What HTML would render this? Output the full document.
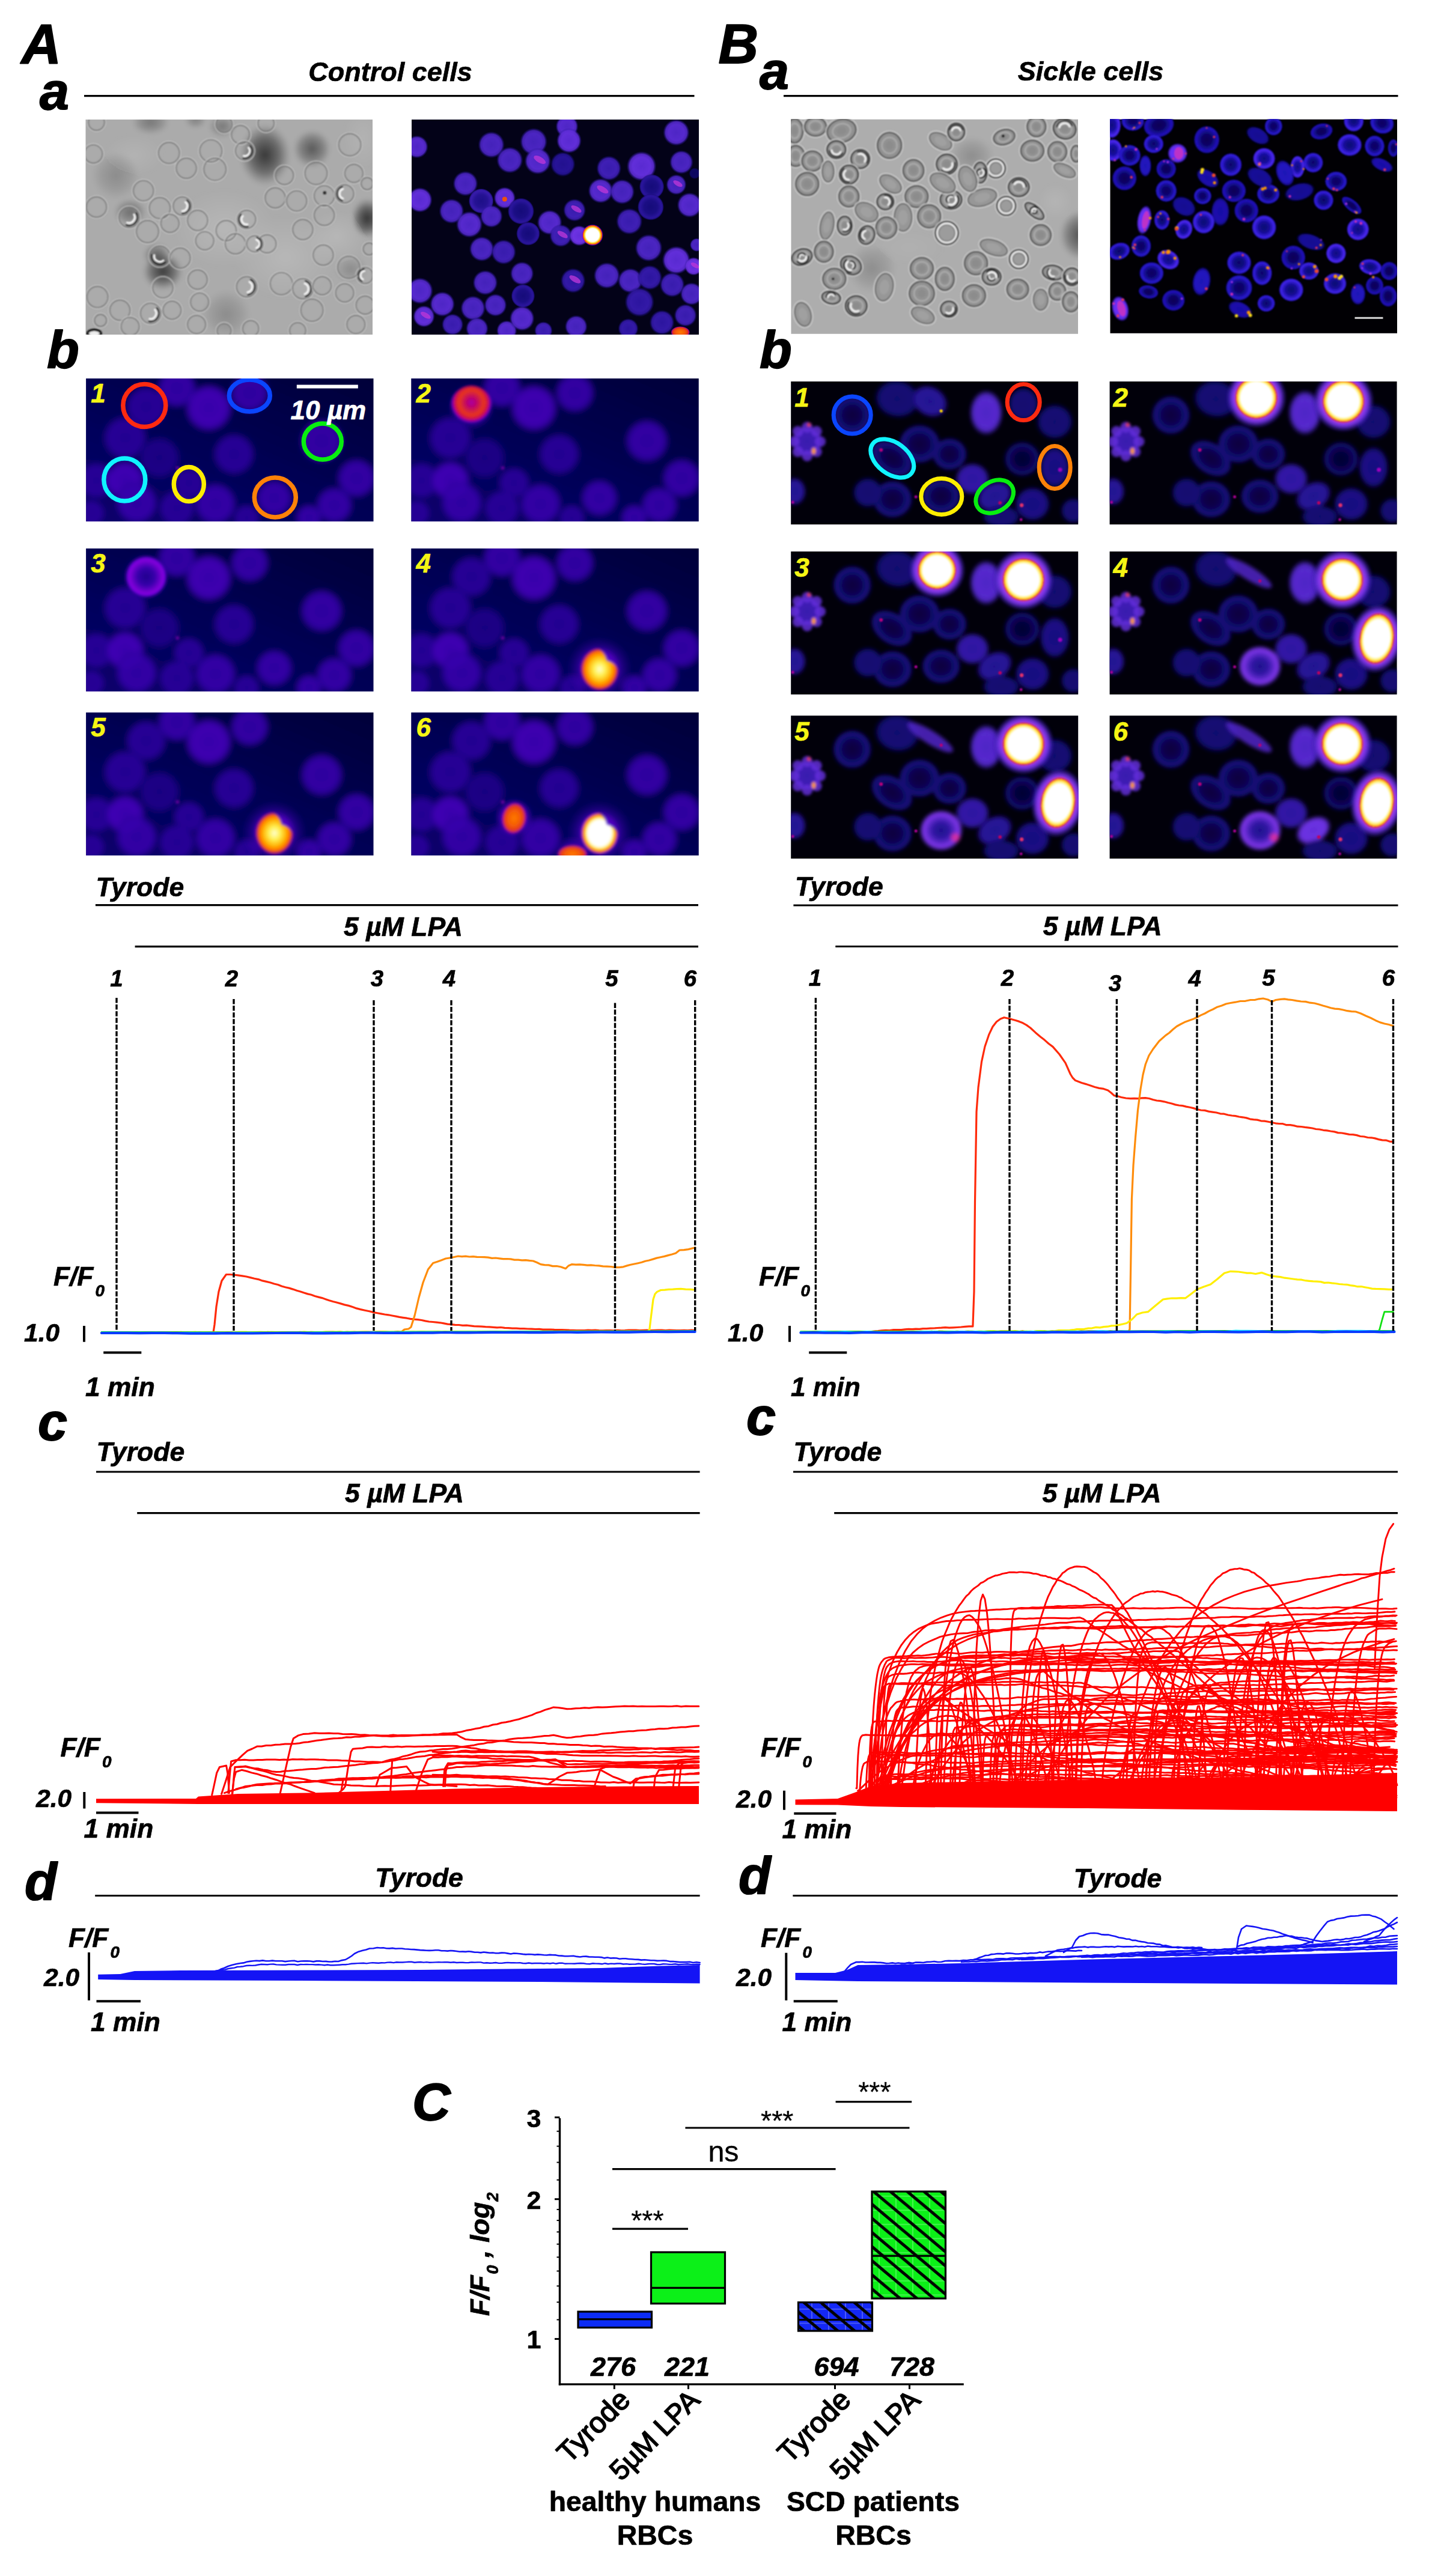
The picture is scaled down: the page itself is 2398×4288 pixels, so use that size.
<!DOCTYPE html>
<html lang="en"><head><meta charset="utf-8"><title>Figure: LPA-induced calcium signals in control and sickle red blood cells</title>
<style>
html,body{margin:0;padding:0;background:#fff;}
body{width:2398px;height:4288px;overflow:hidden;}
svg#fig{display:block;position:absolute;left:0;top:0;}
svg text{font-family:"Liberation Sans",sans-serif;}
</style></head><body>
<svg id="fig" width="2398" height="4288" viewBox="0 0 2398 4288">
<rect width="2398" height="4288" fill="#fff"/>
<defs>
<filter id="bl0_8" x="-20%" y="-20%" width="140%" height="140%"><feGaussianBlur stdDeviation="0.8"/></filter>
<filter id="bl1_2" x="-20%" y="-20%" width="140%" height="140%"><feGaussianBlur stdDeviation="1.2"/></filter>
<filter id="bl2" x="-20%" y="-20%" width="140%" height="140%"><feGaussianBlur stdDeviation="2"/></filter>
<filter id="bl3" x="-20%" y="-20%" width="140%" height="140%"><feGaussianBlur stdDeviation="3"/></filter>
<filter id="bl5" x="-20%" y="-20%" width="140%" height="140%"><feGaussianBlur stdDeviation="5"/></filter>
<filter id="bl8" x="-20%" y="-20%" width="140%" height="140%"><feGaussianBlur stdDeviation="8"/></filter>
<filter id="bl14" x="-20%" y="-20%" width="140%" height="140%"><feGaussianBlur stdDeviation="14"/></filter>
<radialGradient id="fcF14"><stop offset="0" stop-color="#000053" stop-opacity="1"/><stop offset="0.6" stop-color="#000057" stop-opacity="1"/><stop offset="0.8" stop-color="#000055" stop-opacity="0.9"/><stop offset="1" stop-color="#00003e" stop-opacity="0"/></radialGradient>
<radialGradient id="fsF14"><stop offset="0" stop-color="#000049" stop-opacity="1"/><stop offset="0.5" stop-color="#00004e" stop-opacity="1"/><stop offset="0.8" stop-color="#000059" stop-opacity="1"/><stop offset="0.9" stop-color="#000057" stop-opacity="0.9"/><stop offset="1" stop-color="#000035" stop-opacity="0"/></radialGradient>
<radialGradient id="frF14"><stop offset="0" stop-color="#000035" stop-opacity="1"/><stop offset="0.4" stop-color="#00003f" stop-opacity="1"/><stop offset="0.8" stop-color="#00005d" stop-opacity="1"/><stop offset="0.9" stop-color="#000057" stop-opacity="0.9"/><stop offset="1" stop-color="#000035" stop-opacity="0"/></radialGradient>
<radialGradient id="fcF18"><stop offset="0" stop-color="#030063" stop-opacity="1"/><stop offset="0.6" stop-color="#070068" stop-opacity="1"/><stop offset="0.8" stop-color="#050066" stop-opacity="0.9"/><stop offset="1" stop-color="#000049" stop-opacity="0"/></radialGradient>
<radialGradient id="fsF18"><stop offset="0" stop-color="#000057" stop-opacity="1"/><stop offset="0.5" stop-color="#00005d" stop-opacity="1"/><stop offset="0.8" stop-color="#09006b" stop-opacity="1"/><stop offset="0.9" stop-color="#070068" stop-opacity="0.9"/><stop offset="1" stop-color="#000041" stop-opacity="0"/></radialGradient>
<radialGradient id="frF18"><stop offset="0" stop-color="#000041" stop-opacity="1"/><stop offset="0.4" stop-color="#00004a" stop-opacity="1"/><stop offset="0.8" stop-color="#0c0070" stop-opacity="1"/><stop offset="0.9" stop-color="#070068" stop-opacity="0.9"/><stop offset="1" stop-color="#000041" stop-opacity="0"/></radialGradient>
<radialGradient id="fcF22"><stop offset="0" stop-color="#0f0073" stop-opacity="1"/><stop offset="0.6" stop-color="#130079" stop-opacity="1"/><stop offset="0.8" stop-color="#110076" stop-opacity="0.9"/><stop offset="1" stop-color="#000053" stop-opacity="0"/></radialGradient>
<radialGradient id="fsF22"><stop offset="0" stop-color="#040064" stop-opacity="1"/><stop offset="0.5" stop-color="#09006c" stop-opacity="1"/><stop offset="0.8" stop-color="#15007d" stop-opacity="1"/><stop offset="0.9" stop-color="#130079" stop-opacity="0.9"/><stop offset="1" stop-color="#00004a" stop-opacity="0"/></radialGradient>
<radialGradient id="frF22"><stop offset="0" stop-color="#00004a" stop-opacity="1"/><stop offset="0.4" stop-color="#000055" stop-opacity="1"/><stop offset="0.8" stop-color="#190082" stop-opacity="1"/><stop offset="0.9" stop-color="#130079" stop-opacity="0.9"/><stop offset="1" stop-color="#00004a" stop-opacity="0"/></radialGradient>
<radialGradient id="fcF26"><stop offset="0" stop-color="#1a0083" stop-opacity="1"/><stop offset="0.6" stop-color="#1f008a" stop-opacity="1"/><stop offset="0.8" stop-color="#1c0087" stop-opacity="0.9"/><stop offset="1" stop-color="#00005e" stop-opacity="0"/></radialGradient>
<radialGradient id="fsF26"><stop offset="0" stop-color="#0d0072" stop-opacity="1"/><stop offset="0.5" stop-color="#14007b" stop-opacity="1"/><stop offset="0.8" stop-color="#22008f" stop-opacity="1"/><stop offset="0.9" stop-color="#1f008a" stop-opacity="0.9"/><stop offset="1" stop-color="#000052" stop-opacity="0"/></radialGradient>
<radialGradient id="frF26"><stop offset="0" stop-color="#000052" stop-opacity="1"/><stop offset="0.4" stop-color="#010060" stop-opacity="1"/><stop offset="0.8" stop-color="#260096" stop-opacity="1"/><stop offset="0.9" stop-color="#1f008a" stop-opacity="0.9"/><stop offset="1" stop-color="#000052" stop-opacity="0"/></radialGradient>
<radialGradient id="fcF30"><stop offset="0" stop-color="#250094" stop-opacity="1"/><stop offset="0.6" stop-color="#2b009c" stop-opacity="1"/><stop offset="0.8" stop-color="#280098" stop-opacity="0.9"/><stop offset="1" stop-color="#070068" stop-opacity="0"/></radialGradient>
<radialGradient id="fsF30"><stop offset="0" stop-color="#17007f" stop-opacity="1"/><stop offset="0.5" stop-color="#1e0089" stop-opacity="1"/><stop offset="0.8" stop-color="#2e00a1" stop-opacity="1"/><stop offset="0.9" stop-color="#2b009c" stop-opacity="0.9"/><stop offset="1" stop-color="#00005b" stop-opacity="0"/></radialGradient>
<radialGradient id="frF30"><stop offset="0" stop-color="#00005b" stop-opacity="1"/><stop offset="0.4" stop-color="#08006b" stop-opacity="1"/><stop offset="0.8" stop-color="#3400a8" stop-opacity="1"/><stop offset="0.9" stop-color="#2b009c" stop-opacity="0.9"/><stop offset="1" stop-color="#00005b" stop-opacity="0"/></radialGradient>
<radialGradient id="fcF34"><stop offset="0" stop-color="#3000a4" stop-opacity="1"/><stop offset="0.6" stop-color="#3700ab" stop-opacity="1"/><stop offset="0.8" stop-color="#3300a8" stop-opacity="0.9"/><stop offset="1" stop-color="#0e0072" stop-opacity="0"/></radialGradient>
<radialGradient id="fsF34"><stop offset="0" stop-color="#20008d" stop-opacity="1"/><stop offset="0.5" stop-color="#280098" stop-opacity="1"/><stop offset="0.8" stop-color="#3b00b0" stop-opacity="1"/><stop offset="0.9" stop-color="#3700ab" stop-opacity="0.9"/><stop offset="1" stop-color="#040064" stop-opacity="0"/></radialGradient>
<radialGradient id="frF34"><stop offset="0" stop-color="#040064" stop-opacity="1"/><stop offset="0.4" stop-color="#100075" stop-opacity="1"/><stop offset="0.8" stop-color="#4100b7" stop-opacity="1"/><stop offset="0.9" stop-color="#3700ab" stop-opacity="0.9"/><stop offset="1" stop-color="#040064" stop-opacity="0"/></radialGradient>
<radialGradient id="fcF38"><stop offset="0" stop-color="#3c00b1" stop-opacity="1"/><stop offset="0.6" stop-color="#4300b9" stop-opacity="1"/><stop offset="0.8" stop-color="#3f00b5" stop-opacity="0.9"/><stop offset="1" stop-color="#15007c" stop-opacity="0"/></radialGradient>
<radialGradient id="fsF38"><stop offset="0" stop-color="#29009a" stop-opacity="1"/><stop offset="0.5" stop-color="#3300a7" stop-opacity="1"/><stop offset="0.8" stop-color="#4700be" stop-opacity="1"/><stop offset="0.9" stop-color="#4300b9" stop-opacity="0.9"/><stop offset="1" stop-color="#0a006c" stop-opacity="0"/></radialGradient>
<radialGradient id="frF38"><stop offset="0" stop-color="#0a006c" stop-opacity="1"/><stop offset="0.4" stop-color="#170080" stop-opacity="1"/><stop offset="0.8" stop-color="#4e00c6" stop-opacity="1"/><stop offset="0.9" stop-color="#4300b9" stop-opacity="0.9"/><stop offset="1" stop-color="#0a006c" stop-opacity="0"/></radialGradient>
<radialGradient id="fcF42"><stop offset="0" stop-color="#4700be" stop-opacity="1"/><stop offset="0.6" stop-color="#4f00c7" stop-opacity="1"/><stop offset="0.8" stop-color="#4b00c2" stop-opacity="0.9"/><stop offset="1" stop-color="#1c0087" stop-opacity="0"/></radialGradient>
<radialGradient id="fsF42"><stop offset="0" stop-color="#3300a7" stop-opacity="1"/><stop offset="0.5" stop-color="#3d00b2" stop-opacity="1"/><stop offset="0.8" stop-color="#5400cc" stop-opacity="1"/><stop offset="0.9" stop-color="#4f00c7" stop-opacity="0.9"/><stop offset="1" stop-color="#100075" stop-opacity="0"/></radialGradient>
<radialGradient id="frF42"><stop offset="0" stop-color="#100075" stop-opacity="1"/><stop offset="0.4" stop-color="#1f008a" stop-opacity="1"/><stop offset="0.8" stop-color="#5c00d5" stop-opacity="1"/><stop offset="0.9" stop-color="#4f00c7" stop-opacity="0.9"/><stop offset="1" stop-color="#100075" stop-opacity="0"/></radialGradient>
<radialGradient id="fcF46"><stop offset="0" stop-color="#5300cb" stop-opacity="1"/><stop offset="0.6" stop-color="#5b00d5" stop-opacity="1"/><stop offset="0.8" stop-color="#5700d0" stop-opacity="0.9"/><stop offset="1" stop-color="#230091" stop-opacity="0"/></radialGradient>
<radialGradient id="fsF46"><stop offset="0" stop-color="#3c00b2" stop-opacity="1"/><stop offset="0.5" stop-color="#4700be" stop-opacity="1"/><stop offset="0.8" stop-color="#6100db" stop-opacity="1"/><stop offset="0.9" stop-color="#5b00d5" stop-opacity="0.9"/><stop offset="1" stop-color="#16007d" stop-opacity="0"/></radialGradient>
<radialGradient id="frF46"><stop offset="0" stop-color="#16007d" stop-opacity="1"/><stop offset="0.4" stop-color="#260095" stop-opacity="1"/><stop offset="0.8" stop-color="#6900de" stop-opacity="1"/><stop offset="0.9" stop-color="#5b00d5" stop-opacity="0.9"/><stop offset="1" stop-color="#16007d" stop-opacity="0"/></radialGradient>
<radialGradient id="fcF50"><stop offset="0" stop-color="#5e00d8" stop-opacity="1"/><stop offset="0.6" stop-color="#6800dd" stop-opacity="1"/><stop offset="0.8" stop-color="#6300dc" stop-opacity="0.9"/><stop offset="1" stop-color="#2b009c" stop-opacity="0"/></radialGradient>
<radialGradient id="fsF50"><stop offset="0" stop-color="#4600bc" stop-opacity="1"/><stop offset="0.5" stop-color="#5200ca" stop-opacity="1"/><stop offset="0.8" stop-color="#6e00df" stop-opacity="1"/><stop offset="0.9" stop-color="#6800dd" stop-opacity="0.9"/><stop offset="1" stop-color="#1c0086" stop-opacity="0"/></radialGradient>
<radialGradient id="frF50"><stop offset="0" stop-color="#1c0086" stop-opacity="1"/><stop offset="0.4" stop-color="#2e00a0" stop-opacity="1"/><stop offset="0.8" stop-color="#7700e2" stop-opacity="1"/><stop offset="0.9" stop-color="#6800dd" stop-opacity="0.9"/><stop offset="1" stop-color="#1c0086" stop-opacity="0"/></radialGradient>
<radialGradient id="fcF54"><stop offset="0" stop-color="#6a00de" stop-opacity="1"/><stop offset="0.6" stop-color="#7400e1" stop-opacity="1"/><stop offset="0.8" stop-color="#6f00df" stop-opacity="0.9"/><stop offset="1" stop-color="#3200a6" stop-opacity="0"/></radialGradient>
<radialGradient id="fsF54"><stop offset="0" stop-color="#4f00c7" stop-opacity="1"/><stop offset="0.5" stop-color="#5d00d6" stop-opacity="1"/><stop offset="0.8" stop-color="#7a00e2" stop-opacity="1"/><stop offset="0.9" stop-color="#7400e1" stop-opacity="0.9"/><stop offset="1" stop-color="#22008f" stop-opacity="0"/></radialGradient>
<radialGradient id="frF54"><stop offset="0" stop-color="#22008f" stop-opacity="1"/><stop offset="0.4" stop-color="#3500a9" stop-opacity="1"/><stop offset="0.8" stop-color="#8400db" stop-opacity="1"/><stop offset="0.9" stop-color="#7400e1" stop-opacity="0.9"/><stop offset="1" stop-color="#22008f" stop-opacity="0"/></radialGradient>
<radialGradient id="fcF58"><stop offset="0" stop-color="#7500e1" stop-opacity="1"/><stop offset="0.6" stop-color="#8000de" stop-opacity="1"/><stop offset="0.8" stop-color="#7a00e2" stop-opacity="0.9"/><stop offset="1" stop-color="#3900ae" stop-opacity="0"/></radialGradient>
<radialGradient id="fsF58"><stop offset="0" stop-color="#5900d2" stop-opacity="1"/><stop offset="0.5" stop-color="#6700dd" stop-opacity="1"/><stop offset="0.8" stop-color="#8600d9" stop-opacity="1"/><stop offset="0.9" stop-color="#8000de" stop-opacity="0.9"/><stop offset="1" stop-color="#280097" stop-opacity="0"/></radialGradient>
<radialGradient id="frF58"><stop offset="0" stop-color="#280097" stop-opacity="1"/><stop offset="0.4" stop-color="#3c00b2" stop-opacity="1"/><stop offset="0.8" stop-color="#9100d2" stop-opacity="1"/><stop offset="0.9" stop-color="#8000de" stop-opacity="0.9"/><stop offset="1" stop-color="#280097" stop-opacity="0"/></radialGradient>
<radialGradient id="fcF62"><stop offset="0" stop-color="#8000de" stop-opacity="1"/><stop offset="0.6" stop-color="#8c00d6" stop-opacity="1"/><stop offset="0.8" stop-color="#8600da" stop-opacity="0.9"/><stop offset="1" stop-color="#4000b6" stop-opacity="0"/></radialGradient>
<radialGradient id="fsF62"><stop offset="0" stop-color="#6300dc" stop-opacity="1"/><stop offset="0.5" stop-color="#7100e0" stop-opacity="1"/><stop offset="0.8" stop-color="#9200d0" stop-opacity="1"/><stop offset="0.9" stop-color="#8c00d6" stop-opacity="0.9"/><stop offset="1" stop-color="#2e00a0" stop-opacity="0"/></radialGradient>
<radialGradient id="frF62"><stop offset="0" stop-color="#2e00a0" stop-opacity="1"/><stop offset="0.4" stop-color="#4400ba" stop-opacity="1"/><stop offset="0.8" stop-color="#9a00c2" stop-opacity="1"/><stop offset="0.9" stop-color="#8c00d6" stop-opacity="0.9"/><stop offset="1" stop-color="#2e00a0" stop-opacity="0"/></radialGradient>
<radialGradient id="fcF70"><stop offset="0" stop-color="#9500cb" stop-opacity="1"/><stop offset="0.6" stop-color="#9e00bc" stop-opacity="1"/><stop offset="0.8" stop-color="#9900c3" stop-opacity="0.9"/><stop offset="1" stop-color="#4f00c7" stop-opacity="0"/></radialGradient>
<radialGradient id="fsF70"><stop offset="0" stop-color="#7500e1" stop-opacity="1"/><stop offset="0.5" stop-color="#8600da" stop-opacity="1"/><stop offset="0.8" stop-color="#a300b2" stop-opacity="1"/><stop offset="0.9" stop-color="#9e00bc" stop-opacity="0.9"/><stop offset="1" stop-color="#3a00af" stop-opacity="0"/></radialGradient>
<radialGradient id="frF70"><stop offset="0" stop-color="#3a00af" stop-opacity="1"/><stop offset="0.4" stop-color="#5300cb" stop-opacity="1"/><stop offset="0.8" stop-color="#a800a2" stop-opacity="1"/><stop offset="0.9" stop-color="#9e00bc" stop-opacity="0.9"/><stop offset="1" stop-color="#3a00af" stop-opacity="0"/></radialGradient>
<radialGradient id="fcP14"><stop offset="0" stop-color="#07044a" stop-opacity="1"/><stop offset="0.6" stop-color="#08054e" stop-opacity="1"/><stop offset="0.8" stop-color="#08044c" stop-opacity="0.9"/><stop offset="1" stop-color="#04022f" stop-opacity="0"/></radialGradient>
<radialGradient id="fsP14"><stop offset="0" stop-color="#06033d" stop-opacity="1"/><stop offset="0.5" stop-color="#070443" stop-opacity="1"/><stop offset="0.8" stop-color="#080551" stop-opacity="1"/><stop offset="0.9" stop-color="#08054e" stop-opacity="0.9"/><stop offset="1" stop-color="#030128" stop-opacity="0"/></radialGradient>
<radialGradient id="frP14"><stop offset="0" stop-color="#030128" stop-opacity="1"/><stop offset="0.4" stop-color="#040230" stop-opacity="1"/><stop offset="0.8" stop-color="#090556" stop-opacity="1"/><stop offset="0.9" stop-color="#08054e" stop-opacity="0.9"/><stop offset="1" stop-color="#030128" stop-opacity="0"/></radialGradient>
<radialGradient id="fcP18"><stop offset="0" stop-color="#0b065e" stop-opacity="1"/><stop offset="0.6" stop-color="#0d0762" stop-opacity="1"/><stop offset="0.8" stop-color="#0c0760" stop-opacity="0.9"/><stop offset="1" stop-color="#06033c" stop-opacity="0"/></radialGradient>
<radialGradient id="fsP18"><stop offset="0" stop-color="#08054e" stop-opacity="1"/><stop offset="0.5" stop-color="#090557" stop-opacity="1"/><stop offset="0.8" stop-color="#0e0865" stop-opacity="1"/><stop offset="0.9" stop-color="#0d0762" stop-opacity="0.9"/><stop offset="1" stop-color="#040232" stop-opacity="0"/></radialGradient>
<radialGradient id="frP18"><stop offset="0" stop-color="#040232" stop-opacity="1"/><stop offset="0.4" stop-color="#06033e" stop-opacity="1"/><stop offset="0.8" stop-color="#0f086a" stop-opacity="1"/><stop offset="0.9" stop-color="#0d0762" stop-opacity="0.9"/><stop offset="1" stop-color="#040232" stop-opacity="0"/></radialGradient>
<radialGradient id="fcP22"><stop offset="0" stop-color="#11096e" stop-opacity="1"/><stop offset="0.6" stop-color="#130a74" stop-opacity="1"/><stop offset="0.8" stop-color="#120a71" stop-opacity="0.9"/><stop offset="1" stop-color="#07044a" stop-opacity="0"/></radialGradient>
<radialGradient id="fsP22"><stop offset="0" stop-color="#0b065f" stop-opacity="1"/><stop offset="0.5" stop-color="#0e0866" stop-opacity="1"/><stop offset="0.8" stop-color="#140b78" stop-opacity="1"/><stop offset="0.9" stop-color="#130a74" stop-opacity="0.9"/><stop offset="1" stop-color="#06033d" stop-opacity="0"/></radialGradient>
<radialGradient id="frP22"><stop offset="0" stop-color="#06033d" stop-opacity="1"/><stop offset="0.4" stop-color="#08044c" stop-opacity="1"/><stop offset="0.8" stop-color="#160c7d" stop-opacity="1"/><stop offset="0.9" stop-color="#130a74" stop-opacity="0.9"/><stop offset="1" stop-color="#06033d" stop-opacity="0"/></radialGradient>
<radialGradient id="fcP26"><stop offset="0" stop-color="#170c7e" stop-opacity="1"/><stop offset="0.6" stop-color="#1b0e85" stop-opacity="1"/><stop offset="0.8" stop-color="#190d82" stop-opacity="0.9"/><stop offset="1" stop-color="#090557" stop-opacity="0"/></radialGradient>
<radialGradient id="fsP26"><stop offset="0" stop-color="#10096c" stop-opacity="1"/><stop offset="0.5" stop-color="#130a75" stop-opacity="1"/><stop offset="0.8" stop-color="#1e0f8a" stop-opacity="1"/><stop offset="0.9" stop-color="#1b0e85" stop-opacity="0.9"/><stop offset="1" stop-color="#070449" stop-opacity="0"/></radialGradient>
<radialGradient id="frP26"><stop offset="0" stop-color="#070449" stop-opacity="1"/><stop offset="0.4" stop-color="#0a065a" stop-opacity="1"/><stop offset="0.8" stop-color="#231191" stop-opacity="1"/><stop offset="0.9" stop-color="#1b0e85" stop-opacity="0.9"/><stop offset="1" stop-color="#070449" stop-opacity="0"/></radialGradient>
<radialGradient id="fcP30"><stop offset="0" stop-color="#22118f" stop-opacity="1"/><stop offset="0.6" stop-color="#271397" stop-opacity="1"/><stop offset="0.8" stop-color="#241293" stop-opacity="0.9"/><stop offset="1" stop-color="#0d0762" stop-opacity="0"/></radialGradient>
<radialGradient id="fsP30"><stop offset="0" stop-color="#150b7a" stop-opacity="1"/><stop offset="0.5" stop-color="#1b0e84" stop-opacity="1"/><stop offset="0.8" stop-color="#2a159c" stop-opacity="1"/><stop offset="0.9" stop-color="#271397" stop-opacity="0.9"/><stop offset="1" stop-color="#090554" stop-opacity="0"/></radialGradient>
<radialGradient id="frP30"><stop offset="0" stop-color="#090554" stop-opacity="1"/><stop offset="0.4" stop-color="#0d0765" stop-opacity="1"/><stop offset="0.8" stop-color="#3017a3" stop-opacity="1"/><stop offset="0.9" stop-color="#271397" stop-opacity="0.9"/><stop offset="1" stop-color="#090554" stop-opacity="0"/></radialGradient>
<radialGradient id="fcP34"><stop offset="0" stop-color="#2c159f" stop-opacity="1"/><stop offset="0.6" stop-color="#3319a7" stop-opacity="1"/><stop offset="0.8" stop-color="#3017a3" stop-opacity="0.9"/><stop offset="1" stop-color="#10096d" stop-opacity="0"/></radialGradient>
<radialGradient id="fsP34"><stop offset="0" stop-color="#1d0f88" stop-opacity="1"/><stop offset="0.5" stop-color="#251293" stop-opacity="1"/><stop offset="0.8" stop-color="#371bab" stop-opacity="1"/><stop offset="0.9" stop-color="#3319a7" stop-opacity="0.9"/><stop offset="1" stop-color="#0b065e" stop-opacity="0"/></radialGradient>
<radialGradient id="frP34"><stop offset="0" stop-color="#0b065e" stop-opacity="1"/><stop offset="0.4" stop-color="#110970" stop-opacity="1"/><stop offset="0.8" stop-color="#3d1eb2" stop-opacity="1"/><stop offset="0.9" stop-color="#3319a7" stop-opacity="0.9"/><stop offset="1" stop-color="#0b065e" stop-opacity="0"/></radialGradient>
<radialGradient id="fcP38"><stop offset="0" stop-color="#381cad" stop-opacity="1"/><stop offset="0.6" stop-color="#3f1fb5" stop-opacity="1"/><stop offset="0.8" stop-color="#3c1db1" stop-opacity="0.9"/><stop offset="1" stop-color="#140b77" stop-opacity="0"/></radialGradient>
<radialGradient id="fsP38"><stop offset="0" stop-color="#261395" stop-opacity="1"/><stop offset="0.5" stop-color="#2f17a2" stop-opacity="1"/><stop offset="0.8" stop-color="#4422ba" stop-opacity="1"/><stop offset="0.9" stop-color="#3f1fb5" stop-opacity="0.9"/><stop offset="1" stop-color="#0e0867" stop-opacity="0"/></radialGradient>
<radialGradient id="frP38"><stop offset="0" stop-color="#0e0867" stop-opacity="1"/><stop offset="0.4" stop-color="#150b7b" stop-opacity="1"/><stop offset="0.8" stop-color="#4a25c1" stop-opacity="1"/><stop offset="0.9" stop-color="#3f1fb5" stop-opacity="0.9"/><stop offset="1" stop-color="#0e0867" stop-opacity="0"/></radialGradient>
<radialGradient id="fcP42"><stop offset="0" stop-color="#4422ba" stop-opacity="1"/><stop offset="0.6" stop-color="#4b25c2" stop-opacity="1"/><stop offset="0.8" stop-color="#4823be" stop-opacity="0.9"/><stop offset="1" stop-color="#190d82" stop-opacity="0"/></radialGradient>
<radialGradient id="fsP42"><stop offset="0" stop-color="#2f17a2" stop-opacity="1"/><stop offset="0.5" stop-color="#391cae" stop-opacity="1"/><stop offset="0.8" stop-color="#5027c7" stop-opacity="1"/><stop offset="0.9" stop-color="#4b25c2" stop-opacity="0.9"/><stop offset="1" stop-color="#11096f" stop-opacity="0"/></radialGradient>
<radialGradient id="frP42"><stop offset="0" stop-color="#11096f" stop-opacity="1"/><stop offset="0.4" stop-color="#1b0e85" stop-opacity="1"/><stop offset="0.8" stop-color="#5729ce" stop-opacity="1"/><stop offset="0.9" stop-color="#4b25c2" stop-opacity="0.9"/><stop offset="1" stop-color="#11096f" stop-opacity="0"/></radialGradient>
<radialGradient id="fcP46"><stop offset="0" stop-color="#4e26c5" stop-opacity="1"/><stop offset="0.6" stop-color="#5629ce" stop-opacity="1"/><stop offset="0.8" stop-color="#5228c9" stop-opacity="0.9"/><stop offset="1" stop-color="#20108c" stop-opacity="0"/></radialGradient>
<radialGradient id="fsP46"><stop offset="0" stop-color="#391cad" stop-opacity="1"/><stop offset="0.5" stop-color="#4422ba" stop-opacity="1"/><stop offset="0.8" stop-color="#5b2bd3" stop-opacity="1"/><stop offset="0.9" stop-color="#5629ce" stop-opacity="0.9"/><stop offset="1" stop-color="#140b78" stop-opacity="0"/></radialGradient>
<radialGradient id="frP46"><stop offset="0" stop-color="#140b78" stop-opacity="1"/><stop offset="0.4" stop-color="#221190" stop-opacity="1"/><stop offset="0.8" stop-color="#632eda" stop-opacity="1"/><stop offset="0.9" stop-color="#5629ce" stop-opacity="0.9"/><stop offset="1" stop-color="#140b78" stop-opacity="0"/></radialGradient>
<radialGradient id="fcP50"><stop offset="0" stop-color="#592ad1" stop-opacity="1"/><stop offset="0.6" stop-color="#612ed9" stop-opacity="1"/><stop offset="0.8" stop-color="#5d2cd5" stop-opacity="0.9"/><stop offset="1" stop-color="#271397" stop-opacity="0"/></radialGradient>
<radialGradient id="fsP50"><stop offset="0" stop-color="#4221b8" stop-opacity="1"/><stop offset="0.5" stop-color="#4e26c5" stop-opacity="1"/><stop offset="0.8" stop-color="#6730de" stop-opacity="1"/><stop offset="0.9" stop-color="#612ed9" stop-opacity="0.9"/><stop offset="1" stop-color="#180d81" stop-opacity="0"/></radialGradient>
<radialGradient id="frP50"><stop offset="0" stop-color="#180d81" stop-opacity="1"/><stop offset="0.4" stop-color="#2a149b" stop-opacity="1"/><stop offset="0.8" stop-color="#7033e5" stop-opacity="1"/><stop offset="0.9" stop-color="#612ed9" stop-opacity="0.9"/><stop offset="1" stop-color="#180d81" stop-opacity="0"/></radialGradient>
<radialGradient id="fcP54"><stop offset="0" stop-color="#632eda" stop-opacity="1"/><stop offset="0.6" stop-color="#6d32e3" stop-opacity="1"/><stop offset="0.8" stop-color="#6830de" stop-opacity="0.9"/><stop offset="1" stop-color="#2e16a1" stop-opacity="0"/></radialGradient>
<radialGradient id="fsP54"><stop offset="0" stop-color="#4b25c2" stop-opacity="1"/><stop offset="0.5" stop-color="#572acf" stop-opacity="1"/><stop offset="0.8" stop-color="#7334e8" stop-opacity="1"/><stop offset="0.9" stop-color="#6d32e3" stop-opacity="0.9"/><stop offset="1" stop-color="#1e0f8a" stop-opacity="0"/></radialGradient>
<radialGradient id="frP54"><stop offset="0" stop-color="#1e0f8a" stop-opacity="1"/><stop offset="0.4" stop-color="#3118a5" stop-opacity="1"/><stop offset="0.8" stop-color="#8136e9" stop-opacity="1"/><stop offset="0.9" stop-color="#6d32e3" stop-opacity="0.9"/><stop offset="1" stop-color="#1e0f8a" stop-opacity="0"/></radialGradient>
<radialGradient id="fcP58"><stop offset="0" stop-color="#6e32e4" stop-opacity="1"/><stop offset="0.6" stop-color="#7b35e8" stop-opacity="1"/><stop offset="0.8" stop-color="#7434e8" stop-opacity="0.9"/><stop offset="1" stop-color="#351aa9" stop-opacity="0"/></radialGradient>
<radialGradient id="fsP58"><stop offset="0" stop-color="#5428cb" stop-opacity="1"/><stop offset="0.5" stop-color="#612dd8" stop-opacity="1"/><stop offset="0.8" stop-color="#8537e9" stop-opacity="1"/><stop offset="0.9" stop-color="#7b35e8" stop-opacity="0.9"/><stop offset="1" stop-color="#241292" stop-opacity="0"/></radialGradient>
<radialGradient id="frP58"><stop offset="0" stop-color="#241292" stop-opacity="1"/><stop offset="0.4" stop-color="#391cad" stop-opacity="1"/><stop offset="0.8" stop-color="#9539ea" stop-opacity="1"/><stop offset="0.9" stop-color="#7b35e8" stop-opacity="0.9"/><stop offset="1" stop-color="#241292" stop-opacity="0"/></radialGradient>
<radialGradient id="fcP62"><stop offset="0" stop-color="#7c35e8" stop-opacity="1"/><stop offset="0.6" stop-color="#8d38ea" stop-opacity="1"/><stop offset="0.8" stop-color="#8537e9" stop-opacity="0.9"/><stop offset="1" stop-color="#3d1eb2" stop-opacity="0"/></radialGradient>
<radialGradient id="fsP62"><stop offset="0" stop-color="#5d2cd4" stop-opacity="1"/><stop offset="0.5" stop-color="#6b31e1" stop-opacity="1"/><stop offset="0.8" stop-color="#9839e9" stop-opacity="1"/><stop offset="0.9" stop-color="#8d38ea" stop-opacity="0.9"/><stop offset="1" stop-color="#2a149b" stop-opacity="0"/></radialGradient>
<radialGradient id="frP62"><stop offset="0" stop-color="#2a149b" stop-opacity="1"/><stop offset="0.4" stop-color="#4120b6" stop-opacity="1"/><stop offset="0.8" stop-color="#a838e0" stop-opacity="1"/><stop offset="0.9" stop-color="#8d38ea" stop-opacity="0.9"/><stop offset="1" stop-color="#2a149b" stop-opacity="0"/></radialGradient>
<radialGradient id="fcP70"><stop offset="0" stop-color="#9d39e6" stop-opacity="1"/><stop offset="0.6" stop-color="#b037dc" stop-opacity="1"/><stop offset="0.8" stop-color="#a738e1" stop-opacity="0.9"/><stop offset="1" stop-color="#4b25c2" stop-opacity="0"/></radialGradient>
<radialGradient id="fsP70"><stop offset="0" stop-color="#6e32e4" stop-opacity="1"/><stop offset="0.5" stop-color="#8537e9" stop-opacity="1"/><stop offset="0.8" stop-color="#bb36d3" stop-opacity="1"/><stop offset="0.9" stop-color="#b037dc" stop-opacity="0.9"/><stop offset="1" stop-color="#361aaa" stop-opacity="0"/></radialGradient>
<radialGradient id="frP70"><stop offset="0" stop-color="#361aaa" stop-opacity="1"/><stop offset="0.4" stop-color="#4f26c6" stop-opacity="1"/><stop offset="0.8" stop-color="#c833c1" stop-opacity="1"/><stop offset="0.9" stop-color="#b037dc" stop-opacity="0.9"/><stop offset="1" stop-color="#361aaa" stop-opacity="0"/></radialGradient>
<radialGradient id="fcB14"><stop offset="0" stop-color="#060241" stop-opacity="1"/><stop offset="0.6" stop-color="#060346" stop-opacity="1"/><stop offset="0.8" stop-color="#060343" stop-opacity="0.9"/><stop offset="1" stop-color="#03012a" stop-opacity="0"/></radialGradient>
<radialGradient id="fsB14"><stop offset="0" stop-color="#040236" stop-opacity="1"/><stop offset="0.5" stop-color="#05023c" stop-opacity="1"/><stop offset="0.8" stop-color="#070348" stop-opacity="1"/><stop offset="0.9" stop-color="#060346" stop-opacity="0.9"/><stop offset="1" stop-color="#020023" stop-opacity="0"/></radialGradient>
<radialGradient id="frB14"><stop offset="0" stop-color="#020023" stop-opacity="1"/><stop offset="0.4" stop-color="#03012b" stop-opacity="1"/><stop offset="0.8" stop-color="#07034d" stop-opacity="1"/><stop offset="0.9" stop-color="#060346" stop-opacity="0.9"/><stop offset="1" stop-color="#020023" stop-opacity="0"/></radialGradient>
<radialGradient id="fcB18"><stop offset="0" stop-color="#080454" stop-opacity="1"/><stop offset="0.6" stop-color="#09055a" stop-opacity="1"/><stop offset="0.8" stop-color="#090457" stop-opacity="0.9"/><stop offset="1" stop-color="#040235" stop-opacity="0"/></radialGradient>
<radialGradient id="fsB18"><stop offset="0" stop-color="#060346" stop-opacity="1"/><stop offset="0.5" stop-color="#07034d" stop-opacity="1"/><stop offset="0.8" stop-color="#0a055d" stop-opacity="1"/><stop offset="0.9" stop-color="#09055a" stop-opacity="0.9"/><stop offset="1" stop-color="#03012d" stop-opacity="0"/></radialGradient>
<radialGradient id="frB18"><stop offset="0" stop-color="#03012d" stop-opacity="1"/><stop offset="0.4" stop-color="#040237" stop-opacity="1"/><stop offset="0.8" stop-color="#0b0563" stop-opacity="1"/><stop offset="0.9" stop-color="#09055a" stop-opacity="0.9"/><stop offset="1" stop-color="#03012d" stop-opacity="0"/></radialGradient>
<radialGradient id="fcB22"><stop offset="0" stop-color="#0c0667" stop-opacity="1"/><stop offset="0.6" stop-color="#0d076e" stop-opacity="1"/><stop offset="0.8" stop-color="#0c066a" stop-opacity="0.9"/><stop offset="1" stop-color="#060242" stop-opacity="0"/></radialGradient>
<radialGradient id="fsB22"><stop offset="0" stop-color="#090455" stop-opacity="1"/><stop offset="0.5" stop-color="#0a055e" stop-opacity="1"/><stop offset="0.8" stop-color="#0e0772" stop-opacity="1"/><stop offset="0.9" stop-color="#0d076e" stop-opacity="0.9"/><stop offset="1" stop-color="#040237" stop-opacity="0"/></radialGradient>
<radialGradient id="frB22"><stop offset="0" stop-color="#040237" stop-opacity="1"/><stop offset="0.4" stop-color="#060344" stop-opacity="1"/><stop offset="0.8" stop-color="#0f0879" stop-opacity="1"/><stop offset="0.9" stop-color="#0d076e" stop-opacity="0.9"/><stop offset="1" stop-color="#040237" stop-opacity="0"/></radialGradient>
<radialGradient id="fcB26"><stop offset="0" stop-color="#0f087a" stop-opacity="1"/><stop offset="0.6" stop-color="#110983" stop-opacity="1"/><stop offset="0.8" stop-color="#10097e" stop-opacity="0.9"/><stop offset="1" stop-color="#07034e" stop-opacity="0"/></radialGradient>
<radialGradient id="fsB26"><stop offset="0" stop-color="#0b0665" stop-opacity="1"/><stop offset="0.5" stop-color="#0d076f" stop-opacity="1"/><stop offset="0.8" stop-color="#120a89" stop-opacity="1"/><stop offset="0.9" stop-color="#110983" stop-opacity="0.9"/><stop offset="1" stop-color="#060241" stop-opacity="0"/></radialGradient>
<radialGradient id="frB26"><stop offset="0" stop-color="#060241" stop-opacity="1"/><stop offset="0.4" stop-color="#080450" stop-opacity="1"/><stop offset="0.8" stop-color="#140c91" stop-opacity="1"/><stop offset="0.9" stop-color="#110983" stop-opacity="0.9"/><stop offset="1" stop-color="#060241" stop-opacity="0"/></radialGradient>
<radialGradient id="fcB30"><stop offset="0" stop-color="#140b8f" stop-opacity="1"/><stop offset="0.6" stop-color="#160d99" stop-opacity="1"/><stop offset="0.8" stop-color="#150c94" stop-opacity="0.9"/><stop offset="1" stop-color="#09055a" stop-opacity="0"/></radialGradient>
<radialGradient id="fsB30"><stop offset="0" stop-color="#0e0775" stop-opacity="1"/><stop offset="0.5" stop-color="#110982" stop-opacity="1"/><stop offset="0.8" stop-color="#180ea0" stop-opacity="1"/><stop offset="0.9" stop-color="#160d99" stop-opacity="0.9"/><stop offset="1" stop-color="#07034b" stop-opacity="0"/></radialGradient>
<radialGradient id="frB30"><stop offset="0" stop-color="#07034b" stop-opacity="1"/><stop offset="0.4" stop-color="#0a055d" stop-opacity="1"/><stop offset="0.8" stop-color="#1a0fa9" stop-opacity="1"/><stop offset="0.9" stop-color="#160d99" stop-opacity="0.9"/><stop offset="1" stop-color="#07034b" stop-opacity="0"/></radialGradient>
<radialGradient id="fcB34"><stop offset="0" stop-color="#180ea4" stop-opacity="1"/><stop offset="0.6" stop-color="#1c10ad" stop-opacity="1"/><stop offset="0.8" stop-color="#1a0fa9" stop-opacity="0.9"/><stop offset="1" stop-color="#0b0666" stop-opacity="0"/></radialGradient>
<radialGradient id="fsB34"><stop offset="0" stop-color="#120a86" stop-opacity="1"/><stop offset="0.5" stop-color="#150c95" stop-opacity="1"/><stop offset="0.8" stop-color="#1e11b3" stop-opacity="1"/><stop offset="0.9" stop-color="#1c10ad" stop-opacity="0.9"/><stop offset="1" stop-color="#080455" stop-opacity="0"/></radialGradient>
<radialGradient id="frB34"><stop offset="0" stop-color="#080455" stop-opacity="1"/><stop offset="0.4" stop-color="#0c0669" stop-opacity="1"/><stop offset="0.8" stop-color="#2113bc" stop-opacity="1"/><stop offset="0.9" stop-color="#1c10ad" stop-opacity="0.9"/><stop offset="1" stop-color="#080455" stop-opacity="0"/></radialGradient>
<radialGradient id="fcB38"><stop offset="0" stop-color="#1f12b5" stop-opacity="1"/><stop offset="0.6" stop-color="#2214bf" stop-opacity="1"/><stop offset="0.8" stop-color="#2013ba" stop-opacity="0.9"/><stop offset="1" stop-color="#0d0772" stop-opacity="0"/></radialGradient>
<radialGradient id="fsB38"><stop offset="0" stop-color="#160c97" stop-opacity="1"/><stop offset="0.5" stop-color="#1a0fa7" stop-opacity="1"/><stop offset="0.8" stop-color="#2515c5" stop-opacity="1"/><stop offset="0.9" stop-color="#2214bf" stop-opacity="0.9"/><stop offset="1" stop-color="#0a055f" stop-opacity="0"/></radialGradient>
<radialGradient id="frB38"><stop offset="0" stop-color="#0a055f" stop-opacity="1"/><stop offset="0.4" stop-color="#0e0775" stop-opacity="1"/><stop offset="0.8" stop-color="#2918ce" stop-opacity="1"/><stop offset="0.9" stop-color="#2214bf" stop-opacity="0.9"/><stop offset="1" stop-color="#0a055f" stop-opacity="0"/></radialGradient>
<radialGradient id="fcB42"><stop offset="0" stop-color="#2515c5" stop-opacity="1"/><stop offset="0.6" stop-color="#2a18cf" stop-opacity="1"/><stop offset="0.8" stop-color="#2716ca" stop-opacity="0.9"/><stop offset="1" stop-color="#10097e" stop-opacity="0"/></radialGradient>
<radialGradient id="fsB42"><stop offset="0" stop-color="#1a0fa8" stop-opacity="1"/><stop offset="0.5" stop-color="#1f12b7" stop-opacity="1"/><stop offset="0.8" stop-color="#2d1ad4" stop-opacity="1"/><stop offset="0.9" stop-color="#2a18cf" stop-opacity="0.9"/><stop offset="1" stop-color="#0c0669" stop-opacity="0"/></radialGradient>
<radialGradient id="frB42"><stop offset="0" stop-color="#0c0669" stop-opacity="1"/><stop offset="0.4" stop-color="#110983" stop-opacity="1"/><stop offset="0.8" stop-color="#331ddd" stop-opacity="1"/><stop offset="0.9" stop-color="#2a18cf" stop-opacity="0.9"/><stop offset="1" stop-color="#0c0669" stop-opacity="0"/></radialGradient>
<radialGradient id="fcB46"><stop offset="0" stop-color="#2c1ad3" stop-opacity="1"/><stop offset="0.6" stop-color="#321ddd" stop-opacity="1"/><stop offset="0.8" stop-color="#2f1bd8" stop-opacity="0.9"/><stop offset="1" stop-color="#130b8c" stop-opacity="0"/></radialGradient>
<radialGradient id="fsB46"><stop offset="0" stop-color="#1f12b5" stop-opacity="1"/><stop offset="0.5" stop-color="#2515c6" stop-opacity="1"/><stop offset="0.8" stop-color="#361fe3" stop-opacity="1"/><stop offset="0.9" stop-color="#321ddd" stop-opacity="0.9"/><stop offset="1" stop-color="#0e0773" stop-opacity="0"/></radialGradient>
<radialGradient id="frB46"><stop offset="0" stop-color="#0e0773" stop-opacity="1"/><stop offset="0.4" stop-color="#140b91" stop-opacity="1"/><stop offset="0.8" stop-color="#3f23e9" stop-opacity="1"/><stop offset="0.9" stop-color="#321ddd" stop-opacity="0.9"/><stop offset="1" stop-color="#0e0773" stop-opacity="0"/></radialGradient>
<radialGradient id="fcB50"><stop offset="0" stop-color="#341ee0" stop-opacity="1"/><stop offset="0.6" stop-color="#3d22e8" stop-opacity="1"/><stop offset="0.8" stop-color="#3820e5" stop-opacity="0.9"/><stop offset="1" stop-color="#160d99" stop-opacity="0"/></radialGradient>
<radialGradient id="fsB50"><stop offset="0" stop-color="#2415c3" stop-opacity="1"/><stop offset="0.5" stop-color="#2c19d2" stop-opacity="1"/><stop offset="0.8" stop-color="#4325ec" stop-opacity="1"/><stop offset="0.9" stop-color="#3d22e8" stop-opacity="0.9"/><stop offset="1" stop-color="#10087d" stop-opacity="0"/></radialGradient>
<radialGradient id="frB50"><stop offset="0" stop-color="#10087d" stop-opacity="1"/><stop offset="0.4" stop-color="#170e9f" stop-opacity="1"/><stop offset="0.8" stop-color="#4c28f2" stop-opacity="1"/><stop offset="0.9" stop-color="#3d22e8" stop-opacity="0.9"/><stop offset="1" stop-color="#10087d" stop-opacity="0"/></radialGradient>
<radialGradient id="fcB54"><stop offset="0" stop-color="#3f23e9" stop-opacity="1"/><stop offset="0.6" stop-color="#4927f0" stop-opacity="1"/><stop offset="0.8" stop-color="#4425ed" stop-opacity="0.9"/><stop offset="1" stop-color="#190fa6" stop-opacity="0"/></radialGradient>
<radialGradient id="fsB54"><stop offset="0" stop-color="#2a18cf" stop-opacity="1"/><stop offset="0.5" stop-color="#331ede" stop-opacity="1"/><stop offset="0.8" stop-color="#502af5" stop-opacity="1"/><stop offset="0.9" stop-color="#4927f0" stop-opacity="0.9"/><stop offset="1" stop-color="#120a88" stop-opacity="0"/></radialGradient>
<radialGradient id="frB54"><stop offset="0" stop-color="#120a88" stop-opacity="1"/><stop offset="0.4" stop-color="#1b10ab" stop-opacity="1"/><stop offset="0.8" stop-color="#5e2df7" stop-opacity="1"/><stop offset="0.9" stop-color="#4927f0" stop-opacity="0.9"/><stop offset="1" stop-color="#120a88" stop-opacity="0"/></radialGradient>
<radialGradient id="fcB58"><stop offset="0" stop-color="#4b28f1" stop-opacity="1"/><stop offset="0.6" stop-color="#582cf6" stop-opacity="1"/><stop offset="0.8" stop-color="#512af5" stop-opacity="0.9"/><stop offset="1" stop-color="#1d11b1" stop-opacity="0"/></radialGradient>
<radialGradient id="fsB58"><stop offset="0" stop-color="#311cda" stop-opacity="1"/><stop offset="0.5" stop-color="#3c22e7" stop-opacity="1"/><stop offset="0.8" stop-color="#622ef7" stop-opacity="1"/><stop offset="0.9" stop-color="#582cf6" stop-opacity="0.9"/><stop offset="1" stop-color="#150c94" stop-opacity="0"/></radialGradient>
<radialGradient id="frB58"><stop offset="0" stop-color="#150c94" stop-opacity="1"/><stop offset="0.4" stop-color="#1f12b6" stop-opacity="1"/><stop offset="0.8" stop-color="#7231f9" stop-opacity="1"/><stop offset="0.9" stop-color="#582cf6" stop-opacity="0.9"/><stop offset="1" stop-color="#150c94" stop-opacity="0"/></radialGradient>
<radialGradient id="fcB62"><stop offset="0" stop-color="#592cf6" stop-opacity="1"/><stop offset="0.6" stop-color="#6a30f8" stop-opacity="1"/><stop offset="0.8" stop-color="#622ef7" stop-opacity="0.9"/><stop offset="1" stop-color="#2113bb" stop-opacity="0"/></radialGradient>
<radialGradient id="fsB62"><stop offset="0" stop-color="#3820e4" stop-opacity="1"/><stop offset="0.5" stop-color="#4726ef" stop-opacity="1"/><stop offset="0.8" stop-color="#7532f9" stop-opacity="1"/><stop offset="0.9" stop-color="#6a30f8" stop-opacity="0.9"/><stop offset="1" stop-color="#170e9f" stop-opacity="0"/></radialGradient>
<radialGradient id="frB62"><stop offset="0" stop-color="#170e9f" stop-opacity="1"/><stop offset="0.4" stop-color="#2314c1" stop-opacity="1"/><stop offset="0.8" stop-color="#8a34f4" stop-opacity="1"/><stop offset="0.9" stop-color="#6a30f8" stop-opacity="0.9"/><stop offset="1" stop-color="#170e9f" stop-opacity="0"/></radialGradient>
<radialGradient id="fcB70"><stop offset="0" stop-color="#7d33f7" stop-opacity="1"/><stop offset="0.6" stop-color="#9435f2" stop-opacity="1"/><stop offset="0.8" stop-color="#8834f5" stop-opacity="0.9"/><stop offset="1" stop-color="#2a18cf" stop-opacity="0"/></radialGradient>
<radialGradient id="fsB70"><stop offset="0" stop-color="#4b28f2" stop-opacity="1"/><stop offset="0.5" stop-color="#622ef7" stop-opacity="1"/><stop offset="0.8" stop-color="#a437ed" stop-opacity="1"/><stop offset="0.9" stop-color="#9435f2" stop-opacity="0.9"/><stop offset="1" stop-color="#1d11b2" stop-opacity="0"/></radialGradient>
<radialGradient id="frB70"><stop offset="0" stop-color="#1d11b2" stop-opacity="1"/><stop offset="0.4" stop-color="#2d1ad3" stop-opacity="1"/><stop offset="0.8" stop-color="#b937e0" stop-opacity="1"/><stop offset="0.9" stop-color="#9435f2" stop-opacity="0.9"/><stop offset="1" stop-color="#1d11b2" stop-opacity="0"/></radialGradient>
<radialGradient id="hotW"><stop offset="0" stop-color="#ffffff" stop-opacity="1"/><stop offset="0.6" stop-color="#ffffff" stop-opacity="1"/><stop offset="0.7" stop-color="#fff060" stop-opacity="1"/><stop offset="0.8" stop-color="#ff9a00" stop-opacity="1"/><stop offset="0.9" stop-color="#e8301e" stop-opacity="1"/><stop offset="0.9" stop-color="#8c00d6" stop-opacity="0.9"/><stop offset="1" stop-color="#4900c0" stop-opacity="0"/></radialGradient>
<radialGradient id="hotH"><stop offset="0" stop-color="#ffffff" stop-opacity="1"/><stop offset="0.7" stop-color="#ffffff" stop-opacity="1"/><stop offset="0.8" stop-color="#fff27a" stop-opacity="1"/><stop offset="0.9" stop-color="#ffa000" stop-opacity="1"/><stop offset="0.9" stop-color="#e8301e" stop-opacity="1"/><stop offset="1" stop-color="#9e39e6" stop-opacity="0.9"/><stop offset="1" stop-color="#612ed9" stop-opacity="0"/></radialGradient>
<radialGradient id="glowP"><stop offset="0" stop-color="#9e39e6" stop-opacity="1"/><stop offset="0.7" stop-color="#963aeb" stop-opacity="1"/><stop offset="0.8" stop-color="#7334e8" stop-opacity="0.9"/><stop offset="0.9" stop-color="#4623bc" stop-opacity="0.5"/><stop offset="1" stop-color="#160c7d" stop-opacity="0"/></radialGradient>
<radialGradient id="hotY"><stop offset="0" stop-color="#ffffd0" stop-opacity="1"/><stop offset="0.3" stop-color="#fff050" stop-opacity="1"/><stop offset="0.6" stop-color="#ffb000" stop-opacity="1"/><stop offset="0.8" stop-color="#ff6a00" stop-opacity="1"/><stop offset="0.9" stop-color="#d8202c" stop-opacity="0.9"/><stop offset="1" stop-color="#6800dd" stop-opacity="0"/></radialGradient>
<radialGradient id="hotO"><stop offset="0" stop-color="#ff7a00" stop-opacity="1"/><stop offset="0.5" stop-color="#f45a08" stop-opacity="1"/><stop offset="0.8" stop-color="#e0301e" stop-opacity="1"/><stop offset="0.9" stop-color="#ad0097" stop-opacity="0.9"/><stop offset="1" stop-color="#6800dd" stop-opacity="0"/></radialGradient>
<radialGradient id="hotR" cx="0.5" cy="0.4"><stop offset="0" stop-color="#a700a6" stop-opacity="1"/><stop offset="0.2" stop-color="#ba0072" stop-opacity="1"/><stop offset="0.6" stop-color="#e8381a" stop-opacity="1"/><stop offset="0.8" stop-color="#c9074e" stop-opacity="1"/><stop offset="0.9" stop-color="#9e00bc" stop-opacity="0.9"/><stop offset="1" stop-color="#6800dd" stop-opacity="0"/></radialGradient>
<linearGradient id="abg" x1="1" y1="0" x2="0.2" y2="1"><stop offset="0" stop-color="#000035"/><stop offset="0.45" stop-color="#00004e"/><stop offset="1" stop-color="#0a006c"/></linearGradient>
<radialGradient id="glow"><stop offset="0" stop-color="#8600da" stop-opacity="0.9"/><stop offset="0.5" stop-color="#6800dd" stop-opacity="0.6"/><stop offset="1" stop-color="#2b009c" stop-opacity="0"/></radialGradient>
<radialGradient id="gdark"><stop offset="0" stop-color="#000" stop-opacity="0.6"/><stop offset="0.6" stop-color="#000" stop-opacity="0.3"/><stop offset="1" stop-color="#000" stop-opacity="0"/></radialGradient>
<radialGradient id="glight"><stop offset="0" stop-color="#fff" stop-opacity="0.5"/><stop offset="0.6" stop-color="#fff" stop-opacity="0.2"/><stop offset="1" stop-color="#fff" stop-opacity="0"/></radialGradient>
</defs>
<svg x="142.5" y="199" width="477.5" height="358" viewBox="0 0 477.5 358"><rect x="-20" y="-20" width="517.5" height="398" fill="#ababab"/><g filter="url(#bl3)"><ellipse cx="298.5" cy="59" rx="42" ry="50.8" fill="url(#gdark)" opacity="1"/><ellipse cx="298.5" cy="59" rx="32.3" ry="39.1" fill="url(#gdark)" opacity="0.3"/><ellipse cx="376.7" cy="48.8" rx="30.9" ry="30.9" fill="url(#gdark)" opacity="0.8"/><ellipse cx="468.5" cy="164.4" rx="26.5" ry="33.2" fill="url(#gdark)" opacity="1"/><ellipse cx="468.5" cy="164.4" rx="20.4" ry="25.5" fill="url(#gdark)" opacity="0.4"/><ellipse cx="128.5" cy="252.8" rx="33.2" ry="30.9" fill="url(#gdark)" opacity="1"/><ellipse cx="128.5" cy="252.8" rx="25.5" ry="23.8" fill="url(#gdark)" opacity="0.2"/><ellipse cx="118.3" cy="225.6" rx="22.1" ry="19.9" fill="url(#gdark)" opacity="0.7"/><ellipse cx="50.3" cy="93" rx="39.8" ry="39.8" fill="url(#gdark)" opacity="0.3"/><ellipse cx="233.9" cy="324.2" rx="39.8" ry="39.8" fill="url(#gdark)" opacity="0.3"/><ellipse cx="108.1" cy="4.6" rx="30.9" ry="19.9" fill="url(#gdark)" opacity="0.5"/><ellipse cx="227.1" cy="11.4" rx="22.1" ry="17.7" fill="url(#gdark)" opacity="0.5"/><ellipse cx="182.9" cy="1.2" rx="17.7" ry="13.3" fill="url(#gdark)" opacity="0.4"/><ellipse cx="230.5" cy="181.4" rx="88.4" ry="66.3" fill="url(#glight)" opacity="0.3"/><ellipse cx="332.5" cy="229" rx="88.4" ry="70.7" fill="url(#glight)" opacity="0.3"/><ellipse cx="417.5" cy="195" rx="53" ry="44.2" fill="url(#glight)" opacity="0.3"/><ellipse cx="80.9" cy="59" rx="53" ry="35.4" fill="url(#glight)" opacity="0.2"/><ellipse cx="461.7" cy="31.8" rx="35.4" ry="53" fill="url(#glight)" opacity="0.2"/><ellipse cx="74.1" cy="154.2" rx="26.5" ry="22.1" fill="url(#gdark)" opacity="0.6"/><ellipse cx="441.3" cy="249.4" rx="26.5" ry="22.1" fill="url(#gdark)" opacity="0.3"/></g><g filter="url(#bl0_8)"><ellipse cx="138.7" cy="55.6" rx="19.6" ry="19.6" fill="none" stroke="#c4c4c4" stroke-width="1.5"/><ellipse cx="138.7" cy="55.6" rx="17.7" ry="17.7" fill="#000" fill-opacity="0" stroke="#727272" stroke-width="1.7"/><ellipse cx="167.6" cy="81.1" rx="18.9" ry="18.9" fill="none" stroke="#c4c4c4" stroke-width="1.5"/><ellipse cx="167.6" cy="81.1" rx="17" ry="17" fill="#000" fill-opacity="0" stroke="#727272" stroke-width="1.7"/><ellipse cx="208.4" cy="52.2" rx="20.6" ry="20.6" fill="none" stroke="#c4c4c4" stroke-width="1.5"/><ellipse cx="208.4" cy="52.2" rx="18.7" ry="18.7" fill="#000" fill-opacity="0" stroke="#727272" stroke-width="1.7"/><ellipse cx="215.2" cy="82.8" rx="20.6" ry="20.6" fill="none" stroke="#c4c4c4" stroke-width="1.5"/><ellipse cx="215.2" cy="82.8" rx="18.7" ry="18.7" fill="#000" fill-opacity="0" stroke="#727272" stroke-width="1.7"/><ellipse cx="96.2" cy="118.5" rx="18.9" ry="18.9" fill="none" stroke="#c4c4c4" stroke-width="1.5"/><ellipse cx="96.2" cy="118.5" rx="17" ry="17" fill="#000" fill-opacity="0" stroke="#727272" stroke-width="1.7"/><ellipse cx="18" cy="145.7" rx="18.9" ry="18.9" fill="none" stroke="#c4c4c4" stroke-width="1.5"/><ellipse cx="18" cy="145.7" rx="17" ry="17" fill="#000" fill-opacity="0" stroke="#727272" stroke-width="1.7"/><ellipse cx="123.4" cy="147.4" rx="19.6" ry="19.6" fill="none" stroke="#c4c4c4" stroke-width="1.5"/><ellipse cx="123.4" cy="147.4" rx="17.7" ry="17.7" fill="#000" fill-opacity="0" stroke="#727272" stroke-width="1.7"/><ellipse cx="72.4" cy="162.7" rx="18.9" ry="18.9" fill="none" stroke="#c4c4c4" stroke-width="1.5"/><ellipse cx="72.4" cy="162.7" rx="17" ry="17" fill="#000" fill-opacity="0" stroke="#727272" stroke-width="1.7"/><ellipse cx="103" cy="186.5" rx="20.6" ry="20.6" fill="none" stroke="#c4c4c4" stroke-width="1.5"/><ellipse cx="103" cy="186.5" rx="18.7" ry="18.7" fill="#000" fill-opacity="0" stroke="#727272" stroke-width="1.7"/><ellipse cx="140.4" cy="172.9" rx="17.2" ry="17.2" fill="none" stroke="#c4c4c4" stroke-width="1.5"/><ellipse cx="140.4" cy="172.9" rx="15.3" ry="15.3" fill="#000" fill-opacity="0" stroke="#727272" stroke-width="1.7"/><ellipse cx="160.8" cy="144" rx="17.2" ry="17.2" fill="none" stroke="#c4c4c4" stroke-width="1.5"/><ellipse cx="160.8" cy="144" rx="15.3" ry="15.3" fill="#000" fill-opacity="0" stroke="#727272" stroke-width="1.7"/><ellipse cx="186.3" cy="167.8" rx="18.9" ry="18.9" fill="none" stroke="#c4c4c4" stroke-width="1.5"/><ellipse cx="186.3" cy="167.8" rx="17" ry="17" fill="#000" fill-opacity="0" stroke="#727272" stroke-width="1.7"/><ellipse cx="198.2" cy="201.8" rx="17.2" ry="17.2" fill="none" stroke="#c4c4c4" stroke-width="1.5"/><ellipse cx="198.2" cy="201.8" rx="15.3" ry="15.3" fill="#000" fill-opacity="0" stroke="#727272" stroke-width="1.7"/><ellipse cx="233.9" cy="184.8" rx="18.9" ry="18.9" fill="none" stroke="#c4c4c4" stroke-width="1.5"/><ellipse cx="233.9" cy="184.8" rx="17" ry="17" fill="#000" fill-opacity="0" stroke="#727272" stroke-width="1.7"/><ellipse cx="249.2" cy="206.9" rx="18.9" ry="18.9" fill="none" stroke="#c4c4c4" stroke-width="1.5"/><ellipse cx="249.2" cy="206.9" rx="17" ry="17" fill="#000" fill-opacity="0" stroke="#727272" stroke-width="1.7"/><ellipse cx="267.9" cy="166.1" rx="17.2" ry="17.2" fill="none" stroke="#c4c4c4" stroke-width="1.5"/><ellipse cx="267.9" cy="166.1" rx="15.3" ry="15.3" fill="#000" fill-opacity="0" stroke="#727272" stroke-width="1.7"/><ellipse cx="281.5" cy="206.9" rx="15.5" ry="15.5" fill="none" stroke="#c4c4c4" stroke-width="1.5"/><ellipse cx="281.5" cy="206.9" rx="13.6" ry="13.6" fill="#000" fill-opacity="0" stroke="#727272" stroke-width="1.7"/><ellipse cx="301.9" cy="206.9" rx="17.2" ry="17.2" fill="none" stroke="#c4c4c4" stroke-width="1.5"/><ellipse cx="301.9" cy="206.9" rx="15.3" ry="15.3" fill="#000" fill-opacity="0" stroke="#727272" stroke-width="1.7"/><ellipse cx="315.5" cy="130.4" rx="18.9" ry="18.9" fill="none" stroke="#c4c4c4" stroke-width="1.5"/><ellipse cx="315.5" cy="130.4" rx="17" ry="17" fill="#000" fill-opacity="0" stroke="#727272" stroke-width="1.7"/><ellipse cx="351.2" cy="135.5" rx="18.9" ry="18.9" fill="none" stroke="#c4c4c4" stroke-width="1.5"/><ellipse cx="351.2" cy="135.5" rx="17" ry="17" fill="#000" fill-opacity="0" stroke="#727272" stroke-width="1.7"/><ellipse cx="397.1" cy="127" rx="18.9" ry="18.9" fill="none" stroke="#c4c4c4" stroke-width="1.5"/><ellipse cx="397.1" cy="127" rx="17" ry="17" fill="#000" fill-opacity="0" stroke="#727272" stroke-width="1.7"/><ellipse cx="431.1" cy="123.6" rx="17.2" ry="17.2" fill="none" stroke="#c4c4c4" stroke-width="1.5"/><ellipse cx="431.1" cy="123.6" rx="15.3" ry="15.3" fill="#000" fill-opacity="0" stroke="#727272" stroke-width="1.7"/><ellipse cx="397.1" cy="159.3" rx="18.9" ry="18.9" fill="none" stroke="#c4c4c4" stroke-width="1.5"/><ellipse cx="397.1" cy="159.3" rx="17" ry="17" fill="#000" fill-opacity="0" stroke="#727272" stroke-width="1.7"/><ellipse cx="361.4" cy="183.1" rx="18.9" ry="18.9" fill="none" stroke="#c4c4c4" stroke-width="1.5"/><ellipse cx="361.4" cy="183.1" rx="17" ry="17" fill="#000" fill-opacity="0" stroke="#727272" stroke-width="1.7"/><ellipse cx="330.8" cy="93" rx="17.2" ry="17.2" fill="none" stroke="#c4c4c4" stroke-width="1.5"/><ellipse cx="330.8" cy="93" rx="15.3" ry="15.3" fill="#000" fill-opacity="0" stroke="#727272" stroke-width="1.7"/><ellipse cx="383.5" cy="89.6" rx="20.6" ry="20.6" fill="none" stroke="#c4c4c4" stroke-width="1.5"/><ellipse cx="383.5" cy="89.6" rx="18.7" ry="18.7" fill="#000" fill-opacity="0" stroke="#727272" stroke-width="1.7"/><ellipse cx="446.4" cy="89.6" rx="17.2" ry="17.2" fill="none" stroke="#c4c4c4" stroke-width="1.5"/><ellipse cx="446.4" cy="89.6" rx="15.3" ry="15.3" fill="#000" fill-opacity="0" stroke="#727272" stroke-width="1.7"/><ellipse cx="439.6" cy="42" rx="20.6" ry="20.6" fill="none" stroke="#c4c4c4" stroke-width="1.5"/><ellipse cx="439.6" cy="42" rx="18.7" ry="18.7" fill="#000" fill-opacity="0" stroke="#727272" stroke-width="1.7"/><ellipse cx="468.5" cy="106.6" rx="12.1" ry="12.1" fill="none" stroke="#c4c4c4" stroke-width="1.5"/><ellipse cx="468.5" cy="106.6" rx="10.2" ry="10.2" fill="#000" fill-opacity="0" stroke="#727272" stroke-width="1.7"/><ellipse cx="123.4" cy="227.3" rx="18.9" ry="18.9" fill="none" stroke="#c4c4c4" stroke-width="1.5"/><ellipse cx="123.4" cy="227.3" rx="17" ry="17" fill="#000" fill-opacity="0" stroke="#727272" stroke-width="1.7"/><ellipse cx="157.4" cy="230.7" rx="18.9" ry="18.9" fill="none" stroke="#c4c4c4" stroke-width="1.5"/><ellipse cx="157.4" cy="230.7" rx="17" ry="17" fill="#000" fill-opacity="0" stroke="#727272" stroke-width="1.7"/><ellipse cx="128.5" cy="280" rx="18.9" ry="18.9" fill="none" stroke="#c4c4c4" stroke-width="1.5"/><ellipse cx="128.5" cy="280" rx="17" ry="17" fill="#000" fill-opacity="0" stroke="#727272" stroke-width="1.7"/><ellipse cx="186.3" cy="266.4" rx="18.2" ry="18.2" fill="none" stroke="#c4c4c4" stroke-width="1.5"/><ellipse cx="186.3" cy="266.4" rx="16.3" ry="16.3" fill="#000" fill-opacity="0" stroke="#727272" stroke-width="1.7"/><ellipse cx="19.7" cy="295.3" rx="19.6" ry="19.6" fill="none" stroke="#c4c4c4" stroke-width="1.5"/><ellipse cx="19.7" cy="295.3" rx="17.7" ry="17.7" fill="#000" fill-opacity="0" stroke="#727272" stroke-width="1.7"/><ellipse cx="57.1" cy="317.4" rx="18.9" ry="18.9" fill="none" stroke="#c4c4c4" stroke-width="1.5"/><ellipse cx="57.1" cy="317.4" rx="17" ry="17" fill="#000" fill-opacity="0" stroke="#727272" stroke-width="1.7"/><ellipse cx="108.1" cy="322.5" rx="18.9" ry="18.9" fill="none" stroke="#c4c4c4" stroke-width="1.5"/><ellipse cx="108.1" cy="322.5" rx="17" ry="17" fill="#000" fill-opacity="0" stroke="#727272" stroke-width="1.7"/><ellipse cx="143.8" cy="317.4" rx="17.2" ry="17.2" fill="none" stroke="#c4c4c4" stroke-width="1.5"/><ellipse cx="143.8" cy="317.4" rx="15.3" ry="15.3" fill="#000" fill-opacity="0" stroke="#727272" stroke-width="1.7"/><ellipse cx="189.7" cy="303.8" rx="17.2" ry="17.2" fill="none" stroke="#c4c4c4" stroke-width="1.5"/><ellipse cx="189.7" cy="303.8" rx="15.3" ry="15.3" fill="#000" fill-opacity="0" stroke="#727272" stroke-width="1.7"/><ellipse cx="184.6" cy="341.2" rx="17.2" ry="17.2" fill="none" stroke="#c4c4c4" stroke-width="1.5"/><ellipse cx="184.6" cy="341.2" rx="15.3" ry="15.3" fill="#000" fill-opacity="0" stroke="#727272" stroke-width="1.7"/><ellipse cx="267.9" cy="278.3" rx="18.9" ry="18.9" fill="none" stroke="#c4c4c4" stroke-width="1.5"/><ellipse cx="267.9" cy="278.3" rx="17" ry="17" fill="#000" fill-opacity="0" stroke="#727272" stroke-width="1.7"/><ellipse cx="325.7" cy="273.2" rx="20.6" ry="20.6" fill="none" stroke="#c4c4c4" stroke-width="1.5"/><ellipse cx="325.7" cy="273.2" rx="18.7" ry="18.7" fill="#000" fill-opacity="0" stroke="#727272" stroke-width="1.7"/><ellipse cx="361.4" cy="281.7" rx="18.9" ry="18.9" fill="none" stroke="#c4c4c4" stroke-width="1.5"/><ellipse cx="361.4" cy="281.7" rx="17" ry="17" fill="#000" fill-opacity="0" stroke="#727272" stroke-width="1.7"/><ellipse cx="393.7" cy="276.6" rx="17.2" ry="17.2" fill="none" stroke="#c4c4c4" stroke-width="1.5"/><ellipse cx="393.7" cy="276.6" rx="15.3" ry="15.3" fill="#000" fill-opacity="0" stroke="#727272" stroke-width="1.7"/><ellipse cx="431.1" cy="288.5" rx="17.2" ry="17.2" fill="none" stroke="#c4c4c4" stroke-width="1.5"/><ellipse cx="431.1" cy="288.5" rx="15.3" ry="15.3" fill="#000" fill-opacity="0" stroke="#727272" stroke-width="1.7"/><ellipse cx="376.7" cy="317.4" rx="20.6" ry="20.6" fill="none" stroke="#c4c4c4" stroke-width="1.5"/><ellipse cx="376.7" cy="317.4" rx="18.7" ry="18.7" fill="#000" fill-opacity="0" stroke="#727272" stroke-width="1.7"/><ellipse cx="465.1" cy="259.6" rx="15.5" ry="15.5" fill="none" stroke="#c4c4c4" stroke-width="1.5"/><ellipse cx="465.1" cy="259.6" rx="13.6" ry="13.6" fill="#000" fill-opacity="0" stroke="#727272" stroke-width="1.7"/><ellipse cx="437.9" cy="246" rx="20.6" ry="20.6" fill="none" stroke="#c4c4c4" stroke-width="1.5"/><ellipse cx="437.9" cy="246" rx="18.7" ry="18.7" fill="#000" fill-opacity="0" stroke="#727272" stroke-width="1.7"/><ellipse cx="395.4" cy="225.6" rx="18.9" ry="18.9" fill="none" stroke="#c4c4c4" stroke-width="1.5"/><ellipse cx="395.4" cy="225.6" rx="17" ry="17" fill="#000" fill-opacity="0" stroke="#727272" stroke-width="1.7"/><ellipse cx="465.1" cy="308.9" rx="17.2" ry="17.2" fill="none" stroke="#c4c4c4" stroke-width="1.5"/><ellipse cx="465.1" cy="308.9" rx="15.3" ry="15.3" fill="#000" fill-opacity="0" stroke="#727272" stroke-width="1.7"/><ellipse cx="449.8" cy="341.2" rx="17.2" ry="17.2" fill="none" stroke="#c4c4c4" stroke-width="1.5"/><ellipse cx="449.8" cy="341.2" rx="15.3" ry="15.3" fill="#000" fill-opacity="0" stroke="#727272" stroke-width="1.7"/><ellipse cx="257.7" cy="25" rx="17.2" ry="17.2" fill="none" stroke="#c4c4c4" stroke-width="1.5"/><ellipse cx="257.7" cy="25" rx="15.3" ry="15.3" fill="#000" fill-opacity="0" stroke="#727272" stroke-width="1.7"/><ellipse cx="264.5" cy="52.2" rx="17.2" ry="17.2" fill="none" stroke="#c4c4c4" stroke-width="1.5"/><ellipse cx="264.5" cy="52.2" rx="15.3" ry="15.3" fill="#000" fill-opacity="0" stroke="#727272" stroke-width="1.7"/><ellipse cx="300.2" cy="6.3" rx="15.5" ry="15.5" fill="none" stroke="#c4c4c4" stroke-width="1.5"/><ellipse cx="300.2" cy="6.3" rx="13.6" ry="13.6" fill="#000" fill-opacity="0" stroke="#727272" stroke-width="1.7"/><ellipse cx="230.5" cy="8" rx="15.5" ry="15.5" fill="none" stroke="#c4c4c4" stroke-width="1.5"/><ellipse cx="230.5" cy="8" rx="13.6" ry="13.6" fill="#000" fill-opacity="0" stroke="#727272" stroke-width="1.7"/><ellipse cx="12.9" cy="57.3" rx="17.2" ry="17.2" fill="none" stroke="#c4c4c4" stroke-width="1.5"/><ellipse cx="12.9" cy="57.3" rx="15.3" ry="15.3" fill="#000" fill-opacity="0" stroke="#727272" stroke-width="1.7"/><ellipse cx="18" cy="4.6" rx="15.5" ry="15.5" fill="none" stroke="#c4c4c4" stroke-width="1.5"/><ellipse cx="18" cy="4.6" rx="13.6" ry="13.6" fill="#000" fill-opacity="0" stroke="#727272" stroke-width="1.7"/><ellipse cx="74.1" cy="344.6" rx="17.2" ry="17.2" fill="none" stroke="#c4c4c4" stroke-width="1.5"/><ellipse cx="74.1" cy="344.6" rx="15.3" ry="15.3" fill="#000" fill-opacity="0" stroke="#727272" stroke-width="1.7"/><ellipse cx="24.8" cy="334.4" rx="12.1" ry="12.1" fill="none" stroke="#c4c4c4" stroke-width="1.5"/><ellipse cx="24.8" cy="334.4" rx="10.2" ry="10.2" fill="#000" fill-opacity="0" stroke="#727272" stroke-width="1.7"/><ellipse cx="274.7" cy="348" rx="15.5" ry="15.5" fill="none" stroke="#c4c4c4" stroke-width="1.5"/><ellipse cx="274.7" cy="348" rx="13.6" ry="13.6" fill="#000" fill-opacity="0" stroke="#727272" stroke-width="1.7"/><ellipse cx="352.9" cy="351.4" rx="15.5" ry="15.5" fill="none" stroke="#c4c4c4" stroke-width="1.5"/><ellipse cx="352.9" cy="351.4" rx="13.6" ry="13.6" fill="#000" fill-opacity="0" stroke="#727272" stroke-width="1.7"/><ellipse cx="230.5" cy="351.4" rx="13.8" ry="13.8" fill="none" stroke="#c4c4c4" stroke-width="1.5"/><ellipse cx="230.5" cy="351.4" rx="11.9" ry="11.9" fill="#000" fill-opacity="0" stroke="#727272" stroke-width="1.7"/><ellipse cx="471.9" cy="215.4" rx="12.1" ry="12.1" fill="none" stroke="#c4c4c4" stroke-width="1.5"/><ellipse cx="471.9" cy="215.4" rx="10.2" ry="10.2" fill="#000" fill-opacity="0" stroke="#727272" stroke-width="1.7"/><path d="M166.2 137.6A8.4 8.4 0 0 1 160.8 152.4" fill="none" stroke="#f4f4f4" stroke-width="3.4" stroke-linecap="round"/><path d="M168.7 134.6A12.2 12.2 0 0 1 160.8 156.2" fill="none" stroke="#2a2a2a" stroke-width="2.6" stroke-linecap="round"/><path d="M269.4 174.4A8.4 8.4 0 0 1 261.5 160.7" fill="none" stroke="#f4f4f4" stroke-width="3.4" stroke-linecap="round"/><path d="M270 178.2A12.2 12.2 0 0 1 258.5 158.2" fill="none" stroke="#2a2a2a" stroke-width="2.6" stroke-linecap="round"/><path d="M284.1 199.9A7.5 7.5 0 0 1 284.1 213.9" fill="none" stroke="#f4f4f4" stroke-width="3.4" stroke-linecap="round"/><path d="M285.2 196.7A10.9 10.9 0 0 1 285.2 217.1" fill="none" stroke="#2a2a2a" stroke-width="2.6" stroke-linecap="round"/><path d="M428.2 131.5A8.4 8.4 0 0 1 428.2 115.7" fill="none" stroke="#f4f4f4" stroke-width="3.4" stroke-linecap="round"/><path d="M426.9 135.1A12.2 12.2 0 0 1 426.9 112.1" fill="none" stroke="#2a2a2a" stroke-width="2.6" stroke-linecap="round"/><path d="M272.6 270.2A9.4 9.4 0 0 1 269.5 287.5" fill="none" stroke="#f4f4f4" stroke-width="3.4" stroke-linecap="round"/><path d="M274.7 266.5A13.6 13.6 0 0 1 270.3 291.7" fill="none" stroke="#2a2a2a" stroke-width="2.6" stroke-linecap="round"/><path d="M364.6 272.9A9.4 9.4 0 0 1 364.6 290.5" fill="none" stroke="#f4f4f4" stroke-width="3.4" stroke-linecap="round"/><path d="M366.1 268.9A13.6 13.6 0 0 1 366.1 294.5" fill="none" stroke="#2a2a2a" stroke-width="2.6" stroke-linecap="round"/><path d="M461.4 266.1A7.5 7.5 0 0 1 463.8 252.2" fill="none" stroke="#f4f4f4" stroke-width="3.4" stroke-linecap="round"/><path d="M459.7 269A10.9 10.9 0 0 1 463.2 248.9" fill="none" stroke="#2a2a2a" stroke-width="2.6" stroke-linecap="round"/><path d="M115.3 316.5A9.4 9.4 0 0 1 106.5 331.7" fill="none" stroke="#f4f4f4" stroke-width="3.4" stroke-linecap="round"/><path d="M118.5 313.8A13.6 13.6 0 0 1 105.7 335.9" fill="none" stroke="#2a2a2a" stroke-width="2.6" stroke-linecap="round"/><path d="M80.5 158A9.4 9.4 0 0 1 69.2 171.5" fill="none" stroke="#f4f4f4" stroke-width="3.4" stroke-linecap="round"/><path d="M84.2 155.9A13.6 13.6 0 0 1 67.8 175.5" fill="none" stroke="#2a2a2a" stroke-width="2.6" stroke-linecap="round"/><path d="M129.4 234.5A9.4 9.4 0 0 1 114.2 225.7" fill="none" stroke="#f4f4f4" stroke-width="3.4" stroke-linecap="round"/><path d="M132.2 237.7A13.6 13.6 0 0 1 110 225" fill="none" stroke="#2a2a2a" stroke-width="2.6" stroke-linecap="round"/><path d="M271 46.8A8.4 8.4 0 0 1 263.1 60.5" fill="none" stroke="#f4f4f4" stroke-width="3.4" stroke-linecap="round"/><path d="M273.9 44.3A12.2 12.2 0 0 1 262.4 64.3" fill="none" stroke="#2a2a2a" stroke-width="2.6" stroke-linecap="round"/><circle cx="397.8" cy="121.9" r="2.6" fill="#222"/><ellipse cx="14.3" cy="356.1" rx="11" ry="6" fill="#eee" stroke="#111" stroke-width="4"/></g></svg>
<svg x="685" y="199" width="478" height="358" viewBox="0 0 478 358"><rect x="-20" y="-20" width="518" height="398" fill="#030218"/><g filter="url(#bl1_6)"><circle cx="8.6" cy="45.4" r="19.2" fill="url(#fcP46)"/><circle cx="132.7" cy="42" r="22.3" fill="url(#fcP42)"/><circle cx="163.3" cy="67.5" r="22.3" fill="url(#fcP42)"/><circle cx="203.1" cy="36.9" r="23.1" fill="url(#fcP42)"/><circle cx="258.5" cy="11.4" r="19.2" fill="url(#fcP46)"/><circle cx="261.9" cy="35.2" r="21.1" fill="url(#fcP50)"/><circle cx="209.9" cy="69.2" r="22.3" fill="url(#fcP46)"/><ellipse cx="213.2" cy="67" rx="11.1" ry="4.9" fill="#b937d7" transform="rotate(30 213.2 67)" opacity="0.8"/><circle cx="251.7" cy="74.3" r="21.1" fill="url(#fcP30)"/><circle cx="89.5" cy="106.6" r="21.1" fill="url(#fcP42)"/><circle cx="13.7" cy="133.8" r="21.1" fill="url(#fcP50)"/><circle cx="115.7" cy="135.5" r="21.1" fill="url(#fsP34)"/><circle cx="154.8" cy="130.4" r="18.4" fill="url(#fcP50)"/><circle cx="154.8" cy="132.4" r="4" fill="#f05010"/><circle cx="182" cy="152.5" r="22.3" fill="url(#fsP30)"/><circle cx="66.4" cy="152.5" r="21.1" fill="url(#fcP42)"/><circle cx="96" cy="174.6" r="22.3" fill="url(#fcP46)"/><circle cx="132.7" cy="161" r="19.2" fill="url(#fcP42)"/><circle cx="271.1" cy="150.8" r="19.2" fill="url(#fcP38)"/><ellipse cx="274" cy="148.9" rx="9.6" ry="4.2" fill="#b937d7" transform="rotate(30 274 148.9)" opacity="0.8"/><circle cx="229.6" cy="171.2" r="21.1" fill="url(#fcP46)"/><circle cx="193.9" cy="189.9" r="20" fill="url(#fsP30)"/><circle cx="248.3" cy="193.3" r="19.2" fill="url(#fcP38)"/><ellipse cx="251.2" cy="191.4" rx="9.6" ry="4.2" fill="#b937d7" transform="rotate(30 251.2 191.4)" opacity="0.8"/><circle cx="278.9" cy="193.3" r="17.3" fill="url(#fcP54)"/><circle cx="116.7" cy="215.4" r="21.1" fill="url(#fcP42)"/><circle cx="153.1" cy="220.5" r="21.1" fill="url(#fcP38)"/><circle cx="328.2" cy="81.1" r="21.1" fill="url(#fcP38)"/><circle cx="382.6" cy="77.7" r="25" fill="url(#fcP50)"/><circle cx="440.4" cy="21.6" r="22.3" fill="url(#fcP46)"/><circle cx="448.9" cy="70.9" r="20" fill="url(#fcP42)"/><circle cx="314.6" cy="118.5" r="21.1" fill="url(#fcP46)"/><ellipse cx="317.8" cy="116.4" rx="10.6" ry="4.6" fill="#b937d7" transform="rotate(30 317.8 116.4)" opacity="0.8"/><circle cx="350.3" cy="120.2" r="21.1" fill="url(#fcP42)"/><circle cx="399.6" cy="111.7" r="21.1" fill="url(#fsP30)"/><circle cx="440.4" cy="108.3" r="17.3" fill="url(#fcP42)"/><ellipse cx="443" cy="106.6" rx="8.6" ry="3.8" fill="#b937d7" transform="rotate(30 443 106.6)" opacity="0.8"/><circle cx="397.9" cy="145.7" r="22.3" fill="url(#fsP30)"/><circle cx="462.5" cy="142.3" r="21.1" fill="url(#fcP46)"/><circle cx="362.2" cy="169.5" r="22.3" fill="url(#fcP38)"/><circle cx="394.5" cy="213.7" r="23.1" fill="url(#fcP42)"/><circle cx="440.4" cy="234.1" r="23.8" fill="url(#fcP50)"/><circle cx="469.3" cy="244.3" r="15.4" fill="url(#fcP54)"/><ellipse cx="471.6" cy="242.8" rx="7.7" ry="3.4" fill="#b937d7" transform="rotate(30 471.6 242.8)" opacity="0.8"/><circle cx="324.8" cy="259.6" r="22.3" fill="url(#fcP42)"/><circle cx="363.9" cy="268.1" r="21.1" fill="url(#fcP42)"/><circle cx="396.2" cy="263" r="21.1" fill="url(#fcP34)"/><circle cx="433.6" cy="274.9" r="21.1" fill="url(#fcP38)"/><circle cx="465.9" cy="290.2" r="19.2" fill="url(#fcP42)"/><circle cx="379.2" cy="303.8" r="25" fill="url(#fcP34)"/><circle cx="183.7" cy="256.2" r="20" fill="url(#fcP42)"/><circle cx="122.5" cy="271.5" r="21.1" fill="url(#fcP42)"/><circle cx="185.4" cy="293.6" r="20" fill="url(#fsP30)"/><circle cx="268.7" cy="268.1" r="21.1" fill="url(#fcP34)"/><ellipse cx="271.9" cy="266" rx="10.6" ry="4.6" fill="#b937d7" transform="rotate(30 271.9 266)" opacity="0.8"/><circle cx="13.7" cy="285.1" r="22.3" fill="url(#fcP46)"/><circle cx="51.1" cy="307.2" r="21.1" fill="url(#fcP46)"/><circle cx="102.1" cy="314" r="21.1" fill="url(#fcP42)"/><circle cx="139.5" cy="308.9" r="19.2" fill="url(#fcP42)"/><circle cx="20.5" cy="327.6" r="18.4" fill="url(#fcP50)"/><ellipse cx="23.3" cy="325.8" rx="9.2" ry="4.1" fill="#b937d7" transform="rotate(30 23.3 325.8)" opacity="0.8"/><circle cx="68.1" cy="341.2" r="18.4" fill="url(#fcP38)"/><circle cx="108.9" cy="348" r="19.2" fill="url(#fcP42)"/><circle cx="158.2" cy="351.4" r="17.3" fill="url(#fcP46)"/><circle cx="183.7" cy="331" r="21.1" fill="url(#fcP46)"/><circle cx="219.4" cy="351.4" r="15.4" fill="url(#fcP38)"/><circle cx="273.8" cy="344.6" r="19.2" fill="url(#fcP42)"/><circle cx="360.5" cy="348" r="17.3" fill="url(#fcP34)"/><circle cx="416.6" cy="337.8" r="21.1" fill="url(#fcP34)"/><circle cx="455.7" cy="325.9" r="19.2" fill="url(#fcP38)"/><circle cx="474.4" cy="208.6" r="11.5" fill="url(#fcP42)"/><circle cx="471" cy="89.6" r="9.6" fill="url(#fcP18)"/><circle cx="301" cy="192.3" r="18" fill="url(#hotW)"/><ellipse cx="447.2" cy="354.1" rx="16" ry="10" fill="url(#hotO)"/></g></svg>
<svg x="1316.5" y="198.7" width="477.5" height="357" viewBox="0 0 477.5 357"><rect x="-20" y="-20" width="517.5" height="397" fill="#adadad"/><g filter="url(#bl3)"><ellipse cx="481.2" cy="192.5" rx="33.8" ry="40.6" fill="url(#gdark)" opacity="0.9"/><ellipse cx="300.8" cy="60.7" rx="36.1" ry="31.6" fill="url(#gdark)" opacity="0.3"/><ellipse cx="134.2" cy="248.1" rx="40.6" ry="40.6" fill="url(#gdark)" opacity="0.3"/><ellipse cx="196.7" cy="213.4" rx="63.2" ry="31.6" fill="url(#glight)" opacity="0.1"/><ellipse cx="439.6" cy="137" rx="31.6" ry="31.6" fill="url(#glight)" opacity="0.2"/></g><g filter="url(#bl1_2)"><ellipse cx="5.8" cy="19.1" rx="16.3" ry="22.5" fill="none" stroke="#cdcdcd" stroke-width="2"/><ellipse cx="5.8" cy="19.1" rx="13.9" ry="20.1" fill="#919191" stroke="#555" stroke-width="2.5"/><ellipse cx="5.8" cy="19.1" rx="8.6" ry="12.5" fill="none" stroke="#a9a9a9" stroke-width="3"/><ellipse cx="5.8" cy="19.1" rx="4.2" ry="6" fill="#8c8c8c" stroke="none" stroke-width="0"/><ellipse cx="40.5" cy="12.1" rx="20.4" ry="18" fill="none" stroke="#cdcdcd" stroke-width="2"/><ellipse cx="40.5" cy="12.1" rx="18" ry="15.6" fill="#919191" stroke="#555" stroke-width="2.5"/><ellipse cx="40.5" cy="12.1" rx="11.2" ry="9.7" fill="none" stroke="#a9a9a9" stroke-width="3"/><ellipse cx="40.5" cy="12.1" rx="5.4" ry="4.7" fill="#8c8c8c" stroke="none" stroke-width="0"/><ellipse cx="83.9" cy="19.1" rx="26.7" ry="21.5" fill="none" stroke="#cdcdcd" stroke-width="2" transform="rotate(-15 83.9 19.1)"/><ellipse cx="83.9" cy="19.1" rx="24.3" ry="19.1" fill="#919191" stroke="#555" stroke-width="2.5" transform="rotate(-15 83.9 19.1)"/><ellipse cx="83.9" cy="19.1" rx="15.1" ry="11.8" fill="none" stroke="#a9a9a9" stroke-width="3" transform="rotate(-15 83.9 19.1)"/><ellipse cx="83.9" cy="19.1" rx="7.3" ry="5.7" fill="#8c8c8c" stroke="none" stroke-width="0" transform="rotate(-15 83.9 19.1)"/><ellipse cx="7.6" cy="60.7" rx="17" ry="19.7" fill="none" stroke="#cdcdcd" stroke-width="2"/><ellipse cx="7.6" cy="60.7" rx="14.6" ry="17.3" fill="#919191" stroke="#555" stroke-width="2.5"/><ellipse cx="7.6" cy="60.7" rx="9" ry="10.8" fill="none" stroke="#a9a9a9" stroke-width="3"/><ellipse cx="7.6" cy="60.7" rx="4.4" ry="5.2" fill="#8c8c8c" stroke="none" stroke-width="0"/><ellipse cx="35.3" cy="69.4" rx="19.7" ry="19.1" fill="none" stroke="#cdcdcd" stroke-width="2"/><ellipse cx="35.3" cy="69.4" rx="17.3" ry="16.7" fill="#919191" stroke="#555" stroke-width="2.5"/><ellipse cx="35.3" cy="69.4" rx="10.8" ry="10.3" fill="none" stroke="#a9a9a9" stroke-width="3"/><ellipse cx="35.3" cy="69.4" rx="5.2" ry="5" fill="#8c8c8c" stroke="none" stroke-width="0"/><ellipse cx="75.2" cy="50.3" rx="18" ry="17" fill="none" stroke="#cdcdcd" stroke-width="2"/><ellipse cx="75.2" cy="50.3" rx="15.6" ry="14.6" fill="#919191" stroke="#3a3a3a" stroke-width="2.5"/><ellipse cx="75.2" cy="50.3" rx="9.7" ry="9" fill="none" stroke="#a9a9a9" stroke-width="3"/><ellipse cx="75.2" cy="50.3" rx="4.7" ry="4.4" fill="#8c8c8c" stroke="none" stroke-width="0"/><path d="M82.2 54.3A8 8 0 0 1 67.4 51.7" fill="none" stroke="#f0f0f0" stroke-width="3.4" stroke-linecap="round"/><path d="M85.3 56.1A11.7 11.7 0 0 1 63.8 52.3" fill="none" stroke="#333" stroke-width="2.6" stroke-linecap="round"/><ellipse cx="115.1" cy="65.9" rx="18" ry="18" fill="none" stroke="#cdcdcd" stroke-width="2"/><ellipse cx="115.1" cy="65.9" rx="15.6" ry="15.6" fill="#919191" stroke="#3a3a3a" stroke-width="2.5"/><ellipse cx="115.1" cy="65.9" rx="9.7" ry="9.7" fill="none" stroke="#a9a9a9" stroke-width="3"/><ellipse cx="115.1" cy="65.9" rx="4.7" ry="4.7" fill="#8c8c8c" stroke="none" stroke-width="0"/><path d="M112.2 57.8A8.6 8.6 0 0 1 122.6 70.2" fill="none" stroke="#f0f0f0" stroke-width="3.4" stroke-linecap="round"/><path d="M110.9 54.2A12.5 12.5 0 0 1 126 72.1" fill="none" stroke="#333" stroke-width="2.6" stroke-linecap="round"/><ellipse cx="61.4" cy="86.7" rx="12.1" ry="19.7" fill="none" stroke="#cdcdcd" stroke-width="2"/><ellipse cx="61.4" cy="86.7" rx="9.7" ry="17.3" fill="#979797" stroke="#646464" stroke-width="2"/><ellipse cx="61.4" cy="86.7" rx="5.3" ry="9.5" fill="#a0a0a0" stroke="none" stroke-width="0"/><ellipse cx="26.7" cy="107.5" rx="21.5" ry="21.5" fill="none" stroke="#cdcdcd" stroke-width="2"/><ellipse cx="26.7" cy="107.5" rx="19.1" ry="19.1" fill="#919191" stroke="#555" stroke-width="2.5"/><ellipse cx="26.7" cy="107.5" rx="11.8" ry="11.8" fill="none" stroke="#a9a9a9" stroke-width="3"/><ellipse cx="26.7" cy="107.5" rx="5.7" ry="5.7" fill="#8c8c8c" stroke="none" stroke-width="0"/><ellipse cx="96.1" cy="91.9" rx="18" ry="18" fill="none" stroke="#cdcdcd" stroke-width="2"/><ellipse cx="96.1" cy="91.9" rx="15.6" ry="15.6" fill="#919191" stroke="#3a3a3a" stroke-width="2.5"/><ellipse cx="96.1" cy="91.9" rx="9.7" ry="9.7" fill="none" stroke="#a9a9a9" stroke-width="3"/><ellipse cx="96.1" cy="91.9" rx="4.7" ry="4.7" fill="#8c8c8c" stroke="none" stroke-width="0"/><path d="M96.1 100.5A8.6 8.6 0 0 1 90.5 85.3" fill="none" stroke="#f0f0f0" stroke-width="3.4" stroke-linecap="round"/><path d="M96.1 104.4A12.5 12.5 0 0 1 88 82.4" fill="none" stroke="#333" stroke-width="2.6" stroke-linecap="round"/><ellipse cx="96.1" cy="128.4" rx="19.1" ry="19.7" fill="none" stroke="#cdcdcd" stroke-width="2"/><ellipse cx="96.1" cy="128.4" rx="16.7" ry="17.3" fill="#919191" stroke="#555" stroke-width="2.5"/><ellipse cx="96.1" cy="128.4" rx="10.3" ry="10.8" fill="none" stroke="#a9a9a9" stroke-width="3"/><ellipse cx="96.1" cy="128.4" rx="5" ry="5.2" fill="#8c8c8c" stroke="none" stroke-width="0"/><ellipse cx="163.7" cy="43.3" rx="22.5" ry="23.9" fill="none" stroke="#cdcdcd" stroke-width="2"/><ellipse cx="163.7" cy="43.3" rx="20.1" ry="21.5" fill="#919191" stroke="#555" stroke-width="2.5"/><ellipse cx="163.7" cy="43.3" rx="12.5" ry="13.3" fill="none" stroke="#a9a9a9" stroke-width="3"/><ellipse cx="163.7" cy="43.3" rx="6" ry="6.5" fill="#8c8c8c" stroke="none" stroke-width="0"/><ellipse cx="203.6" cy="85" rx="19.7" ry="20.4" fill="none" stroke="#cdcdcd" stroke-width="2"/><ellipse cx="203.6" cy="85" rx="17.3" ry="18" fill="#919191" stroke="#555" stroke-width="2.5"/><ellipse cx="203.6" cy="85" rx="10.8" ry="11.2" fill="none" stroke="#a9a9a9" stroke-width="3"/><ellipse cx="203.6" cy="85" rx="5.2" ry="5.4" fill="#8c8c8c" stroke="none" stroke-width="0"/><ellipse cx="165.5" cy="107.5" rx="22.5" ry="14.5" fill="none" stroke="#cdcdcd" stroke-width="2" transform="rotate(35 165.5 107.5)"/><ellipse cx="165.5" cy="107.5" rx="20.1" ry="12.1" fill="#979797" stroke="#646464" stroke-width="2" transform="rotate(35 165.5 107.5)"/><ellipse cx="165.5" cy="107.5" rx="11.1" ry="6.7" fill="#a0a0a0" stroke="none" stroke-width="0" transform="rotate(35 165.5 107.5)"/><ellipse cx="156.8" cy="137" rx="16.3" ry="15.6" fill="none" stroke="#cdcdcd" stroke-width="2"/><ellipse cx="156.8" cy="137" rx="13.9" ry="13.2" fill="#919191" stroke="#3a3a3a" stroke-width="2.5"/><ellipse cx="156.8" cy="137" rx="8.6" ry="8.2" fill="none" stroke="#a9a9a9" stroke-width="3"/><ellipse cx="156.8" cy="137" rx="4.2" ry="4" fill="#8c8c8c" stroke="none" stroke-width="0"/><path d="M156.2 129.8A7.3 7.3 0 0 1 161.9 142.2" fill="none" stroke="#f0f0f0" stroke-width="3.4" stroke-linecap="round"/><path d="M155.9 126.5A10.5 10.5 0 0 1 164.2 144.5" fill="none" stroke="#333" stroke-width="2.6" stroke-linecap="round"/><ellipse cx="208.8" cy="128.4" rx="21.5" ry="20.4" fill="none" stroke="#cdcdcd" stroke-width="2"/><ellipse cx="208.8" cy="128.4" rx="19.1" ry="18" fill="#919191" stroke="#555" stroke-width="2.5"/><ellipse cx="208.8" cy="128.4" rx="11.8" ry="11.2" fill="none" stroke="#a9a9a9" stroke-width="3"/><ellipse cx="208.8" cy="128.4" rx="5.7" ry="5.4" fill="#8c8c8c" stroke="none" stroke-width="0"/><ellipse cx="125.6" cy="154.4" rx="22.5" ry="17" fill="none" stroke="#cdcdcd" stroke-width="2" transform="rotate(30 125.6 154.4)"/><ellipse cx="125.6" cy="154.4" rx="20.1" ry="14.6" fill="#979797" stroke="#646464" stroke-width="2" transform="rotate(30 125.6 154.4)"/><ellipse cx="125.6" cy="154.4" rx="11.1" ry="8" fill="#a0a0a0" stroke="none" stroke-width="0" transform="rotate(30 125.6 154.4)"/><ellipse cx="186.3" cy="163.1" rx="17" ry="25.3" fill="none" stroke="#cdcdcd" stroke-width="2"/><ellipse cx="186.3" cy="163.1" rx="14.6" ry="22.9" fill="#979797" stroke="#646464" stroke-width="2"/><ellipse cx="186.3" cy="163.1" rx="8" ry="12.6" fill="#a0a0a0" stroke="none" stroke-width="0"/><ellipse cx="229.7" cy="161.3" rx="21.5" ry="21.5" fill="none" stroke="#cdcdcd" stroke-width="2"/><ellipse cx="229.7" cy="161.3" rx="19.1" ry="19.1" fill="#919191" stroke="#555" stroke-width="2.5"/><ellipse cx="229.7" cy="161.3" rx="11.8" ry="11.8" fill="none" stroke="#a9a9a9" stroke-width="3"/><ellipse cx="229.7" cy="161.3" rx="5.7" ry="5.7" fill="#8c8c8c" stroke="none" stroke-width="0"/><ellipse cx="158.5" cy="180.4" rx="19.7" ry="20.4" fill="none" stroke="#cdcdcd" stroke-width="2"/><ellipse cx="158.5" cy="180.4" rx="17.3" ry="18" fill="#919191" stroke="#555" stroke-width="2.5"/><ellipse cx="158.5" cy="180.4" rx="10.8" ry="11.2" fill="none" stroke="#a9a9a9" stroke-width="3"/><ellipse cx="158.5" cy="180.4" rx="5.2" ry="5.4" fill="#8c8c8c" stroke="none" stroke-width="0"/><ellipse cx="259.1" cy="189.1" rx="21.5" ry="21.5" fill="none" stroke="#cdcdcd" stroke-width="2"/><ellipse cx="259.1" cy="189.1" rx="19.1" ry="19.1" fill="#919191" stroke="#3a3a3a" stroke-width="2.5"/><ellipse cx="259.1" cy="189.1" rx="16.1" ry="16.1" fill="none" stroke="#f2f2f2" stroke-width="2.8"/><ellipse cx="259.1" cy="189.1" rx="13.1" ry="13.1" fill="#9c9c9c" stroke="#7a7a7a" stroke-width="1.2"/><ellipse cx="59.6" cy="176.9" rx="13.5" ry="25.3" fill="none" stroke="#cdcdcd" stroke-width="2" transform="rotate(10 59.6 176.9)"/><ellipse cx="59.6" cy="176.9" rx="11.1" ry="22.9" fill="#979797" stroke="#646464" stroke-width="2" transform="rotate(10 59.6 176.9)"/><ellipse cx="59.6" cy="176.9" rx="6.1" ry="12.6" fill="#a0a0a0" stroke="none" stroke-width="0" transform="rotate(10 59.6 176.9)"/><ellipse cx="89.1" cy="176.9" rx="14.5" ry="18" fill="none" stroke="#cdcdcd" stroke-width="2"/><ellipse cx="89.1" cy="176.9" rx="12.1" ry="15.6" fill="#919191" stroke="#3a3a3a" stroke-width="2.5"/><ellipse cx="89.1" cy="176.9" rx="7.5" ry="9.7" fill="none" stroke="#a9a9a9" stroke-width="3"/><ellipse cx="89.1" cy="176.9" rx="3.6" ry="4.7" fill="#8c8c8c" stroke="none" stroke-width="0"/><path d="M94.6 173.1A6.7 6.7 0 0 1 87.4 183.4" fill="none" stroke="#f0f0f0" stroke-width="3.4" stroke-linecap="round"/><path d="M97.1 171.4A9.7 9.7 0 0 1 86.6 186.3" fill="none" stroke="#333" stroke-width="2.6" stroke-linecap="round"/><ellipse cx="125.6" cy="192.5" rx="15.6" ry="18" fill="none" stroke="#cdcdcd" stroke-width="2" transform="rotate(20 125.6 192.5)"/><ellipse cx="125.6" cy="192.5" rx="13.2" ry="15.6" fill="#919191" stroke="#3a3a3a" stroke-width="2.5" transform="rotate(20 125.6 192.5)"/><ellipse cx="125.6" cy="192.5" rx="8.2" ry="9.7" fill="none" stroke="#a9a9a9" stroke-width="3" transform="rotate(20 125.6 192.5)"/><ellipse cx="125.6" cy="192.5" rx="4" ry="4.7" fill="#8c8c8c" stroke="none" stroke-width="0" transform="rotate(20 125.6 192.5)"/><path d="M122.5 199.1A7.3 7.3 0 0 1 123.7 185.5" fill="none" stroke="#f0f0f0" stroke-width="3.4" stroke-linecap="round"/><path d="M121.1 202.1A10.5 10.5 0 0 1 122.8 182.4" fill="none" stroke="#333" stroke-width="2.6" stroke-linecap="round"/><ellipse cx="18" cy="229" rx="19.7" ry="15.6" fill="none" stroke="#cdcdcd" stroke-width="2" transform="rotate(-20 18 229)"/><ellipse cx="18" cy="229" rx="17.3" ry="13.2" fill="#919191" stroke="#3a3a3a" stroke-width="2.5" transform="rotate(-20 18 229)"/><ellipse cx="18" cy="229" rx="10.8" ry="8.2" fill="none" stroke="#a9a9a9" stroke-width="3" transform="rotate(-20 18 229)"/><ellipse cx="18" cy="229" rx="5.2" ry="4" fill="#8c8c8c" stroke="none" stroke-width="0" transform="rotate(-20 18 229)"/><path d="M25.2 228.4A7.3 7.3 0 0 1 12.9 234.1" fill="none" stroke="#f6f6f6" stroke-width="3.4" stroke-linecap="round"/><path d="M28.5 228.1A10.5 10.5 0 0 1 10.5 236.4" fill="none" stroke="#1e1e1e" stroke-width="2.6" stroke-linecap="round"/><path d="M13.7 229.4A4.4 4.4 0 0 1 21.1 225.9" fill="none" stroke="#eee" stroke-width="3.4" stroke-linecap="round"/><path d="M11.7 229.5A6.3 6.3 0 0 1 22.5 224.5" fill="none" stroke="#2a2a2a" stroke-width="2.6" stroke-linecap="round"/><ellipse cx="54.4" cy="220.3" rx="18" ry="19.7" fill="none" stroke="#cdcdcd" stroke-width="2"/><ellipse cx="54.4" cy="220.3" rx="15.6" ry="17.3" fill="#919191" stroke="#555" stroke-width="2.5"/><ellipse cx="54.4" cy="220.3" rx="9.7" ry="10.8" fill="none" stroke="#a9a9a9" stroke-width="3"/><ellipse cx="54.4" cy="220.3" rx="4.7" ry="5.2" fill="#8c8c8c" stroke="none" stroke-width="0"/><ellipse cx="99.5" cy="242.9" rx="20.4" ry="17" fill="none" stroke="#cdcdcd" stroke-width="2" transform="rotate(30 99.5 242.9)"/><ellipse cx="99.5" cy="242.9" rx="18" ry="14.6" fill="#919191" stroke="#3a3a3a" stroke-width="2.5" transform="rotate(30 99.5 242.9)"/><ellipse cx="99.5" cy="242.9" rx="11.2" ry="9" fill="none" stroke="#a9a9a9" stroke-width="3" transform="rotate(30 99.5 242.9)"/><ellipse cx="99.5" cy="242.9" rx="5.4" ry="4.4" fill="#8c8c8c" stroke="none" stroke-width="0" transform="rotate(30 99.5 242.9)"/><path d="M99.5 250.9A8 8 0 0 1 94.4 236.7" fill="none" stroke="#f6f6f6" stroke-width="3.4" stroke-linecap="round"/><path d="M99.5 254.5A11.7 11.7 0 0 1 92 233.9" fill="none" stroke="#1e1e1e" stroke-width="2.6" stroke-linecap="round"/><path d="M99.5 238.1A4.8 4.8 0 0 1 102.6 246.5" fill="none" stroke="#eee" stroke-width="3.4" stroke-linecap="round"/><path d="M99.5 235.9A7 7 0 0 1 104 248.2" fill="none" stroke="#2a2a2a" stroke-width="2.6" stroke-linecap="round"/><ellipse cx="71.8" cy="265.4" rx="21.5" ry="19.7" fill="none" stroke="#cdcdcd" stroke-width="2"/><ellipse cx="71.8" cy="265.4" rx="19.1" ry="17.3" fill="#919191" stroke="#555" stroke-width="2.5"/><ellipse cx="71.8" cy="265.4" rx="11.8" ry="10.8" fill="none" stroke="#a9a9a9" stroke-width="3"/><ellipse cx="71.8" cy="265.4" rx="5.7" ry="5.2" fill="#8c8c8c" stroke="none" stroke-width="0"/><ellipse cx="66.6" cy="296.6" rx="18" ry="12.8" fill="none" stroke="#cdcdcd" stroke-width="2" transform="rotate(10 66.6 296.6)"/><ellipse cx="66.6" cy="296.6" rx="15.6" ry="10.4" fill="#919191" stroke="#3a3a3a" stroke-width="2.5" transform="rotate(10 66.6 296.6)"/><ellipse cx="66.6" cy="296.6" rx="9.7" ry="6.5" fill="none" stroke="#a9a9a9" stroke-width="3" transform="rotate(10 66.6 296.6)"/><ellipse cx="66.6" cy="296.6" rx="4.7" ry="3.1" fill="#8c8c8c" stroke="none" stroke-width="0" transform="rotate(10 66.6 296.6)"/><path d="M60.9 296.1A5.7 5.7 0 0 1 71.3 293.4" fill="none" stroke="#f0f0f0" stroke-width="3.4" stroke-linecap="round"/><path d="M58.3 295.9A8.3 8.3 0 0 1 73.4 291.9" fill="none" stroke="#333" stroke-width="2.6" stroke-linecap="round"/><ellipse cx="108.2" cy="310.5" rx="20.4" ry="19.1" fill="none" stroke="#cdcdcd" stroke-width="2"/><ellipse cx="108.2" cy="310.5" rx="18" ry="16.7" fill="#919191" stroke="#3a3a3a" stroke-width="2.5"/><ellipse cx="108.2" cy="310.5" rx="11.2" ry="10.3" fill="none" stroke="#a9a9a9" stroke-width="3"/><ellipse cx="108.2" cy="310.5" rx="5.4" ry="5" fill="#8c8c8c" stroke="none" stroke-width="0"/><path d="M112.1 318.8A9.2 9.2 0 0 1 99.9 306.7" fill="none" stroke="#f0f0f0" stroke-width="3.4" stroke-linecap="round"/><path d="M113.8 322.6A13.3 13.3 0 0 1 96.1 304.9" fill="none" stroke="#333" stroke-width="2.6" stroke-linecap="round"/><ellipse cx="19.7" cy="324.4" rx="15.6" ry="22.5" fill="none" stroke="#cdcdcd" stroke-width="2" transform="rotate(-15 19.7 324.4)"/><ellipse cx="19.7" cy="324.4" rx="13.2" ry="20.1" fill="#979797" stroke="#646464" stroke-width="2" transform="rotate(-15 19.7 324.4)"/><ellipse cx="19.7" cy="324.4" rx="7.3" ry="11.1" fill="#a0a0a0" stroke="none" stroke-width="0" transform="rotate(-15 19.7 324.4)"/><ellipse cx="155.1" cy="279.3" rx="17" ry="25.3" fill="none" stroke="#cdcdcd" stroke-width="2" transform="rotate(10 155.1 279.3)"/><ellipse cx="155.1" cy="279.3" rx="14.6" ry="22.9" fill="#979797" stroke="#646464" stroke-width="2" transform="rotate(10 155.1 279.3)"/><ellipse cx="155.1" cy="279.3" rx="8" ry="12.6" fill="#a0a0a0" stroke="none" stroke-width="0" transform="rotate(10 155.1 279.3)"/><ellipse cx="217.5" cy="248.1" rx="21.5" ry="20.4" fill="none" stroke="#cdcdcd" stroke-width="2"/><ellipse cx="217.5" cy="248.1" rx="19.1" ry="18" fill="#919191" stroke="#555" stroke-width="2.5"/><ellipse cx="217.5" cy="248.1" rx="11.8" ry="11.2" fill="none" stroke="#a9a9a9" stroke-width="3"/><ellipse cx="217.5" cy="248.1" rx="5.7" ry="5.4" fill="#8c8c8c" stroke="none" stroke-width="0"/><ellipse cx="217.5" cy="289.7" rx="23.2" ry="22.5" fill="none" stroke="#cdcdcd" stroke-width="2"/><ellipse cx="217.5" cy="289.7" rx="20.8" ry="20.1" fill="#919191" stroke="#555" stroke-width="2.5"/><ellipse cx="217.5" cy="289.7" rx="12.9" ry="12.5" fill="none" stroke="#a9a9a9" stroke-width="3"/><ellipse cx="217.5" cy="289.7" rx="6.2" ry="6" fill="#8c8c8c" stroke="none" stroke-width="0"/><ellipse cx="255.7" cy="265.4" rx="18" ry="21.5" fill="none" stroke="#cdcdcd" stroke-width="2"/><ellipse cx="255.7" cy="265.4" rx="15.6" ry="19.1" fill="#919191" stroke="#555" stroke-width="2.5"/><ellipse cx="255.7" cy="265.4" rx="9.7" ry="11.8" fill="none" stroke="#a9a9a9" stroke-width="3"/><ellipse cx="255.7" cy="265.4" rx="4.7" ry="5.7" fill="#8c8c8c" stroke="none" stroke-width="0"/><ellipse cx="219.2" cy="326.1" rx="22.5" ry="14.5" fill="none" stroke="#cdcdcd" stroke-width="2" transform="rotate(25 219.2 326.1)"/><ellipse cx="219.2" cy="326.1" rx="20.1" ry="12.1" fill="#979797" stroke="#646464" stroke-width="2" transform="rotate(25 219.2 326.1)"/><ellipse cx="219.2" cy="326.1" rx="11.1" ry="6.7" fill="#a0a0a0" stroke="none" stroke-width="0" transform="rotate(25 219.2 326.1)"/><ellipse cx="262.6" cy="315.7" rx="16.3" ry="15.6" fill="none" stroke="#cdcdcd" stroke-width="2"/><ellipse cx="262.6" cy="315.7" rx="13.9" ry="13.2" fill="#919191" stroke="#3a3a3a" stroke-width="2.5"/><ellipse cx="262.6" cy="315.7" rx="8.6" ry="8.2" fill="none" stroke="#a9a9a9" stroke-width="3"/><ellipse cx="262.6" cy="315.7" rx="4.2" ry="4" fill="#8c8c8c" stroke="none" stroke-width="0"/><path d="M269.6 313.9A7.3 7.3 0 0 1 258.5 321.7" fill="none" stroke="#f0f0f0" stroke-width="3.4" stroke-linecap="round"/><path d="M272.8 313A10.5 10.5 0 0 1 256.6 324.4" fill="none" stroke="#333" stroke-width="2.6" stroke-linecap="round"/><ellipse cx="304.3" cy="293.2" rx="21.5" ry="20.4" fill="none" stroke="#cdcdcd" stroke-width="2"/><ellipse cx="304.3" cy="293.2" rx="19.1" ry="18" fill="#919191" stroke="#555" stroke-width="2.5"/><ellipse cx="304.3" cy="293.2" rx="11.8" ry="11.2" fill="none" stroke="#a9a9a9" stroke-width="3"/><ellipse cx="304.3" cy="293.2" rx="5.7" ry="5.4" fill="#8c8c8c" stroke="none" stroke-width="0"/><ellipse cx="307.7" cy="239.4" rx="21.5" ry="21.5" fill="none" stroke="#cdcdcd" stroke-width="2"/><ellipse cx="307.7" cy="239.4" rx="19.1" ry="19.1" fill="#919191" stroke="#555" stroke-width="2.5"/><ellipse cx="307.7" cy="239.4" rx="11.8" ry="11.8" fill="none" stroke="#a9a9a9" stroke-width="3"/><ellipse cx="307.7" cy="239.4" rx="5.7" ry="5.7" fill="#8c8c8c" stroke="none" stroke-width="0"/><ellipse cx="337.2" cy="213.4" rx="26" ry="14.5" fill="none" stroke="#cdcdcd" stroke-width="2" transform="rotate(20 337.2 213.4)"/><ellipse cx="337.2" cy="213.4" rx="23.6" ry="12.1" fill="#979797" stroke="#646464" stroke-width="2" transform="rotate(20 337.2 213.4)"/><ellipse cx="337.2" cy="213.4" rx="13" ry="6.7" fill="#a0a0a0" stroke="none" stroke-width="0" transform="rotate(20 337.2 213.4)"/><ellipse cx="378.9" cy="232.5" rx="18" ry="18" fill="none" stroke="#cdcdcd" stroke-width="2"/><ellipse cx="378.9" cy="232.5" rx="15.6" ry="15.6" fill="#919191" stroke="#3a3a3a" stroke-width="2.5"/><ellipse cx="378.9" cy="232.5" rx="12.6" ry="12.6" fill="none" stroke="#f2f2f2" stroke-width="2.8"/><ellipse cx="378.9" cy="232.5" rx="9.6" ry="9.6" fill="#9c9c9c" stroke="#7a7a7a" stroke-width="1.2"/><ellipse cx="333.7" cy="261.9" rx="18" ry="16.3" fill="none" stroke="#cdcdcd" stroke-width="2"/><ellipse cx="333.7" cy="261.9" rx="15.6" ry="13.9" fill="#919191" stroke="#3a3a3a" stroke-width="2.5"/><ellipse cx="333.7" cy="261.9" rx="9.7" ry="8.6" fill="none" stroke="#a9a9a9" stroke-width="3"/><ellipse cx="333.7" cy="261.9" rx="4.7" ry="4.2" fill="#8c8c8c" stroke="none" stroke-width="0"/><path d="M328.3 256.5A7.6 7.6 0 0 1 341.4 262.6" fill="none" stroke="#f6f6f6" stroke-width="3.4" stroke-linecap="round"/><path d="M325.9 254.1A11.1 11.1 0 0 1 344.8 262.9" fill="none" stroke="#1e1e1e" stroke-width="2.6" stroke-linecap="round"/><path d="M337 265.2A4.6 4.6 0 0 1 329.2 261.5" fill="none" stroke="#eee" stroke-width="3.4" stroke-linecap="round"/><path d="M338.5 266.7A6.7 6.7 0 0 1 327.1 261.4" fill="none" stroke="#2a2a2a" stroke-width="2.6" stroke-linecap="round"/><ellipse cx="377.1" cy="282.8" rx="20.4" ry="19.1" fill="none" stroke="#cdcdcd" stroke-width="2"/><ellipse cx="377.1" cy="282.8" rx="18" ry="16.7" fill="#919191" stroke="#555" stroke-width="2.5"/><ellipse cx="377.1" cy="282.8" rx="11.2" ry="10.3" fill="none" stroke="#a9a9a9" stroke-width="3"/><ellipse cx="377.1" cy="282.8" rx="5.4" ry="5" fill="#8c8c8c" stroke="none" stroke-width="0"/><ellipse cx="415.3" cy="300.1" rx="14.5" ry="19.7" fill="none" stroke="#cdcdcd" stroke-width="2"/><ellipse cx="415.3" cy="300.1" rx="12.1" ry="17.3" fill="#979797" stroke="#646464" stroke-width="2"/><ellipse cx="415.3" cy="300.1" rx="6.7" ry="9.5" fill="#a0a0a0" stroke="none" stroke-width="0"/><ellipse cx="436.1" cy="255" rx="20.4" ry="14.5" fill="none" stroke="#cdcdcd" stroke-width="2" transform="rotate(10 436.1 255)"/><ellipse cx="436.1" cy="255" rx="18" ry="12.1" fill="#919191" stroke="#3a3a3a" stroke-width="2.5" transform="rotate(10 436.1 255)"/><ellipse cx="436.1" cy="255" rx="11.2" ry="7.5" fill="none" stroke="#a9a9a9" stroke-width="3" transform="rotate(10 436.1 255)"/><ellipse cx="436.1" cy="255" rx="5.4" ry="3.6" fill="#8c8c8c" stroke="none" stroke-width="0" transform="rotate(10 436.1 255)"/><path d="M437.3 261.6A6.7 6.7 0 0 1 431 250.7" fill="none" stroke="#f0f0f0" stroke-width="3.4" stroke-linecap="round"/><path d="M437.8 264.6A9.7 9.7 0 0 1 428.7 248.8" fill="none" stroke="#333" stroke-width="2.6" stroke-linecap="round"/><ellipse cx="443" cy="286.2" rx="16.3" ry="17" fill="none" stroke="#cdcdcd" stroke-width="2"/><ellipse cx="443" cy="286.2" rx="13.9" ry="14.6" fill="#919191" stroke="#555" stroke-width="2.5"/><ellipse cx="443" cy="286.2" rx="8.6" ry="9" fill="none" stroke="#a9a9a9" stroke-width="3"/><ellipse cx="443" cy="286.2" rx="4.2" ry="4.4" fill="#8c8c8c" stroke="none" stroke-width="0"/><ellipse cx="467.3" cy="261.9" rx="16.3" ry="17" fill="none" stroke="#cdcdcd" stroke-width="2"/><ellipse cx="467.3" cy="261.9" rx="13.9" ry="14.6" fill="#919191" stroke="#3a3a3a" stroke-width="2.5"/><ellipse cx="467.3" cy="261.9" rx="8.6" ry="9" fill="none" stroke="#a9a9a9" stroke-width="3"/><ellipse cx="467.3" cy="261.9" rx="4.2" ry="4.4" fill="#8c8c8c" stroke="none" stroke-width="0"/><path d="M472.2 267.8A7.6 7.6 0 0 1 459.8 260.6" fill="none" stroke="#f0f0f0" stroke-width="3.4" stroke-linecap="round"/><path d="M474.5 270.5A11.1 11.1 0 0 1 456.4 260" fill="none" stroke="#333" stroke-width="2.6" stroke-linecap="round"/><ellipse cx="465.6" cy="303.6" rx="16.3" ry="19.1" fill="none" stroke="#cdcdcd" stroke-width="2"/><ellipse cx="465.6" cy="303.6" rx="13.9" ry="16.7" fill="#919191" stroke="#555" stroke-width="2.5"/><ellipse cx="465.6" cy="303.6" rx="8.6" ry="10.3" fill="none" stroke="#a9a9a9" stroke-width="3"/><ellipse cx="465.6" cy="303.6" rx="4.2" ry="5" fill="#8c8c8c" stroke="none" stroke-width="0"/><ellipse cx="415.3" cy="192.5" rx="19.7" ry="19.7" fill="none" stroke="#cdcdcd" stroke-width="2"/><ellipse cx="415.3" cy="192.5" rx="17.3" ry="17.3" fill="#919191" stroke="#555" stroke-width="2.5"/><ellipse cx="415.3" cy="192.5" rx="10.8" ry="10.8" fill="none" stroke="#a9a9a9" stroke-width="3"/><ellipse cx="415.3" cy="192.5" rx="5.2" ry="5.2" fill="#8c8c8c" stroke="none" stroke-width="0"/><ellipse cx="404.9" cy="152.6" rx="21.5" ry="11.1" fill="none" stroke="#cdcdcd" stroke-width="2" transform="rotate(40 404.9 152.6)"/><ellipse cx="404.9" cy="152.6" rx="19.1" ry="8.7" fill="#919191" stroke="#3a3a3a" stroke-width="2.5" transform="rotate(40 404.9 152.6)"/><ellipse cx="404.9" cy="152.6" rx="11.8" ry="5.4" fill="none" stroke="#a9a9a9" stroke-width="3" transform="rotate(40 404.9 152.6)"/><ellipse cx="404.9" cy="152.6" rx="5.7" ry="2.6" fill="#8c8c8c" stroke="none" stroke-width="0" transform="rotate(40 404.9 152.6)"/><path d="M400.2 153.5A4.8 4.8 0 0 1 407.9 149" fill="none" stroke="#f6f6f6" stroke-width="3.4" stroke-linecap="round"/><path d="M398 153.9A6.9 6.9 0 0 1 409.3 147.3" fill="none" stroke="#1e1e1e" stroke-width="2.6" stroke-linecap="round"/><path d="M407.7 152.1A2.9 2.9 0 0 1 403 154.8" fill="none" stroke="#eee" stroke-width="3.4" stroke-linecap="round"/><path d="M409 151.9A4.2 4.2 0 0 1 402.2 155.8" fill="none" stroke="#2a2a2a" stroke-width="2.6" stroke-linecap="round"/><ellipse cx="358" cy="144" rx="18" ry="18" fill="none" stroke="#cdcdcd" stroke-width="2"/><ellipse cx="358" cy="144" rx="15.6" ry="15.6" fill="#919191" stroke="#3a3a3a" stroke-width="2.5"/><ellipse cx="358" cy="144" rx="12.6" ry="12.6" fill="none" stroke="#f2f2f2" stroke-width="2.8"/><ellipse cx="358" cy="144" rx="9.6" ry="9.6" fill="#9c9c9c" stroke="#7a7a7a" stroke-width="1.2"/><ellipse cx="378.9" cy="112.7" rx="19.7" ry="18" fill="none" stroke="#cdcdcd" stroke-width="2"/><ellipse cx="378.9" cy="112.7" rx="17.3" ry="15.6" fill="#919191" stroke="#3a3a3a" stroke-width="2.5"/><ellipse cx="378.9" cy="112.7" rx="10.8" ry="9.7" fill="none" stroke="#a9a9a9" stroke-width="3"/><ellipse cx="378.9" cy="112.7" rx="5.2" ry="4.7" fill="#8c8c8c" stroke="none" stroke-width="0"/><path d="M371.8 107.8A8.6 8.6 0 0 1 387.4 112" fill="none" stroke="#f0f0f0" stroke-width="3.4" stroke-linecap="round"/><path d="M368.6 105.6A12.5 12.5 0 0 1 391.3 111.7" fill="none" stroke="#333" stroke-width="2.6" stroke-linecap="round"/><ellipse cx="318.1" cy="130.1" rx="26.7" ry="16.3" fill="none" stroke="#cdcdcd" stroke-width="2" transform="rotate(-15 318.1 130.1)"/><ellipse cx="318.1" cy="130.1" rx="24.3" ry="13.9" fill="#979797" stroke="#646464" stroke-width="2" transform="rotate(-15 318.1 130.1)"/><ellipse cx="318.1" cy="130.1" rx="13.4" ry="7.6" fill="#a0a0a0" stroke="none" stroke-width="0" transform="rotate(-15 318.1 130.1)"/><ellipse cx="340.7" cy="81.5" rx="18" ry="18" fill="none" stroke="#cdcdcd" stroke-width="2"/><ellipse cx="340.7" cy="81.5" rx="15.6" ry="15.6" fill="#919191" stroke="#3a3a3a" stroke-width="2.5"/><ellipse cx="340.7" cy="81.5" rx="12.6" ry="12.6" fill="none" stroke="#f2f2f2" stroke-width="2.8"/><ellipse cx="340.7" cy="81.5" rx="9.6" ry="9.6" fill="#9c9c9c" stroke="#7a7a7a" stroke-width="1.2"/><ellipse cx="314.7" cy="88.5" rx="13.5" ry="19.7" fill="none" stroke="#cdcdcd" stroke-width="2"/><ellipse cx="314.7" cy="88.5" rx="11.1" ry="17.3" fill="#919191" stroke="#3a3a3a" stroke-width="2.5"/><ellipse cx="314.7" cy="88.5" rx="6.9" ry="10.8" fill="none" stroke="#a9a9a9" stroke-width="3"/><ellipse cx="314.7" cy="88.5" rx="3.3" ry="5.2" fill="#8c8c8c" stroke="none" stroke-width="0"/><path d="M318.6 83.8A6.1 6.1 0 0 1 314.7 94.6" fill="none" stroke="#f6f6f6" stroke-width="3.4" stroke-linecap="round"/><path d="M320.4 81.7A8.9 8.9 0 0 1 314.7 97.3" fill="none" stroke="#1e1e1e" stroke-width="2.6" stroke-linecap="round"/><path d="M312.3 91.3A3.7 3.7 0 0 1 314.7 84.8" fill="none" stroke="#eee" stroke-width="3.4" stroke-linecap="round"/><path d="M311.2 92.5A5.3 5.3 0 0 1 314.7 83.1" fill="none" stroke="#2a2a2a" stroke-width="2.6" stroke-linecap="round"/><ellipse cx="266.1" cy="133.6" rx="20.4" ry="18" fill="none" stroke="#cdcdcd" stroke-width="2"/><ellipse cx="266.1" cy="133.6" rx="18" ry="15.6" fill="#919191" stroke="#3a3a3a" stroke-width="2.5"/><ellipse cx="266.1" cy="133.6" rx="11.2" ry="9.7" fill="none" stroke="#a9a9a9" stroke-width="3"/><ellipse cx="266.1" cy="133.6" rx="5.4" ry="4.7" fill="#8c8c8c" stroke="none" stroke-width="0"/><path d="M273.5 129.3A8.6 8.6 0 0 1 263.1 141.6" fill="none" stroke="#f6f6f6" stroke-width="3.4" stroke-linecap="round"/><path d="M276.9 127.3A12.5 12.5 0 0 1 261.8 145.3" fill="none" stroke="#1e1e1e" stroke-width="2.6" stroke-linecap="round"/><path d="M261.6 136.1A5.2 5.2 0 0 1 267.8 128.7" fill="none" stroke="#eee" stroke-width="3.4" stroke-linecap="round"/><path d="M259.6 137.3A7.5 7.5 0 0 1 268.6 126.5" fill="none" stroke="#2a2a2a" stroke-width="2.6" stroke-linecap="round"/><ellipse cx="259.1" cy="74.6" rx="19.7" ry="19.1" fill="none" stroke="#cdcdcd" stroke-width="2"/><ellipse cx="259.1" cy="74.6" rx="17.3" ry="16.7" fill="#919191" stroke="#3a3a3a" stroke-width="2.5"/><ellipse cx="259.1" cy="74.6" rx="10.8" ry="10.3" fill="none" stroke="#a9a9a9" stroke-width="3"/><ellipse cx="259.1" cy="74.6" rx="5.2" ry="5" fill="#8c8c8c" stroke="none" stroke-width="0"/><path d="M268.2 73A9.2 9.2 0 0 1 253.3 81.6" fill="none" stroke="#f0f0f0" stroke-width="3.4" stroke-linecap="round"/><path d="M272.3 72.3A13.3 13.3 0 0 1 250.6 84.8" fill="none" stroke="#333" stroke-width="2.6" stroke-linecap="round"/><ellipse cx="252.2" cy="105.8" rx="25" ry="16.3" fill="none" stroke="#cdcdcd" stroke-width="2" transform="rotate(30 252.2 105.8)"/><ellipse cx="252.2" cy="105.8" rx="22.6" ry="13.9" fill="#979797" stroke="#646464" stroke-width="2" transform="rotate(30 252.2 105.8)"/><ellipse cx="252.2" cy="105.8" rx="12.4" ry="7.6" fill="#a0a0a0" stroke="none" stroke-width="0" transform="rotate(30 252.2 105.8)"/><ellipse cx="248.7" cy="36.4" rx="22.5" ry="14.5" fill="none" stroke="#cdcdcd" stroke-width="2" transform="rotate(30 248.7 36.4)"/><ellipse cx="248.7" cy="36.4" rx="20.1" ry="12.1" fill="#979797" stroke="#646464" stroke-width="2" transform="rotate(30 248.7 36.4)"/><ellipse cx="248.7" cy="36.4" rx="11.1" ry="6.7" fill="#a0a0a0" stroke="none" stroke-width="0" transform="rotate(30 248.7 36.4)"/><ellipse cx="274.8" cy="20.8" rx="16.3" ry="17" fill="none" stroke="#cdcdcd" stroke-width="2"/><ellipse cx="274.8" cy="20.8" rx="13.9" ry="14.6" fill="#919191" stroke="#3a3a3a" stroke-width="2.5"/><ellipse cx="274.8" cy="20.8" rx="8.6" ry="9" fill="none" stroke="#a9a9a9" stroke-width="3"/><ellipse cx="274.8" cy="20.8" rx="4.2" ry="4.4" fill="#8c8c8c" stroke="none" stroke-width="0"/><path d="M267.6 18.2A7.6 7.6 0 0 1 281.9 18.2" fill="none" stroke="#f0f0f0" stroke-width="3.4" stroke-linecap="round"/><path d="M264.3 17A11.1 11.1 0 0 1 285.2 17" fill="none" stroke="#333" stroke-width="2.6" stroke-linecap="round"/><ellipse cx="354.6" cy="29.5" rx="20.4" ry="14.9" fill="none" stroke="#cdcdcd" stroke-width="2" transform="rotate(-15 354.6 29.5)"/><ellipse cx="354.6" cy="29.5" rx="18" ry="12.5" fill="#919191" stroke="#555" stroke-width="2.5" transform="rotate(-15 354.6 29.5)"/><ellipse cx="354.6" cy="29.5" rx="11.2" ry="7.7" fill="none" stroke="#a9a9a9" stroke-width="3" transform="rotate(-15 354.6 29.5)"/><ellipse cx="354.6" cy="29.5" rx="5.4" ry="3.7" fill="#8c8c8c" stroke="none" stroke-width="0" transform="rotate(-15 354.6 29.5)"/><ellipse cx="408.3" cy="12.1" rx="18" ry="19.1" fill="none" stroke="#cdcdcd" stroke-width="2"/><ellipse cx="408.3" cy="12.1" rx="15.6" ry="16.7" fill="#919191" stroke="#555" stroke-width="2.5"/><ellipse cx="408.3" cy="12.1" rx="9.7" ry="10.3" fill="none" stroke="#a9a9a9" stroke-width="3"/><ellipse cx="408.3" cy="12.1" rx="4.7" ry="5" fill="#8c8c8c" stroke="none" stroke-width="0"/><ellipse cx="401.4" cy="52" rx="21.5" ry="19.7" fill="none" stroke="#cdcdcd" stroke-width="2"/><ellipse cx="401.4" cy="52" rx="19.1" ry="17.3" fill="#919191" stroke="#555" stroke-width="2.5"/><ellipse cx="401.4" cy="52" rx="11.8" ry="10.8" fill="none" stroke="#a9a9a9" stroke-width="3"/><ellipse cx="401.4" cy="52" rx="5.7" ry="5.2" fill="#8c8c8c" stroke="none" stroke-width="0"/><ellipse cx="443" cy="53.8" rx="18" ry="19.1" fill="none" stroke="#cdcdcd" stroke-width="2"/><ellipse cx="443" cy="53.8" rx="15.6" ry="16.7" fill="#919191" stroke="#555" stroke-width="2.5"/><ellipse cx="443" cy="53.8" rx="9.7" ry="10.3" fill="none" stroke="#a9a9a9" stroke-width="3"/><ellipse cx="443" cy="53.8" rx="4.7" ry="5" fill="#8c8c8c" stroke="none" stroke-width="0"/><ellipse cx="455.2" cy="15.6" rx="21.5" ry="19.1" fill="none" stroke="#cdcdcd" stroke-width="2" transform="rotate(20 455.2 15.6)"/><ellipse cx="455.2" cy="15.6" rx="19.1" ry="16.7" fill="#919191" stroke="#3a3a3a" stroke-width="2.5" transform="rotate(20 455.2 15.6)"/><ellipse cx="455.2" cy="15.6" rx="11.8" ry="10.3" fill="none" stroke="#a9a9a9" stroke-width="3" transform="rotate(20 455.2 15.6)"/><ellipse cx="455.2" cy="15.6" rx="5.7" ry="5" fill="#8c8c8c" stroke="none" stroke-width="0" transform="rotate(20 455.2 15.6)"/><path d="M446.3 13.2A9.2 9.2 0 0 1 463.5 11.7" fill="none" stroke="#f0f0f0" stroke-width="3.4" stroke-linecap="round"/><path d="M442.3 12.1A13.3 13.3 0 0 1 467.3 10" fill="none" stroke="#333" stroke-width="2.6" stroke-linecap="round"/><ellipse cx="455.2" cy="85" rx="21.5" ry="12.1" fill="none" stroke="#cdcdcd" stroke-width="2" transform="rotate(25 455.2 85)"/><ellipse cx="455.2" cy="85" rx="19.1" ry="9.7" fill="#979797" stroke="#646464" stroke-width="2" transform="rotate(25 455.2 85)"/><ellipse cx="455.2" cy="85" rx="10.5" ry="5.3" fill="#a0a0a0" stroke="none" stroke-width="0" transform="rotate(25 455.2 85)"/><ellipse cx="293.8" cy="98.9" rx="16.3" ry="23.9" fill="none" stroke="#cdcdcd" stroke-width="2" transform="rotate(-20 293.8 98.9)"/><ellipse cx="293.8" cy="98.9" rx="13.9" ry="21.5" fill="#979797" stroke="#646464" stroke-width="2" transform="rotate(-20 293.8 98.9)"/><ellipse cx="293.8" cy="98.9" rx="7.6" ry="11.8" fill="#a0a0a0" stroke="none" stroke-width="0" transform="rotate(-20 293.8 98.9)"/><ellipse cx="474.3" cy="57.2" rx="11.1" ry="16.3" fill="none" stroke="#cdcdcd" stroke-width="2"/><ellipse cx="474.3" cy="57.2" rx="8.7" ry="13.9" fill="#919191" stroke="#555" stroke-width="2.5"/><ellipse cx="474.3" cy="57.2" rx="5.4" ry="8.6" fill="none" stroke="#a9a9a9" stroke-width="3"/><ellipse cx="474.3" cy="57.2" rx="2.6" ry="4.2" fill="#8c8c8c" stroke="none" stroke-width="0"/><circle cx="352.8" cy="27.7" r="2.4" fill="#111"/><circle cx="70" cy="265.4" r="2" fill="#222"/></g></svg>
<svg x="1847.5" y="198.7" width="477.5" height="356" viewBox="0 0 477.5 356"><rect x="-20" y="-20" width="517.5" height="396" fill="#010004"/><g filter="url(#bl1_2)"><ellipse cx="2.8" cy="9.6" rx="15.3" ry="22.1" fill="url(#frB50)"/><ellipse cx="37.5" cy="2.6" rx="19.8" ry="17.2" fill="url(#frB38)"/><ellipse cx="80.9" cy="9.6" rx="26.7" ry="21" fill="url(#frB34)" transform="rotate(-15 80.9 9.6)"/><ellipse cx="4.6" cy="51.2" rx="16" ry="19.1" fill="url(#frB50)"/><ellipse cx="32.3" cy="59.9" rx="19.1" ry="18.3" fill="url(#frB38)"/><ellipse cx="72.2" cy="40.8" rx="17.2" ry="16" fill="url(#frB42)"/><ellipse cx="112.1" cy="56.4" rx="17.2" ry="17.2" fill="url(#fcB62)"/><ellipse cx="114.1" cy="56.4" rx="7.7" ry="10.3" fill="#d434bb" opacity="0.8"/><ellipse cx="58.4" cy="77.2" rx="10.7" ry="19.1" fill="url(#fcB38)"/><ellipse cx="23.7" cy="98" rx="21" ry="21" fill="url(#frB34)"/><ellipse cx="93.1" cy="82.4" rx="17.2" ry="17.2" fill="url(#frB34)"/><ellipse cx="93.1" cy="118.9" rx="18.3" ry="19.1" fill="url(#frB38)"/><ellipse cx="160.7" cy="33.8" rx="22.1" ry="23.7" fill="url(#frB34)"/><ellipse cx="200.6" cy="75.5" rx="19.1" ry="19.8" fill="url(#frB42)"/><ellipse cx="162.5" cy="98" rx="22.1" ry="13.4" fill="url(#fcB34)" transform="rotate(35 162.5 98)"/><ellipse cx="153.8" cy="127.5" rx="15.3" ry="14.5" fill="url(#frB38)"/><ellipse cx="205.8" cy="118.9" rx="21" ry="19.8" fill="url(#frB34)"/><ellipse cx="122.6" cy="144.9" rx="22.1" ry="16" fill="url(#fcB30)" transform="rotate(30 122.6 144.9)"/><ellipse cx="183.3" cy="153.6" rx="16" ry="25.2" fill="url(#fcB34)"/><ellipse cx="226.7" cy="151.8" rx="21" ry="21" fill="url(#frB34)"/><ellipse cx="155.5" cy="170.9" rx="19.1" ry="19.8" fill="url(#frB46)"/><ellipse cx="256.1" cy="179.6" rx="21" ry="21" fill="url(#frB46)"/><ellipse cx="56.6" cy="167.4" rx="12.2" ry="25.2" fill="url(#fcB62)" transform="rotate(10 56.6 167.4)"/><ellipse cx="58.6" cy="167.4" rx="5.5" ry="15.1" fill="#d434bb" transform="rotate(10 58.6 167.4)" opacity="0.8"/><ellipse cx="86.1" cy="167.4" rx="13.4" ry="17.2" fill="url(#frB42)"/><ellipse cx="122.6" cy="183" rx="14.5" ry="17.2" fill="url(#frB50)" transform="rotate(20 122.6 183)"/><ellipse cx="15" cy="219.5" rx="19.1" ry="14.5" fill="url(#frB42)" transform="rotate(-20 15 219.5)"/><ellipse cx="51.4" cy="210.8" rx="17.2" ry="19.1" fill="url(#frB38)"/><ellipse cx="96.5" cy="233.4" rx="19.8" ry="16" fill="url(#frB50)" transform="rotate(30 96.5 233.4)"/><ellipse cx="68.8" cy="255.9" rx="21" ry="19.1" fill="url(#frB38)"/><ellipse cx="63.6" cy="287.1" rx="17.2" ry="11.5" fill="url(#frB34)" transform="rotate(10 63.6 287.1)"/><ellipse cx="105.2" cy="301" rx="19.8" ry="18.3" fill="url(#frB34)"/><ellipse cx="16.7" cy="314.9" rx="14.5" ry="22.1" fill="url(#fcB62)" transform="rotate(-15 16.7 314.9)"/><ellipse cx="18.7" cy="314.9" rx="6.5" ry="13.3" fill="#d434bb" transform="rotate(-15 18.7 314.9)" opacity="0.8"/><ellipse cx="152.1" cy="269.8" rx="16" ry="25.2" fill="url(#fcB38)" transform="rotate(10 152.1 269.8)"/><ellipse cx="214.5" cy="238.6" rx="21" ry="19.8" fill="url(#frB42)"/><ellipse cx="214.5" cy="280.2" rx="22.9" ry="22.1" fill="url(#frB38)"/><ellipse cx="252.7" cy="255.9" rx="17.2" ry="21" fill="url(#frB42)"/><ellipse cx="216.2" cy="316.6" rx="22.1" ry="13.4" fill="url(#fcB34)" transform="rotate(25 216.2 316.6)"/><ellipse cx="259.6" cy="306.2" rx="15.3" ry="14.5" fill="url(#frB42)"/><ellipse cx="301.3" cy="283.7" rx="21" ry="19.8" fill="url(#frB46)"/><ellipse cx="304.7" cy="229.9" rx="21" ry="21" fill="url(#frB34)"/><ellipse cx="334.2" cy="203.9" rx="26" ry="13.4" fill="url(#fcB30)" transform="rotate(20 334.2 203.9)"/><ellipse cx="375.9" cy="223" rx="17.2" ry="17.2" fill="url(#frB50)"/><ellipse cx="330.7" cy="252.4" rx="17.2" ry="15.3" fill="url(#frB46)"/><ellipse cx="374.1" cy="273.3" rx="19.8" ry="18.3" fill="url(#frB46)"/><ellipse cx="412.3" cy="290.6" rx="13.4" ry="19.1" fill="url(#fcB38)"/><ellipse cx="433.1" cy="245.5" rx="19.8" ry="13.4" fill="url(#frB46)" transform="rotate(10 433.1 245.5)"/><ellipse cx="440" cy="276.7" rx="15.3" ry="16" fill="url(#frB34)"/><ellipse cx="464.3" cy="252.4" rx="15.3" ry="16" fill="url(#frB34)"/><ellipse cx="462.6" cy="294.1" rx="15.3" ry="18.3" fill="url(#frB34)"/><ellipse cx="412.3" cy="183" rx="19.1" ry="19.1" fill="url(#frB50)"/><ellipse cx="401.9" cy="143.1" rx="21" ry="9.5" fill="url(#frB34)" transform="rotate(40 401.9 143.1)"/><ellipse cx="355" cy="134.5" rx="17.2" ry="17.2" fill="url(#frB42)"/><ellipse cx="375.9" cy="103.2" rx="19.1" ry="17.2" fill="url(#frB38)"/><ellipse cx="315.1" cy="120.6" rx="26.7" ry="15.3" fill="url(#fcB30)" transform="rotate(-15 315.1 120.6)"/><ellipse cx="337.7" cy="72" rx="17.2" ry="17.2" fill="url(#frB42)"/><ellipse cx="311.7" cy="79" rx="12.2" ry="19.1" fill="url(#frB50)"/><ellipse cx="263.1" cy="124.1" rx="19.8" ry="17.2" fill="url(#frB38)"/><ellipse cx="256.1" cy="65.1" rx="19.1" ry="18.3" fill="url(#frB50)"/><ellipse cx="249.2" cy="96.3" rx="24.8" ry="15.3" fill="url(#fcB30)" transform="rotate(30 249.2 96.3)"/><ellipse cx="245.7" cy="26.9" rx="22.1" ry="13.4" fill="url(#fcB30)" transform="rotate(30 245.7 26.9)"/><ellipse cx="271.8" cy="11.3" rx="15.3" ry="16" fill="url(#frB38)"/><ellipse cx="351.6" cy="20" rx="19.8" ry="13.7" fill="url(#frB34)" transform="rotate(-15 351.6 20)"/><ellipse cx="405.3" cy="2.6" rx="17.2" ry="18.3" fill="url(#frB46)"/><ellipse cx="398.4" cy="42.5" rx="21" ry="19.1" fill="url(#frB46)"/><ellipse cx="440" cy="44.3" rx="17.2" ry="18.3" fill="url(#frB38)"/><ellipse cx="452.2" cy="6.1" rx="21" ry="18.3" fill="url(#frB38)" transform="rotate(20 452.2 6.1)"/><ellipse cx="452.2" cy="75.5" rx="21" ry="10.7" fill="url(#fcB34)" transform="rotate(25 452.2 75.5)"/><ellipse cx="290.8" cy="89.4" rx="15.3" ry="23.7" fill="url(#fcB38)" transform="rotate(-20 290.8 89.4)"/><ellipse cx="471.3" cy="47.7" rx="9.5" ry="15.3" fill="url(#frB34)"/></g><g filter="url(#bl1_2)"><circle cx="2.2" cy="-8.8" r="2.2" fill="#b437e3"/><circle cx="48.9" cy="5.9" r="1.9" fill="#ed3755"/><circle cx="37.9" cy="15.3" r="1.4" fill="#da33ad"/><circle cx="40.2" cy="13.5" r="1.6" fill="#ff9a00"/><circle cx="-4.4" cy="55.1" r="1.6" fill="#b437e3"/><circle cx="7.7" cy="67.9" r="1.7" fill="#da33ad"/><circle cx="42.8" cy="50" r="2.3" fill="#da33ad"/><circle cx="26.2" cy="44.7" r="1.7" fill="#ff9a00"/><circle cx="77.4" cy="49.1" r="1.7" fill="#b437e3"/><circle cx="125.7" cy="56.7" r="1.5" fill="#ed3755"/><circle cx="105.2" cy="65.3" r="1.6" fill="#ed3755"/><circle cx="35.2" cy="96.2" r="2.2" fill="#ed3755"/><circle cx="95.8" cy="71.1" r="1.9" fill="#b437e3"/><circle cx="89.6" cy="69.7" r="1.5" fill="#da33ad"/><circle cx="86.2" cy="129.5" r="2.2" fill="#ed3755"/><circle cx="160.5" cy="14.2" r="1.4" fill="#ed3755"/><circle cx="172.9" cy="29.2" r="1.9" fill="#ed3755"/><circle cx="152.4" cy="88" r="2.7" fill="#ffe114"/><circle cx="172.3" cy="93" r="3.1" fill="#f34b25"/><circle cx="173.6" cy="105.6" r="2.5" fill="#ff9a00"/><circle cx="153.6" cy="83.4" r="2.6" fill="#ff9a00"/><circle cx="153.4" cy="84.1" r="3.1" fill="#ffe114"/><circle cx="199.2" cy="129.5" r="2" fill="#da33ad"/><circle cx="222.5" cy="166.1" r="2.4" fill="#da33ad"/><circle cx="150.8" cy="158.7" r="1.7" fill="#ed3755"/><circle cx="66.4" cy="164.2" r="2.3" fill="#ff9a00"/><circle cx="57.5" cy="184.3" r="1.5" fill="#ed3755"/><circle cx="79.7" cy="162.4" r="1.8" fill="#ed3755"/><circle cx="83.7" cy="156.8" r="1.7" fill="#ff9a00"/><circle cx="96.7" cy="165.8" r="2" fill="#ed3755"/><circle cx="110.7" cy="181.2" r="3.1" fill="#ffe114"/><circle cx="110.3" cy="182.1" r="3.1" fill="#f34b25"/><circle cx="16.5" cy="229.2" r="1.8" fill="#ff9a00"/><circle cx="40.4" cy="214.8" r="1.9" fill="#ed3755"/><circle cx="41.2" cy="208.7" r="2.3" fill="#ed3755"/><circle cx="38" cy="213" r="1.6" fill="#ff9a00"/><circle cx="95.3" cy="221.5" r="3" fill="#f34b25"/><circle cx="107.8" cy="231" r="2.6" fill="#ff9a00"/><circle cx="88.4" cy="221.3" r="2.6" fill="#ff9a00"/><circle cx="97" cy="220.5" r="3.4" fill="#ff9a00"/><circle cx="119.2" cy="298.4" r="1.8" fill="#b437e3"/><circle cx="5.8" cy="306.6" r="2.1" fill="#da33ad"/><circle cx="12.8" cy="326.9" r="2.3" fill="#ed3755"/><circle cx="20.8" cy="300.3" r="2.4" fill="#ed3755"/><circle cx="159.9" cy="281.8" r="2.4" fill="#ed3755"/><circle cx="220.6" cy="226" r="1.9" fill="#ed3755"/><circle cx="202.3" cy="290.9" r="2.4" fill="#da33ad"/><circle cx="202.5" cy="270.8" r="1.8" fill="#b437e3"/><circle cx="263.7" cy="248.1" r="2" fill="#ed3755"/><circle cx="261.8" cy="246.9" r="2.4" fill="#ff9a00"/><circle cx="230.4" cy="321.5" r="3" fill="#ff9a00"/><circle cx="210.1" cy="326.9" r="2.7" fill="#ffe114"/><circle cx="233.2" cy="326.1" r="2.9" fill="#ffe114"/><circle cx="294" cy="219.6" r="1.4" fill="#ed3755"/><circle cx="314.2" cy="240.8" r="1.9" fill="#ff9a00"/><circle cx="302" cy="248.1" r="1.6" fill="#b437e3"/><circle cx="350.3" cy="209.1" r="1.9" fill="#ff9a00"/><circle cx="350.9" cy="200.7" r="1.4" fill="#b437e3"/><circle cx="343.2" cy="213.7" r="2" fill="#ed3755"/><circle cx="321.8" cy="261.9" r="2.5" fill="#f34b25"/><circle cx="343.5" cy="252.6" r="3.3" fill="#f34b25"/><circle cx="340.4" cy="245.1" r="2.8" fill="#ff9a00"/><circle cx="360" cy="266.6" r="3" fill="#f34b25"/><circle cx="384.7" cy="261.3" r="2.8" fill="#ffe114"/><circle cx="381.5" cy="264.2" r="2.9" fill="#ffe114"/><circle cx="374.8" cy="261.3" r="3.1" fill="#ff9a00"/><circle cx="406.6" cy="279.7" r="1.5" fill="#ed3755"/><circle cx="420.1" cy="240.2" r="1.9" fill="#ed3755"/><circle cx="419.4" cy="247.6" r="1.5" fill="#b437e3"/><circle cx="433.2" cy="256.8" r="2.1" fill="#b437e3"/><circle cx="437.7" cy="262.6" r="2.1" fill="#ff9a00"/><circle cx="417.3" cy="173" r="2.4" fill="#da33ad"/><circle cx="408.6" cy="170.1" r="2" fill="#da33ad"/><circle cx="402.4" cy="189" r="1.4" fill="#da33ad"/><circle cx="392.7" cy="140.4" r="2" fill="#b437e3"/><circle cx="407.2" cy="153.4" r="1.4" fill="#da33ad"/><circle cx="409.9" cy="155.2" r="1.9" fill="#ff9a00"/><circle cx="371.9" cy="115.6" r="2.3" fill="#ed3755"/><circle cx="362.1" cy="98.8" r="1.5" fill="#ed3755"/><circle cx="377.3" cy="117.6" r="1.9" fill="#ed3755"/><circle cx="299" cy="128.1" r="2.1" fill="#da33ad"/><circle cx="321.8" cy="82.6" r="1.6" fill="#ff9a00"/><circle cx="317.9" cy="69.4" r="1.5" fill="#ed3755"/><circle cx="302.8" cy="76.2" r="1.5" fill="#ff9a00"/><circle cx="257.9" cy="114.3" r="2.5" fill="#ff9a00"/><circle cx="275.3" cy="117.5" r="2.5" fill="#ff9a00"/><circle cx="253.6" cy="115.9" r="2.7" fill="#ff9a00"/><circle cx="248.6" cy="75.3" r="2.1" fill="#da33ad"/><circle cx="248.3" cy="74.4" r="2.4" fill="#ff9a00"/><circle cx="249.2" cy="72.9" r="2.1" fill="#da33ad"/><circle cx="360.5" cy="11" r="1.4" fill="#ed3755"/><circle cx="415.5" cy="-6.4" r="1.7" fill="#ff9a00"/><circle cx="456.8" cy="83.8" r="2.2" fill="#ed3755"/><circle cx="476.4" cy="41.5" r="1.7" fill="#ed3755"/></g><rect x="407" y="329" width="47" height="3" fill="#d8d8d8"/></svg>
<svg x="143.3" y="630" width="478" height="238" viewBox="0 0 478 238"><rect x="-20" y="-20" width="518" height="278" fill="#00004a"/><g filter="url(#bl5)"><rect x="-20" y="-20" width="520" height="280" fill="url(#abg)"/><circle cx="100" cy="47" r="37" fill="url(#fcF30)" opacity="0.92"/><circle cx="151" cy="16" r="34.7" fill="url(#fcF34)" opacity="0.92"/><circle cx="204" cy="49" r="41.4" fill="url(#fcF38)" opacity="0.92"/><circle cx="272" cy="24" r="34.7" fill="url(#fcF34)" opacity="0.92"/><circle cx="65" cy="99" r="39.2" fill="url(#fcF30)" opacity="0.92"/><circle cx="122" cy="132" r="37" fill="url(#fcF26)" opacity="0.92"/><circle cx="246" cy="126" r="37" fill="url(#fcF30)" opacity="0.92"/><circle cx="392" cy="104" r="38.1" fill="url(#fcF34)" opacity="0.92"/><circle cx="450" cy="166" r="34.7" fill="url(#fcF34)" opacity="0.92"/><circle cx="17" cy="170" r="32.5" fill="url(#fcF30)" opacity="0.92"/><circle cx="65" cy="170" r="34.7" fill="url(#fcF38)" opacity="0.92"/><circle cx="171" cy="174" r="28" fill="url(#fcF30)" opacity="0.92"/><circle cx="215" cy="209" r="37" fill="url(#fcF34)" opacity="0.92"/><circle cx="313" cy="199" r="32.5" fill="url(#fcF34)" opacity="0.92"/><circle cx="84" cy="207" r="37" fill="url(#fcF34)" opacity="0.92"/><circle cx="151" cy="216" r="32.5" fill="url(#fcF30)" opacity="0.92"/><circle cx="413" cy="211" r="32.5" fill="url(#fcF34)" opacity="0.92"/><circle cx="9" cy="224" r="23.5" fill="url(#fcF30)" opacity="0.92"/><circle cx="267" cy="232" r="23.5" fill="url(#fcF30)" opacity="0.92"/><circle cx="371" cy="232" r="23.5" fill="url(#fcF34)" opacity="0.92"/></g><g filter="url(#bl2)"><circle cx="152" cy="149" r="2.4" fill="#9e00bc"/></g><text x="8" y="39.5" font-size="44" text-anchor="start" font-weight="bold" font-style="italic" fill="#f5f514" stroke="#f5f514" stroke-width="0.7" stroke-linejoin="round">1</text><ellipse cx="97" cy="45" rx="35.5" ry="35.5" fill="none" stroke="#ff2a10" stroke-width="7.5"/><ellipse cx="272" cy="28.5" rx="34" ry="26.5" fill="none" stroke="#0a46ff" stroke-width="7.5"/><ellipse cx="393.5" cy="105" rx="31.5" ry="30" fill="none" stroke="#08ee10" stroke-width="7.5"/><ellipse cx="64" cy="168.5" rx="34.5" ry="35.5" fill="none" stroke="#10f4ff" stroke-width="7.5"/><ellipse cx="171" cy="176" rx="25" ry="28.5" fill="none" stroke="#ffee00" stroke-width="7.5"/><ellipse cx="314.5" cy="198" rx="34.5" ry="33" fill="none" stroke="#ff8208" stroke-width="7.5"/><rect x="350.5" y="10.5" width="102" height="6" fill="#fff"/><text x="403" y="68" font-size="44" text-anchor="middle" font-weight="bold" font-style="italic" fill="#fff" stroke="#fff" stroke-width="0.7" stroke-linejoin="round">10 µm</text></svg>
<svg x="1316.2" y="635" width="478" height="238" viewBox="0 0 478 238"><rect x="-20" y="-20" width="518" height="278" fill="#01000a"/><g filter="url(#bl3)"><ellipse cx="177" cy="29" rx="39.6" ry="33" fill="url(#fcP22)" transform="rotate(10 177 29)"/><ellipse cx="231" cy="33" rx="33" ry="26.4" fill="url(#fcP30)" transform="rotate(30 231 33)"/><ellipse cx="214" cy="104" rx="35.2" ry="33" fill="url(#frP22)"/><ellipse cx="264" cy="121" rx="29.7" ry="27.5" fill="url(#frP22)"/><ellipse cx="385" cy="129" rx="30.8" ry="29.7" fill="url(#frP18)"/><ellipse cx="439" cy="67" rx="31.9" ry="30.8" fill="url(#fcP22)"/><ellipse cx="302" cy="162" rx="29.7" ry="27.5" fill="url(#fcP34)"/><ellipse cx="169" cy="196" rx="34.1" ry="31.9" fill="url(#frP22)"/><ellipse cx="128" cy="185" rx="26.4" ry="26.4" fill="url(#fcP22)"/><ellipse cx="402" cy="204" rx="30.8" ry="29.7" fill="url(#fcP26)"/><ellipse cx="6" cy="183" rx="19.8" ry="24.2" fill="url(#fcP30)"/><ellipse cx="102" cy="56" rx="33" ry="33" fill="url(#frP22)"/><ellipse cx="168" cy="128" rx="39.6" ry="26.4" fill="url(#frP22)" transform="rotate(35 168 128)"/><ellipse cx="250" cy="191" rx="33" ry="29.7" fill="url(#frP22)"/><ellipse cx="339" cy="191" rx="33" ry="24.2" fill="url(#fcP30)" transform="rotate(-30 339 191)"/><ellipse cx="439" cy="143" rx="26.4" ry="36.3" fill="url(#fcP26)"/><ellipse cx="325" cy="52" rx="28.6" ry="38.5" fill="url(#fcP46)"/><ellipse cx="350" cy="225" rx="33" ry="19.8" fill="url(#fcP22)"/><ellipse cx="470" cy="215" rx="22" ry="22" fill="url(#fcP22)"/><ellipse cx="387" cy="38" rx="27" ry="30" fill="url(#fcP22)"/></g><g filter="url(#bl2)"><circle cx="27" cy="100" r="26" fill="url(#fcP38)"/><circle cx="49" cy="100" r="9" fill="#6730de" opacity="0.8"/><circle cx="42.6" cy="117" r="9" fill="#6730de" opacity="0.8"/><circle cx="27" cy="124" r="9" fill="#6730de" opacity="0.8"/><circle cx="11.4" cy="117" r="9" fill="#6730de" opacity="0.8"/><circle cx="5" cy="100" r="9" fill="#6730de" opacity="0.8"/><circle cx="11.4" cy="83" r="9" fill="#6730de" opacity="0.8"/><circle cx="27" cy="76" r="9" fill="#6730de" opacity="0.8"/><circle cx="42.6" cy="83" r="9" fill="#6730de" opacity="0.8"/><circle cx="30" cy="72" r="3" fill="#e8402a"/><ellipse cx="38" cy="116" rx="3.2" ry="5.5" fill="#ff9a10"/></g><g filter="url(#bl1_2)"><circle cx="250" cy="49" r="2.6" fill="#ffdb00"/><circle cx="150" cy="114" r="3" fill="#b8007a"/><circle cx="208" cy="192" r="2.5" fill="#ad0097"/><circle cx="348" cy="202" r="2.8" fill="#c3005d"/><circle cx="384" cy="206" r="3.2" fill="#e0306a"/><circle cx="383" cy="230" r="2.4" fill="#ad0097"/><circle cx="448" cy="147" r="3.5" fill="#9e00bc"/><circle cx="3" cy="201" r="2.5" fill="#ad0097"/></g><g filter="url(#bl2)"></g><g filter="url(#bl1_2)"></g><text x="6" y="41.5" font-size="44" text-anchor="start" font-weight="bold" font-style="italic" fill="#f5f514" stroke="#f5f514" stroke-width="0.7" stroke-linejoin="round">1</text><ellipse cx="102" cy="56" rx="31" ry="31" fill="none" stroke="#0a46ff" stroke-width="7"/><ellipse cx="387" cy="34.6" rx="27" ry="30" fill="none" stroke="#ff2a10" stroke-width="7"/><ellipse cx="168.6" cy="128" rx="40.5" ry="26" fill="none" transform="rotate(37 168.6 128)" stroke="#10f4ff" stroke-width="7"/><ellipse cx="250.6" cy="191.5" rx="34" ry="30" fill="none" stroke="#ffee00" stroke-width="7"/><ellipse cx="339" cy="191.5" rx="33.5" ry="25" fill="none" transform="rotate(-32 339 191.5)" stroke="#08ee10" stroke-width="7"/><ellipse cx="439" cy="143" rx="26" ry="35.5" fill="none" stroke="#ff8208" stroke-width="7"/></svg>
<svg x="684.5" y="630" width="478" height="238" viewBox="0 0 478 238"><rect x="-20" y="-20" width="518" height="278" fill="#00004a"/><g filter="url(#bl5)"><rect x="-20" y="-20" width="520" height="280" fill="url(#abg)"/><circle cx="100" cy="47" r="37" fill="url(#fcF30)" opacity="0.92"/><circle cx="151" cy="16" r="34.7" fill="url(#fcF34)" opacity="0.92"/><circle cx="204" cy="49" r="41.4" fill="url(#fcF38)" opacity="0.92"/><circle cx="272" cy="24" r="34.7" fill="url(#fcF34)" opacity="0.92"/><circle cx="65" cy="99" r="39.2" fill="url(#fcF30)" opacity="0.92"/><circle cx="122" cy="132" r="37" fill="url(#fcF26)" opacity="0.92"/><circle cx="246" cy="126" r="37" fill="url(#fcF30)" opacity="0.92"/><circle cx="392" cy="104" r="38.1" fill="url(#fcF34)" opacity="0.92"/><circle cx="450" cy="166" r="34.7" fill="url(#fcF34)" opacity="0.92"/><circle cx="17" cy="170" r="32.5" fill="url(#fcF30)" opacity="0.92"/><circle cx="65" cy="170" r="34.7" fill="url(#fcF38)" opacity="0.92"/><circle cx="171" cy="174" r="28" fill="url(#fcF30)" opacity="0.92"/><circle cx="215" cy="209" r="37" fill="url(#fcF34)" opacity="0.92"/><circle cx="313" cy="199" r="32.5" fill="url(#fcF34)" opacity="0.92"/><circle cx="84" cy="207" r="37" fill="url(#fcF34)" opacity="0.92"/><circle cx="151" cy="216" r="32.5" fill="url(#fcF30)" opacity="0.92"/><circle cx="413" cy="211" r="32.5" fill="url(#fcF34)" opacity="0.92"/><circle cx="9" cy="224" r="23.5" fill="url(#fcF30)" opacity="0.92"/><circle cx="267" cy="232" r="23.5" fill="url(#fcF30)" opacity="0.92"/><circle cx="371" cy="232" r="23.5" fill="url(#fcF34)" opacity="0.92"/></g><g filter="url(#bl2)"><circle cx="100" cy="47" r="35" fill="url(#hotR)"/><circle cx="152" cy="149" r="2.4" fill="#9e00bc"/></g><text x="8" y="39.5" font-size="44" text-anchor="start" font-weight="bold" font-style="italic" fill="#f5f514" stroke="#f5f514" stroke-width="0.7" stroke-linejoin="round">2</text></svg>
<svg x="1846.6" y="635" width="478" height="238" viewBox="0 0 478 238"><rect x="-20" y="-20" width="518" height="278" fill="#01000a"/><g filter="url(#bl3)"><ellipse cx="177" cy="29" rx="39.6" ry="33" fill="url(#fcP22)" transform="rotate(10 177 29)"/><ellipse cx="214" cy="104" rx="35.2" ry="33" fill="url(#frP22)"/><ellipse cx="264" cy="121" rx="29.7" ry="27.5" fill="url(#frP22)"/><ellipse cx="385" cy="129" rx="30.8" ry="29.7" fill="url(#frP18)"/><ellipse cx="439" cy="67" rx="31.9" ry="30.8" fill="url(#fcP22)"/><ellipse cx="302" cy="162" rx="29.7" ry="27.5" fill="url(#fcP34)"/><ellipse cx="169" cy="196" rx="34.1" ry="31.9" fill="url(#frP22)"/><ellipse cx="128" cy="185" rx="26.4" ry="26.4" fill="url(#fcP22)"/><ellipse cx="402" cy="204" rx="30.8" ry="29.7" fill="url(#fcP26)"/><ellipse cx="6" cy="183" rx="19.8" ry="24.2" fill="url(#fcP30)"/><ellipse cx="102" cy="56" rx="33" ry="33" fill="url(#frP22)"/><ellipse cx="168" cy="128" rx="39.6" ry="26.4" fill="url(#frP22)" transform="rotate(35 168 128)"/><ellipse cx="250" cy="191" rx="33" ry="29.7" fill="url(#frP22)"/><ellipse cx="339" cy="191" rx="33" ry="24.2" fill="url(#fcP30)" transform="rotate(-30 339 191)"/><ellipse cx="439" cy="143" rx="26.4" ry="36.3" fill="url(#fcP26)"/><ellipse cx="325" cy="52" rx="28.6" ry="38.5" fill="url(#fcP46)"/><ellipse cx="350" cy="225" rx="33" ry="19.8" fill="url(#fcP22)"/><ellipse cx="470" cy="215" rx="22" ry="22" fill="url(#fcP22)"/></g><g filter="url(#bl2)"><circle cx="27" cy="100" r="26" fill="url(#fcP38)"/><circle cx="49" cy="100" r="9" fill="#6730de" opacity="0.8"/><circle cx="42.6" cy="117" r="9" fill="#6730de" opacity="0.8"/><circle cx="27" cy="124" r="9" fill="#6730de" opacity="0.8"/><circle cx="11.4" cy="117" r="9" fill="#6730de" opacity="0.8"/><circle cx="5" cy="100" r="9" fill="#6730de" opacity="0.8"/><circle cx="11.4" cy="83" r="9" fill="#6730de" opacity="0.8"/><circle cx="27" cy="76" r="9" fill="#6730de" opacity="0.8"/><circle cx="42.6" cy="83" r="9" fill="#6730de" opacity="0.8"/><circle cx="30" cy="72" r="3" fill="#e8402a"/><ellipse cx="38" cy="116" rx="3.2" ry="5.5" fill="#ff9a10"/></g><g filter="url(#bl1_2)"><circle cx="250" cy="49" r="2.6" fill="#ba0072"/><circle cx="150" cy="114" r="3" fill="#b8007a"/><circle cx="208" cy="192" r="2.5" fill="#ad0097"/><circle cx="348" cy="202" r="2.8" fill="#c3005d"/><circle cx="384" cy="206" r="3.2" fill="#e0306a"/><circle cx="383" cy="230" r="2.4" fill="#ad0097"/><circle cx="448" cy="147" r="3.5" fill="#9e00bc"/><circle cx="3" cy="201" r="2.5" fill="#ad0097"/></g><g filter="url(#bl2)"><circle cx="244" cy="27" r="51.3" fill="url(#glowP)"/><circle cx="389" cy="33" r="52" fill="url(#glowP)"/></g><g filter="url(#bl1_2)"><circle cx="244" cy="27" r="36.3" fill="url(#hotH)"/><ellipse cx="389" cy="33" rx="36" ry="37" fill="url(#hotH)"/></g><text x="6" y="41.5" font-size="44" text-anchor="start" font-weight="bold" font-style="italic" fill="#f5f514" stroke="#f5f514" stroke-width="0.7" stroke-linejoin="round">2</text></svg>
<svg x="143.3" y="913" width="478" height="238" viewBox="0 0 478 238"><rect x="-20" y="-20" width="518" height="278" fill="#00004a"/><g filter="url(#bl5)"><rect x="-20" y="-20" width="520" height="280" fill="url(#abg)"/><circle cx="100" cy="47" r="37" fill="url(#fcF30)" opacity="0.92"/><circle cx="151" cy="16" r="34.7" fill="url(#fcF34)" opacity="0.92"/><circle cx="204" cy="49" r="41.4" fill="url(#fcF38)" opacity="0.92"/><circle cx="272" cy="24" r="34.7" fill="url(#fcF34)" opacity="0.92"/><circle cx="65" cy="99" r="39.2" fill="url(#fcF30)" opacity="0.92"/><circle cx="122" cy="132" r="37" fill="url(#fcF26)" opacity="0.92"/><circle cx="246" cy="126" r="37" fill="url(#fcF30)" opacity="0.92"/><circle cx="392" cy="104" r="38.1" fill="url(#fcF34)" opacity="0.92"/><circle cx="450" cy="166" r="34.7" fill="url(#fcF34)" opacity="0.92"/><circle cx="17" cy="170" r="32.5" fill="url(#fcF30)" opacity="0.92"/><circle cx="65" cy="170" r="34.7" fill="url(#fcF38)" opacity="0.92"/><circle cx="171" cy="174" r="28" fill="url(#fcF30)" opacity="0.92"/><circle cx="215" cy="209" r="37" fill="url(#fcF34)" opacity="0.92"/><circle cx="313" cy="199" r="32.5" fill="url(#fcF34)" opacity="0.92"/><circle cx="84" cy="207" r="37" fill="url(#fcF34)" opacity="0.92"/><circle cx="151" cy="216" r="32.5" fill="url(#fcF30)" opacity="0.92"/><circle cx="413" cy="211" r="32.5" fill="url(#fcF34)" opacity="0.92"/><circle cx="9" cy="224" r="23.5" fill="url(#fcF30)" opacity="0.92"/><circle cx="267" cy="232" r="23.5" fill="url(#fcF30)" opacity="0.92"/><circle cx="371" cy="232" r="23.5" fill="url(#fcF34)" opacity="0.92"/></g><g filter="url(#bl2)"><circle cx="100" cy="47" r="35" fill="url(#frF54)"/><circle cx="152" cy="149" r="2.4" fill="#9e00bc"/></g><text x="8" y="39.5" font-size="44" text-anchor="start" font-weight="bold" font-style="italic" fill="#f5f514" stroke="#f5f514" stroke-width="0.7" stroke-linejoin="round">3</text></svg>
<svg x="1316.2" y="918" width="478" height="238" viewBox="0 0 478 238"><rect x="-20" y="-20" width="518" height="278" fill="#01000a"/><g filter="url(#bl3)"><ellipse cx="177" cy="29" rx="39.6" ry="33" fill="url(#fcP22)" transform="rotate(10 177 29)"/><ellipse cx="214" cy="104" rx="35.2" ry="33" fill="url(#frP22)"/><ellipse cx="264" cy="121" rx="29.7" ry="27.5" fill="url(#frP22)"/><ellipse cx="385" cy="129" rx="30.8" ry="29.7" fill="url(#frP18)"/><ellipse cx="439" cy="67" rx="31.9" ry="30.8" fill="url(#fcP22)"/><ellipse cx="302" cy="162" rx="29.7" ry="27.5" fill="url(#fcP34)"/><ellipse cx="169" cy="196" rx="34.1" ry="31.9" fill="url(#frP22)"/><ellipse cx="128" cy="185" rx="26.4" ry="26.4" fill="url(#fcP22)"/><ellipse cx="402" cy="204" rx="30.8" ry="29.7" fill="url(#fcP26)"/><ellipse cx="6" cy="183" rx="19.8" ry="24.2" fill="url(#fcP30)"/><ellipse cx="102" cy="56" rx="33" ry="33" fill="url(#frP22)"/><ellipse cx="168" cy="128" rx="39.6" ry="26.4" fill="url(#frP22)" transform="rotate(35 168 128)"/><ellipse cx="250" cy="191" rx="33" ry="29.7" fill="url(#frP22)"/><ellipse cx="339" cy="191" rx="33" ry="24.2" fill="url(#fcP30)" transform="rotate(-30 339 191)"/><ellipse cx="439" cy="143" rx="26.4" ry="36.3" fill="url(#fcP26)"/><ellipse cx="325" cy="52" rx="28.6" ry="38.5" fill="url(#fcP46)"/><ellipse cx="350" cy="225" rx="33" ry="19.8" fill="url(#fcP22)"/><ellipse cx="470" cy="215" rx="22" ry="22" fill="url(#fcP22)"/></g><g filter="url(#bl2)"><circle cx="27" cy="100" r="26" fill="url(#fcP38)"/><circle cx="49" cy="100" r="9" fill="#6730de" opacity="0.8"/><circle cx="42.6" cy="117" r="9" fill="#6730de" opacity="0.8"/><circle cx="27" cy="124" r="9" fill="#6730de" opacity="0.8"/><circle cx="11.4" cy="117" r="9" fill="#6730de" opacity="0.8"/><circle cx="5" cy="100" r="9" fill="#6730de" opacity="0.8"/><circle cx="11.4" cy="83" r="9" fill="#6730de" opacity="0.8"/><circle cx="27" cy="76" r="9" fill="#6730de" opacity="0.8"/><circle cx="42.6" cy="83" r="9" fill="#6730de" opacity="0.8"/><circle cx="30" cy="72" r="3" fill="#e8402a"/><ellipse cx="38" cy="116" rx="3.2" ry="5.5" fill="#ff9a10"/></g><g filter="url(#bl1_2)"><circle cx="250" cy="49" r="2.6" fill="#ba0072"/><circle cx="150" cy="114" r="3" fill="#b8007a"/><circle cx="208" cy="192" r="2.5" fill="#ad0097"/><circle cx="348" cy="202" r="2.8" fill="#c3005d"/><circle cx="384" cy="206" r="3.2" fill="#e0306a"/><circle cx="383" cy="230" r="2.4" fill="#ad0097"/><circle cx="448" cy="147" r="3.5" fill="#9e00bc"/><circle cx="3" cy="201" r="2.5" fill="#ad0097"/></g><g filter="url(#bl2)"><circle cx="243" cy="31" r="48" fill="url(#glowP)"/><circle cx="387" cy="47" r="52" fill="url(#glowP)"/></g><g filter="url(#bl1_2)"><circle cx="243" cy="31" r="33" fill="url(#hotH)"/><ellipse cx="387" cy="47" rx="36" ry="37" fill="url(#hotH)"/></g><text x="6" y="41.5" font-size="44" text-anchor="start" font-weight="bold" font-style="italic" fill="#f5f514" stroke="#f5f514" stroke-width="0.7" stroke-linejoin="round">3</text></svg>
<svg x="684.5" y="913" width="478" height="238" viewBox="0 0 478 238"><rect x="-20" y="-20" width="518" height="278" fill="#00004a"/><g filter="url(#bl5)"><rect x="-20" y="-20" width="520" height="280" fill="url(#abg)"/><circle cx="100" cy="47" r="37" fill="url(#fcF30)" opacity="0.92"/><circle cx="151" cy="16" r="34.7" fill="url(#fcF34)" opacity="0.92"/><circle cx="204" cy="49" r="41.4" fill="url(#fcF38)" opacity="0.92"/><circle cx="272" cy="24" r="34.7" fill="url(#fcF34)" opacity="0.92"/><circle cx="65" cy="99" r="39.2" fill="url(#fcF30)" opacity="0.92"/><circle cx="122" cy="132" r="37" fill="url(#fcF26)" opacity="0.92"/><circle cx="246" cy="126" r="37" fill="url(#fcF30)" opacity="0.92"/><circle cx="392" cy="104" r="38.1" fill="url(#fcF34)" opacity="0.92"/><circle cx="450" cy="166" r="34.7" fill="url(#fcF34)" opacity="0.92"/><circle cx="17" cy="170" r="32.5" fill="url(#fcF30)" opacity="0.92"/><circle cx="65" cy="170" r="34.7" fill="url(#fcF38)" opacity="0.92"/><circle cx="171" cy="174" r="28" fill="url(#fcF30)" opacity="0.92"/><circle cx="215" cy="209" r="37" fill="url(#fcF34)" opacity="0.92"/><circle cx="313" cy="199" r="32.5" fill="url(#fcF34)" opacity="0.92"/><circle cx="84" cy="207" r="37" fill="url(#fcF34)" opacity="0.92"/><circle cx="151" cy="216" r="32.5" fill="url(#fcF30)" opacity="0.92"/><circle cx="413" cy="211" r="32.5" fill="url(#fcF34)" opacity="0.92"/><circle cx="9" cy="224" r="23.5" fill="url(#fcF30)" opacity="0.92"/><circle cx="267" cy="232" r="23.5" fill="url(#fcF30)" opacity="0.92"/><circle cx="371" cy="232" r="23.5" fill="url(#fcF34)" opacity="0.92"/></g><g filter="url(#bl2)"><circle cx="313" cy="201" r="56" fill="url(#glow)"/><path transform="translate(313 200) scale(1.22) translate(-318 -201)" d="M296 176 C312 166 326 176 328 190 C346 194 350 214 338 226 C326 236 306 232 298 218 C290 206 290 186 296 176Z" fill="url(#hotY)"/><circle cx="152" cy="149" r="2.4" fill="#9e00bc"/></g><text x="8" y="39.5" font-size="44" text-anchor="start" font-weight="bold" font-style="italic" fill="#f5f514" stroke="#f5f514" stroke-width="0.7" stroke-linejoin="round">4</text></svg>
<svg x="1846.6" y="918" width="478" height="238" viewBox="0 0 478 238"><rect x="-20" y="-20" width="518" height="278" fill="#01000a"/><g filter="url(#bl3)"><ellipse cx="177" cy="29" rx="39.6" ry="33" fill="url(#fcP22)" transform="rotate(10 177 29)"/><ellipse cx="232" cy="36" rx="44" ry="11" fill="#5127c8" transform="rotate(32 232 36)" opacity="0.85"/><ellipse cx="214" cy="104" rx="35.2" ry="33" fill="url(#frP22)"/><ellipse cx="264" cy="121" rx="29.7" ry="27.5" fill="url(#frP22)"/><ellipse cx="385" cy="129" rx="30.8" ry="29.7" fill="url(#frP18)"/><ellipse cx="439" cy="67" rx="31.9" ry="30.8" fill="url(#fcP22)"/><ellipse cx="302" cy="162" rx="29.7" ry="27.5" fill="url(#fcP34)"/><ellipse cx="169" cy="196" rx="34.1" ry="31.9" fill="url(#frP22)"/><ellipse cx="128" cy="185" rx="26.4" ry="26.4" fill="url(#fcP22)"/><ellipse cx="402" cy="204" rx="30.8" ry="29.7" fill="url(#fcP26)"/><ellipse cx="6" cy="183" rx="19.8" ry="24.2" fill="url(#fcP30)"/><ellipse cx="102" cy="56" rx="33" ry="33" fill="url(#frP22)"/><ellipse cx="168" cy="128" rx="39.6" ry="26.4" fill="url(#frP22)" transform="rotate(35 168 128)"/><ellipse cx="250" cy="191" rx="36" ry="34" fill="url(#frP54)"/><ellipse cx="339" cy="191" rx="33" ry="24.2" fill="url(#fcP30)" transform="rotate(-30 339 191)"/><ellipse cx="439" cy="143" rx="26.4" ry="36.3" fill="url(#fcP26)"/><ellipse cx="325" cy="52" rx="28.6" ry="38.5" fill="url(#fcP46)"/><ellipse cx="350" cy="225" rx="33" ry="19.8" fill="url(#fcP22)"/><ellipse cx="470" cy="215" rx="22" ry="22" fill="url(#fcP22)"/></g><g filter="url(#bl2)"><circle cx="27" cy="100" r="26" fill="url(#fcP38)"/><circle cx="49" cy="100" r="9" fill="#6730de" opacity="0.8"/><circle cx="42.6" cy="117" r="9" fill="#6730de" opacity="0.8"/><circle cx="27" cy="124" r="9" fill="#6730de" opacity="0.8"/><circle cx="11.4" cy="117" r="9" fill="#6730de" opacity="0.8"/><circle cx="5" cy="100" r="9" fill="#6730de" opacity="0.8"/><circle cx="11.4" cy="83" r="9" fill="#6730de" opacity="0.8"/><circle cx="27" cy="76" r="9" fill="#6730de" opacity="0.8"/><circle cx="42.6" cy="83" r="9" fill="#6730de" opacity="0.8"/><circle cx="30" cy="72" r="3" fill="#e8402a"/><ellipse cx="38" cy="116" rx="3.2" ry="5.5" fill="#ff9a10"/></g><g filter="url(#bl1_2)"><circle cx="250" cy="49" r="2.6" fill="#ba0072"/><circle cx="150" cy="114" r="3" fill="#b8007a"/><circle cx="208" cy="192" r="2.5" fill="#ad0097"/><circle cx="348" cy="202" r="2.8" fill="#c3005d"/><circle cx="384" cy="206" r="3.2" fill="#e0306a"/><circle cx="383" cy="230" r="2.4" fill="#ad0097"/><circle cx="448" cy="147" r="3.5" fill="#9e00bc"/><circle cx="3" cy="201" r="2.5" fill="#ad0097"/></g><g filter="url(#bl2)"><circle cx="387" cy="47" r="52" fill="url(#glowP)"/><ellipse cx="444" cy="145" rx="45" ry="59" fill="url(#glowP)" transform="rotate(8 444 145)"/></g><g filter="url(#bl1_2)"><ellipse cx="387" cy="47" rx="36" ry="37" fill="url(#hotH)"/><ellipse cx="444.5" cy="145" rx="30" ry="44" fill="url(#hotH)" transform="rotate(8 444.5 145)"/></g><text x="6" y="41.5" font-size="44" text-anchor="start" font-weight="bold" font-style="italic" fill="#f5f514" stroke="#f5f514" stroke-width="0.7" stroke-linejoin="round">4</text></svg>
<svg x="143.3" y="1186" width="478" height="238" viewBox="0 0 478 238"><rect x="-20" y="-20" width="518" height="278" fill="#00004a"/><g filter="url(#bl5)"><rect x="-20" y="-20" width="520" height="280" fill="url(#abg)"/><circle cx="100" cy="47" r="37" fill="url(#fcF30)" opacity="0.92"/><circle cx="151" cy="16" r="34.7" fill="url(#fcF34)" opacity="0.92"/><circle cx="204" cy="49" r="41.4" fill="url(#fcF38)" opacity="0.92"/><circle cx="272" cy="24" r="34.7" fill="url(#fcF34)" opacity="0.92"/><circle cx="65" cy="99" r="39.2" fill="url(#fcF30)" opacity="0.92"/><circle cx="122" cy="132" r="37" fill="url(#fcF26)" opacity="0.92"/><circle cx="246" cy="126" r="37" fill="url(#fcF30)" opacity="0.92"/><circle cx="392" cy="104" r="38.1" fill="url(#fcF34)" opacity="0.92"/><circle cx="450" cy="166" r="34.7" fill="url(#fcF34)" opacity="0.92"/><circle cx="17" cy="170" r="32.5" fill="url(#fcF30)" opacity="0.92"/><circle cx="65" cy="170" r="34.7" fill="url(#fcF38)" opacity="0.92"/><circle cx="171" cy="174" r="28" fill="url(#fcF30)" opacity="0.92"/><circle cx="215" cy="209" r="37" fill="url(#fcF34)" opacity="0.92"/><circle cx="313" cy="199" r="32.5" fill="url(#fcF34)" opacity="0.92"/><circle cx="84" cy="207" r="37" fill="url(#fcF34)" opacity="0.92"/><circle cx="151" cy="216" r="32.5" fill="url(#fcF30)" opacity="0.92"/><circle cx="413" cy="211" r="32.5" fill="url(#fcF34)" opacity="0.92"/><circle cx="9" cy="224" r="23.5" fill="url(#fcF30)" opacity="0.92"/><circle cx="267" cy="232" r="23.5" fill="url(#fcF30)" opacity="0.92"/><circle cx="371" cy="232" r="23.5" fill="url(#fcF34)" opacity="0.92"/></g><g filter="url(#bl2)"><circle cx="313" cy="201" r="56" fill="url(#glow)"/><path transform="translate(313 200) scale(1.22) translate(-318 -201)" d="M296 176 C312 166 326 176 328 190 C346 194 350 214 338 226 C326 236 306 232 298 218 C290 206 290 186 296 176Z" fill="url(#hotY)"/><circle cx="152" cy="149" r="2.4" fill="#9e00bc"/></g><text x="8" y="39.5" font-size="44" text-anchor="start" font-weight="bold" font-style="italic" fill="#f5f514" stroke="#f5f514" stroke-width="0.7" stroke-linejoin="round">5</text></svg>
<svg x="1316.2" y="1191.3" width="478" height="238" viewBox="0 0 478 238"><rect x="-20" y="-20" width="518" height="278" fill="#01000a"/><g filter="url(#bl3)"><ellipse cx="177" cy="29" rx="39.6" ry="33" fill="url(#fcP22)" transform="rotate(10 177 29)"/><ellipse cx="232" cy="36" rx="44" ry="11" fill="#5127c8" transform="rotate(32 232 36)" opacity="0.85"/><ellipse cx="214" cy="104" rx="35.2" ry="33" fill="url(#frP22)"/><ellipse cx="264" cy="121" rx="29.7" ry="27.5" fill="url(#frP22)"/><ellipse cx="385" cy="129" rx="30.8" ry="29.7" fill="url(#frP18)"/><ellipse cx="439" cy="67" rx="31.9" ry="30.8" fill="url(#fcP22)"/><ellipse cx="302" cy="162" rx="29.7" ry="27.5" fill="url(#fcP34)"/><ellipse cx="169" cy="196" rx="34.1" ry="31.9" fill="url(#frP22)"/><ellipse cx="128" cy="185" rx="26.4" ry="26.4" fill="url(#fcP22)"/><ellipse cx="402" cy="204" rx="30.8" ry="29.7" fill="url(#fcP26)"/><ellipse cx="6" cy="183" rx="19.8" ry="24.2" fill="url(#fcP30)"/><ellipse cx="102" cy="56" rx="33" ry="33" fill="url(#frP22)"/><ellipse cx="168" cy="128" rx="39.6" ry="26.4" fill="url(#frP22)" transform="rotate(35 168 128)"/><ellipse cx="250" cy="191" rx="36" ry="34" fill="url(#frP54)"/><circle cx="274" cy="203" r="7" fill="#d92fa0" opacity="0.9"/><ellipse cx="339" cy="191" rx="33" ry="24.2" fill="url(#fcP30)" transform="rotate(-30 339 191)"/><ellipse cx="439" cy="143" rx="26.4" ry="36.3" fill="url(#fcP26)"/><ellipse cx="325" cy="52" rx="28.6" ry="38.5" fill="url(#fcP46)"/><ellipse cx="350" cy="225" rx="33" ry="19.8" fill="url(#fcP22)"/><ellipse cx="470" cy="215" rx="22" ry="22" fill="url(#fcP22)"/></g><g filter="url(#bl2)"><circle cx="27" cy="100" r="26" fill="url(#fcP38)"/><circle cx="49" cy="100" r="9" fill="#6730de" opacity="0.8"/><circle cx="42.6" cy="117" r="9" fill="#6730de" opacity="0.8"/><circle cx="27" cy="124" r="9" fill="#6730de" opacity="0.8"/><circle cx="11.4" cy="117" r="9" fill="#6730de" opacity="0.8"/><circle cx="5" cy="100" r="9" fill="#6730de" opacity="0.8"/><circle cx="11.4" cy="83" r="9" fill="#6730de" opacity="0.8"/><circle cx="27" cy="76" r="9" fill="#6730de" opacity="0.8"/><circle cx="42.6" cy="83" r="9" fill="#6730de" opacity="0.8"/><circle cx="30" cy="72" r="3" fill="#e8402a"/><ellipse cx="38" cy="116" rx="3.2" ry="5.5" fill="#ff9a10"/></g><g filter="url(#bl1_2)"><circle cx="250" cy="49" r="2.6" fill="#ba0072"/><circle cx="150" cy="114" r="3" fill="#b8007a"/><circle cx="208" cy="192" r="2.5" fill="#ad0097"/><circle cx="348" cy="202" r="2.8" fill="#c3005d"/><circle cx="384" cy="206" r="3.2" fill="#e0306a"/><circle cx="383" cy="230" r="2.4" fill="#ad0097"/><circle cx="448" cy="147" r="3.5" fill="#9e00bc"/><circle cx="3" cy="201" r="2.5" fill="#ad0097"/></g><g filter="url(#bl2)"><circle cx="387" cy="47" r="52" fill="url(#glowP)"/><ellipse cx="444" cy="145" rx="45" ry="59" fill="url(#glowP)" transform="rotate(8 444 145)"/></g><g filter="url(#bl1_2)"><ellipse cx="387" cy="47" rx="36" ry="37" fill="url(#hotH)"/><ellipse cx="444.5" cy="145" rx="30" ry="44" fill="url(#hotH)" transform="rotate(8 444.5 145)"/></g><text x="6" y="41.5" font-size="44" text-anchor="start" font-weight="bold" font-style="italic" fill="#f5f514" stroke="#f5f514" stroke-width="0.7" stroke-linejoin="round">5</text></svg>
<svg x="684.5" y="1186" width="478" height="238" viewBox="0 0 478 238"><rect x="-20" y="-20" width="518" height="278" fill="#00004a"/><g filter="url(#bl5)"><rect x="-20" y="-20" width="520" height="280" fill="url(#abg)"/><circle cx="100" cy="47" r="37" fill="url(#fcF30)" opacity="0.92"/><circle cx="151" cy="16" r="34.7" fill="url(#fcF34)" opacity="0.92"/><circle cx="204" cy="49" r="41.4" fill="url(#fcF38)" opacity="0.92"/><circle cx="272" cy="24" r="34.7" fill="url(#fcF34)" opacity="0.92"/><circle cx="65" cy="99" r="39.2" fill="url(#fcF30)" opacity="0.92"/><circle cx="122" cy="132" r="37" fill="url(#fcF26)" opacity="0.92"/><circle cx="246" cy="126" r="37" fill="url(#fcF30)" opacity="0.92"/><circle cx="392" cy="104" r="38.1" fill="url(#fcF34)" opacity="0.92"/><circle cx="450" cy="166" r="34.7" fill="url(#fcF34)" opacity="0.92"/><circle cx="17" cy="170" r="32.5" fill="url(#fcF30)" opacity="0.92"/><circle cx="65" cy="170" r="34.7" fill="url(#fcF38)" opacity="0.92"/><circle cx="171" cy="174" r="28" fill="url(#fcF30)" opacity="0.92"/><circle cx="215" cy="209" r="37" fill="url(#fcF34)" opacity="0.92"/><circle cx="313" cy="199" r="32.5" fill="url(#fcF34)" opacity="0.92"/><circle cx="84" cy="207" r="37" fill="url(#fcF34)" opacity="0.92"/><circle cx="151" cy="216" r="32.5" fill="url(#fcF30)" opacity="0.92"/><circle cx="413" cy="211" r="32.5" fill="url(#fcF34)" opacity="0.92"/><circle cx="9" cy="224" r="23.5" fill="url(#fcF30)" opacity="0.92"/><circle cx="267" cy="232" r="23.5" fill="url(#fcF30)" opacity="0.92"/><circle cx="371" cy="232" r="23.5" fill="url(#fcF34)" opacity="0.92"/></g><g filter="url(#bl2)"><circle cx="313" cy="201" r="56" fill="url(#glow)"/><path transform="translate(313 200) scale(1.22) translate(-318 -201)" d="M296 176 C312 166 326 176 328 190 C346 194 350 214 338 226 C326 236 306 232 298 218 C290 206 290 186 296 176Z" fill="url(#hotW)"/><circle cx="171" cy="176" r="34" fill="url(#glow)"/><ellipse cx="171" cy="176" rx="21" ry="27" fill="url(#hotO)" transform="rotate(10 171 176)"/><ellipse cx="268" cy="236" rx="26" ry="16" fill="url(#hotO)"/><circle cx="152" cy="149" r="2.4" fill="#9e00bc"/></g><text x="8" y="39.5" font-size="44" text-anchor="start" font-weight="bold" font-style="italic" fill="#f5f514" stroke="#f5f514" stroke-width="0.7" stroke-linejoin="round">6</text></svg>
<svg x="1846.6" y="1191.3" width="478" height="238" viewBox="0 0 478 238"><rect x="-20" y="-20" width="518" height="278" fill="#01000a"/><g filter="url(#bl3)"><ellipse cx="177" cy="29" rx="39.6" ry="33" fill="url(#fcP22)" transform="rotate(10 177 29)"/><ellipse cx="232" cy="36" rx="44" ry="11" fill="#5127c8" transform="rotate(32 232 36)" opacity="0.85"/><ellipse cx="214" cy="104" rx="35.2" ry="33" fill="url(#frP22)"/><ellipse cx="264" cy="121" rx="29.7" ry="27.5" fill="url(#frP22)"/><ellipse cx="385" cy="129" rx="30.8" ry="29.7" fill="url(#frP18)"/><ellipse cx="439" cy="67" rx="31.9" ry="30.8" fill="url(#fcP22)"/><ellipse cx="302" cy="162" rx="29.7" ry="27.5" fill="url(#fcP34)"/><ellipse cx="169" cy="196" rx="34.1" ry="31.9" fill="url(#frP22)"/><ellipse cx="128" cy="185" rx="26.4" ry="26.4" fill="url(#fcP22)"/><ellipse cx="402" cy="204" rx="30.8" ry="29.7" fill="url(#fcP26)"/><ellipse cx="6" cy="183" rx="19.8" ry="24.2" fill="url(#fcP30)"/><ellipse cx="102" cy="56" rx="33" ry="33" fill="url(#frP22)"/><ellipse cx="168" cy="128" rx="39.6" ry="26.4" fill="url(#frP22)" transform="rotate(35 168 128)"/><ellipse cx="250" cy="191" rx="36" ry="34" fill="url(#frP54)"/><circle cx="274" cy="203" r="7" fill="#d92fa0" opacity="0.9"/><ellipse cx="339" cy="191" rx="32" ry="22" fill="url(#fcP54)" transform="rotate(-30 339 191)"/><ellipse cx="439" cy="143" rx="26.4" ry="36.3" fill="url(#fcP26)"/><ellipse cx="325" cy="52" rx="28.6" ry="38.5" fill="url(#fcP46)"/><ellipse cx="350" cy="225" rx="33" ry="19.8" fill="url(#fcP22)"/><ellipse cx="470" cy="215" rx="22" ry="22" fill="url(#fcP22)"/></g><g filter="url(#bl2)"><circle cx="27" cy="100" r="26" fill="url(#fcP38)"/><circle cx="49" cy="100" r="9" fill="#6730de" opacity="0.8"/><circle cx="42.6" cy="117" r="9" fill="#6730de" opacity="0.8"/><circle cx="27" cy="124" r="9" fill="#6730de" opacity="0.8"/><circle cx="11.4" cy="117" r="9" fill="#6730de" opacity="0.8"/><circle cx="5" cy="100" r="9" fill="#6730de" opacity="0.8"/><circle cx="11.4" cy="83" r="9" fill="#6730de" opacity="0.8"/><circle cx="27" cy="76" r="9" fill="#6730de" opacity="0.8"/><circle cx="42.6" cy="83" r="9" fill="#6730de" opacity="0.8"/><circle cx="30" cy="72" r="3" fill="#e8402a"/><ellipse cx="38" cy="116" rx="3.2" ry="5.5" fill="#ff9a10"/></g><g filter="url(#bl1_2)"><circle cx="250" cy="49" r="2.6" fill="#ba0072"/><circle cx="150" cy="114" r="3" fill="#b8007a"/><circle cx="208" cy="192" r="2.5" fill="#ad0097"/><circle cx="348" cy="202" r="2.8" fill="#c3005d"/><circle cx="384" cy="206" r="3.2" fill="#e0306a"/><circle cx="383" cy="230" r="2.4" fill="#ad0097"/><circle cx="448" cy="147" r="3.5" fill="#9e00bc"/><circle cx="3" cy="201" r="2.5" fill="#ad0097"/></g><g filter="url(#bl2)"><circle cx="387" cy="47" r="52" fill="url(#glowP)"/><ellipse cx="444" cy="145" rx="45" ry="59" fill="url(#glowP)" transform="rotate(8 444 145)"/></g><g filter="url(#bl1_2)"><ellipse cx="387" cy="47" rx="36" ry="37" fill="url(#hotH)"/><ellipse cx="444.5" cy="145" rx="30" ry="44" fill="url(#hotH)" transform="rotate(8 444.5 145)"/></g><text x="6" y="41.5" font-size="44" text-anchor="start" font-weight="bold" font-style="italic" fill="#f5f514" stroke="#f5f514" stroke-width="0.7" stroke-linejoin="round">6</text></svg>
<polygon points="160,2994.3 326,2994 330,2990.5 396,2986 523,2984.3 640,2981 760,2977.5 900,2975 1040,2973.5 1163,2973 1163,3003 330,3003 160,3001.3" fill="#ff0000"/>
<polyline points="352.7,2987.8 355.9,2973.5 360.7,2951.1 365.4,2941.5 376.6,2939 379.2,2954.3 381.4,2984.6" fill="none" stroke="#ff0000" stroke-width="3" stroke-linejoin="round" stroke-linecap="round"/>
<polyline points="379.8,2984.6 382.4,2954.3 384.6,2932 392.6,2929.7 399.8,2929.8 407.1,2929.3 414.4,2930 421.7,2929.9 428.9,2929.4 436.2,2929.6 443.5,2929.1 450.7,2929 458,2929 465.3,2929.4 472.6,2928.9 479.8,2929.6 487.1,2928.6 494.4,2928.7 501.6,2928.5 508.9,2929.1 516.2,2928.7 523.5,2928.8 530.9,2929.1 538.4,2929.2 545.8,2929.9 553.3,2929.9 560.7,2930.1 568.1,2930.6 575.6,2930.8 583,2930.9 590.5,2932 597.9,2932.1 605.4,2932.4 612.8,2933 620.3,2932.8 627.7,2933.1 635.2,2933.6 642.3,2932.4 649.4,2931.3 656.5,2930.5 663.6,2928.8 670.7,2928.2 677.7,2927.2 684.8,2926 691.9,2924.6 699,2924 706.7,2923.2 714.3,2921.5 721.9,2921 729.5,2919.6 737.1,2918.5 744.8,2917.7 752.4,2916.6 760,2916 767.9,2914.4 775.1,2914.1 782.2,2914.7 789.4,2914.9 796.6,2914.6 803.8,2915 811,2914.9 818.2,2915 825.3,2915.4 832.5,2914.9 839.7,2915.6 846.9,2915.5 854.1,2915.5 861.3,2914.9 868.4,2915.1 875.6,2915.1 882.8,2915.5 890,2916.2 897.2,2916.2 904.4,2916.3 911.5,2916 918.6,2915.7 925.7,2916.4 932.8,2916.5 939.9,2916.7 947,2916.7 954.1,2916.2 961.2,2916.3 968.3,2917 975.4,2917 982.5,2917.3 989.6,2916.9 996.7,2917.4 1003.8,2916.8 1010.8,2917.7 1017.9,2917.7 1025,2917.3 1032.1,2917.1 1039.2,2917.6 1046.5,2917.5 1053.8,2917.6 1061,2917.2 1068.3,2916.8 1075.6,2916.9 1082.8,2917.4 1090.1,2916.5 1097.4,2917.3 1104.6,2916.5 1111.9,2916.4 1119.2,2916.2 1126.4,2916.9 1133.7,2916.8 1141,2916.1 1148.2,2915.8 1155.5,2916.2 1162.8,2916" fill="none" stroke="#ff0000" stroke-width="3" stroke-linejoin="round" stroke-linecap="round"/>
<polyline points="386.2,2986.2 389.4,2960.7 392.6,2949.5 402.2,2946.3 410.5,2948.2 418.8,2950.9 427.1,2952.7 435.4,2955.5 443.7,2957.5 451.6,2960.3 459.6,2962.7 467.6,2965.6 475.6,2968.2 483.6,2970.3 491.5,2973.5 499.5,2976.3 507.5,2979.2 515.5,2981.9 523.5,2984.6" fill="none" stroke="#ff0000" stroke-width="3" stroke-linejoin="round" stroke-linecap="round"/>
<polyline points="386.8,2986.2 389.4,2954.3 391,2941.5 399.8,2941.2 408.5,2939.9 415.8,2941.9 423.1,2944.3 430.4,2946.3 437.7,2947.9 445,2949.8 452.3,2952.4 459.6,2954.3 467,2955.2 474.3,2956.6 481.7,2958.4 489.1,2959.6 496.4,2960.1 503.8,2961.3 511.2,2962.6 518.5,2964.5 525.9,2964.9 533.3,2966.3 540.6,2967.4 548,2968.7 555.4,2970.3 562.5,2970.6 569.6,2970.7 576.7,2971.2 583.8,2971.9 590.8,2972.3 597.9,2972.3 605,2973 612.1,2973.2 619.2,2973.5 626.3,2973.6 633.3,2972.9 640.3,2972.8 647.4,2972.9 654.4,2973.1 661.5,2972.6 668.5,2972.3 675.5,2971.9 682.6,2971.8 689.6,2971.6 696.7,2972.2 703.7,2971.9 710.7,2971.8 717.8,2971.3 724.8,2971.3 731.8,2970.7 738.9,2970.7 745.9,2970.2 753,2970.3 760,2970.3 767.3,2970.3 774.6,2970.4 781.9,2971.5 789.2,2970.9 796.5,2971.9 803.8,2972.1 811.2,2971.7 818.5,2972.4 825.8,2973.2 833.1,2973.4 840.4,2973.3 847.7,2973.5 855.1,2974.2 862.4,2974.6 869.8,2974.7 877.2,2975.5 884.5,2976 891.9,2976.3 899.3,2977.2 906.6,2977.3 914,2978.1 921.4,2977.9 928.7,2978.8 936.1,2978.9 943.5,2979.8" fill="none" stroke="#ff0000" stroke-width="3" stroke-linejoin="round" stroke-linecap="round"/>
<polyline points="466,2986.2 472.4,2957.5 478.8,2928.8 483.6,2908 488.3,2893.7 496.3,2888.9 504.3,2886.6 513.9,2886.1 523.5,2884.7 531.4,2885.2 539.4,2885.3 547.4,2884.9 555.4,2885.4 562.7,2885.6 570.1,2886.4 577.5,2886.8 584.8,2886.4 592.2,2887 599.6,2888.1 606.9,2887.7 614.3,2888.6 621.7,2888.7 629,2889.4 636.4,2890 643.8,2890.1 651.1,2890.5 658.2,2890.1 665.3,2889.7 672.4,2889.7 679.5,2889.5 686.6,2888.9 693.7,2888.7 700.8,2888.5 707.9,2887.9 715,2887.9 722.5,2886.9 730,2886.7 737.5,2885.6 745,2885.4 752.5,2885 760,2884.1 767.9,2882.8 775.9,2880.6 783.8,2879.3 791.1,2877.6 798.4,2876.5 805.6,2874.3 812.9,2873.4 820.1,2871 827.4,2870 834.6,2867.7 841.9,2866.7 849.1,2865.2 856.4,2863.4 863.7,2861.7 870.8,2859.4 878,2857.2 885.2,2854.8 892.4,2851.5 899.6,2849.4 906.7,2846.4 913.9,2844.3 921.1,2841.9 928.6,2842.5 936,2843.5 943.5,2844.8 950.8,2844.6 958.2,2843.7 965.6,2843.4 972.9,2842.8 980.3,2843.3 987.7,2842.3 995,2841.8 1002.4,2842 1009.8,2841.7 1017.1,2841.3 1024.5,2840.8 1031.9,2840.4 1039.2,2840 1046.5,2840.3 1053.8,2839.9 1061,2840.4 1068.3,2840.3 1075.6,2840.5 1082.8,2840.5 1090.1,2840.5 1097.4,2840.2 1104.6,2840.2 1111.9,2840.4 1119.2,2840.3 1126.4,2839.8 1133.7,2840.7 1141,2840 1148.2,2840.3 1155.5,2840.3 1162.8,2840.3" fill="none" stroke="#ff0000" stroke-width="3" stroke-linejoin="round" stroke-linecap="round"/>
<polyline points="368.6,2986.2 375.8,2964.3 383,2941.5 395.8,2928.8 403.7,2921.4 411.7,2914.4 419.7,2911 427.7,2907.1 435.4,2906.9 443,2905.6 450.7,2905.4 458.3,2904.3 466,2903.9 474.5,2903.1 483,2902.9 491.5,2902.6 498.6,2901.8 505.7,2900.3 512.8,2899.8 519.9,2898.5 527,2897.3 534.1,2896.6 541.2,2895.5 548.3,2894.6 555.4,2893.7 562.5,2893.5 569.6,2893 576.7,2891.8 583.8,2892 590.8,2891.1 597.9,2890.9 605,2890.2 612.1,2889.4 619.2,2888.9 626.3,2888.5 633.3,2889.1 640.3,2889.1 647.4,2888.7 654.4,2888.1 661.5,2888.7 668.5,2888.6 675.5,2888.6 682.6,2888.6 689.6,2888.5 696.7,2888.2 703.7,2887.8 710.7,2887.9 717.8,2887.7 724.8,2887.9 731.8,2887.7 738.9,2887.8 745.9,2887.4 753,2887.4 760,2887.3 767.1,2891.7 774.3,2895.2 781.6,2895.9 788.9,2896.4 796.2,2896.6 803.6,2896.4 810.9,2897 818.2,2897.3 825.5,2897.6 832.9,2897.9 840.2,2898.2 847.5,2899 854.8,2899.7 862.1,2900.1 869.5,2900.6 876.8,2900.6 884.1,2900.4 891.4,2900.9 898.8,2901.6 905.9,2901.5 913,2902.7 920,2902.5 927.1,2903.3 934.2,2903.4 941.3,2903.8 948.4,2904.5 955.5,2904.6 962.6,2904.4 969.7,2905.3 976.8,2905.4 983.9,2906.4 991,2906 998.1,2906.3 1005.2,2907.4 1012.3,2907.2 1019.4,2907.2 1026.5,2908 1033.6,2908.6 1040.8,2909.1 1048,2909 1055.2,2909 1062.3,2910.1 1069.5,2909.9 1076.7,2910.1 1083.8,2910.2 1091,2911.4 1098.2,2911.1 1105.4,2911.3 1112.5,2911.9 1119.7,2912.6 1126.9,2913.2 1134.1,2912.8 1141.2,2913.5 1148.4,2913.5 1155.6,2914.4 1162.8,2914.4" fill="none" stroke="#ff0000" stroke-width="3" stroke-linejoin="round" stroke-linecap="round"/>
<polyline points="561.8,2986.2 571.3,2978.2 574.5,2973.5 579.3,2941.5 584.1,2916 587.3,2911.2 595.3,2910.6 603.3,2910 611.2,2908.3 619.2,2908 626.3,2908.4 633.3,2908.2 640.3,2907.3 647.4,2908 654.4,2907.9 661.5,2907.2 668.5,2907.9 675.5,2907.2 682.6,2907.2 689.6,2907.4 696.7,2907.3 703.7,2907.3 710.7,2906.8 717.8,2906.9 724.8,2906.5 731.8,2906.5 738.9,2906.6 745.9,2906.2 753,2906.3 760,2906.4 768,2907.9 775.9,2908.4 783.9,2909.8 791.9,2910.5 799.8,2912.4 807.8,2912.9 815.8,2914.4 823,2914.4 830.3,2915.4 837.5,2915.4 844.8,2915.9 852,2916.3 859.3,2916.6 866.6,2916.9 873.8,2917 881.1,2917.3 888.3,2917.7 895.6,2918.1 902.8,2918.6 910.1,2919.5 917.3,2919.2 924.6,2919.5 931.8,2920 939.1,2920.2 946.4,2921.3 953.6,2921.7 960.9,2921.9 968.1,2922.5 975.4,2922.4 982.6,2922.5 989.8,2922.5 997,2922.4 1004.2,2922.8 1011.4,2922.4 1018.6,2922.8 1025.8,2922.7 1033,2923 1040.2,2923.3 1047.4,2923.2 1054.7,2922.7 1061.9,2923.2 1069.1,2923.4 1076.3,2923.3 1083.5,2922.9 1090.7,2923 1097.9,2923.5 1105.1,2923.7 1112.3,2923.5 1119.5,2923.8 1126.7,2923.7 1133.9,2924.1 1141.1,2923.5 1148.3,2924.2 1155.6,2924.2 1162.8,2924" fill="none" stroke="#ff0000" stroke-width="3" stroke-linejoin="round" stroke-linecap="round"/>
<polyline points="373.4,2984.6 380.4,2982.1 387.5,2980.2 394.5,2978.4 401.5,2975.8 408.5,2973.5 415.6,2972.8 422.6,2972 429.6,2971.2 436.6,2971.4 443.7,2970.3 450.9,2970.1 458.2,2969.1 465.4,2969.1 472.7,2968.7 479.9,2968.5 487.2,2967.4 494.4,2967 501.7,2966.5 508.9,2966.4 516.2,2966.3 523.5,2965.5 530.8,2965.3 538.2,2964.4 545.6,2964.2 552.9,2963.6 560.3,2963.3 567.7,2963.3 575,2962.6 582.4,2962.3 589.8,2961.9 597.1,2961.7 604.5,2961.8 611.9,2960.8 619.2,2960.7 626.3,2959.8 633.3,2958.7 640.3,2957.6 647.4,2956.7 654.4,2956.2 661.5,2955.3 668.5,2954.2 675.5,2953.4 682.6,2952.3 689.6,2950.9 696.7,2949.9 703.7,2949.3 710.7,2948.3 717.8,2947.6 724.8,2946.7 731.8,2945.7 738.9,2944.9 745.9,2943.6 753,2942.7 760,2941.5 768,2941.4 775.9,2940.6 783.9,2940.5 791.9,2940.1 799.8,2939.3 807.8,2938.6 815.8,2938.3 822.9,2938.4 830,2938.8 837,2938.9 844.1,2939 851.2,2939.1 858.3,2939.6 865.4,2939.8 872.5,2940.2 879.6,2940.4 886.7,2939.6 893.8,2940.2 900.9,2940.7 908,2940.7 915.1,2940.9 922.2,2940.8 929.3,2941.1 936.4,2941.7 943.5,2941.5 950.5,2941.6 957.6,2941.7 964.7,2941.6 971.8,2941.5 978.8,2941.4 985.9,2941.3 993,2941.2 1000.1,2941.1 1007.1,2940.5 1014.2,2940.4 1021.3,2940.3 1028.3,2940.6 1035.4,2940.7 1042.5,2940.3 1049.6,2939.9 1056.6,2939.5 1063.7,2939.4 1070.8,2939.2 1077.9,2939.2 1084.9,2939 1092,2939.3 1099.1,2939.1 1106.2,2939.6 1113.2,2938.7 1120.3,2938.6 1127.4,2939.3 1134.5,2939.2 1141.5,2938.7 1148.6,2938.6 1155.7,2938.3 1162.8,2938.3" fill="none" stroke="#ff0000" stroke-width="3" stroke-linejoin="round" stroke-linecap="round"/>
<polyline points="392.6,2978.2 399.6,2976.3 406.6,2975.4 413.6,2973.8 420.7,2971.7 427.7,2970.3 434.8,2969.7 441.9,2969.3 449,2968.8 456.1,2968.6 463.2,2968.2 470.3,2968.5 477.3,2967.5 484.4,2967.1 491.5,2967.1 498.8,2966.9 506,2966.3 513.3,2964.9 520.6,2964.6 527.8,2964.7 535.1,2963.5 542.3,2963.1 549.6,2962.6 556.8,2962 564.1,2960.8 571.3,2960.7 578.6,2960.8 585.9,2960.7 593.1,2960.2 600.4,2960 607.6,2960.2 614.9,2960.3 622.1,2960.1 629.4,2959.2 636.6,2959.6 643.9,2959.2 651.1,2959.1 658.4,2959.5 665.7,2959.3 672.9,2958.8 680.2,2959.1 687.4,2958.9 694.7,2958.1 701.9,2958.3 709.2,2958.7 716.5,2957.9 723.7,2958 731,2958.1 738.2,2957.7 745.5,2958 752.7,2957.3 760,2957.5 767.3,2957.9 774.6,2958.1 781.9,2957.8 789.2,2958.9 796.5,2959.1 803.8,2959.4 811.2,2959 818.5,2959.7 825.8,2959.5 833.1,2960.4 840.4,2960.5 847.7,2960.7 854.8,2962.1 861.9,2962.5 869,2963.6 876.1,2964.5 883.2,2966.4 890.3,2967.2 897.3,2967.8 904.4,2969.4 911.5,2970.3 918.9,2970.5 926.3,2970.7 933.6,2971.3 941,2971.5 948.4,2971.5 955.7,2971.5 963.1,2971.9 970.5,2972.1 977.8,2972.2 985.2,2972.4 992.6,2973 999.9,2973.7 1007.3,2973.5" fill="none" stroke="#ff0000" stroke-width="3" stroke-linejoin="round" stroke-linecap="round"/>
<polyline points="649.5,2986.2 651.1,2957.5 652.7,2930.4 654.3,2928.8" fill="none" stroke="#ff0000" stroke-width="3" stroke-linejoin="round" stroke-linecap="round"/>
<polyline points="692.6,2979.8 702.2,2951.1 711.8,2928.8 721.4,2924.9 729.1,2925.2 736.8,2924.4 744.6,2924.7 752.3,2923.9 760,2924 767.3,2924.4 774.6,2924.5 781.9,2925.2 789.2,2925.1 796.5,2925.9 803.8,2926.2 811.2,2926.3 818.5,2927.5 825.8,2928 833.1,2927.6 840.4,2928.5 847.7,2928.8 854.8,2929 861.9,2929 869,2929.4 876.1,2929.6 883.2,2929.4 890.3,2929.7 897.3,2930 904.4,2930.7 911.5,2930.8 918.6,2930.8 925.7,2930.7 932.8,2931.3 939.9,2931.5 947,2931.6 954.1,2931.1 961.2,2931.5 968.3,2931.5 975.4,2931.9 982.5,2932.5 989.6,2932.3 996.7,2932.3 1003.8,2932.3 1010.8,2932.5 1017.9,2933.3 1025,2933.7 1032.1,2933.8 1039.2,2933.6 1046.5,2933 1053.8,2933.1 1061,2932.9 1068.3,2933.1 1075.6,2932.8 1082.8,2933 1090.1,2932.8 1097.4,2932.9 1104.6,2932.7 1111.9,2932.6 1119.2,2932.1 1126.4,2932.9 1133.7,2932.3 1141,2932.6 1148.2,2932 1155.5,2931.6 1162.8,2932" fill="none" stroke="#ff0000" stroke-width="3" stroke-linejoin="round" stroke-linecap="round"/>
<polyline points="740.5,2973.5 742.1,2947.9 745.3,2938.3 752.7,2937.1 760,2935.1 768,2935.1 775.9,2936 783.9,2935.8 791.9,2936 799.8,2936.4 807.8,2936.2 815.8,2936.7 823,2935.9 830.2,2935.6 837.5,2934.9 844.7,2934.8 851.9,2934 859.2,2933.4 866.4,2932.8 873.7,2932.2 880.9,2932.2 888.1,2931.8 895.4,2930.7 902.6,2930.7 909.8,2929.6 917.1,2929.6 924.3,2928.8 933.9,2934.9 943.5,2941.5 950.8,2941.4 958.2,2941 965.6,2941.2 972.9,2940.8 980.3,2939.9 987.7,2939.7 995,2939.8 1002.4,2939.3 1009.8,2939.1 1017.1,2939.5 1024.5,2939.3 1031.9,2938.1 1039.2,2938.3 1046.5,2938.1 1053.8,2938.8 1061,2939.4 1068.3,2939.5 1075.6,2939.5 1082.8,2939.7 1090.1,2939.6 1097.4,2939.8 1104.6,2940.4 1111.9,2939.8 1119.2,2940.6 1126.4,2940.8 1133.7,2940.4 1141,2941.2 1148.2,2940.8 1155.5,2941.8 1162.8,2941.5" fill="none" stroke="#ff0000" stroke-width="3" stroke-linejoin="round" stroke-linecap="round"/>
<polyline points="625.6,2973.5 632,2954.3 641.6,2948.7 651.1,2943.1 659.7,2942.4 668.2,2941.5 676.7,2940.6 689.5,2957.5 698,2962 706.5,2966.4 715,2970.3 722.5,2971 730,2971 737.5,2971.6 745,2972.3 752.5,2972.8 760,2973.5" fill="none" stroke="#ff0000" stroke-width="3" stroke-linejoin="round" stroke-linecap="round"/>
<polyline points="391,2941.5 399.8,2940.7 408.5,2940.9 415.8,2942.5 423.1,2943.6 430.4,2944.1 437.7,2945.9 445,2946.8 452.3,2948.7 459.6,2949.5 467,2949.3 474.3,2948.1 481.7,2947.8 489.1,2947.1 496.4,2946.2 503.8,2945.8 511.2,2945.1 518.5,2944.6 525.9,2944.4 533.3,2943.6 540.6,2942.3 548,2942 555.4,2941.5 562.6,2941.3 569.9,2940.3 577.1,2939.5 584.4,2938.8 591.7,2938.1 598.9,2936.8 606.2,2936.4 613.4,2935.5 620.7,2934.7 627.9,2934.5 635.2,2933.6 642.3,2931.1 649.4,2929.3 656.5,2927.9 663.6,2926.1 670.7,2923.6 677.7,2922.2 684.8,2920.2 691.9,2917.6 699,2916 706.7,2915.6 714.3,2914.1 721.9,2913.6 729.5,2912.4 737.1,2911.6 744.8,2911.4 752.4,2910.7 760,2909.6 767.3,2908 774.6,2907 781.9,2906.1 789.2,2904.9 796.5,2903.3 803.8,2902.6 811.2,2900.8 818.5,2900.5 825.8,2899 833.1,2897.8 840.4,2896.9 847.7,2895.2 855,2894.3 862.4,2893.5 869.7,2893.3 877.1,2892.8 884.4,2892.2 891.7,2891.3 899.1,2890.4 906.4,2889.5 913.8,2889.2 921.1,2888.2 928.6,2889.8 936,2891.6 943.5,2892.7 950.8,2892.2 958.2,2891.1 965.6,2890.5 972.9,2889.3 980.3,2888.5 987.7,2888.2 995,2887.4 1002.4,2885.9 1009.8,2885.3 1017.1,2884.8 1024.5,2884.1 1031.9,2883.1 1039.2,2882.5 1046.5,2881.8 1053.8,2881.8 1061,2880.7 1068.3,2880.2 1075.6,2880.1 1082.8,2878.9 1090.1,2878.6 1097.4,2877.6 1104.6,2877.8 1111.9,2877.2 1119.2,2876 1126.4,2875.8 1133.7,2874.9 1141,2874.9 1148.2,2874 1155.5,2873.3 1162.8,2872.9" fill="none" stroke="#ff0000" stroke-width="3" stroke-linejoin="round" stroke-linecap="round"/>
<polyline points="568.1,2979.8 571.3,2960.7 579.3,2960.2 587.3,2959.8 595.3,2960.1 603.3,2959.4 611.2,2959.5 619.2,2959.1 626.3,2958.5 633.3,2959.1 640.3,2958.5 647.4,2957.9 654.4,2957.5 661.5,2958 668.5,2957.8 675.5,2957 682.6,2956.5 689.6,2957.2 696.7,2956.9 703.7,2956.2 710.7,2955.6 717.8,2956 724.8,2956 731.8,2955.1 738.9,2954.9 745.9,2955.2 753,2954.8 760,2954.3 768,2955.2 775.9,2955.3 783.9,2955.4 791.9,2956.6 799.8,2956.9 807.8,2957.4 815.8,2957.5 823.1,2958.3 830.5,2959.3 837.9,2960.9 845.2,2961.8 852.6,2962 860,2963 867.3,2964 874.7,2965.5 882.1,2966.1 889.4,2967 896.8,2968.3 904.2,2969.7 911.5,2970.3" fill="none" stroke="#ff0000" stroke-width="3" stroke-linejoin="round" stroke-linecap="round"/>
<polyline points="737.6,2973.5 739.8,2944.7 745.5,2935.1 752.6,2935.2 759.6,2934.2 766.6,2933.8 773.6,2933.5 780.7,2933.8 787.7,2933.6 794.7,2933.4 801.7,2932.8 808.7,2932.4 815.8,2932 823,2931.9 830.2,2931.5 837.5,2931.4 844.7,2930.7 851.9,2930.4 859.2,2931 866.4,2930.8 873.7,2930.7 880.9,2930.3 888.1,2929.9 895.4,2929.3 902.6,2929.8 909.8,2929.2 917.1,2929.3 924.3,2928.8 933.9,2933 943.5,2936.7 950.8,2936.9 958.2,2936.6 965.6,2936.7 972.9,2936.2 980.3,2936.3 987.7,2936 995,2936 1002.4,2936.2 1009.8,2936 1017.1,2935.7 1024.5,2935.5 1031.9,2935 1039.2,2935.1 1046.5,2935.4 1053.8,2934.9 1061,2934.7 1068.3,2935.1 1075.6,2934.7 1082.8,2934.8 1090.1,2934.2 1097.4,2934.7 1104.6,2934.8 1111.9,2934.3 1119.2,2934.5 1126.4,2934.1 1133.7,2934.1 1141,2933.8 1148.2,2933.6 1155.5,2934.1 1162.8,2933.6" fill="none" stroke="#ff0000" stroke-width="3" stroke-linejoin="round" stroke-linecap="round"/>
<polyline points="911.5,2970.3 921.1,2964.2 930.7,2957.5 943.5,2951.1 951.4,2950.4 959.4,2949.7 967.4,2948.2 975.4,2947.9 982.8,2947.2 990.3,2946.5 997.7,2945.4 1005.2,2949.4 1012.6,2953.4 1020.1,2957.5 1027.3,2960 1034.4,2963 1041.6,2966 1048.8,2968.7 1058.4,2960.7 1065.6,2960.1 1072.7,2958.8 1079.9,2957.8 1087.1,2956.9 1094.7,2956.1 1102.2,2956 1109.8,2955 1117.4,2954.1 1124.9,2954 1132.5,2953.4 1140.1,2953.2 1147.6,2952.2 1155.2,2951.9 1162.8,2951.1" fill="none" stroke="#ff0000" stroke-width="3" stroke-linejoin="round" stroke-linecap="round"/>
<polyline points="985,2986.2 991.3,2967.1 999.3,2944.7 1007.3,2941.5 1014.4,2941.3 1021.4,2941.3 1028.5,2941.7 1035.6,2941.5 1042.6,2941.8 1049.7,2941.6 1056.8,2942.1 1063.8,2942.2 1070.9,2942 1078,2942.6 1085,2941.9 1092.1,2942.9 1099.2,2942.4 1106.2,2942.2 1113.3,2942.5 1120.4,2942.6 1127.4,2942.3 1134.5,2943 1141.6,2943.1 1148.6,2943.1 1155.7,2943.2 1162.8,2943.1" fill="none" stroke="#ff0000" stroke-width="3" stroke-linejoin="round" stroke-linecap="round"/>
<polyline points="1087.1,2986.2 1090.3,2957.5 1096.7,2946.3 1104,2946 1111.4,2944.9 1118.7,2944.3 1126.1,2944.1 1133.4,2943.9 1140.7,2942.9 1148.1,2943 1155.4,2942.2 1162.8,2941.5" fill="none" stroke="#ff0000" stroke-width="3" stroke-linejoin="round" stroke-linecap="round"/>
<polyline points="1119,2986.2 1123.8,2941.5 1130.2,2935.1 1138.3,2934.8 1146.5,2933.2 1154.6,2933 1162.8,2932" fill="none" stroke="#ff0000" stroke-width="3" stroke-linejoin="round" stroke-linecap="round"/>
<polyline points="1128.6,2986.2 1133.4,2938.3 1138.2,2933.6" fill="none" stroke="#ff0000" stroke-width="3" stroke-linejoin="round" stroke-linecap="round"/>
<polyline points="1052,2986.2 1055.2,2967.1 1064.8,2959.1 1072.4,2957.7 1080.1,2957.3 1087.7,2956.1 1095.4,2955.7 1103.1,2954.3 1110.5,2954.2 1118,2953.9 1125.5,2954.1 1132.9,2953.3 1140.4,2953.7 1147.8,2953 1155.3,2953.1 1162.8,2952.7" fill="none" stroke="#ff0000" stroke-width="3" stroke-linejoin="round" stroke-linecap="round"/>
<polyline points="720,2954.3 727.1,2954.5 734.2,2954.8 741.3,2954.6 748.4,2955.4 755.5,2955.4 762.6,2955.6 769.7,2955.5 776.8,2956.1 783.8,2956.1 790.9,2956.2 798,2955.9 805.1,2956.4 812.2,2957.1 819.3,2956.8 826.4,2956.8 833.5,2957.3 840.6,2957 847.7,2957.5 854.9,2957.8 862.2,2958.6 869.5,2958.8 876.7,2959.1 884,2960.1 891.2,2960.1 898.5,2960.5 905.7,2960.6 913,2961.5 920.2,2961.8 927.5,2962.1 934.8,2963.2 942,2963.3 949.3,2963.6 956.5,2964.4 963.8,2964.4 971,2965.4 978.3,2965.5 985.5,2965.6 992.8,2966.2 1000,2967.1 1007.3,2967.1 1014.4,2967.2 1021.4,2966.6 1028.5,2967.4 1035.6,2967 1042.6,2966.9 1049.7,2967.1 1056.8,2966.8 1063.8,2967.2 1070.9,2967.2 1078,2967 1085,2967.1 1092.1,2966.9 1099.2,2967.3 1106.2,2967.4 1113.3,2966.6 1120.4,2967.2 1127.4,2967.4 1134.5,2967.6 1141.6,2967.3 1148.6,2967.5 1155.7,2967.2 1162.8,2967.1" fill="none" stroke="#ff0000" stroke-width="3" stroke-linejoin="round" stroke-linecap="round"/>
<polyline points="720,2922.4 727.3,2922 734.5,2922.1 741.8,2922.5 749,2922.3 756.3,2923.1 763.5,2922.4 770.8,2922.9 778,2922.8 785.3,2923.4 792.6,2922.8 799.8,2923 807.1,2923.1 814.3,2923.1 821.6,2922.9 828.8,2923.4 836.1,2923.1 843.3,2923.7 850.6,2923.3 857.8,2923.6 865.1,2923.8 872.4,2924.3 879.6,2924 886.7,2925.5 893.8,2927.5 900.9,2930.1 908,2931.3 915.1,2934.1 922.2,2935.8 929.3,2937.4 936.4,2939.9 943.5,2941.5 950.8,2941.6 958.2,2940.9 965.6,2941.1 972.9,2940.3 980.3,2940.4 987.7,2940.1 995,2940.1 1002.4,2939.4 1009.8,2939.2 1017.1,2939.3 1024.5,2938.8 1031.9,2938.8 1039.2,2938.3 1046.5,2937.8 1053.8,2937.2 1061,2936.8 1068.3,2935.7 1075.6,2935.2 1082.8,2934.3 1090.1,2933.3 1097.4,2933.3 1104.6,2932.1 1111.9,2932.1 1119.2,2931.5 1126.4,2930.6 1133.7,2929.5 1141,2929 1148.2,2928.4 1155.5,2927.4 1162.8,2927.2" fill="none" stroke="#ff0000" stroke-width="3" stroke-linejoin="round" stroke-linecap="round"/>
<polyline points="720,2916 727.2,2916.5 734.3,2916.2 741.5,2915.9 748.6,2916.7 755.8,2916.2 762.9,2916.7 770.1,2916 777.2,2916.2 784.4,2917 791.5,2917 798.7,2916.2 805.8,2916.7 813,2916.8 820.1,2916.6 827.3,2916.6 834.4,2916.8 841.6,2916.7 848.7,2916.8 855.9,2917.6 863,2917.1 870.2,2917.1 877.3,2917.3 884.5,2917.1 891.6,2917.9 898.8,2917.6 905.9,2917.3 913,2917.2 920,2917.3 927.1,2916.1 934.2,2916.3 941.3,2916 948.4,2916 955.5,2915.6 962.6,2915.1 969.7,2914.6 976.8,2914.7 983.9,2914.7 991,2914.6 998.1,2913.8 1005.2,2913.6 1012.3,2913.6 1019.4,2913 1026.5,2912.8 1033.6,2912.5 1040.8,2912.5 1048,2912.4 1055.2,2912.1 1062.3,2912 1069.5,2911 1076.7,2911.1 1083.8,2910.3 1091,2911 1098.2,2910 1105.4,2910.1 1112.5,2910 1119.7,2909.5 1126.9,2909.2 1134.1,2909 1141.2,2908.9 1148.4,2908.7 1155.6,2908.5 1162.8,2908" fill="none" stroke="#ff0000" stroke-width="3" stroke-linejoin="round" stroke-linecap="round"/>
<polygon points="1323.5,2995.5 1394,2994 1422,2984 1450,2973 1500,2968 1700,2964 1900,2961 2100,2957 2325,2951 2325,3015 2100,3013 1800,3010 1500,3008 1450,3007 1394,3004.5 1323.5,3004.3" fill="#ff0000"/>
<polyline points="1427.5,2980.6 1428.5,2980.6 1446,2963.9 1463.5,2949.5 1481,2939.1 1498.5,2929.8 1516,2923.4 1533.5,2918.8 1551,2914.5 1568.5,2911.6 1586,2909.6 1603.5,2907.5 1621,2905.6 1638.5,2904.5 1656,2902.5 1673.5,2901.7 1691,2900.4 1708.5,2899.8 1726,2899.7 1732,2899.4 1738,2898.7 1744,2898.4 1750,2897.9 1756,2898.2 1762,2898.5 1768,2898.8 1774,2898.4 1780,2897.5 1786,2897.4 1792,2896.6 1798,2897 1804,2897.2 1810,2896.7 1816,2896 1822,2895.3 1828,2895.8 1834,2895.5 1840,2895.8 1846,2896 1852,2897 1858,2897.8 1864,2898.5 1870,2898.9 1876,2900.2 1882,2900.6 1888,2902.2 1894,2902.8 1900,2904.7 1906,2905.5 1912,2906 1918,2907.1 1924,2908.5 1930,2909 1936,2909.7 1942,2910.5 1948,2911.9 1954,2913 1960,2914.8 1966,2915.8 1972,2917 1978,2917.7 1984,2919.3 1990,2920.3 1996,2921.7 2002,2922.7 2008,2922.6 2014,2923 2020,2923.6 2026,2924.6 2032,2926.1 2038,2927.5 2044,2928.1 2050,2928 2056,2928.3 2062,2929.5 2068,2929.4 2074,2930.7 2080,2932.1 2086,2932.7 2092,2933.4 2098,2934.7 2104,2934.6 2110,2935.5 2116,2936.2 2122,2937.5 2128,2938.8 2134,2938.5 2140,2938.2 2146,2938.6 2152,2939.9 2158,2941 2164,2942 2170,2943.2 2176,2943 2182,2943.5 2188,2944.6 2194,2945.3 2200,2945.7 2206,2945.9 2212,2946.2 2218,2947.2 2224,2947 2230,2948 2236,2948.3 2242,2948.3 2248,2949.2 2254,2950.3 2260,2949.7 2266,2949.7 2272,2950.6 2278,2950.6 2284,2951.6 2290,2951.4 2296,2952.5 2302,2953.4 2308,2954 2314,2954 2320,2953.6" fill="none" stroke="#ff0000" stroke-width="2.9" stroke-linejoin="round" stroke-linecap="round"/>
<polyline points="1424.9,2976.8 1425.9,2976.8 1426.9,2942.8 1427.9,2922.4 1428.9,2909.7 1429.9,2901.4 1430.9,2896.2 1431.9,2893.3 1432.9,2891.1 1433.9,2890.1 1434.9,2888.8 1440.9,2887.8 1446.9,2888.3 1452.9,2888.2 1458.9,2888.3 1464.9,2888.2 1470.9,2888.7 1476.9,2888.3 1482.9,2888.8 1488.9,2889.1 1494.9,2889.4 1500.9,2889.7 1506.9,2890.1 1512.9,2889.5 1518.9,2889.1 1524.9,2889.8 1530.9,2889.5 1536.9,2890.1 1542.9,2889.7 1548.9,2889.7 1554.9,2889.5 1560.9,2889 1566.9,2888.5 1572.9,2888.2 1578.9,2888.5 1584.9,2889.2 1590.9,2889 1596.9,2888.8 1602.9,2888.2 1608.9,2887.6 1614.9,2888.2 1620.9,2888.3 1626.9,2888 1632.9,2888.2 1638.9,2887.5 1644.9,2888.4 1650.9,2888.5 1656.9,2888 1662.9,2887.3 1668.9,2887.4 1674.9,2887.9 1680.9,2887.8 1686.9,2888.2 1692.9,2887.9 1698.9,2888.2 1704.9,2888.8 1710.9,2888.6 1716.9,2888.2 1722.9,2888.2 1728.9,2888.1 1734.9,2888.1 1740.9,2888.1 1746.9,2888.9 1752.9,2889.1 1758.9,2888.5 1764.9,2888.5 1770.9,2888 1776.9,2887.3 1782.9,2888.2 1788.9,2887.9 1794.9,2888 1800.9,2888.9 1806.9,2889.3 1812.9,2889.3 1818.9,2889.3 1824.9,2888.6 1830.9,2888.9 1836.9,2888.4 1842.9,2888.6 1848.9,2887.9 1854.9,2887.2 1860.9,2887.9 1866.9,2887.5 1872.9,2888.2 1878.9,2888.6 1884.9,2888 1890.9,2888.2 1896.9,2889 1902.9,2889.8 1908.9,2888.9 1914.9,2888.3 1920.9,2887.6 1926.9,2888 1932.9,2888.4 1938.9,2888.2 1944.9,2889 1950.9,2888.8 1956.9,2889.4 1962.9,2889.8 1968.9,2889.3 1974.9,2889.7 1980.9,2888.8 1986.9,2888.6 1992.9,2888.5 1998.9,2888.3 2004.9,2888.8 2010.9,2888 2016.9,2888.9 2022.9,2888.2 2028.9,2888.3 2034.9,2888.2 2040.9,2888.2 2046.9,2888.5 2052.9,2889.1 2058.9,2889.3 2064.9,2889 2070.9,2889.4 2076.9,2888.8 2082.9,2888.6 2088.9,2889.4 2094.9,2890 2100.9,2889.4 2106.9,2889.3 2112.9,2889.9 2118.9,2889.7 2124.9,2889.6 2130.9,2889.2 2136.9,2889.2 2142.9,2888.5 2148.9,2889.4 2154.9,2888.7 2160.9,2888.4 2166.9,2888.7 2172.9,2889.4 2178.9,2890 2184.9,2889.6 2190.9,2889.3 2196.9,2889.2 2202.9,2889.9 2208.9,2890.5 2214.9,2890.4 2220.9,2890.9 2226.9,2891.1 2232.9,2891.7 2238.9,2891.9 2244.9,2891.5 2250.9,2890.8 2256.9,2891.4 2262.9,2891.6 2268.9,2891.6 2274.9,2891.8 2280.9,2891.7 2286.9,2892.3 2292.9,2892.5 2298.9,2892.6 2304.9,2891.7 2310.9,2891.8 2316.9,2891.2 2322.9,2890.6" fill="none" stroke="#ff0000" stroke-width="2.9" stroke-linejoin="round" stroke-linecap="round"/>
<polyline points="1429.5,2985.8 1430.5,2985.4 1431.5,2969.9 1432.5,2959.2 1433.5,2951.9 1434.5,2946 1435.5,2941.2 1436.5,2938.5 1437.5,2936 1438.5,2935.4 1439.5,2934.3 1440.5,2934.1 1441.5,2933.5 1442.5,2932.9 1443.5,2932.1 1449.5,2931.5 1455.5,2931 1461.5,2931.4 1467.5,2932.1 1473.5,2932.2 1479.5,2931.9 1485.5,2931.6 1491.5,2932.4 1497.5,2932.9 1503.5,2933.3 1509.5,2934 1515.5,2934.2 1521.5,2935.4 1527.5,2936.9 1533.5,2936.9 1539.5,2937.1 1545.5,2937.4 1551.5,2939 1557.5,2940.1 1563.5,2941.3 1569.5,2941.3 1575.5,2942.5 1581.5,2943.8 1587.5,2944.8 1593.5,2944.8 1599.5,2945.9 1605.5,2945.6 1611.5,2946.5 1617.5,2946.8 1623.5,2947.9 1629.5,2948.8 1635.5,2948.7 1641.5,2948.4 1647.5,2949.5 1653.5,2950.3 1659.5,2951.6 1665.5,2952.5 1671.5,2953.1 1677.5,2953.5 1683.5,2953.8 1689.5,2954.5 1695.5,2955.4 1701.5,2955.7 1707.5,2956.3 1713.5,2956.9 1719.5,2956.5 1725.5,2956.7 1731.5,2958 1737.5,2957.6 1743.5,2957.2 1749.5,2957.9 1755.5,2957.6 1761.5,2958.8 1767.5,2958.5 1773.5,2959.6 1779.5,2959.4 1785.5,2959.7 1791.5,2959.4 1797.5,2960.3 1803.5,2960.6 1809.5,2960.4 1815.5,2961.5 1821.5,2962.5 1827.5,2962.8 1833.5,2963.8 1839.5,2964.9 1845.5,2966 1851.5,2966.4 1857.5,2966.3 1863.5,2966.6 1869.5,2966.6 1875.5,2967.6 1881.5,2968.4 1887.5,2968.4 1893.5,2969.1 1899.5,2970 1905.5,2970.7 1911.5,2970.5 1917.5,2969.8 1923.5,2969.9 1929.5,2970.8 1935.5,2971.4 1941.5,2971.1 1947.5,2970.7 1953.5,2971.3 1959.5,2971.5 1965.5,2972.4 1971.5,2972.3 1977.5,2972 1983.5,2972.1 1989.5,2971.8 1995.5,2972.4 2001.5,2972.3 2007.5,2972.5 2013.5,2972.5 2019.5,2973.4 2025.5,2973.6 2031.5,2973.5 2037.5,2974.1 2043.5,2974.1 2049.5,2975 2055.5,2975.1 2061.5,2974.5 2067.5,2974.4 2073.5,2974.5 2079.5,2974.1 2085.5,2974 2091.5,2974.2 2097.5,2974.6 2103.5,2974.2 2109.5,2974.4 2115.5,2974.7 2121.5,2975.1 2127.5,2975.9 2133.5,2976.5 2139.5,2976.5 2145.5,2976.5 2151.5,2976.2 2157.5,2976.5 2163.5,2976.8 2169.5,2976.9 2175.5,2977.4 2181.5,2976.8 2187.5,2976.7 2193.5,2977.2 2199.5,2977.4 2205.5,2977 2211.5,2976.5 2217.5,2976.4 2223.5,2976.1 2229.5,2975.9 2235.5,2976.5 2241.5,2976.9 2247.5,2977.2 2253.5,2978.2 2259.5,2978.2 2265.5,2978.3 2271.5,2978 2277.5,2978.5 2283.5,2977.9 2289.5,2977.7 2295.5,2977.9 2301.5,2978.6 2307.5,2978 2313.5,2978 2319.5,2978.1" fill="none" stroke="#ff0000" stroke-width="2.9" stroke-linejoin="round" stroke-linecap="round"/>
<polyline points="1431.4,2986.8 1432.4,2986.8 1449.9,2975.9 1467.4,2967.2 1484.9,2961 1502.4,2955.4 1519.9,2951.3 1537.4,2947.8 1554.9,2945.3 1572.4,2943.3 1589.9,2941.6 1607.4,2941 1624.9,2940.9 1642.4,2939.8 1659.9,2940.1 1677.4,2939.7 1694.9,2938.7 1712.4,2939 1729.9,2939.4 1735.9,2939.6 1741.9,2940 1747.9,2939.6 1753.9,2939.9 1759.9,2940.6 1765.9,2940.3 1771.9,2940.7 1777.9,2941.1 1783.9,2941.8 1789.9,2941 1795.9,2941.1 1801.9,2940.8 1807.9,2940.8 1813.9,2940.1 1819.9,2940.8 1825.9,2940.5 1831.9,2940 1837.9,2940.3 1843.9,2940.4 1849.9,2940.7 1855.9,2940.9 1861.9,2940.2 1867.9,2940.6 1873.9,2940.2 1879.9,2941 1885.9,2940.5 1891.9,2941.2 1897.9,2940.7 1903.9,2941.4 1909.9,2941.8 1915.9,2942.1 1921.9,2942.3 1927.9,2941.7 1933.9,2941.7 1939.9,2942.3 1945.9,2942.7 1951.9,2942.7 1957.9,2942.2 1963.9,2941.9 1969.9,2941.8 1975.9,2941.3 1981.9,2940.6 1987.9,2939.9 1993.9,2939.3 1999.9,2938.8 2005.9,2938.3 2011.9,2938.3 2017.9,2938.3 2023.9,2938.5 2029.9,2939 2035.9,2938.8 2041.9,2939.3 2047.9,2938.9 2053.9,2939.3 2059.9,2940.3 2065.9,2939.9 2071.9,2940.2 2077.9,2941.2 2083.9,2940.8 2089.9,2940.4 2095.9,2940 2101.9,2940.3 2107.9,2941 2113.9,2941.6 2119.9,2941.7 2125.9,2941.5 2131.9,2941.5 2137.9,2942 2143.9,2942.7 2149.9,2941.9 2155.9,2941.2 2161.9,2940.6 2167.9,2940.8 2173.9,2941.7 2179.9,2942.3 2185.9,2942.3 2191.9,2941.8 2197.9,2941.6 2203.9,2942.4 2209.9,2941.8 2215.9,2941.7 2221.9,2942 2227.9,2941.7 2233.9,2942 2239.9,2942.1 2245.9,2943 2251.9,2943.7 2257.9,2943 2263.9,2943.2 2269.9,2942.8 2275.9,2943.1 2281.9,2943.3 2287.9,2944 2293.9,2943.4 2299.9,2943.8 2305.9,2943.4 2311.9,2944 2317.9,2944.3 2323.9,2945" fill="none" stroke="#ff0000" stroke-width="2.9" stroke-linejoin="round" stroke-linecap="round"/>
<polyline points="1462.2,2973.6 1463.2,2973.6 1473.1,2924.9 1483.1,2886.1 1493.1,2856.6 1503.1,2833.2 1513.1,2815.2 1523,2800.7 1533,2790.2 1543,2780.9 1553,2774.9 1563,2770.5 1573,2766.1 1582.9,2762.1 1592.9,2759.2 1602.9,2756.9 1612.9,2756.2 1622.9,2755.7 1628.9,2755.5 1634.9,2755.5 1640.9,2755.6 1646.9,2755.5 1652.9,2755.3 1658.9,2755.2 1664.9,2754.4 1670.9,2753.6 1676.9,2754.1 1682.9,2753.9 1688.9,2753.4 1694.9,2754.1 1700.9,2753.3 1706.9,2753.1 1712.9,2753.2 1718.9,2753.4 1724.9,2752.7 1730.9,2752.8 1736.9,2752.9 1742.9,2752.3 1748.9,2753 1754.9,2753.1 1760.9,2752.5 1766.9,2752.1 1772.9,2751.9 1778.9,2751.5 1784.9,2752.4 1790.9,2752.3 1796.9,2752.5 1802.9,2751.9 1808.9,2751.5 1814.9,2752 1820.9,2751.8 1826.9,2752.3 1832.9,2752.7 1838.9,2752.6 1844.9,2752.3 1850.9,2752.1 1856.9,2753 1862.9,2755.5 1868.9,2758.6 1874.9,2762.4 1880.9,2766 1886.9,2769.4 1892.9,2772.4 1898.9,2775.6 1904.9,2779.1 1910.9,2782.7 1916.9,2785.8 1922.9,2788.9 1928.9,2792.1 1934.9,2794.7 1940.9,2798.2 1946.9,2800.8 1952.9,2803.2 1958.9,2806 1964.9,2809.3 1970.9,2812.4 1976.9,2815.6 1982.9,2818 1988.9,2820.4 1994.9,2823.8 2000.9,2826.7 2006.9,2829 2012.9,2832.2 2018.9,2834.3 2024.9,2836.7 2030.9,2839.7 2036.9,2842.3 2042.9,2843.9 2048.9,2846.9 2054.9,2849.1 2060.9,2850.5 2066.9,2853 2072.9,2854.7 2078.9,2857 2084.9,2858.4 2090.9,2859.7 2096.9,2861.5 2102.9,2864.1 2108.9,2865.4 2114.9,2867.7 2120.9,2869.1 2126.9,2870.8 2132.9,2872.6 2138.9,2874.6 2144.9,2876.1 2150.9,2877.1 2156.9,2878.4 2162.9,2879.7 2168.9,2882 2174.9,2884.2 2180.9,2885.5 2186.9,2887.2 2192.9,2888.2 2198.9,2889.9 2204.9,2890.7 2210.9,2893.1 2216.9,2894 2222.9,2895.8 2228.9,2896.9 2234.9,2898.2 2240.9,2899.5 2246.9,2901 2252.9,2901.9 2258.9,2902.7 2264.9,2904.4 2270.9,2905.3 2276.9,2906.6 2282.9,2907.6 2288.9,2908.9 2294.9,2909.9 2300.9,2911.7 2306.9,2913 2312.9,2913.5 2318.9,2915.2 2324.9,2915.9" fill="none" stroke="#ff0000" stroke-width="2.9" stroke-linejoin="round" stroke-linecap="round"/>
<polyline points="1455.2,2977.7 1456.2,2977.7 1477.5,2931 1498.9,2895 1520.2,2867.2 1541.5,2845.2 1562.8,2829.2 1584.1,2815.7 1605.4,2806 1626.7,2799.3 1648.1,2793.4 1669.4,2789.7 1690.7,2785.9 1712,2783.4 1733.3,2782.5 1754.6,2780.7 1776,2780.5 1797.3,2779.5 1803.3,2780.4 1809.3,2780.8 1815.3,2780.6 1821.3,2781 1827.3,2781.3 1833.3,2781.9 1839.3,2781.7 1845.3,2781.1 1851.3,2781.5 1857.3,2781.3 1863.3,2781.3 1869.3,2781.1 1875.3,2780.4 1881.3,2780.6 1887.3,2781 1893.3,2781.3 1899.3,2781.1 1905.3,2780.6 1911.3,2780.1 1917.3,2780.8 1923.3,2781.8 1929.3,2781.3 1935.3,2782.1 1941.3,2782.1 1947.3,2782.9 1953.3,2783.1 1959.3,2783 1965.3,2782.5 1971.3,2783.1 1977.3,2783.5 1983.3,2783.3 1989.3,2783.5 1995.3,2784.5 2001.3,2785 2007.3,2785.6 2013.3,2785.4 2019.3,2785.3 2025.3,2786.2 2031.3,2786.4 2037.3,2786.1 2043.3,2785.8 2049.3,2785.7 2055.3,2785.9 2061.3,2786.2 2067.3,2785.8 2073.3,2786.2 2079.3,2787 2085.3,2787.6 2091.3,2788 2097.3,2788.4 2103.3,2789 2109.3,2789.4 2115.3,2789 2121.3,2789.7 2127.3,2790.5 2133.3,2791.1 2139.3,2791.7 2145.3,2790.9 2151.3,2790.5 2157.3,2790.2 2163.3,2791.3 2169.3,2791.2 2175.3,2791 2181.3,2791.8 2187.3,2792.3 2193.3,2792.5 2199.3,2792.8 2205.3,2793.1 2211.3,2793.2 2217.3,2792.9 2223.3,2792.7 2229.3,2792.3 2235.3,2792.1 2241.3,2793 2247.3,2793.1 2253.3,2793.8 2259.3,2794 2265.3,2794.5 2271.3,2794 2277.3,2794.4 2283.3,2794.7 2289.3,2795.3 2295.3,2795.5 2301.3,2795.6 2307.3,2796.5 2313.3,2796 2319.3,2796.2" fill="none" stroke="#ff0000" stroke-width="2.9" stroke-linejoin="round" stroke-linecap="round"/>
<polyline points="1456.6,2971.3 1457.6,2971.3 1468.9,2922.6 1480.2,2883.5 1491.6,2852.9 1502.9,2829.1 1514.2,2810.4 1525.5,2797.1 1536.8,2786.9 1548.1,2778.7 1559.4,2772.1 1570.7,2767.9 1582,2763.9 1593.3,2761.5 1604.6,2759.2 1615.9,2757.6 1627.2,2756.9 1638.5,2756.4 1649.9,2755.6 1655.9,2755.4 1661.9,2755.7 1667.9,2755 1673.9,2755.3 1679.9,2755.6 1685.9,2756.3 1691.9,2755.6 1697.9,2755.4 1703.9,2755.3 1709.9,2755.5 1715.9,2756.3 1721.9,2757.2 1727.9,2757.2 1733.9,2756.8 1739.9,2756.3 1745.9,2757.2 1751.9,2758.1 1757.9,2759 1763.9,2759.6 1769.9,2759.3 1775.9,2759.1 1781.9,2758.8 1787.9,2759.2 1793.9,2759.9 1799.9,2759.5 1805.9,2758.9 1811.9,2759.9 1817.9,2760.8 1823.9,2761.7 1829.9,2762.1 1835.9,2761.9 1841.9,2761.8 1847.9,2762.4 1853.9,2763.1 1859.9,2763.2 1865.9,2762.5 1871.9,2761.9 1877.9,2763 1883.9,2763.8 1889.9,2764.8 1895.9,2764.8 1901.9,2765 1907.9,2764.7 1913.9,2765.2 1919.9,2764.8 1925.9,2764.6 1931.9,2765.2 1937.9,2764.8 1943.9,2764.9 1949.9,2766 1955.9,2765.9 1961.9,2765.9 1967.9,2765.9 1973.9,2766.1 1979.9,2766.6 1985.9,2766.5 1991.9,2766.6 1997.9,2767.8 2003.9,2768.2 2009.9,2768.5 2015.9,2769.1 2021.9,2769.1 2027.9,2769.7 2033.9,2769.2 2039.9,2769.3 2045.9,2770.1 2051.9,2770.6 2057.9,2771.3 2063.9,2771.5 2069.9,2771.9 2075.9,2772.5 2081.9,2773 2087.9,2773.4 2093.9,2772.7 2099.9,2773.5 2105.9,2772.9 2111.9,2773.5 2117.9,2773.9 2123.9,2774.8 2129.9,2774.9 2135.9,2774.4 2141.9,2774.3 2147.9,2775.4 2153.9,2775.6 2159.9,2776.4 2165.9,2777.1 2171.9,2777.7 2177.9,2777.5 2183.9,2778.1 2189.9,2777.6 2195.9,2777.8 2201.9,2778.4 2207.9,2779.3 2213.9,2778.8 2219.9,2778.9 2225.9,2778.5 2231.9,2779.2 2237.9,2779.1 2243.9,2778.7 2249.9,2778.9 2255.9,2778.4 2261.9,2778.5 2267.9,2779.1 2273.9,2778.8 2279.9,2779 2285.9,2779.1 2291.9,2778.8 2297.9,2778.6 2303.9,2779.1 2309.9,2779.5 2315.9,2779.3 2321.9,2779.2" fill="none" stroke="#ff0000" stroke-width="2.9" stroke-linejoin="round" stroke-linecap="round"/>
<polyline points="1444.7,2993.3 1445.7,2993.3 1454.8,2931.4 1463.9,2882.9 1473.1,2846 1482.2,2817.4 1491.3,2794.4 1500.5,2776.9 1509.6,2762.7 1518.8,2751.3 1527.9,2743.6 1537,2737.2 1546.2,2732.5 1555.3,2728.6 1564.4,2724.6 1573.6,2722.5 1582.7,2720.6 1591.8,2719.4 1597.8,2719 1603.8,2718.7 1609.8,2718.6 1615.8,2717.3 1621.8,2716.3 1627.8,2716 1633.8,2715 1639.8,2713.9 1645.8,2713.9 1651.8,2713.3 1657.8,2713.7 1663.8,2713.7 1669.8,2713.6 1675.8,2713.4 1681.8,2712.9 1687.8,2712.8 1693.8,2712.8 1699.8,2712.1 1705.8,2712.1 1711.8,2711.6 1717.8,2711 1723.8,2710.3 1729.8,2710.7 1735.8,2711 1741.8,2710.4 1747.8,2710.7 1753.8,2710.5 1759.8,2710.7 1765.8,2709.9 1771.8,2709.8 1777.8,2710.2 1783.8,2709.5 1789.8,2710.2 1795.8,2710.4 1801.8,2710 1807.8,2710.1 1813.8,2709.4 1819.8,2708.5 1825.8,2708.4 1831.8,2708.4 1837.8,2707.7 1843.8,2707.4 1849.8,2707.2 1855.8,2707.2 1861.8,2706.7 1867.8,2706.2 1873.8,2707 1879.8,2707.6 1885.8,2708.3 1891.8,2708.6 1897.8,2708.8 1903.8,2708.8 1909.8,2708.8 1915.8,2708.5 1921.8,2708.1 1927.8,2708.7 1933.8,2709 1939.8,2708.2 1945.8,2707.2 1951.8,2707.8 1957.8,2707.9 1963.8,2707.6 1969.8,2707.5 1975.8,2707.9 1981.8,2707 1987.8,2706.7 1993.8,2706.8 1999.8,2706.9 2005.8,2707.4 2011.8,2707.6 2017.8,2706.6 2023.8,2705.7 2029.8,2705.9 2035.8,2705.7 2041.8,2706.4 2047.8,2705.5 2053.8,2705.9 2059.8,2705.5 2065.8,2704.7 2071.8,2704.7 2077.8,2703.9 2083.8,2704.4 2089.8,2705 2095.8,2705.7 2101.8,2706.2 2107.8,2706.4 2113.8,2706.3 2119.8,2706.6 2125.8,2707 2131.8,2707.2 2137.8,2706.2 2143.8,2705.2 2149.8,2704.2 2155.8,2703.4 2161.8,2702.7 2167.8,2702.9 2173.8,2702.4 2179.8,2702.2 2185.8,2702.6 2191.8,2701.7 2197.8,2701.4 2203.8,2701.4 2209.8,2702.1 2215.8,2701.8 2221.8,2701.2 2227.8,2701.1 2233.8,2701.3 2239.8,2700.5 2245.8,2700.6 2251.8,2700 2257.8,2700.1 2263.8,2700.9 2269.8,2701.2 2275.8,2700.5 2281.8,2701 2287.8,2701.7 2293.8,2701.4 2299.8,2701.6 2305.8,2701.7 2311.8,2701.9 2317.8,2702.5 2323.8,2702.6" fill="none" stroke="#ff0000" stroke-width="2.9" stroke-linejoin="round" stroke-linecap="round"/>
<polyline points="1469.7,2969.8 1470.7,2969.8 1493.1,2919 1515.4,2880.6 1537.8,2849.8 1560.1,2826.8 1582.4,2808.7 1604.8,2794.4 1627.1,2784.3 1649.4,2776.1 1671.8,2769.4 1694.1,2764.9 1716.5,2762 1738.8,2760.4 1761.1,2758 1783.5,2757.5 1805.8,2756.4 1828.2,2756.3 1834.2,2756.9 1840.2,2757.2 1846.2,2757.4 1852.2,2757.3 1858.2,2757.8 1864.2,2757.8 1870.2,2757.8 1876.2,2758.3 1882.2,2757.8 1888.2,2757.9 1894.2,2757.6 1900.2,2757.1 1906.2,2757 1912.2,2757.1 1918.2,2757.1 1924.2,2758 1930.2,2757.9 1936.2,2757.5 1942.2,2757.6 1948.2,2757.7 1954.2,2757.6 1960.2,2757.9 1966.2,2757.6 1972.2,2757.6 1978.2,2758.8 1984.2,2758.9 1990.2,2759.3 1996.2,2759.5 2002.2,2760.1 2008.2,2759.8 2014.2,2760.7 2020.2,2761 2026.2,2761.2 2032.2,2761.7 2038.2,2762.8 2044.2,2763.9 2050.2,2764 2056.2,2763.8 2062.2,2764.7 2068.2,2764.6 2074.2,2765.4 2080.2,2765.5 2086.2,2766 2092.2,2766.7 2098.2,2766.1 2104.2,2766.3 2110.2,2767.3 2116.2,2767.5 2122.2,2768.2 2128.2,2768 2134.2,2767.7 2140.2,2768 2146.2,2768.5 2152.2,2769.4 2158.2,2768.7 2164.2,2769.4 2170.2,2769.7 2176.2,2769.4 2182.2,2770.3 2188.2,2770.6 2194.2,2770.2 2200.2,2770 2206.2,2770 2212.2,2771 2218.2,2771.6 2224.2,2772.3 2230.2,2772.5 2236.2,2772.2 2242.2,2772.5 2248.2,2772.1 2254.2,2771.8 2260.2,2772.3 2266.2,2772.7 2272.2,2772.3 2278.2,2773.3 2284.2,2774.1 2290.2,2774.9 2296.2,2774.9 2302.2,2774.6 2308.2,2775.2 2314.2,2776.3 2320.2,2776.8" fill="none" stroke="#ff0000" stroke-width="2.9" stroke-linejoin="round" stroke-linecap="round"/>
<polyline points="1463.9,2991.3 1464.9,2991.2 1485,2939.9 1505.2,2898.4 1525.3,2866.9 1545.4,2841.8 1565.6,2822.9 1585.7,2807.8 1605.8,2795.4 1626,2785.3 1646.1,2778.1 1666.2,2772.7 1686.4,2768.7 1706.5,2764.8 1726.6,2762 1746.8,2760.2 1766.9,2758.6 1787,2756.5 1793,2755.7 1799,2754.9 1805,2753.9 1811,2753.9 1817,2754 1823,2753.2 1829,2752.6 1835,2752.1 1841,2752.5 1847,2752.7 1853,2751.8 1859,2752 1865,2751.8 1871,2751.1 1877,2750.6 1883,2749.9 1889,2750.4 1895,2750 1901,2750.1 1907,2749.4 1913,2749.5 1919,2748.6 1925,2748.6 1931,2748.8 1937,2748.4 1943,2748.7 1949,2747.9 1955,2748.4 1961,2748.8 1967,2754.1 1973,2759.9 1979,2765.7 1985,2770.6 1991,2775.6 1997,2781.2 2003,2785.4 2009,2790.4 2015,2795.3 2021,2800.2 2027,2804.1 2033,2808.6 2039,2812.5 2045,2817.2 2051,2822.1 2057,2825.4 2063,2829.7 2069,2834 2075,2838.1 2081,2841.9 2087,2845.5 2093,2848.1 2099,2851.4 2105,2855.2 2111,2858.9 2117,2861.2 2123,2864.9 2129,2867.8 2135,2871.1 2141,2874.4 2147,2877.3 2153,2880 2159,2881.8 2165,2884.8 2171,2887.2 2177,2890 2183,2891.7 2189,2893.8 2195,2895.8 2201,2897.5 2207,2900.1 2213,2902.2 2219,2904.6 2225,2906.2 2231,2907.5 2237,2910.3 2243,2912.5 2249,2914.8 2255,2916.7 2261,2919.1 2267,2921.4 2273,2923.2 2279,2924.5 2285,2925.9 2291,2927.7 2297,2929.8 2303,2930.7 2309,2932.7 2315,2933.6 2321,2934.7" fill="none" stroke="#ff0000" stroke-width="2.9" stroke-linejoin="round" stroke-linecap="round"/>
<polyline points="1471.5,2995.2 1472.5,2995.2 1482.1,2951 1491.7,2916.4 1501.4,2889.8 1511,2869.5 1520.7,2853.9 1530.3,2841.4 1539.9,2832 1549.6,2824.6 1559.2,2818.2 1568.9,2813.2 1578.5,2808.7 1588.2,2806.2 1597.8,2804.4 1607.4,2802.9 1617.1,2801.3 1626.7,2800.4 1632.7,2799 1638.7,2798.2 1644.7,2796.7 1650.7,2796.5 1656.7,2795.3 1662.7,2795.2 1668.7,2794.4 1674.7,2793.5 1680.7,2793.7 1686.7,2793.7 1692.7,2794.3 1698.7,2795.5 1704.7,2797.7 1710.7,2799.7 1716.7,2802.7 1722.7,2805.6 1728.7,2807.3 1734.7,2809.8 1740.7,2811 1746.7,2812.9 1752.7,2815.5 1758.7,2817.1 1764.7,2818.7 1770.7,2820.8 1776.7,2822.1 1782.7,2823.6 1788.7,2825.3 1794.7,2827 1800.7,2828.8 1806.7,2830.9 1812.7,2833.3 1818.7,2835.3 1824.7,2837.5 1830.7,2839.8 1836.7,2841.4 1842.7,2842.7 1848.7,2845.3 1854.7,2847.8 1860.7,2849.4 1866.7,2851 1872.7,2853.3 1878.7,2854.5 1884.7,2856.8 1890.7,2857.6 1896.7,2858.9 1902.7,2859.8 1908.7,2861.3 1914.7,2862.9 1920.7,2864.6 1926.7,2865.6 1932.7,2866.8 1938.7,2869.3 1944.7,2871 1950.7,2872.4 1956.7,2873.3 1962.7,2874.8 1968.7,2876.7 1974.7,2877.8 1980.7,2879.9 1986.7,2882.1 1992.7,2882.8 1998.7,2884.8 2004.7,2886.6 2010.7,2888.3 2016.7,2889.2 2022.7,2890.5 2028.7,2891.5 2034.7,2892.1 2040.7,2894.1 2046.7,2896 2052.7,2896.7 2058.7,2897.4 2064.7,2897.9 2070.7,2899.8 2076.7,2900.5 2082.7,2901 2088.7,2901.5 2094.7,2903 2100.7,2904.9 2106.7,2905.8 2112.7,2906.4 2118.7,2908.1 2124.7,2908.5 2130.7,2910.2 2136.7,2910.4 2142.7,2911.1 2148.7,2911.6 2154.7,2912.7 2160.7,2914.5 2166.7,2914.9 2172.7,2916.3 2178.7,2917.1 2184.7,2917.6 2190.7,2919.2 2196.7,2919.4 2202.7,2920.5 2208.7,2921.6 2214.7,2921.8 2220.7,2923 2226.7,2923.8 2232.7,2924.9 2238.7,2925.9 2244.7,2926.9 2250.7,2928.4 2256.7,2930 2262.7,2931.2 2268.7,2931.5 2274.7,2931.8 2280.7,2931.8 2286.7,2932.3 2292.7,2933.2 2298.7,2933.6 2304.7,2934.9 2310.7,2935.8 2316.7,2936.9 2322.7,2937.3" fill="none" stroke="#ff0000" stroke-width="2.9" stroke-linejoin="round" stroke-linecap="round"/>
<polyline points="1463.7,2991.5 1464.7,2991.4 1473.4,2944.1 1482.2,2908.4 1490.9,2879.1 1499.7,2856.6 1508.4,2838.8 1517.2,2824.6 1525.9,2814.2 1534.7,2805.3 1543.5,2798.5 1552.2,2793.9 1561,2789.4 1569.7,2785.9 1578.5,2782.8 1587.2,2780.2 1596,2778.3 1604.7,2776.8 1610.7,2775.4 1616.7,2775.4 1622.7,2775.4 1628.7,2774.6 1634.7,2773.8 1640.7,2772.6 1646.7,2772 1652.7,2771.6 1658.7,2770.7 1664.7,2771.2 1670.7,2771.3 1676.7,2770.3 1682.7,2769.7 1688.7,2769.4 1694.7,2769.2 1700.7,2769.7 1706.7,2769.7 1712.7,2769.9 1718.7,2770 1724.7,2769.7 1730.7,2770 1736.7,2769.1 1742.7,2769.3 1748.7,2769.7 1754.7,2769.3 1760.7,2769.2 1766.7,2769.2 1772.7,2768.3 1778.7,2767.7 1784.7,2766.7 1790.7,2765.7 1796.7,2765.8 1802.7,2765.4 1808.7,2765.4 1814.7,2765.5 1820.7,2765.6 1826.7,2765.4 1832.7,2765.1 1838.7,2764.4 1844.7,2763.3 1850.7,2762.4 1856.7,2762.9 1862.7,2763 1868.7,2762 1874.7,2761.1 1880.7,2760.9 1886.7,2761.1 1892.7,2761.6 1898.7,2762 1904.7,2760.9 1910.7,2760.2 1916.7,2759.8 1922.7,2759.3 1928.7,2759.4 1934.7,2759.1 1940.7,2759.3 1946.7,2758.6 1952.7,2758.2 1958.7,2757.8 1964.7,2758.1 1970.7,2758.6 1976.7,2759 1982.7,2758.1 1988.7,2757 1994.7,2756.5 2000.7,2755.8 2006.7,2755.7 2012.7,2755.5 2018.7,2755.7 2024.7,2754.8 2030.7,2755.3 2036.7,2754.5 2042.7,2753.6 2048.7,2753.8 2054.7,2753.3 2060.7,2753.2 2066.7,2752.4 2072.7,2752.7 2078.7,2752.3 2084.7,2752 2090.7,2752 2096.7,2752 2102.7,2752 2108.7,2751.6 2114.7,2751.1 2120.7,2750.5 2126.7,2750.9 2132.7,2749.9 2138.7,2749.4 2144.7,2749.3 2150.7,2748.4 2156.7,2747.4 2162.7,2747.9 2168.7,2747.8 2174.7,2748.1 2180.7,2747.4 2186.7,2747 2192.7,2747.2 2198.7,2746.8 2204.7,2745.9 2210.7,2745.6 2216.7,2745.5 2222.7,2745.8 2228.7,2746.3 2234.7,2746.2 2240.7,2745.2 2246.7,2745.1 2252.7,2745.4 2258.7,2745.7 2264.7,2744.5 2270.7,2743.3 2276.7,2743.8 2282.7,2743 2288.7,2743.5 2294.7,2742.5 2300.7,2742.3 2306.7,2742 2312.7,2741.2 2318.7,2740.7 2324.7,2740.4" fill="none" stroke="#ff0000" stroke-width="2.9" stroke-linejoin="round" stroke-linecap="round"/>
<polyline points="1447,2984.5 1448,2984.5 1449.5,2933.4 1451,2893.8 1452.5,2863.9 1454,2840 1455.5,2821.9 1457,2808.1 1458.5,2796.2 1460,2786.5 1461.5,2779.7 1463,2774.1 1464.5,2770.6 1466,2768 1467.5,2765.7 1469,2764.3 1470.5,2762.1 1472,2761.3 1473.5,2760.3 1479.5,2758.7 1485.5,2758 1491.5,2757.6 1497.5,2757.1 1503.5,2757 1509.5,2756.6 1515.5,2756 1521.5,2756.3 1527.5,2755.8 1533.5,2756.1 1539.5,2755.5 1545.5,2754.7 1551.5,2753.7 1557.5,2752.9 1563.5,2752.6 1569.5,2751.8 1575.5,2751.4 1581.5,2751.2 1587.5,2751.9 1593.5,2752.5 1599.5,2752.7 1605.5,2751.9 1611.5,2751.1 1617.5,2750.5 1623.5,2750.5 1629.5,2750.9 1635.5,2751 1641.5,2750.1 1647.5,2750.5 1653.5,2749.7 1659.5,2749.5 1665.5,2749.4 1671.5,2749.7 1677.5,2750 1683.5,2750.2 1689.5,2749.5 1695.5,2750.1 1701.5,2750.1 1707.5,2749.6 1713.5,2749.8 1719.5,2750.1 1725.5,2749 1731.5,2749.1 1737.5,2748.1 1743.5,2747.9 1749.5,2747.4 1755.5,2747.5 1761.5,2747.3 1767.5,2747.3 1773.5,2746.6 1779.5,2747.2 1785.5,2747.2 1791.5,2746.7 1797.5,2746 1803.5,2746.6 1809.5,2745.7 1815.5,2746.2 1821.5,2746.4 1827.5,2746.4 1833.5,2746.6 1839.5,2745.8 1845.5,2746.3 1851.5,2746.2 1857.5,2746 1863.5,2745.3 1869.5,2745.9 1875.5,2745.5 1881.5,2744.6 1887.5,2745.2 1893.5,2745.1 1899.5,2744.1 1905.5,2744.6 1911.5,2744.7 1917.5,2744.3 1923.5,2743.7 1929.5,2743.4 1935.5,2743.7 1941.5,2742.9 1947.5,2742.3 1953.5,2742.8 1959.5,2742.8 1965.5,2743.3 1971.5,2742.3 1977.5,2741.6 1983.5,2741.3 1989.5,2741.2 1995.5,2741.8 2001.5,2741.8 2007.5,2742 2013.5,2741.6 2019.5,2741 2025.5,2740.5 2031.5,2740.1 2037.5,2739.9 2043.5,2739.9 2049.5,2739.6 2055.5,2739.4 2061.5,2738.8 2067.5,2738.1 2073.5,2737.5 2079.5,2737.5 2085.5,2737.2 2091.5,2737.2 2097.5,2737 2103.5,2737.1 2109.5,2737.4 2115.5,2737.6 2121.5,2736.9 2127.5,2736.6 2133.5,2736.2 2139.5,2736 2145.5,2735.5 2151.5,2734.8 2157.5,2734.1 2163.5,2734 2169.5,2733.9 2175.5,2734.2 2181.5,2735 2187.5,2735.6 2193.5,2735.1 2199.5,2734.3 2205.5,2734.9 2211.5,2735.4 2217.5,2735.7 2223.5,2734.8 2229.5,2735 2235.5,2734.4 2241.5,2735 2247.5,2734 2253.5,2734 2259.5,2733.5 2265.5,2733 2271.5,2733.2 2277.5,2733.2 2283.5,2732.5 2289.5,2732.7 2295.5,2732.3 2301.5,2732.9 2307.5,2733.4 2313.5,2733.2 2319.5,2732.3" fill="none" stroke="#ff0000" stroke-width="2.9" stroke-linejoin="round" stroke-linecap="round"/>
<polyline points="1442.3,2991.3 1443.3,2991.3 1445.8,2983.8 1448.3,2978 1450.8,2972.8 1453.3,2968.7 1455.8,2965.8 1458.3,2963.4 1460.8,2961.4 1463.3,2960.2 1465.8,2959.2 1468.3,2958 1470.8,2957.2 1473.3,2956.1 1475.8,2955.1 1478.3,2954.4 1480.8,2954.1 1483.3,2954.2 1485.8,2953.6 1491.8,2953.1 1497.8,2953.3 1503.8,2953.8 1509.8,2953.8 1515.8,2954 1521.8,2954.2 1527.8,2954.4 1533.8,2954.5 1539.8,2955.2 1545.8,2955 1551.8,2954.2 1557.8,2954.8 1563.8,2954.4 1569.8,2954 1575.8,2953.3 1581.8,2953.7 1587.8,2953.6 1593.8,2954.3 1599.8,2954.8 1605.8,2954.5 1611.8,2955 1617.8,2955.5 1623.8,2954.8 1629.8,2954.6 1635.8,2954.3 1641.8,2954.3 1647.8,2953.6 1653.8,2953.5 1659.8,2953.7 1665.8,2952.9 1671.8,2953 1677.8,2953.5 1683.8,2953.9 1689.8,2953.3 1695.8,2953 1701.8,2953.1 1707.8,2953 1713.8,2953.5 1719.8,2954 1725.8,2954.7 1731.8,2954.4 1737.8,2954.4 1743.8,2953.8 1749.8,2953.6 1755.8,2953.8 1761.8,2953.6 1767.8,2954 1773.8,2954.2 1779.8,2953.8 1785.8,2953.8 1791.8,2954.7 1797.8,2955.3 1803.8,2954.7 1809.8,2954.5 1815.8,2955.3 1821.8,2954.6 1827.8,2954.8 1833.8,2954.9 1839.8,2955.6 1845.8,2955.1 1851.8,2955.4 1857.8,2955.9 1863.8,2955 1869.8,2955.4 1875.8,2955.8 1881.8,2955.8 1887.8,2955.7 1893.8,2956.4 1899.8,2956.5 1905.8,2956 1911.8,2955.5 1917.8,2955.8 1923.8,2955.9 1929.8,2955.8 1935.8,2955.1 1941.8,2954.8 1947.8,2955.5 1953.8,2955.1 1959.8,2955.6 1965.8,2956.2 1971.8,2956.4 1977.8,2956.7 1983.8,2956.8 1989.8,2957.4 1995.8,2956.6 2001.8,2956 2007.8,2956.6 2013.8,2956.8 2019.8,2956.5 2025.8,2956.8 2031.8,2955.9 2037.8,2955.7 2043.8,2956.1 2049.8,2956.6 2055.8,2956.4 2061.8,2956.2 2067.8,2955.6 2073.8,2955.7 2079.8,2955.6 2085.8,2954.8 2091.8,2955.5 2097.8,2955.9 2103.8,2955.7 2109.8,2956.3 2115.8,2955.9 2121.8,2956.5 2127.8,2956.8 2133.8,2956.2 2139.8,2955.9 2145.8,2955.1 2151.8,2955.1 2157.8,2955.6 2163.8,2956.2 2169.8,2956.5 2175.8,2956.5 2181.8,2956.1 2187.8,2956.3 2193.8,2957 2199.8,2957.7 2205.8,2957.3 2211.8,2956.5 2217.8,2955.9 2223.8,2955.2 2229.8,2955.6 2235.8,2955.6 2241.8,2956.1 2247.8,2955.5 2253.8,2956 2259.8,2956.5 2265.8,2955.8 2271.8,2955.1 2277.8,2955.4 2283.8,2954.8 2289.8,2954.8 2295.8,2955.5 2301.8,2955.8 2307.8,2956 2313.8,2956.1 2319.8,2955.7" fill="none" stroke="#ff0000" stroke-width="2.9" stroke-linejoin="round" stroke-linecap="round"/>
<polyline points="1473.6,2995.2 1474.6,2995.2 1475.6,2982.1 1476.6,2972 1477.6,2963.8 1478.6,2957.5 1479.6,2953 1480.6,2949.9 1481.6,2947.2 1482.6,2944 1483.6,2941.4 1484.6,2939.7 1485.6,2939 1486.6,2938 1487.6,2936.8 1488.6,2935.8 1489.6,2936.2 1490.6,2935.1 1491.6,2934.4 1497.6,2933.6 1503.6,2932.9 1509.6,2933.7 1515.6,2934.2 1521.6,2933.9 1527.6,2934.1 1533.6,2933.8 1539.6,2933.5 1545.6,2932.8 1551.6,2933.4 1557.6,2933.4 1563.6,2932.7 1569.6,2932.8 1575.6,2933.6 1581.6,2934.2 1587.6,2934 1593.6,2934.3 1599.6,2934.3 1605.6,2934.2 1611.6,2934.8 1617.6,2935.1 1623.6,2934.1 1629.6,2933.7 1635.6,2933.3 1641.6,2933.3 1647.6,2932.6 1653.6,2932.4 1659.6,2931.7 1665.6,2932.4 1671.6,2932.5 1677.6,2931.6 1683.6,2931.7 1689.6,2931 1695.6,2931 1701.6,2930.4 1707.6,2930.2 1713.6,2930.7 1719.6,2931.5 1725.6,2932 1731.6,2932.1 1737.6,2931.3 1743.6,2931.1 1749.6,2930.9 1755.6,2930.3 1761.6,2931.1 1767.6,2930.5 1773.6,2931.1 1779.6,2930.6 1785.6,2930.2 1791.6,2930.4 1797.6,2929.6 1803.6,2929.9 1809.6,2929.9 1815.6,2929.4 1821.6,2928.8 1827.6,2928.5 1833.6,2928.1 1839.6,2928.7 1845.6,2928.9 1851.6,2929.2 1857.6,2929.6 1863.6,2929.3 1869.6,2929.4 1875.6,2930.1 1881.6,2930.5 1887.6,2929.7 1893.6,2928.8 1899.6,2929.2 1905.6,2928.7 1911.6,2929.1 1917.6,2929.7 1923.6,2929.7 1929.6,2930 1935.6,2929.7 1941.6,2928.8 1947.6,2928.5 1953.6,2928.4 1959.6,2928.6 1965.6,2928.3 1971.6,2928.4 1977.6,2928.4 1983.6,2928.4 1989.6,2928.2 1995.6,2927.4 2001.6,2928 2007.6,2928 2013.6,2927.6 2019.6,2927.8 2025.6,2928.1 2031.6,2928.3 2037.6,2927.8 2043.6,2927.7 2049.6,2927.1 2055.6,2927.5 2061.6,2927.5 2067.6,2927.5 2073.6,2927.5 2079.6,2927.2 2085.6,2927.2 2091.6,2927.5 2097.6,2927.3 2103.6,2926.5 2109.6,2926.9 2115.6,2926.3 2121.6,2925.4 2127.6,2925.8 2133.6,2926.1 2139.6,2926.4 2145.6,2925.8 2151.6,2925.6 2157.6,2926.2 2163.6,2925.3 2169.6,2924.4 2175.6,2924.7 2181.6,2924.3 2187.6,2924 2193.6,2923.4 2199.6,2923.5 2205.6,2923.1 2211.6,2922.5 2217.6,2922 2223.6,2922.2 2229.6,2922.4 2235.6,2922 2241.6,2922 2247.6,2921.5 2253.6,2921.8 2259.6,2921.6 2265.6,2921.7 2271.6,2922.2 2277.6,2922.5 2283.6,2922.5 2289.6,2922.4 2295.6,2922.6 2301.6,2922.9 2307.6,2922.4 2313.6,2922.5 2319.6,2921.9" fill="none" stroke="#ff0000" stroke-width="2.9" stroke-linejoin="round" stroke-linecap="round"/>
<polyline points="1459.1,2992.9 1460.1,2992.9 1461.1,2938.8 1462.1,2900.7 1463.1,2873.2 1464.1,2853.9 1465.1,2840.3 1466.1,2830 1467.1,2822.2 1468.1,2816.4 1469.1,2812.4 1470.1,2809.1 1471.1,2807.6 1472.1,2806.7 1473.1,2805.2 1479.1,2802.5 1485.1,2802.4 1491.1,2803 1497.1,2803.2 1503.1,2803 1509.1,2803.2 1515.1,2803.4 1521.1,2803.2 1527.1,2802.7 1533.1,2802.8 1539.1,2803.2 1545.1,2804 1551.1,2803.8 1557.1,2804.4 1563.1,2804.7 1569.1,2805.4 1575.1,2805.7 1581.1,2805.2 1587.1,2805.5 1593.1,2804.7 1599.1,2805.2 1605.1,2805.1 1611.1,2805.8 1617.1,2805.4 1623.1,2804.6 1629.1,2804.5 1635.1,2804.4 1641.1,2804.5 1647.1,2804.6 1653.1,2804.6 1659.1,2804.6 1665.1,2804.2 1671.1,2805.1 1677.1,2804.7 1683.1,2804.4 1689.1,2804.5 1695.1,2803.9 1701.1,2803.3 1707.1,2804.1 1713.1,2804.9 1719.1,2805.7 1725.1,2805.9 1731.1,2805.9 1737.1,2805.4 1743.1,2805 1749.1,2805.9 1755.1,2805.5 1761.1,2805.9 1767.1,2805.8 1773.1,2805.9 1779.1,2806.4 1785.1,2806.8 1791.1,2806.8 1797.1,2807.6 1803.1,2808.2 1809.1,2808.8 1815.1,2808.2 1821.1,2807.7 1827.1,2808 1833.1,2808.7 1839.1,2808.1 1845.1,2808.6 1851.1,2809.2 1857.1,2808.7 1863.1,2808.6 1869.1,2808.7 1875.1,2808 1881.1,2808.5 1887.1,2808.5 1893.1,2808.9 1899.1,2808.1 1905.1,2808.6 1911.1,2809.4 1917.1,2809.5 1923.1,2810.1 1929.1,2810.2 1935.1,2810.5 1941.1,2810.8 1947.1,2810.5 1953.1,2811.1 1959.1,2811.3 1965.1,2811.2 1971.1,2811.8 1977.1,2811.8 1983.1,2811 1989.1,2810.5 1995.1,2809.7 2001.1,2810.4 2007.1,2809.6 2013.1,2810.2 2019.1,2810.6 2025.1,2810.3 2031.1,2810.1 2037.1,2810 2043.1,2809.9 2049.1,2809.3 2055.1,2810 2061.1,2810.6 2067.1,2810.2 2073.1,2810.3 2079.1,2811 2085.1,2811.4 2091.1,2810.9 2097.1,2811.1 2103.1,2811.2 2109.1,2810.8 2115.1,2811.4 2121.1,2811.3 2127.1,2811.7 2133.1,2811.3 2139.1,2811.9 2145.1,2811.4 2151.1,2812.2 2157.1,2812.6 2163.1,2811.9 2169.1,2811.9 2175.1,2812.1 2181.1,2811.9 2187.1,2811.7 2193.1,2811.8 2199.1,2812.4 2205.1,2813.2 2211.1,2813.6 2217.1,2814 2223.1,2813.4 2229.1,2813.6 2235.1,2813 2241.1,2812.7 2247.1,2813.3 2253.1,2814 2259.1,2814.3 2265.1,2813.7 2271.1,2813.3 2277.1,2812.8 2283.1,2812.2 2289.1,2812.7 2295.1,2812.4 2301.1,2812.2 2307.1,2812.1 2313.1,2812.6 2319.1,2812.7" fill="none" stroke="#ff0000" stroke-width="2.9" stroke-linejoin="round" stroke-linecap="round"/>
<polyline points="1439.7,2996.2 1440.7,2995.7 1441.7,2964.6 1442.7,2945.6 1443.7,2934.4 1444.7,2927.8 1445.7,2923.6 1446.7,2921.5 1447.7,2919.4 1448.7,2918.5 1449.7,2917.5 1455.7,2916.9 1461.7,2916.5 1467.7,2916.8 1473.7,2917.8 1479.7,2917.6 1485.7,2917 1491.7,2917 1497.7,2916.9 1503.7,2917.4 1509.7,2918 1515.7,2918.5 1521.7,2918.4 1527.7,2917.8 1533.7,2918.6 1539.7,2919 1545.7,2919.6 1551.7,2919 1557.7,2918.4 1563.7,2918.3 1569.7,2918.6 1575.7,2918.6 1581.7,2918.2 1587.7,2918.9 1593.7,2918.5 1599.7,2918.3 1605.7,2918.8 1611.7,2919.2 1617.7,2919.7 1623.7,2920.3 1629.7,2920.2 1635.7,2920.3 1641.7,2921 1647.7,2921.1 1653.7,2921.5 1659.7,2921.8 1665.7,2921.3 1671.7,2922.1 1677.7,2922.7 1683.7,2923 1689.7,2922.9 1695.7,2923.6 1701.7,2923.2 1707.7,2923.8 1713.7,2923.8 1719.7,2923.9 1725.7,2923.1 1731.7,2922.9 1737.7,2923.6 1743.7,2924.5 1749.7,2925.1 1755.7,2925.6 1761.7,2926.4 1767.7,2926.6 1773.7,2927 1779.7,2927.7 1785.7,2927.5 1791.7,2928.3 1797.7,2929.3 1803.7,2929.6 1809.7,2930.9 1815.7,2931 1821.7,2931.7 1827.7,2932.9 1833.7,2932.9 1839.7,2932.8 1845.7,2933.9 1851.7,2935 1857.7,2936 1863.7,2935.9 1869.7,2935.9 1875.7,2936.2 1881.7,2936.3 1887.7,2937.2 1893.7,2938 1899.7,2938.1 1905.7,2938.3 1911.7,2939.6 1917.7,2940 1923.7,2940.4 1929.7,2940.7 1935.7,2941.9 1941.7,2942.1 1947.7,2943.2 1953.7,2944.6 1959.7,2944.5 1965.7,2945.1 1971.7,2946.1 1977.7,2946 1983.7,2947.1 1989.7,2947.6 1995.7,2947.8 2001.7,2948.2 2007.7,2948.4 2013.7,2948.2 2019.7,2948.8 2025.7,2949 2031.7,2949.7 2037.7,2950.2 2043.7,2950.8 2049.7,2950.9 2055.7,2951.8 2061.7,2951.8 2067.7,2952.4 2073.7,2953.5 2079.7,2954.6 2085.7,2954.3 2091.7,2954.6 2097.7,2954.8 2103.7,2955.2 2109.7,2955.2 2115.7,2956 2121.7,2956.4 2127.7,2956.9 2133.7,2957.7 2139.7,2957.9 2145.7,2958.6 2151.7,2959.3 2157.7,2960.4 2163.7,2960.6 2169.7,2961.3 2175.7,2961.7 2181.7,2961.8 2187.7,2961.9 2193.7,2962.1 2199.7,2962.9 2205.7,2963.9 2211.7,2964.1 2217.7,2963.8 2223.7,2964.6 2229.7,2964.9 2235.7,2964.9 2241.7,2965 2247.7,2965.6 2253.7,2966.3 2259.7,2965.9 2265.7,2966.4 2271.7,2966.3 2277.7,2965.8 2283.7,2966.6 2289.7,2967.5 2295.7,2967.6 2301.7,2968.1 2307.7,2968.6 2313.7,2968.3 2319.7,2968.4" fill="none" stroke="#ff0000" stroke-width="2.9" stroke-linejoin="round" stroke-linecap="round"/>
<polyline points="1444.8,2984.8 1445.8,2984 1446.8,2970.2 1447.8,2959.5 1448.8,2951.2 1449.8,2944.6 1450.8,2939.6 1451.8,2935.7 1452.8,2931.9 1453.8,2929.5 1454.8,2927.3 1455.8,2925.4 1456.8,2924.7 1457.8,2924.4 1458.8,2923.1 1459.8,2922.8 1460.8,2923 1461.8,2922.4 1462.8,2921.4 1468.8,2920 1474.8,2920.5 1480.8,2920.8 1486.8,2921 1492.8,2920.3 1498.8,2920.7 1504.8,2920.6 1510.8,2920.5 1516.8,2919.6 1522.8,2919 1528.8,2918.9 1534.8,2918.7 1540.8,2918.9 1546.8,2918.8 1552.8,2918.6 1558.8,2918.8 1564.8,2918.3 1570.8,2919.2 1576.8,2918.4 1582.8,2918 1588.8,2918.7 1594.8,2919.5 1600.8,2919.8 1606.8,2919.7 1612.8,2919.7 1618.8,2919.8 1624.8,2919.3 1630.8,2919.1 1636.8,2918.4 1642.8,2918.1 1648.8,2918.6 1654.8,2919.1 1660.8,2918.6 1666.8,2918.2 1672.8,2917.7 1678.8,2917.6 1684.8,2918 1690.8,2918.7 1696.8,2919 1702.8,2919 1708.8,2918.5 1714.8,2918.5 1720.8,2918.9 1726.8,2918.9 1732.8,2919.1 1738.8,2919.2 1744.8,2919.6 1750.8,2918.7 1756.8,2917.9 1762.8,2918.6 1768.8,2918.8 1774.8,2918.6 1780.8,2918.5 1786.8,2918.4 1792.8,2917.9 1798.8,2917.9 1804.8,2917.7 1810.8,2918.2 1816.8,2918 1822.8,2917.2 1828.8,2916.6 1834.8,2916.4 1840.8,2917.1 1846.8,2917 1852.8,2917 1858.8,2917.8 1864.8,2918.1 1870.8,2917.8 1876.8,2917.3 1882.8,2916.6 1888.8,2916.7 1894.8,2916.9 1900.8,2916.9 1906.8,2917.1 1912.8,2917.6 1918.8,2917.8 1924.8,2918.1 1930.8,2917.8 1936.8,2918.1 1942.8,2918 1948.8,2917.2 1954.8,2917.3 1960.8,2917.5 1966.8,2916.8 1972.8,2916.8 1978.8,2916.9 1984.8,2917.4 1990.8,2917.8 1996.8,2917.6 2002.8,2917.2 2008.8,2917.6 2014.8,2917.6 2020.8,2918.1 2026.8,2917.8 2032.8,2918 2038.8,2918.1 2044.8,2917.8 2050.8,2917.7 2056.8,2917.1 2062.8,2916.4 2068.8,2915.8 2074.8,2916.6 2080.8,2916.2 2086.8,2916 2092.8,2916.7 2098.8,2916.3 2104.8,2917.1 2110.8,2916.8 2116.8,2916.9 2122.8,2917.4 2128.8,2917.2 2134.8,2917.3 2140.8,2916.6 2146.8,2916.6 2152.8,2916.4 2158.8,2915.6 2164.8,2916.1 2170.8,2915.9 2176.8,2915.5 2182.8,2914.8 2188.8,2914.4 2194.8,2915.3 2200.8,2915.7 2206.8,2915.5 2212.8,2916.1 2218.8,2915.5 2224.8,2914.7 2230.8,2914.9 2236.8,2914.3 2242.8,2914.8 2248.8,2914.2 2254.8,2914.1 2260.8,2914.3 2266.8,2914.5 2272.8,2914.1 2278.8,2914 2284.8,2914 2290.8,2914.6 2296.8,2915.5 2302.8,2914.7 2308.8,2914.9 2314.8,2914.6 2320.8,2915.1" fill="none" stroke="#ff0000" stroke-width="2.9" stroke-linejoin="round" stroke-linecap="round"/>
<polyline points="1454,2989.4 1455,2989.4 1456,2982.1 1457,2975.4 1458,2971.4 1459,2968.8 1460,2965.9 1461,2965.1 1462,2963.5 1463,2962.9 1464,2962.8 1465,2962.6 1466,2962.6 1467,2962 1468,2961.2 1474,2960.9 1480,2961.3 1486,2961.6 1492,2961.5 1498,2962 1504,2961.5 1510,2961.9 1516,2961.8 1522,2961.5 1528,2961.5 1534,2961.8 1540,2960.9 1546,2960.9 1552,2960.2 1558,2960.7 1564,2960.1 1570,2959.4 1576,2959.9 1582,2959.6 1588,2959.1 1594,2958.5 1600,2958.5 1606,2958.6 1612,2958.3 1618,2958.6 1624,2959.5 1630,2960.1 1636,2960.9 1642,2961.4 1648,2961.1 1654,2960.5 1660,2960.7 1666,2961.4 1672,2961.8 1678,2962.2 1684,2961.5 1690,2962.1 1696,2962.1 1702,2961.3 1708,2961 1714,2961 1720,2961.7 1726,2961.2 1732,2961.6 1738,2960.8 1744,2960.8 1750,2960.7 1756,2960.4 1762,2960.9 1768,2960.8 1774,2961 1780,2961.6 1786,2962 1792,2961.1 1798,2960.2 1804,2960.4 1810,2960.9 1816,2960.5 1822,2960.9 1828,2960.5 1834,2961.3 1840,2961.9 1846,2962.4 1852,2962.9 1858,2962.2 1864,2961.3 1870,2961.7 1876,2961.8 1882,2961.2 1888,2961.2 1894,2960.8 1900,2960 1906,2960.7 1912,2960.1 1918,2959.9 1924,2960 1930,2960 1936,2959.8 1942,2960.2 1948,2959.9 1954,2960.3 1960,2959.9 1966,2959.3 1972,2959.4 1978,2959.3 1984,2959.8 1990,2960.1 1996,2960.9 2002,2960.5 2008,2961 2014,2960.7 2020,2960.7 2026,2960.2 2032,2960.1 2038,2960.1 2044,2960.2 2050,2960.8 2056,2960 2062,2960.5 2068,2960.8 2074,2961 2080,2960.6 2086,2960.2 2092,2959.4 2098,2959.9 2104,2960.1 2110,2960.2 2116,2959.4 2122,2960 2128,2960.6 2134,2961 2140,2960.7 2146,2960.9 2152,2960.9 2158,2960.5 2164,2960 2170,2959.9 2176,2960.4 2182,2960.5 2188,2960.7 2194,2960.3 2200,2960.7 2206,2959.9 2212,2959.2 2218,2958.6 2224,2959 2230,2959.8 2236,2959.9 2242,2959.3 2248,2960 2254,2960 2260,2960.6 2266,2960.6 2272,2960.6 2278,2959.8 2284,2960.4 2290,2960 2296,2959.8 2302,2960.1 2308,2960.4 2314,2959.8 2320,2960.4" fill="none" stroke="#ff0000" stroke-width="2.9" stroke-linejoin="round" stroke-linecap="round"/>
<polyline points="1481,2977.9 1482,2977.6 1483,2942.2 1484,2921.3 1485,2907.8 1486,2900.4 1487,2895.9 1488,2893.1 1489,2890.4 1490,2890 1491,2889.9 1497,2888.2 1503,2888.1 1509,2888.5 1515,2888.8 1521,2889.2 1527,2889.1 1533,2888 1539,2887.2 1545,2886.3 1551,2886.8 1557,2886.6 1563,2887.1 1569,2887.1 1575,2886.5 1581,2885.9 1587,2885.9 1593,2886 1599,2885.3 1605,2886 1611,2885.3 1617,2885.1 1623,2884.7 1629,2883.9 1635,2884.5 1641,2884.6 1647,2884.6 1653,2885.1 1659,2884.2 1665,2884.7 1671,2884.5 1677,2884.1 1683,2883.7 1689,2883.2 1695,2883.3 1701,2883.7 1707,2884.1 1713,2883.6 1719,2882.7 1725,2882.1 1731,2881.6 1737,2882.3 1743,2881.6 1749,2881.3 1755,2881 1761,2880.3 1767,2879.6 1773,2880 1779,2880.1 1785,2880.6 1791,2880.2 1797,2879.5 1803,2879.9 1809,2879.2 1815,2879 1821,2878.9 1827,2879.1 1833,2879.3 1839,2879.1 1845,2879 1851,2879.1 1857,2878.5 1863,2878.9 1869,2879 1875,2878.9 1881,2878.4 1887,2878.9 1893,2878.5 1899,2879.2 1905,2879.7 1911,2879.9 1917,2879.7 1923,2880.1 1929,2880 1935,2879.5 1941,2878.6 1947,2879.2 1953,2879.7 1959,2879.5 1965,2879.1 1971,2878.9 1977,2878.2 1983,2878.1 1989,2878.3 1995,2877.4 2001,2877 2007,2877.6 2013,2876.8 2019,2876.5 2025,2876.6 2031,2876.2 2037,2876.7 2043,2876.1 2049,2875.6 2055,2875.9 2061,2875.7 2067,2875.2 2073,2874.8 2079,2875 2085,2874.6 2091,2874.8 2097,2874.2 2103,2873.5 2109,2873.7 2115,2873.5 2121,2873.9 2127,2874.3 2133,2873.6 2139,2873.1 2145,2873.3 2151,2873.8 2157,2874.1 2163,2874.7 2169,2874.2 2175,2873.8 2181,2873.3 2187,2873.4 2193,2873.5 2199,2873.2 2205,2873.1 2211,2872.3 2217,2871.6 2223,2871.5 2229,2871.4 2235,2871.6 2241,2871.2 2247,2872 2253,2872.6 2259,2872.8 2265,2871.9 2271,2871.5 2277,2872.2 2283,2872 2289,2871.2 2295,2871.3 2301,2871.7 2307,2871.4 2313,2871.3 2319,2871.4 2325,2871.5" fill="none" stroke="#ff0000" stroke-width="2.9" stroke-linejoin="round" stroke-linecap="round"/>
<polyline points="1472.3,2986.5 1473.3,2986.1 1490.8,2933.7 1508.3,2892.7 1525.8,2860.6 1543.3,2835.2 1560.8,2815.1 1578.3,2798.9 1595.8,2786.7 1613.3,2776.1 1630.8,2768.3 1648.3,2762.1 1665.8,2757.4 1683.3,2752.9 1700.8,2749.1 1718.3,2746.6 1735.8,2743.7 1753.3,2741.5 1770.8,2740 1776.8,2739.6 1782.8,2739.7 1788.8,2738.5 1794.8,2737.1 1800.8,2736.3 1806.8,2736.3 1812.8,2736.1 1818.8,2735.2 1824.8,2735.4 1830.8,2734.8 1836.8,2734.1 1842.8,2733.6 1848.8,2733.7 1854.8,2733.9 1860.8,2734.2 1866.8,2733 1872.8,2732 1878.8,2731.7 1884.8,2731.5 1890.8,2730.9 1896.8,2730.5 1902.8,2730.5 1908.8,2729.8 1914.8,2729.6 1920.8,2728.8 1926.8,2728.3 1932.8,2728.3 1938.8,2727.9 1944.8,2727.4 1950.8,2727.1 1956.8,2726.3 1962.8,2725.8 1968.8,2725.7 1974.8,2724.7 1980.8,2725.2 1986.8,2724.9 1992.8,2724.3 1998.8,2724.7 2004.8,2725 2010.8,2724 2016.8,2724 2022.8,2723.9 2028.8,2723.2 2034.8,2722.7 2040.8,2722.8 2046.8,2721.7 2052.8,2721.9 2058.8,2722.4 2064.8,2722.3 2070.8,2722.2 2076.8,2722 2082.8,2721.4 2088.8,2720.8 2094.8,2720.2 2100.8,2719.2 2106.8,2719.3 2112.8,2719.3 2118.8,2719.1 2124.8,2717.9 2130.8,2718.1 2136.8,2718 2142.8,2716.9 2148.8,2717.4 2154.8,2716.5 2160.8,2715.5 2166.8,2715.2 2172.8,2715.3 2178.8,2715.7 2184.8,2715.1 2190.8,2714.1 2196.8,2714.3 2202.8,2714.4 2208.8,2714.4 2214.8,2713.5 2220.8,2713.5 2226.8,2712.7 2232.8,2712.4 2238.8,2711.3 2244.8,2711.1 2250.8,2710.4 2256.8,2709.9 2262.8,2709.7 2268.8,2709.6 2274.8,2709 2280.8,2708.1 2286.8,2707.4 2292.8,2707.4 2298.8,2707 2304.8,2706.9 2310.8,2707.1 2316.8,2706.5 2322.8,2706.3" fill="none" stroke="#ff0000" stroke-width="2.9" stroke-linejoin="round" stroke-linecap="round"/>
<polyline points="1472.2,2995.5 1473.2,2995.5 1482,2955.5 1490.7,2923.8 1499.5,2898.2 1508.2,2879.2 1517,2863.6 1525.7,2852 1534.5,2842.9 1543.2,2835.4 1552,2830.5 1560.7,2825.6 1569.5,2826.4 1578.2,2832.8 1587,2839.6 1595.7,2845.9 1604.5,2851.8 1613.2,2857.5 1622,2864.5 1628,2869 1634,2872.3 1640,2876.7 1646,2880.2 1652,2883.9 1658,2887.4 1664,2890.8 1670,2895 1676,2897.6 1682,2900.5 1688,2903.2 1694,2906.2 1700,2908.7 1706,2911.8 1712,2915.4 1718,2918.6 1724,2921.7 1730,2923.4 1736,2926.4 1742,2929.6 1748,2931.2 1754,2932.9 1760,2935 1766,2937.3 1772,2939.8 1778,2941.7 1784,2943.1 1790,2944.4 1796,2947 1802,2948.6 1808,2951 1814,2951.8 1820,2952.9 1826,2955.1 1832,2955.7 1838,2957.6 1844,2958.7 1850,2960.2 1856,2962.2 1862,2963 1868,2963.6 1874,2965.3 1880,2965.6 1886,2966.7 1892,2968.4 1898,2969.8 1904,2971.5 1910,2971.4 1916,2972.4 1922,2973.6 1928,2975.1 1934,2975.5 1940,2976.6 1946,2977.3 1952,2977.9 1958,2978.8 1964,2978.9 1970,2979.3 1976,2980.1 1982,2979.7 1988,2980.3 1994,2980.5 2000,2981.6 2006,2982.2 2012,2981.9 2018,2981.6 2024,2982.6 2030,2982.3 2036,2983.1 2042,2983.2 2048,2983.8 2054,2983.7 2060,2984.1 2066,2985.2 2072,2984.9 2078,2985.7 2084,2985.7 2090,2985.9 2096,2986.4 2102,2987.4 2108,2986.9 2114,2987.8 2120,2987.9 2126,2987.9 2132,2987.8 2138,2987.9 2144,2987.8 2150,2988 2156,2988.9 2162,2989.7 2168,2990.1 2174,2990 2180,2990 2186,2990.5 2192,2991.4 2198,2991.3 2204,2991.9 2210,2991.5 2216,2991.1 2222,2991.7 2228,2991.1 2234,2991.1 2240,2990.8 2246,2991.3 2252,2991.8 2258,2991.2 2264,2991.8 2270,2991.7 2276,2992 2282,2991.8 2288,2991.6 2294,2991.1 2300,2992.1 2306,2992 2312,2992 2318,2992.4 2324,2992.1" fill="none" stroke="#ff0000" stroke-width="2.9" stroke-linejoin="round" stroke-linecap="round"/>
<polyline points="1449.8,2996.5 1450.8,2996 1468.3,2982.2 1485.8,2971.4 1503.3,2963.4 1520.8,2957 1538.3,2951.2 1555.8,2947.1 1573.3,2944.5 1590.8,2942.7 1608.3,2939.8 1625.8,2938.9 1643.3,2937.5 1660.8,2936.4 1678.3,2935.8 1695.8,2935.5 1713.3,2935.1 1730.8,2934.7 1748.3,2934.4 1754.3,2933.5 1760.3,2932.7 1766.3,2933.3 1772.3,2933.5 1778.3,2934.1 1784.3,2933.9 1790.3,2933.4 1796.3,2933.2 1802.3,2933.8 1808.3,2933.9 1814.3,2934.2 1820.3,2933.5 1826.3,2932.9 1832.3,2932.5 1838.3,2932.4 1844.3,2931.7 1850.3,2931.5 1856.3,2932 1862.3,2931.3 1868.3,2931.2 1874.3,2930.6 1880.3,2930.9 1886.3,2930.9 1892.3,2930.8 1898.3,2930.8 1904.3,2931.6 1910.3,2932.1 1916.3,2932.3 1922.3,2933 1928.3,2933.6 1934.3,2933.1 1940.3,2932.4 1946.3,2931.9 1952.3,2932.1 1958.3,2931.4 1964.3,2931.6 1970.3,2932.3 1976.3,2932.6 1982.3,2931.9 1988.3,2931.2 1994.3,2930.7 2000.3,2931 2006.3,2931.6 2012.3,2931.8 2018.3,2931.7 2024.3,2931.9 2030.3,2932.5 2036.3,2933.1 2042.3,2932.7 2048.3,2933.4 2054.3,2933.6 2060.3,2933.9 2066.3,2934.1 2072.3,2934.4 2078.3,2933.6 2084.3,2933.4 2090.3,2933.7 2096.3,2932.9 2102.3,2933.4 2108.3,2934 2114.3,2934.2 2120.3,2933.5 2126.3,2933 2132.3,2933.6 2138.3,2932.8 2144.3,2932.7 2150.3,2932.7 2156.3,2932.2 2162.3,2932.6 2168.3,2932.5 2174.3,2933 2180.3,2932.8 2186.3,2932.5 2192.3,2933 2198.3,2932.5 2204.3,2932.5 2210.3,2932.1 2216.3,2932 2222.3,2932.2 2228.3,2932.1 2234.3,2932 2240.3,2931.9 2246.3,2932 2252.3,2932.7 2258.3,2933 2264.3,2932.8 2270.3,2933.5 2276.3,2933.2 2282.3,2933.7 2288.3,2933.5 2294.3,2933.2 2300.3,2933.8 2306.3,2934.1 2312.3,2933.5 2318.3,2933.3 2324.3,2932.4" fill="none" stroke="#ff0000" stroke-width="2.9" stroke-linejoin="round" stroke-linecap="round"/>
<polyline points="1470.5,2995.6 1471.5,2995.6 1489,2974.8 1506.5,2958.5 1524,2945.7 1541.5,2935.8 1559,2927.9 1576.5,2921.6 1594,2917.2 1611.5,2913.5 1629,2910.6 1646.5,2908.5 1664,2906.4 1681.5,2905.3 1699,2904.1 1716.5,2904.4 1734,2904.5 1751.5,2904.6 1769,2904.8 1775,2905.6 1781,2905.2 1787,2904.9 1793,2904.2 1799,2904.5 1805,2904.1 1811,2903.8 1817,2903.9 1823,2904.5 1829,2905.1 1835,2904.7 1841,2905.5 1847,2905.1 1853,2905.3 1859,2906.1 1865,2906.4 1871,2906.4 1877,2906 1883,2906.3 1889,2906.1 1895,2905.6 1901,2905.7 1907,2906.5 1913,2906.9 1919,2906.6 1925,2906.7 1931,2906.7 1937,2906.3 1943,2906.5 1949,2906 1955,2907 1961,2907 1967,2907.7 1973,2908.4 1979,2909.1 1985,2908.9 1991,2908.2 1997,2908.4 2003,2907.7 2009,2908.7 2015,2909.3 2021,2909.6 2027,2910 2033,2910.1 2039,2910.6 2045,2910.1 2051,2910.5 2057,2911.3 2063,2911.1 2069,2911.6 2075,2912.2 2081,2911.6 2087,2911.3 2093,2911.5 2099,2912.2 2105,2912.6 2111,2913 2117,2912.7 2123,2911.9 2129,2911.8 2135,2911.4 2141,2911.3 2147,2912 2153,2912.7 2159,2912.5 2165,2911.9 2171,2911.9 2177,2911.5 2183,2911.8 2189,2912.5 2195,2912.5 2201,2911.9 2207,2911.3 2213,2911.3 2219,2912.1 2225,2911.9 2231,2911.8 2237,2911.3 2243,2911.5 2249,2911.8 2255,2911.5 2261,2911.9 2267,2911.3 2273,2912 2279,2911.9 2285,2912.8 2291,2912.9 2297,2912.6 2303,2913.3 2309,2913.7 2315,2913.4 2321,2914.4" fill="none" stroke="#ff0000" stroke-width="2.9" stroke-linejoin="round" stroke-linecap="round"/>
<polyline points="1471.8,2976.4 1472.8,2976.4 1473.8,2908.3 1474.8,2866.9 1475.8,2841.2 1476.8,2826.1 1477.8,2816.6 1478.8,2810.1 1479.8,2806.5 1480.8,2805.1 1481.8,2804 1487.8,2802 1493.8,2802.4 1499.8,2801.7 1505.8,2801.8 1511.8,2801.9 1517.8,2802 1523.8,2802.3 1529.8,2802.3 1535.8,2801.8 1541.8,2801.4 1547.8,2801 1553.8,2800.4 1559.8,2800.6 1565.8,2800.5 1571.8,2800.1 1577.8,2799.9 1583.8,2800.7 1589.8,2800.1 1595.8,2799.7 1601.8,2800.6 1607.8,2800.8 1613.8,2801.6 1619.8,2800.9 1625.8,2801 1631.8,2801 1637.8,2801 1643.8,2800.4 1649.8,2800 1655.8,2800.3 1661.8,2800.4 1667.8,2799.8 1673.8,2799.7 1679.8,2799.5 1685.8,2799.1 1691.8,2799.5 1697.8,2799.4 1703.8,2799.8 1709.8,2800.4 1715.8,2800.6 1721.8,2800.5 1727.8,2799.9 1733.8,2800.2 1739.8,2800.7 1745.8,2800.1 1751.8,2799.8 1757.8,2799.4 1763.8,2800.4 1769.8,2800.1 1775.8,2800.3 1781.8,2801.1 1787.8,2801.6 1793.8,2800.9 1799.8,2801.3 1805.8,2802.9 1811.8,2804.9 1817.8,2808 1823.8,2810.3 1829.8,2813.4 1835.8,2815.5 1841.8,2817.5 1847.8,2819.4 1853.8,2821.8 1859.8,2823.9 1865.8,2825.4 1871.8,2827.6 1877.8,2830 1883.8,2831.6 1889.8,2834.5 1895.8,2836.6 1901.8,2839.3 1907.8,2841.8 1913.8,2844.4 1919.8,2846.4 1925.8,2848.6 1931.8,2849.5 1937.8,2852 1943.8,2853.1 1949.8,2855.2 1955.8,2856.1 1961.8,2857.2 1967.8,2858.2 1973.8,2860.2 1979.8,2862.5 1985.8,2864.4 1991.8,2866.8 1997.8,2867.7 2003.8,2869.1 2009.8,2871.1 2015.8,2873 2021.8,2873.6 2027.8,2874.6 2033.8,2876 2039.8,2878.2 2045.8,2879.6 2051.8,2881.7 2057.8,2882.6 2063.8,2884.6 2069.8,2885.9 2075.8,2887.5 2081.8,2888.9 2087.8,2889.4 2093.8,2890.5 2099.8,2891.2 2105.8,2891.7 2111.8,2893.4 2117.8,2894.1 2123.8,2895.3 2129.8,2895.9 2135.8,2897.1 2141.8,2897.8 2147.8,2899.2 2153.8,2899.8 2159.8,2900.4 2165.8,2902 2171.8,2902.6 2177.8,2903.4 2183.8,2904.7 2189.8,2906.5 2195.8,2908.1 2201.8,2908.9 2207.8,2910.1 2213.8,2910.3 2219.8,2912 2225.8,2913 2231.8,2913.5 2237.8,2914.8 2243.8,2916.3 2249.8,2916.8 2255.8,2917.7 2261.8,2918.2 2267.8,2918.9 2273.8,2919.4 2279.8,2920.1 2285.8,2920.4 2291.8,2921.8 2297.8,2923.4 2303.8,2924 2309.8,2925.4 2315.8,2925.4 2321.8,2926.4" fill="none" stroke="#ff0000" stroke-width="2.9" stroke-linejoin="round" stroke-linecap="round"/>
<polyline points="1453.4,2993 1454.4,2992.7 1455.9,2941.2 1457.4,2900.4 1458.9,2868.2 1460.4,2843.4 1461.9,2824.9 1463.4,2809.5 1464.9,2797.6 1466.4,2789.3 1467.9,2783.1 1469.4,2778.2 1470.9,2774.6 1472.4,2770.9 1473.9,2768.2 1475.4,2765.4 1476.9,2764.3 1478.4,2763.4 1479.9,2763 1485.9,2760.1 1491.9,2759.4 1497.9,2759.7 1503.9,2760.3 1509.9,2759.7 1515.9,2759.4 1521.9,2760 1527.9,2759.7 1533.9,2759.5 1539.9,2759.8 1545.9,2759.3 1551.9,2759.1 1557.9,2758.3 1563.9,2758.5 1569.9,2758 1575.9,2758.6 1581.9,2759.4 1587.9,2760 1593.9,2759.3 1599.9,2759.6 1605.9,2760.2 1611.9,2759.9 1617.9,2759.8 1623.9,2760.3 1629.9,2759.8 1635.9,2759.3 1641.9,2759 1647.9,2758.8 1653.9,2758.8 1659.9,2759.2 1665.9,2760 1671.9,2759.6 1677.9,2760.2 1683.9,2760.8 1689.9,2760.7 1695.9,2759.9 1701.9,2760.7 1707.9,2760.4 1713.9,2759.8 1719.9,2760.6 1725.9,2760.5 1731.9,2761.2 1737.9,2762.1 1743.9,2761.4 1749.9,2761 1755.9,2760.3 1761.9,2759.9 1767.9,2760.6 1773.9,2760.7 1779.9,2761.2 1785.9,2762 1791.9,2761.6 1797.9,2761.4 1803.9,2762.2 1809.9,2761.7 1815.9,2762 1821.9,2762.5 1827.9,2762.5 1833.9,2762.5 1839.9,2762.3 1845.9,2762.6 1851.9,2763.3 1857.9,2763.4 1863.9,2762.7 1869.9,2763.4 1875.9,2762.7 1881.9,2763.2 1887.9,2763.1 1893.9,2763.4 1899.9,2763.8 1905.9,2763.4 1911.9,2764.2 1917.9,2764.6 1923.9,2765.1 1929.9,2764.4 1935.9,2764.4 1941.9,2763.7 1947.9,2763.8 1953.9,2763.5 1959.9,2764.2 1965.9,2764.8 1971.9,2764.7 1977.9,2765.2 1983.9,2765.4 1989.9,2766 1995.9,2765.9 2001.9,2765.9 2007.9,2766.5 2013.9,2766.2 2019.9,2765.6 2025.9,2765.9 2031.9,2766.6 2037.9,2766 2043.9,2766.5 2049.9,2766.2 2055.9,2765.8 2061.9,2765.6 2067.9,2765.9 2073.9,2765.3 2079.9,2765 2085.9,2765.6 2091.9,2766.3 2097.9,2766.9 2103.9,2766.7 2109.9,2767 2115.9,2766.4 2121.9,2766.2 2127.9,2766.8 2133.9,2766.4 2139.9,2766 2145.9,2766.8 2151.9,2766.9 2157.9,2766.1 2163.9,2766.3 2169.9,2766.6 2175.9,2766.8 2181.9,2767.4 2187.9,2767 2193.9,2767.3 2199.9,2766.9 2205.9,2766.7 2211.9,2766.6 2217.9,2766.5 2223.9,2767 2229.9,2767.1 2235.9,2766.9 2241.9,2767.1 2247.9,2767.1 2253.9,2766.8 2259.9,2766.9 2265.9,2766.2 2271.9,2766.8 2277.9,2766.8 2283.9,2767.6 2289.9,2767.5 2295.9,2766.8 2301.9,2767.6 2307.9,2768 2313.9,2767.3 2319.9,2767" fill="none" stroke="#ff0000" stroke-width="2.9" stroke-linejoin="round" stroke-linecap="round"/>
<polyline points="1457.1,2989.5 1458.1,2989.5 1459.6,2939.2 1461.1,2900.4 1462.6,2870.1 1464.1,2847.3 1465.6,2829.2 1467.1,2814.2 1468.6,2803.3 1470.1,2794 1471.6,2786.8 1473.1,2781 1474.6,2777 1476.1,2774.3 1477.6,2772.6 1479.1,2771 1480.6,2769.5 1482.1,2768.9 1483.6,2767.9 1489.6,2766.1 1495.6,2765.3 1501.6,2765.1 1507.6,2765.6 1513.6,2765.6 1519.6,2765.1 1525.6,2765.9 1531.6,2765.9 1537.6,2765.7 1543.6,2766.5 1549.6,2766.5 1555.6,2766.6 1561.6,2766 1567.6,2765.9 1573.6,2765 1579.6,2764.6 1585.6,2764.1 1591.6,2763.8 1597.6,2763.9 1603.6,2764.6 1609.6,2764.8 1615.6,2765.3 1621.6,2766 1627.6,2765.5 1633.6,2765 1639.6,2764.4 1645.6,2764.8 1651.6,2765.4 1657.6,2766 1663.6,2765.4 1669.6,2765.4 1675.6,2765.6 1681.6,2766.4 1687.6,2766.6 1693.6,2767 1699.6,2766.9 1705.6,2766.7 1711.6,2767.1 1717.6,2766.4 1723.6,2766 1729.6,2766.7 1735.6,2766.3 1741.6,2766.4 1747.6,2766.3 1753.6,2765.6 1759.6,2764.8 1765.6,2764.4 1771.6,2763.8 1777.6,2763.3 1783.6,2763.8 1789.6,2764 1795.6,2764 1801.6,2764.7 1807.6,2765.5 1813.6,2765.8 1819.6,2766.6 1825.6,2765.9 1831.6,2765.7 1837.6,2766.3 1843.6,2766.8 1849.6,2766.8 1855.6,2766.7 1861.6,2766.3 1867.6,2766.6 1873.6,2767.2 1879.6,2767.8 1885.6,2768.3 1891.6,2768.8 1897.6,2767.8 1903.6,2768.1 1909.6,2768.3 1915.6,2768.5 1921.6,2768.8 1927.6,2768.6 1933.6,2768.1 1939.6,2767.9 1945.6,2767.7 1951.6,2766.8 1957.6,2766.6 1963.6,2766.4 1969.6,2766.6 1975.6,2766 1981.6,2765.7 1987.6,2766.5 1993.6,2766.1 1999.6,2766.8 2005.6,2766.2 2011.6,2766.4 2017.6,2766.1 2023.6,2765.7 2029.6,2765.2 2035.6,2765.8 2041.6,2765.6 2047.6,2766.5 2053.6,2766.6 2059.6,2766.3 2065.6,2767.1 2071.6,2767.8 2077.6,2767.8 2083.6,2768.1 2089.6,2768.8 2095.6,2768 2101.6,2768.3 2107.6,2768.4 2113.6,2768.7 2119.6,2767.8 2125.6,2768 2131.6,2767.7 2137.6,2767.6 2143.6,2768.3 2149.6,2769 2155.6,2768.7 2161.6,2768.9 2167.6,2769.3 2173.6,2769.2 2179.6,2769.2 2185.6,2769.5 2191.6,2769.6 2197.6,2769.6 2203.6,2770 2209.6,2769.3 2215.6,2769.6 2221.6,2770.1 2227.6,2770.2 2233.6,2770.1 2239.6,2770.6 2245.6,2771 2251.6,2770.6 2257.6,2769.6 2263.6,2769.7 2269.6,2768.8 2275.6,2768.3 2281.6,2768 2287.6,2768.2 2293.6,2767.8 2299.6,2767.8 2305.6,2768.4 2311.6,2767.8 2317.6,2768.6 2323.6,2769.1" fill="none" stroke="#ff0000" stroke-width="2.9" stroke-linejoin="round" stroke-linecap="round"/>
<polyline points="1444.7,2990.7 1445.7,2990.7 1446.7,2941 1447.7,2910.7 1448.7,2893.3 1449.7,2881.7 1450.7,2874.7 1451.7,2870.8 1452.7,2868 1453.7,2867 1454.7,2865.8 1460.7,2865.1 1466.7,2865.4 1472.7,2864.6 1478.7,2864.2 1484.7,2864.9 1490.7,2864.3 1496.7,2864.4 1502.7,2864.4 1508.7,2864.7 1514.7,2864 1520.7,2863.8 1526.7,2864.1 1532.7,2864.7 1538.7,2864.6 1544.7,2865.2 1550.7,2864.5 1556.7,2864.9 1562.7,2865.4 1568.7,2864.4 1574.7,2864.3 1580.7,2864.5 1586.7,2864 1592.7,2864.4 1598.7,2863.5 1604.7,2864 1610.7,2863.3 1616.7,2863 1622.7,2863.5 1628.7,2862.8 1634.7,2863 1640.7,2862.8 1646.7,2861.9 1652.7,2861.8 1658.7,2861.6 1664.7,2861.7 1670.7,2861.9 1676.7,2860.9 1682.7,2861.5 1688.7,2860.6 1694.7,2861.4 1700.7,2860.5 1706.7,2860.3 1712.7,2859.8 1718.7,2859.7 1724.7,2859.7 1730.7,2859 1736.7,2859.4 1742.7,2859.2 1748.7,2859.4 1754.7,2859.1 1760.7,2859.8 1766.7,2859.3 1772.7,2859.7 1778.7,2859.4 1784.7,2858.8 1790.7,2859.4 1796.7,2859.1 1802.7,2859.8 1808.7,2859 1814.7,2858.8 1820.7,2859 1826.7,2859.4 1832.7,2859 1838.7,2859.3 1844.7,2858.7 1850.7,2859.3 1856.7,2859.2 1862.7,2858.3 1868.7,2858.2 1874.7,2858.4 1880.7,2858.6 1886.7,2858.5 1892.7,2858.9 1898.7,2859.4 1904.7,2858.8 1910.7,2858 1916.7,2858.2 1922.7,2857.3 1928.7,2857.1 1934.7,2857.6 1940.7,2857.5 1946.7,2856.9 1952.7,2857.4 1958.7,2857.9 1964.7,2858.1 1970.7,2858.6 1976.7,2858.8 1982.7,2858.9 1988.7,2858.4 1994.7,2857.6 2000.7,2857.1 2006.7,2856.9 2012.7,2857.1 2018.7,2857.5 2024.7,2857.8 2030.7,2857.9 2036.7,2858.1 2042.7,2858.4 2048.7,2857.4 2054.7,2857.5 2060.7,2856.7 2066.7,2856.8 2072.7,2856.4 2078.7,2855.7 2084.7,2856.2 2090.7,2855.7 2096.7,2854.9 2102.7,2855.4 2108.7,2855 2114.7,2854.8 2120.7,2853.9 2126.7,2854 2132.7,2854.4 2138.7,2853.7 2144.7,2853.6 2150.7,2853.3 2156.7,2853.2 2162.7,2853 2168.7,2853.5 2174.7,2853.1 2180.7,2853 2186.7,2853.7 2192.7,2854 2198.7,2853.1 2204.7,2852.2 2210.7,2852.4 2216.7,2852.3 2222.7,2851.9 2228.7,2851.4 2234.7,2852 2240.7,2852.1 2246.7,2851.6 2252.7,2852.3 2258.7,2851.7 2264.7,2851.6 2270.7,2851.1 2276.7,2850.9 2282.7,2851.5 2288.7,2851.4 2294.7,2851.4 2300.7,2851.7 2306.7,2851.2 2312.7,2851.4 2318.7,2851.3 2324.7,2851.8" fill="none" stroke="#ff0000" stroke-width="2.9" stroke-linejoin="round" stroke-linecap="round"/>
<polyline points="1446.1,2983.4 1447.1,2982.7 1448.6,2969.6 1450.1,2960.2 1451.6,2952.8 1453.1,2946.8 1454.6,2941.4 1456.1,2937.4 1457.6,2934.7 1459.1,2931.8 1460.6,2930.7 1462.1,2928.9 1463.6,2927.4 1465.1,2925.9 1466.6,2924.8 1468.1,2925.2 1469.6,2925.2 1471.1,2924.3 1472.6,2923.5 1478.6,2922.3 1484.6,2921.8 1490.6,2922.2 1496.6,2921.9 1502.6,2922.3 1508.6,2922.9 1514.6,2922.9 1520.6,2922.8 1526.6,2922.3 1532.6,2922.3 1538.6,2922.4 1544.6,2922.7 1550.6,2922.3 1556.6,2922 1562.6,2921.7 1568.6,2922.2 1574.6,2922.7 1580.6,2922.9 1586.6,2923.3 1592.6,2923.6 1598.6,2923.9 1604.6,2924.5 1610.6,2925 1616.6,2925.2 1622.6,2924.9 1628.6,2924.1 1634.6,2923.4 1640.6,2922.7 1646.6,2922.9 1652.6,2923.7 1658.6,2923.6 1664.6,2924.1 1670.6,2924.1 1676.6,2923.7 1682.6,2924.2 1688.6,2923.2 1694.6,2923.7 1700.6,2924.2 1706.6,2923.9 1712.6,2923.4 1718.6,2923.6 1724.6,2923.7 1730.6,2923.3 1736.6,2923.1 1742.6,2922.5 1748.6,2921.8 1754.6,2922.4 1760.6,2922.1 1766.6,2921.6 1772.6,2921.9 1778.6,2921.2 1784.6,2920.7 1790.6,2920.1 1796.6,2919.9 1802.6,2920.3 1808.6,2919.7 1814.6,2919.4 1820.6,2919.5 1826.6,2918.9 1832.6,2918.7 1838.6,2918.2 1844.6,2918.4 1850.6,2919 1856.6,2918.7 1862.6,2918.5 1868.6,2918.7 1874.6,2919.5 1880.6,2918.7 1886.6,2918.2 1892.6,2918.3 1898.6,2919.2 1904.6,2919.4 1910.6,2919.5 1916.6,2919 1922.6,2918.6 1928.6,2918.3 1934.6,2918.6 1940.6,2918.8 1946.6,2919.1 1952.6,2919.7 1958.6,2919.3 1964.6,2920 1970.6,2920.3 1976.6,2920.7 1982.6,2919.7 1988.6,2919.4 1994.6,2919.9 2000.6,2919.9 2006.6,2919.6 2012.6,2919.7 2018.6,2919.5 2024.6,2920 2030.6,2919.7 2036.6,2920 2042.6,2920 2048.6,2920.6 2054.6,2919.6 2060.6,2918.9 2066.6,2918.8 2072.6,2918.6 2078.6,2918.7 2084.6,2917.9 2090.6,2917.9 2096.6,2917.9 2102.6,2918.5 2108.6,2918.2 2114.6,2918.8 2120.6,2918.1 2126.6,2918 2132.6,2917.8 2138.6,2918.5 2144.6,2918.7 2150.6,2919.3 2156.6,2918.7 2162.6,2917.9 2168.6,2918.3 2174.6,2918.8 2180.6,2919.2 2186.6,2918.7 2192.6,2918.5 2198.6,2918.5 2204.6,2918.5 2210.6,2918 2216.6,2917.1 2222.6,2916.3 2228.6,2915.9 2234.6,2915.1 2240.6,2915.4 2246.6,2915.7 2252.6,2916.5 2258.6,2916.8 2264.6,2916.1 2270.6,2916.5 2276.6,2916.3 2282.6,2915.9 2288.6,2916.1 2294.6,2916.8 2300.6,2917.4 2306.6,2917 2312.6,2916.8 2318.6,2916.4 2324.6,2915.5" fill="none" stroke="#ff0000" stroke-width="2.9" stroke-linejoin="round" stroke-linecap="round"/>
<polyline points="1467.2,2990.7 1468.2,2990.6 1485.7,2943.3 1503.2,2906 1520.7,2876.6 1538.2,2853.7 1555.7,2835.7 1573.2,2822.1 1590.7,2811.1 1608.2,2803.1 1625.7,2797.3 1643.2,2792.5 1660.7,2788.4 1678.2,2785 1695.7,2783.5 1713.2,2781.2 1730.7,2779.8 1748.2,2779.4 1765.7,2779.6 1771.7,2778.7 1777.7,2779.5 1783.7,2779 1789.7,2778.5 1795.7,2778.3 1801.7,2778 1807.7,2778.4 1813.7,2777.8 1819.7,2778.3 1825.7,2777.7 1831.7,2778 1837.7,2777.7 1843.7,2777.9 1849.7,2777.9 1855.7,2777.8 1861.7,2778 1867.7,2777.3 1873.7,2778 1879.7,2777.5 1885.7,2776.8 1891.7,2777.3 1897.7,2776.8 1903.7,2777.6 1909.7,2777.7 1915.7,2778 1921.7,2777.4 1927.7,2777.1 1933.7,2777.3 1939.7,2777.3 1945.7,2777.9 1951.7,2778.9 1957.7,2779.1 1963.7,2779.6 1969.7,2779.8 1975.7,2779.4 1981.7,2779.3 1987.7,2778.7 1993.7,2779.4 1999.7,2779.3 2005.7,2778.7 2011.7,2778.2 2017.7,2778.8 2023.7,2778.9 2029.7,2778.3 2035.7,2779.3 2041.7,2780.1 2047.7,2779.9 2053.7,2779.6 2059.7,2780.1 2065.7,2779.7 2071.7,2779 2077.7,2780 2083.7,2780.3 2089.7,2780.9 2095.7,2781.6 2101.7,2780.9 2107.7,2781.3 2113.7,2780.6 2119.7,2781 2125.7,2780.8 2131.7,2781 2137.7,2781.6 2143.7,2781.1 2149.7,2780.5 2155.7,2781.3 2161.7,2781.8 2167.7,2782.4 2173.7,2781.7 2179.7,2781.1 2185.7,2781.8 2191.7,2781.5 2197.7,2782.2 2203.7,2781.6 2209.7,2782.2 2215.7,2781.6 2221.7,2781.2 2227.7,2781.4 2233.7,2782.1 2239.7,2782.6 2245.7,2783.2 2251.7,2783.8 2257.7,2784.1 2263.7,2783.5 2269.7,2783.9 2275.7,2783.7 2281.7,2784.4 2287.7,2785 2293.7,2784.3 2299.7,2784.1 2305.7,2784.1 2311.7,2784.4 2317.7,2784.6 2323.7,2785.2" fill="none" stroke="#ff0000" stroke-width="2.9" stroke-linejoin="round" stroke-linecap="round"/>
<polyline points="1464.5,2998.4 1465.5,2998.1 1470,2964.8 1474.5,2937.9 1479,2916.9 1483.5,2901.1 1488,2888.6 1492.5,2878.7 1497,2871.4 1501.5,2865.1 1506,2860.1 1510.5,2856.3 1515,2853.6 1519.5,2851.3 1524,2849.2 1528.5,2849.1 1533,2848 1537.5,2846.9 1542,2847.4 1548,2846.5 1554,2846.6 1560,2845.8 1566,2846.4 1572,2846.5 1578,2846.4 1584,2846.3 1590,2846.8 1596,2847.6 1602,2846.8 1608,2847.2 1614,2846.9 1620,2847 1626,2847.4 1632,2847.9 1638,2848 1644,2847.3 1650,2847.2 1656,2847.4 1662,2847.6 1668,2847.1 1674,2846.7 1680,2847.7 1686,2848.1 1692,2847.9 1698,2848.5 1704,2848.6 1710,2848.1 1716,2847.7 1722,2847.2 1728,2848 1734,2848.6 1740,2848.6 1746,2849.2 1752,2848.5 1758,2849.2 1764,2849.5 1770,2848.8 1776,2849.6 1782,2849.7 1788,2849.5 1794,2849.4 1800,2848.6 1806,2848.7 1812,2848.2 1818,2848.7 1824,2849.4 1830,2849.6 1836,2849.5 1842,2849.3 1848,2849.4 1854,2849.7 1860,2849.1 1866,2849.7 1872,2849.8 1878,2850.2 1884,2850.7 1890,2851.2 1896,2850.7 1902,2851.3 1908,2850.9 1914,2851.4 1920,2850.6 1926,2850 1932,2850 1938,2849.6 1944,2849.4 1950,2848.9 1956,2848.6 1962,2848.5 1968,2849 1974,2848.6 1980,2848.5 1986,2849.1 1992,2849.5 1998,2849.1 2004,2849.4 2010,2848.9 2016,2849.6 2022,2849.4 2028,2849.7 2034,2850 2040,2850.3 2046,2850.5 2052,2850.2 2058,2851 2064,2850.8 2070,2851.1 2076,2850.4 2082,2850.5 2088,2850.1 2094,2850.8 2100,2851.6 2106,2851.4 2112,2851.3 2118,2852.1 2124,2852.8 2130,2852.5 2136,2853.1 2142,2852.3 2148,2853 2154,2852.2 2160,2851.5 2166,2850.8 2172,2851.2 2178,2851.4 2184,2851.5 2190,2851.3 2196,2851 2202,2851.4 2208,2851.9 2214,2851.7 2220,2852.5 2226,2852.1 2232,2851.8 2238,2852.1 2244,2852.3 2250,2852 2256,2852.4 2262,2852.3 2268,2851.8 2274,2851.9 2280,2851.4 2286,2852.3 2292,2852.6 2298,2852.7 2304,2853.4 2310,2853.6 2316,2853.1 2322,2853.1" fill="none" stroke="#ff0000" stroke-width="2.9" stroke-linejoin="round" stroke-linecap="round"/>
<polyline points="1444.7,2985.6 1445.7,2985 1448.2,2978.2 1450.7,2973 1453.2,2968.8 1455.7,2965.3 1458.2,2962.9 1460.7,2960.7 1463.2,2960.1 1465.7,2958.8 1468.2,2958.1 1470.7,2958 1473.2,2957.8 1475.7,2957.9 1478.2,2957 1480.7,2956.5 1483.2,2956.8 1485.7,2956.6 1488.2,2957.3 1494.2,2957.8 1500.2,2957.2 1506.2,2956.6 1512.2,2957 1518.2,2957.4 1524.2,2957.7 1530.2,2958.7 1536.2,2958.5 1542.2,2958.2 1548.2,2958.2 1554.2,2959.4 1560.2,2959.8 1566.2,2959.3 1572.2,2960.5 1578.2,2960.5 1584.2,2960.8 1590.2,2960.7 1596.2,2960.7 1602.2,2961.4 1608.2,2962 1614.2,2962.7 1620.2,2963.6 1626.2,2963.3 1632.2,2963.6 1638.2,2963.2 1644.2,2963.4 1650.2,2964.5 1656.2,2964.5 1662.2,2965.1 1668.2,2965.6 1674.2,2966.5 1680.2,2966 1686.2,2966 1692.2,2966.4 1698.2,2965.9 1704.2,2965.9 1710.2,2966.4 1716.2,2967 1722.2,2967.6 1728.2,2968.1 1734.2,2967.5 1740.2,2968.4 1746.2,2969.4 1752.2,2970.3 1758.2,2969.8 1764.2,2969.3 1770.2,2970.2 1776.2,2970.4 1782.2,2971.2 1788.2,2971.3 1794.2,2970.6 1800.2,2971.2 1806.2,2970.9 1812.2,2970.6 1818.2,2971 1824.2,2971.4 1830.2,2971.5 1836.2,2970.9 1842.2,2971.9 1848.2,2972.4 1854.2,2972.3 1860.2,2971.7 1866.2,2972.4 1872.2,2971.9 1878.2,2972.8 1884.2,2973.5 1890.2,2974.4 1896.2,2974 1902.2,2974.1 1908.2,2974.2 1914.2,2973.6 1920.2,2973.1 1926.2,2973 1932.2,2972.5 1938.2,2972.4 1944.2,2972.2 1950.2,2972.9 1956.2,2973.8 1962.2,2974.7 1968.2,2974.7 1974.2,2974.5 1980.2,2974.5 1986.2,2974.3 1992.2,2974.4 1998.2,2974.2 2004.2,2974.5 2010.2,2974.8 2016.2,2975.2 2022.2,2975.6 2028.2,2975 2034.2,2975.1 2040.2,2976 2046.2,2975.4 2052.2,2975.1 2058.2,2974.7 2064.2,2975.5 2070.2,2975.5 2076.2,2976.2 2082.2,2975.8 2088.2,2976.8 2094.2,2976.3 2100.2,2976.3 2106.2,2976.4 2112.2,2976.5 2118.2,2976 2124.2,2975.6 2130.2,2976.4 2136.2,2977 2142.2,2977 2148.2,2976.8 2154.2,2976.6 2160.2,2977 2166.2,2976.6 2172.2,2976.2 2178.2,2975.8 2184.2,2975.7 2190.2,2976.8 2196.2,2976.6 2202.2,2977.2 2208.2,2977.9 2214.2,2978.3 2220.2,2978.7 2226.2,2978.9 2232.2,2978.9 2238.2,2978.5 2244.2,2978 2250.2,2978.5 2256.2,2978.6 2262.2,2978.4 2268.2,2978.3 2274.2,2978.7 2280.2,2979.6 2286.2,2979 2292.2,2979.2 2298.2,2979.8 2304.2,2979.6 2310.2,2979.6 2316.2,2979.2 2322.2,2979.1" fill="none" stroke="#ff0000" stroke-width="2.9" stroke-linejoin="round" stroke-linecap="round"/>
<polyline points="1465.5,2998.7 1466.5,2998.7 1467.5,2939.1 1468.5,2896.4 1469.5,2864.7 1470.5,2842.8 1471.5,2827.1 1472.5,2814.9 1473.5,2806.8 1474.5,2800.8 1475.5,2797.2 1476.5,2794.4 1477.5,2792.4 1478.5,2791.3 1479.5,2790.5 1485.5,2787.8 1491.5,2786.6 1497.5,2786 1503.5,2786.3 1509.5,2785.8 1515.5,2784.7 1521.5,2784.3 1527.5,2784 1533.5,2784.6 1539.5,2785.1 1545.5,2785.3 1551.5,2785.1 1557.5,2785 1563.5,2784 1569.5,2784.3 1575.5,2784 1581.5,2784.1 1587.5,2784.3 1593.5,2783.2 1599.5,2782.5 1605.5,2783.2 1611.5,2783.7 1617.5,2783.7 1623.5,2783.8 1629.5,2782.9 1635.5,2783.4 1641.5,2783.2 1647.5,2782.8 1653.5,2783.1 1659.5,2782.8 1665.5,2782.5 1671.5,2782.4 1677.5,2781.6 1683.5,2781.5 1689.5,2780.7 1695.5,2780.9 1701.5,2780.8 1707.5,2780.2 1713.5,2780.7 1719.5,2781 1725.5,2781 1731.5,2780.2 1737.5,2782.5 1743.5,2788 1749.5,2793.9 1755.5,2799.1 1761.5,2803.7 1767.5,2809.2 1773.5,2814.6 1779.5,2819.5 1785.5,2823.4 1791.5,2827.7 1797.5,2832.4 1803.5,2836.8 1809.5,2841.5 1815.5,2846 1821.5,2849.9 1827.5,2853.9 1833.5,2858.1 1839.5,2861.5 1845.5,2864.1 1851.5,2867.7 1857.5,2871.1 1863.5,2874.1 1869.5,2876.8 1875.5,2879.6 1881.5,2882.7 1887.5,2885.4 1893.5,2889.1 1899.5,2891.2 1905.5,2894.5 1911.5,2897.6 1917.5,2899.9 1923.5,2902.4 1929.5,2904.7 1935.5,2907.3 1941.5,2909.3 1947.5,2911.4 1953.5,2914.3 1959.5,2916.2 1965.5,2918 1971.5,2919.6 1977.5,2922 1983.5,2923.4 1989.5,2925.3 1995.5,2927.8 2001.5,2929.8 2007.5,2931 2013.5,2933.5 2019.5,2934.9 2025.5,2936.2 2031.5,2937.1 2037.5,2938.7 2043.5,2940.3 2049.5,2942.6 2055.5,2944.8 2061.5,2947 2067.5,2948.4 2073.5,2949.4 2079.5,2950.7 2085.5,2952.1 2091.5,2952.9 2097.5,2953.3 2103.5,2953.9 2109.5,2955.1 2115.5,2956.5 2121.5,2957.7 2127.5,2959.5 2133.5,2960.6 2139.5,2961.2 2145.5,2962.6 2151.5,2963.9 2157.5,2965.2 2163.5,2966.6 2169.5,2967.1 2175.5,2967.3 2181.5,2968.2 2187.5,2968.3 2193.5,2969.6 2199.5,2969.5 2205.5,2970.4 2211.5,2971.7 2217.5,2973.1 2223.5,2974.3 2229.5,2974.5 2235.5,2975.4 2241.5,2975.7 2247.5,2976.1 2253.5,2976.1 2259.5,2976.1 2265.5,2977 2271.5,2978.2 2277.5,2978.5 2283.5,2978.3 2289.5,2978.7 2295.5,2979 2301.5,2979.3 2307.5,2979.6 2313.5,2980.2 2319.5,2980.2" fill="none" stroke="#ff0000" stroke-width="2.9" stroke-linejoin="round" stroke-linecap="round"/>
<polyline points="1458.8,2970.6 1459.8,2970.3 1462.3,2939 1464.8,2914.7 1467.3,2895.3 1469.8,2880.7 1472.3,2869.8 1474.8,2860.3 1477.3,2853.7 1479.8,2848 1482.3,2843.4 1484.8,2840.9 1487.3,2838 1489.8,2835.2 1492.3,2833.4 1494.8,2832.7 1497.3,2832.1 1499.8,2831.4 1502.3,2831.2 1508.3,2829.7 1514.3,2829.4 1520.3,2828.9 1526.3,2829.2 1532.3,2828.8 1538.3,2828.8 1544.3,2827.8 1550.3,2827.7 1556.3,2827.2 1562.3,2827.2 1568.3,2827.9 1574.3,2827.3 1580.3,2827.9 1586.3,2828.4 1592.3,2827.7 1598.3,2828 1604.3,2828 1610.3,2828 1616.3,2827.7 1622.3,2827.4 1628.3,2827.7 1634.3,2828.2 1640.3,2827.3 1646.3,2827.6 1652.3,2827.6 1658.3,2826.7 1664.3,2827.1 1670.3,2827.5 1676.3,2827.3 1682.3,2827.1 1688.3,2826.1 1694.3,2825.1 1700.3,2825.6 1706.3,2825.4 1712.3,2824.4 1718.3,2823.9 1724.3,2824.4 1730.3,2824.5 1736.3,2824.5 1742.3,2824 1748.3,2824.1 1754.3,2823.7 1760.3,2823.1 1766.3,2823.6 1772.3,2822.8 1778.3,2822.6 1784.3,2823.1 1790.3,2822.6 1796.3,2823 1802.3,2822.5 1808.3,2822.2 1814.3,2822.7 1820.3,2822.7 1826.3,2822.5 1832.3,2822.1 1838.3,2822.2 1844.3,2821.8 1850.3,2822.2 1856.3,2821.6 1862.3,2821 1868.3,2820.7 1874.3,2821.2 1880.3,2821.6 1886.3,2822.1 1892.3,2821.6 1898.3,2820.8 1904.3,2820.2 1910.3,2820.4 1916.3,2820.7 1922.3,2821.1 1928.3,2820.1 1934.3,2819.8 1940.3,2819.1 1946.3,2818.2 1952.3,2818.2 1958.3,2817.9 1964.3,2817.1 1970.3,2816.3 1976.3,2816.1 1982.3,2816.4 1988.3,2816 1994.3,2815.6 2000.3,2815.4 2006.3,2814.7 2012.3,2815.2 2018.3,2815.9 2024.3,2815.7 2030.3,2814.9 2036.3,2814.9 2042.3,2815.1 2048.3,2815.2 2054.3,2815.6 2060.3,2816.2 2066.3,2815.8 2072.3,2816.4 2078.3,2815.9 2084.3,2815 2090.3,2814.7 2096.3,2814.5 2102.3,2814.6 2108.3,2815 2114.3,2815 2120.3,2814.8 2126.3,2814 2132.3,2813.4 2138.3,2814.2 2144.3,2814.7 2150.3,2814.9 2156.3,2815.1 2162.3,2814.4 2168.3,2814.8 2174.3,2813.8 2180.3,2812.9 2186.3,2813 2192.3,2812.1 2198.3,2812.5 2204.3,2812.5 2210.3,2812 2216.3,2812 2222.3,2811.3 2228.3,2811.6 2234.3,2812 2240.3,2811.1 2246.3,2810.8 2252.3,2811.6 2258.3,2810.8 2264.3,2811.1 2270.3,2810.7 2276.3,2810.9 2282.3,2810.3 2288.3,2810.1 2294.3,2810.7 2300.3,2810.7 2306.3,2810.4 2312.3,2810.5 2318.3,2811.1 2324.3,2811.1" fill="none" stroke="#ff0000" stroke-width="2.9" stroke-linejoin="round" stroke-linecap="round"/>
<polyline points="1884.3,2977.3 1885.3,2977.3 1886.8,2922.6 1888.3,2879.8 1889.8,2846.2 1891.3,2820.8 1892.8,2801 1894.3,2784.9 1895.8,2772.3 1897.3,2762.3 1898.8,2755.6 1900.3,2750.1 1901.8,2745.3 1903.3,2742.5 1904.8,2740.2 1906.3,2738 1907.8,2736.8 1909.3,2735.9 1910.8,2735.4 1916.8,2733.8 1922.8,2734 1928.8,2734.1 1934.8,2734.8 1940.8,2734.5 1946.8,2734.5 1952.8,2734.3 1958.8,2734.9 1964.8,2735.5 1970.8,2735.1 1976.8,2735.1 1982.8,2734.8 1988.8,2735.2 1994.8,2734.7 2000.8,2735.4 2006.8,2734.9 2012.8,2735.1 2018.8,2735.2 2024.8,2735 2030.8,2735.2 2036.8,2735.9 2042.8,2736.1 2048.8,2737.3 2054.8,2737.8 2060.8,2737.5 2066.8,2738.4 2072.8,2738.3 2078.8,2738.5 2084.8,2739.3 2090.8,2740.3 2096.8,2741.1 2102.8,2741 2108.8,2741.7 2114.8,2742.3 2120.8,2743.1 2126.8,2743.2 2132.8,2742.9 2138.8,2743.7 2144.8,2744 2150.8,2744.2 2156.8,2743.4 2162.8,2743.4 2168.8,2743.5 2174.8,2744.4 2180.8,2745.3 2186.8,2744.6 2192.8,2744.2 2198.8,2744.3 2204.8,2745.1 2210.8,2745.2 2216.8,2744.9 2222.8,2745.8 2228.8,2745.3 2234.8,2745.1 2240.8,2745.1 2246.8,2745.2 2252.8,2745.1 2258.8,2744.7 2264.8,2745.6 2270.8,2745.3 2276.8,2746.1 2282.8,2745.7 2288.8,2746.7 2294.8,2746.7 2300.8,2747.1 2306.8,2747.3 2312.8,2747.1 2318.8,2746.7 2324.8,2747" fill="none" stroke="#ff0000" stroke-width="2.9" stroke-linejoin="round" stroke-linecap="round"/>
<polyline points="1580.5,2972.6 1581.5,2972.6 1582.5,2933.4 1583.5,2910.3 1584.5,2896.4 1585.5,2888.3 1586.5,2882.1 1587.5,2879.4 1588.5,2878 1589.5,2876 1590.5,2875.7 1596.5,2875 1602.5,2874.3 1608.5,2874.5 1614.5,2873.8 1620.5,2873.3 1626.5,2872.8 1632.5,2872.5 1638.5,2873.2 1644.5,2872.6 1650.5,2872.7 1656.5,2872.3 1662.5,2872.4 1668.5,2872 1674.5,2872.1 1680.5,2872.9 1686.5,2873.6 1692.5,2872.9 1698.5,2873.1 1704.5,2873.3 1710.5,2873.5 1716.5,2873.7 1722.5,2874.1 1728.5,2874.7 1734.5,2875.3 1740.5,2874.6 1746.5,2873.8 1752.5,2873.4 1758.5,2873.2 1764.5,2872.6 1770.5,2872.4 1776.5,2871.9 1782.5,2871.7 1788.5,2872 1794.5,2872.5 1800.5,2872.5 1806.5,2872.3 1812.5,2872.1 1818.5,2872.4 1824.5,2873 1830.5,2872.4 1836.5,2872.8 1842.5,2873.3 1848.5,2873.4 1854.5,2873.3 1860.5,2874.1 1866.5,2873.9 1872.5,2873.4 1878.5,2873.4 1884.5,2873.8 1890.5,2873.7 1896.5,2873.8 1902.5,2873.1 1908.5,2872.5 1914.5,2872.2 1920.5,2872.5 1926.5,2872.6 1932.5,2873.1 1938.5,2872.4 1944.5,2873.2 1950.5,2873 1956.5,2873.2 1962.5,2872.7 1968.5,2872.9 1974.5,2872.6 1980.5,2872.5 1986.5,2872.7 1992.5,2873.1 1998.5,2873.9 2004.5,2874 2010.5,2874.5 2016.5,2875 2022.5,2875.1 2028.5,2874.7 2034.5,2874 2040.5,2874 2046.5,2874.5 2052.5,2873.8 2058.5,2874.2 2064.5,2874.5 2070.5,2874 2076.5,2874.6 2082.5,2874.1 2088.5,2874.2 2094.5,2874.8 2100.5,2875.2 2106.5,2875.8 2112.5,2875.9 2118.5,2876.2 2124.5,2876.3 2130.5,2876.8 2136.5,2876.8 2142.5,2876.9 2148.5,2876.1 2154.5,2876.1 2160.5,2875.9 2166.5,2875.3 2172.5,2874.9 2178.5,2875.2 2184.5,2874.6 2190.5,2874 2196.5,2874.5 2202.5,2874.1 2208.5,2874.4 2214.5,2874.2 2220.5,2874 2226.5,2874.2 2232.5,2873.6 2238.5,2873.9 2244.5,2874.3 2250.5,2873.9 2256.5,2874.3 2262.5,2873.8 2268.5,2874 2274.5,2874.4 2280.5,2874.8 2286.5,2874.1 2292.5,2873.6 2298.5,2873.4 2304.5,2873.7 2310.5,2874 2316.5,2874.4 2322.5,2873.7" fill="none" stroke="#ff0000" stroke-width="2.9" stroke-linejoin="round" stroke-linecap="round"/>
<polyline points="2127.3,2975.1 2128.3,2974.8 2129.8,2913.7 2131.3,2865.8 2132.8,2829.6 2134.3,2800.4 2135.8,2777.6 2137.3,2760.5 2138.8,2747.5 2140.3,2736.6 2141.8,2727.9 2143.3,2721.2 2144.8,2716 2146.3,2712.5 2147.8,2710.2 2149.3,2708.3 2150.8,2707.1 2152.3,2704.9 2153.8,2704 2159.8,2702.5 2165.8,2702.4 2171.8,2701.6 2177.8,2702.4 2183.8,2702.1 2189.8,2702.4 2195.8,2701.9 2201.8,2702.3 2207.8,2702.8 2213.8,2703.4 2219.8,2703.1 2225.8,2703.8 2231.8,2703.7 2237.8,2703.1 2243.8,2702.7 2249.8,2703.3 2255.8,2703.7 2261.8,2703.5 2267.8,2703.5 2273.8,2703.3 2279.8,2703.3 2285.8,2704.4 2291.8,2705.4 2297.8,2705.5 2303.8,2705.6 2309.8,2705.5 2315.8,2706.3 2321.8,2705.8" fill="none" stroke="#ff0000" stroke-width="2.9" stroke-linejoin="round" stroke-linecap="round"/>
<polyline points="2231.9,2982.9 2232.9,2982.7 2241.6,2970 2250.4,2959.9 2259.1,2952.2 2267.9,2947.3 2276.6,2943.4 2285.4,2939.5 2294.1,2936.1 2302.9,2934.1 2311.6,2932.4 2320.4,2931.9" fill="none" stroke="#ff0000" stroke-width="2.9" stroke-linejoin="round" stroke-linecap="round"/>
<polyline points="2122.4,2976 2123.4,2975.5 2124.4,2923.4 2125.4,2891 2126.4,2872.3 2127.4,2861 2128.4,2853.2 2129.4,2849.4 2130.4,2846.6 2131.4,2844.8 2132.4,2844.5 2138.4,2843.6 2144.4,2843.7 2150.4,2844.3 2156.4,2844.2 2162.4,2843.4 2168.4,2843.6 2174.4,2844.1 2180.4,2843.3 2186.4,2843.3 2192.4,2843.6 2198.4,2842.8 2204.4,2842.2 2210.4,2841.9 2216.4,2841.7 2222.4,2841.2 2228.4,2840.6 2234.4,2840.3 2240.4,2840.2 2246.4,2841.1 2252.4,2841.5 2258.4,2842.2 2264.4,2842.5 2270.4,2842.3 2276.4,2842.8 2282.4,2842.3 2288.4,2842.2 2294.4,2841.5 2300.4,2842 2306.4,2841.3 2312.4,2842 2318.4,2841.7 2324.4,2842.4" fill="none" stroke="#ff0000" stroke-width="2.9" stroke-linejoin="round" stroke-linecap="round"/>
<polyline points="1873.7,2971.5 1874.7,2971.5 1875.7,2936.9 1876.7,2912.7 1877.7,2895.5 1878.7,2883.4 1879.7,2874.3 1880.7,2868.4 1881.7,2863 1882.7,2859.9 1883.7,2856.7 1884.7,2855.5 1885.7,2854 1886.7,2853.7 1887.7,2852.3 1893.7,2851.4 1899.7,2851.4 1905.7,2850.7 1911.7,2850.6 1917.7,2850.3 1923.7,2849.4 1929.7,2848.7 1935.7,2848.3 1941.7,2848 1947.7,2847.7 1953.7,2847.9 1959.7,2847.3 1965.7,2848.2 1971.7,2847.6 1977.7,2847.6 1983.7,2847.9 1989.7,2848.5 1995.7,2849.1 2001.7,2849.4 2007.7,2850.1 2013.7,2849.9 2019.7,2849.7 2025.7,2850.1 2031.7,2849.6 2037.7,2849.1 2043.7,2848.4 2049.7,2848 2055.7,2848.3 2061.7,2848.8 2067.7,2848.7 2073.7,2848 2079.7,2848.6 2085.7,2848.1 2091.7,2847.7 2097.7,2847.9 2103.7,2848.3 2109.7,2848.8 2115.7,2848.8 2121.7,2848.5 2127.7,2848.6 2133.7,2849.4 2139.7,2850 2145.7,2850 2151.7,2850.3 2157.7,2850.2 2163.7,2849.5 2169.7,2850.1 2175.7,2851.7 2181.7,2853.7 2187.7,2854.4 2193.7,2856.1 2199.7,2856.8 2205.7,2857.5 2211.7,2859.6 2217.7,2861 2223.7,2862.3 2229.7,2863.3 2235.7,2864 2241.7,2865.5 2247.7,2866 2253.7,2866.5 2259.7,2868.6 2265.7,2869 2271.7,2870.2 2277.7,2871.1 2283.7,2872.9 2289.7,2873.6 2295.7,2875.3 2301.7,2876.8 2307.7,2878.6 2313.7,2879.6 2319.7,2880.8" fill="none" stroke="#ff0000" stroke-width="2.9" stroke-linejoin="round" stroke-linecap="round"/>
<polyline points="1859.9,2970.5 1860.9,2969.9 1878.4,2898.6 1895.9,2841.3 1913.4,2797.4 1930.9,2762.4 1948.4,2735 1965.9,2713.2 1983.4,2696.4 2000.9,2683 2018.4,2672.4 2035.9,2663.2 2053.4,2656 2070.9,2649.7 2088.4,2644.8 2105.9,2640.6 2123.4,2637.7 2140.9,2634.6 2158.4,2632.4 2164.4,2631.4 2170.4,2629.8 2176.4,2628.6 2182.4,2628.1 2188.4,2627.4 2194.4,2626.6 2200.4,2625.5 2206.4,2624.7 2212.4,2624.4 2218.4,2623.1 2224.4,2622.3 2230.4,2621.3 2236.4,2621.7 2242.4,2621.3 2248.4,2621.1 2254.4,2620.5 2260.4,2620.3 2266.4,2620.6 2272.4,2620.7 2278.4,2620.5 2284.4,2619.6 2290.4,2618.5 2296.4,2618.7 2302.4,2618.2 2308.4,2618.3 2314.4,2616.8 2320.4,2616.8" fill="none" stroke="#ff0000" stroke-width="2.9" stroke-linejoin="round" stroke-linecap="round"/>
<polyline points="1544.5,2994.1 1545.5,2993.8 1548,2973.8 1550.5,2958.9 1553,2946.7 1555.5,2937.2 1558,2930.5 1560.5,2924.7 1563,2920.3 1565.5,2917.4 1568,2915.2 1570.5,2913.4 1573,2911.9 1575.5,2911.1 1578,2909.4 1580.5,2909.1 1583,2907.6 1585.5,2906.9 1588,2906.5 1594,2905.8 1600,2905.2 1606,2904.9 1612,2905.3 1618,2905.8 1624,2904.8 1630,2904.5 1636,2903.8 1642,2903.4 1648,2903.9 1654,2904.4 1660,2903.9 1666,2904.1 1672,2903.8 1678,2904.4 1684,2905 1690,2905.5 1696,2905.6 1702,2905.1 1708,2904.2 1714,2904.2 1720,2903.6 1726,2902.9 1732,2903.4 1738,2903.6 1744,2903.5 1750,2904.1 1756,2904.3 1762,2904.3 1768,2904.3 1774,2904.1 1780,2904.5 1786,2903.8 1792,2903.7 1798,2903.7 1804,2902.8 1810,2902.1 1816,2901.6 1822,2901.2 1828,2900.5 1834,2901.1 1840,2901.6 1846,2900.7 1852,2900.9 1858,2900.4 1864,2899.6 1870,2899.4 1876,2899.4 1882,2898.9 1888,2898.6 1894,2898.4 1900,2898.4 1906,2897.7 1912,2898.6 1918,2898.6 1924,2899.3 1930,2899.7 1936,2900 1942,2900 1948,2900.6 1954,2901 1960,2900.9 1966,2900 1972,2899.8 1978,2900.1 1984,2899.7 1990,2900 1996,2899.2 2002,2899.4 2008,2898.9 2014,2898.9 2020,2899 2026,2898.5 2032,2898.5 2038,2898.3 2044,2897.8 2050,2897.8 2056,2897.2 2062,2896.9 2068,2897.6 2074,2897 2080,2897.7 2086,2897.5 2092,2897 2098,2896.5 2104,2897.2 2110,2897.8 2116,2897 2122,2897.2 2128,2897.2 2134,2896.4 2140,2896 2146,2896.1 2152,2896 2158,2895.2 2164,2895.8 2170,2896 2176,2896.2 2182,2896.5 2188,2896.3 2194,2896.4 2200,2896.5 2206,2896.5 2212,2896.4 2218,2896.1 2224,2896.5 2230,2896.1 2236,2896.4 2242,2895.5 2248,2895.4 2254,2894.9 2260,2894.6 2266,2893.9 2272,2894.5 2278,2894.9 2284,2895.3 2290,2895.3 2296,2894.4 2302,2894.4 2308,2894.8 2314,2894 2320,2893.6" fill="none" stroke="#ff0000" stroke-width="2.9" stroke-linejoin="round" stroke-linecap="round"/>
<polyline points="1895.7,2980.7 1896.7,2980.7 1905.4,2923.9 1914.2,2878.5 1922.9,2843.5 1931.7,2816.3 1940.4,2794.6 1949.2,2778.7 1957.9,2765.9 1966.7,2756 1975.4,2747.6 1984.2,2741.2 1992.9,2735.4 2001.7,2730.7 2010.4,2727.6 2019.2,2725 2027.9,2723.2 2036.7,2722.1 2045.4,2720.6 2051.4,2719.6 2057.4,2718.9 2063.4,2718.6 2069.4,2718.3 2075.4,2717.9 2081.4,2717.7 2087.4,2716.6 2093.4,2716.4 2099.4,2716.2 2105.4,2714.6 2111.4,2713.2 2117.4,2712.5 2123.4,2711.8 2129.4,2711.8 2135.4,2710.7 2141.4,2710.2 2147.4,2710.3 2153.4,2709.5 2159.4,2709.6 2165.4,2709.8 2171.4,2709.7 2177.4,2709.4 2183.4,2709.1 2189.4,2708.9 2195.4,2707.8 2201.4,2707.1 2207.4,2706.4 2213.4,2706.5 2219.4,2705.7 2225.4,2705.4 2231.4,2705.3 2237.4,2704.7 2243.4,2704.1 2249.4,2703 2255.4,2702.2 2261.4,2701.7 2267.4,2701.6 2273.4,2700.6 2279.4,2700 2285.4,2700 2291.4,2698.9 2297.4,2698 2303.4,2698.4 2309.4,2698.6 2315.4,2698 2321.4,2698.4" fill="none" stroke="#ff0000" stroke-width="2.9" stroke-linejoin="round" stroke-linecap="round"/>
<polyline points="1723.7,2980.8 1724.7,2980.1 1727.2,2960.1 1729.7,2944.7 1732.2,2932.7 1734.7,2923.6 1737.2,2916.6 1739.7,2911.7 1742.2,2907.3 1744.7,2904 1747.2,2900.8 1749.7,2899.1 1752.2,2897 1754.7,2895.3 1757.2,2895 1759.7,2894.6 1762.2,2894.2 1764.7,2892.9 1767.2,2892.9 1773.2,2891.8 1779.2,2891 1785.2,2891.4 1791.2,2890.3 1797.2,2890.8 1803.2,2890.4 1809.2,2890.5 1815.2,2890 1821.2,2890.5 1827.2,2890 1833.2,2890.6 1839.2,2891 1845.2,2891.2 1851.2,2891.2 1857.2,2891.1 1863.2,2890.9 1869.2,2890.2 1875.2,2890.9 1881.2,2891.1 1887.2,2891.6 1893.2,2892.1 1899.2,2891.3 1905.2,2891.1 1911.2,2890.9 1917.2,2891.4 1923.2,2890.8 1929.2,2889.9 1935.2,2889.2 1941.2,2888.7 1947.2,2887.9 1953.2,2887.7 1959.2,2888.1 1965.2,2887.9 1971.2,2888.3 1977.2,2888.6 1983.2,2888.9 1989.2,2888.2 1995.2,2888.3 2001.2,2889 2007.2,2888.6 2013.2,2889.1 2019.2,2889.4 2025.2,2890 2031.2,2890.9 2037.2,2891.8 2043.2,2893.7 2049.2,2895.5 2055.2,2896.3 2061.2,2898 2067.2,2898.6 2073.2,2899.3 2079.2,2900.6 2085.2,2901.4 2091.2,2903 2097.2,2904.3 2103.2,2904.9 2109.2,2906.6 2115.2,2907.9 2121.2,2909.6 2127.2,2910.7 2133.2,2912.3 2139.2,2912.4 2145.2,2913.4 2151.2,2914.3 2157.2,2915.5 2163.2,2915.8 2169.2,2916.2 2175.2,2916.7 2181.2,2918.3 2187.2,2919.4 2193.2,2919.9 2199.2,2920.1 2205.2,2921.1 2211.2,2921.5 2217.2,2922.7 2223.2,2923.5 2229.2,2924.2 2235.2,2924.5 2241.2,2924.7 2247.2,2925.1 2253.2,2925.9 2259.2,2926.4 2265.2,2926.7 2271.2,2928 2277.2,2929 2283.2,2930.1 2289.2,2930.3 2295.2,2931.4 2301.2,2932.1 2307.2,2933 2313.2,2933.4 2319.2,2934.5" fill="none" stroke="#ff0000" stroke-width="2.9" stroke-linejoin="round" stroke-linecap="round"/>
<polyline points="1496.8,2995.3 1497.8,2994.6 1506.5,2931.8 1515.3,2883 1524,2845.4 1532.8,2815.8 1541.5,2793.6 1550.3,2776.2 1559,2761.8 1567.8,2750.3 1576.5,2742.1 1585.3,2734.9 1594,2729.6 1602.8,2726.1 1611.5,2723.3 1620.3,2720.9 1629,2719.4 1637.8,2718.5 1646.5,2717.3 1652.5,2715.7 1658.5,2715.5 1664.5,2714.9 1670.5,2713.7 1676.5,2713.5 1682.5,2712.3 1688.5,2711.7 1694.5,2711.5 1700.5,2712.1 1706.5,2711.8 1712.5,2710.9 1718.5,2711.2 1724.5,2711 1730.5,2710.2 1736.5,2709.5 1742.5,2710 1748.5,2709.6 1754.5,2709.1 1760.5,2709.4 1766.5,2708.7 1772.5,2708.1 1778.5,2708.3 1784.5,2708.7 1790.5,2709.4 1796.5,2709.8 1802.5,2710 1808.5,2710.2 1814.5,2710.7 1820.5,2711.1 1826.5,2711.3 1832.5,2710.4 1838.5,2710.8 1844.5,2710.6 1850.5,2710.2 1856.5,2710.1 1862.5,2709.7 1868.5,2709.1 1874.5,2709.6 1880.5,2710.2 1886.5,2709.9 1892.5,2709.5 1898.5,2709.1 1904.5,2708.6 1910.5,2708.9 1916.5,2708.9 1922.5,2708.1 1928.5,2708.3 1934.5,2708.3 1940.5,2707.3 1946.5,2707.4 1952.5,2707.5 1958.5,2708.1 1964.5,2707.6 1970.5,2707.5 1976.5,2707.4 1982.5,2706.5 1988.5,2707.2 1994.5,2707.1 2000.5,2707.5 2006.5,2706.7 2012.5,2706.9 2018.5,2706.5 2024.5,2707.1 2030.5,2706.2 2036.5,2706.1 2042.5,2706.6 2048.5,2706.3 2054.5,2706.6 2060.5,2707.2 2066.5,2707.3 2072.5,2707.4 2078.5,2706.3 2084.5,2705.5 2090.5,2705.2 2096.5,2704.3 2102.5,2704.2 2108.5,2704 2114.5,2703.2 2120.5,2702.5 2126.5,2702.6 2132.5,2703.2 2138.5,2703.7 2144.5,2703.9 2150.5,2703.7 2156.5,2703.8 2162.5,2703.1 2168.5,2702.7 2174.5,2702.2 2180.5,2703 2186.5,2703.5 2192.5,2703.8 2198.5,2703.8 2204.5,2703.7 2210.5,2703.1 2216.5,2703.3 2222.5,2703.1 2228.5,2703.2 2234.5,2702.8 2240.5,2702.4 2246.5,2703.1 2252.5,2702.8 2258.5,2701.8 2264.5,2702.6 2270.5,2702.6 2276.5,2702 2282.5,2702.3 2288.5,2702.8 2294.5,2703.1 2300.5,2702.6 2306.5,2701.9 2312.5,2701.4 2318.5,2701.2 2324.5,2701.3" fill="none" stroke="#ff0000" stroke-width="2.9" stroke-linejoin="round" stroke-linecap="round"/>
<polyline points="1550.4,2971.3 1551.4,2971.3 1568.9,2941.7 1586.4,2918.2 1603.9,2899.3 1621.4,2884.2 1638.9,2873 1656.4,2863.6 1673.9,2856.7 1691.4,2851.1 1708.9,2846.4 1726.4,2843 1743.9,2840.9 1761.4,2839 1778.9,2838.1 1796.4,2837.3 1813.9,2836.5 1831.4,2835.6 1848.9,2835 1854.9,2834.9 1860.9,2834.4 1866.9,2835 1872.9,2835.1 1878.9,2835.8 1884.9,2835.5 1890.9,2835.5 1896.9,2835.2 1902.9,2835 1908.9,2834.5 1914.9,2835.1 1920.9,2834.9 1926.9,2835.6 1932.9,2835.8 1938.9,2836 1944.9,2836.6 1950.9,2836.7 1956.9,2835.8 1962.9,2834.9 1968.9,2834.2 1974.9,2834.5 1980.9,2834.1 1986.9,2834.7 1992.9,2834.6 1998.9,2835.4 2004.9,2835.4 2010.9,2836.1 2016.9,2835.9 2022.9,2835.5 2028.9,2836.1 2034.9,2835.9 2040.9,2836 2046.9,2836.3 2052.9,2836.3 2058.9,2836.9 2064.9,2836.6 2070.9,2837.2 2076.9,2837.3 2082.9,2836.7 2088.9,2836.1 2094.9,2836.8 2100.9,2837.3 2106.9,2836.4 2112.9,2836.5 2118.9,2835.9 2124.9,2835.4 2130.9,2835 2136.9,2835.7 2142.9,2836.3 2148.9,2836.9 2154.9,2836.5 2160.9,2836.6 2166.9,2837.1 2172.9,2837.6 2178.9,2836.6 2184.9,2837.2 2190.9,2837.5 2196.9,2837 2202.9,2837.4 2208.9,2836.8 2214.9,2836.8 2220.9,2835.8 2226.9,2835 2232.9,2834.5 2238.9,2835.2 2244.9,2835.2 2250.9,2835.1 2256.9,2835.7 2262.9,2835.7 2268.9,2836.4 2274.9,2836.7 2280.9,2836.1 2286.9,2835.5 2292.9,2835 2298.9,2834.6 2304.9,2833.9 2310.9,2833.8 2316.9,2834.4 2322.9,2835" fill="none" stroke="#ff0000" stroke-width="2.9" stroke-linejoin="round" stroke-linecap="round"/>
<polyline points="1694.8,2971.4 1695.8,2970.7 1704.5,2961.8 1713.3,2954.5 1722,2949.8 1730.8,2945.6 1739.5,2942.2 1748.3,2939.8 1757,2937.6 1765.8,2935.7 1774.5,2933.9 1783.3,2933.6 1792,2932.5 1800.8,2932.2 1809.5,2932.1 1818.3,2930.8 1827,2930.3 1835.8,2930.1 1844.5,2930.6 1850.5,2929.7 1856.5,2930.4 1862.5,2930.7 1868.5,2931.2 1874.5,2930.5 1880.5,2929.7 1886.5,2929.1 1892.5,2929.6 1898.5,2929.5 1904.5,2928.9 1910.5,2928.3 1916.5,2928.4 1922.5,2928.3 1928.5,2928.9 1934.5,2928.2 1940.5,2928.8 1946.5,2929.4 1952.5,2929.5 1958.5,2929.8 1964.5,2930.4 1970.5,2930.4 1976.5,2930.8 1982.5,2931 1988.5,2930.8 1994.5,2930.6 2000.5,2930.3 2006.5,2930.7 2012.5,2930.7 2018.5,2930.2 2024.5,2929.9 2030.5,2930.4 2036.5,2929.6 2042.5,2929 2048.5,2928.6 2054.5,2929 2060.5,2929.4 2066.5,2928.6 2072.5,2928 2078.5,2928.6 2084.5,2927.8 2090.5,2928.2 2096.5,2928.7 2102.5,2928.6 2108.5,2928.1 2114.5,2927.9 2120.5,2928.4 2126.5,2928.7 2132.5,2927.8 2138.5,2927.2 2144.5,2927.3 2150.5,2927.9 2156.5,2927.6 2162.5,2927.3 2168.5,2926.9 2174.5,2927.6 2180.5,2927.7 2186.5,2927.3 2192.5,2927.9 2198.5,2927.8 2204.5,2927.7 2210.5,2927.6 2216.5,2927.8 2222.5,2927.6 2228.5,2927.9 2234.5,2927.2 2240.5,2926.6 2246.5,2926.1 2252.5,2925.4 2258.5,2924.8 2264.5,2925.6 2270.5,2925.1 2276.5,2925.6 2282.5,2925.5 2288.5,2926.1 2294.5,2925.6 2300.5,2924.9 2306.5,2924.5 2312.5,2925.2 2318.5,2925.1 2324.5,2925.5" fill="none" stroke="#ff0000" stroke-width="2.9" stroke-linejoin="round" stroke-linecap="round"/>
<polyline points="1904.5,2993.2 1905.5,2993.2 1906.5,2964.4 1907.5,2945.7 1908.5,2934.1 1909.5,2926.7 1910.5,2922.6 1911.5,2920.9 1912.5,2920.3 1913.5,2919.8 1914.5,2918.6 1920.5,2917.4 1926.5,2917.1 1932.5,2916.4 1938.5,2915.7 1944.5,2915.8 1950.5,2915.8 1956.5,2916.1 1962.5,2915.5 1968.5,2915.4 1974.5,2915 1980.5,2915.5 1986.5,2915.6 1992.5,2916.1 1998.5,2916.3 2004.5,2915.9 2010.5,2915.1 2016.5,2914.7 2022.5,2913.9 2028.5,2913.7 2034.5,2914.6 2040.5,2913.9 2046.5,2913.7 2052.5,2913.9 2058.5,2913.5 2064.5,2914.3 2070.5,2914.2 2076.5,2915 2082.5,2915.5 2088.5,2915.8 2094.5,2915.4 2100.5,2914.7 2106.5,2914.1 2112.5,2913.4 2118.5,2913.3 2124.5,2913.8 2130.5,2914.1 2136.5,2913.7 2142.5,2913.4 2148.5,2912.8 2154.5,2912.8 2160.5,2912.5 2166.5,2913.2 2172.5,2913.4 2178.5,2913 2184.5,2913.1 2190.5,2912.6 2196.5,2912 2202.5,2912.7 2208.5,2913.1 2214.5,2913.3 2220.5,2913.1 2226.5,2912.8 2232.5,2913.1 2238.5,2913.2 2244.5,2912.8 2250.5,2913.1 2256.5,2913.4 2262.5,2913.6 2268.5,2913.2 2274.5,2912.3 2280.5,2912.2 2286.5,2912.4 2292.5,2912.7 2298.5,2912.3 2304.5,2912.5 2310.5,2913.9 2316.5,2917.1 2322.5,2920.4" fill="none" stroke="#ff0000" stroke-width="2.9" stroke-linejoin="round" stroke-linecap="round"/>
<polyline points="1660.4,2984 1661.4,2983.5 1665.9,2948.5 1670.4,2921.1 1674.9,2899.9 1679.4,2883.3 1683.9,2870.5 1688.4,2861.1 1692.9,2852.9 1697.4,2846.8 1701.9,2842.4 1706.4,2839.6 1710.9,2836.7 1715.4,2835.3 1719.9,2833.4 1724.4,2831.4 1728.9,2830.4 1733.4,2829 1737.9,2828.3 1743.9,2828.4 1749.9,2828.5 1755.9,2828.2 1761.9,2827.9 1767.9,2827.8 1773.9,2827.7 1779.9,2827.9 1785.9,2828 1791.9,2828 1797.9,2828.3 1803.9,2829.1 1809.9,2829.1 1815.9,2829.9 1821.9,2829.2 1827.9,2830.1 1833.9,2830.4 1839.9,2831 1845.9,2830.7 1851.9,2830.4 1857.9,2830.7 1863.9,2831.4 1869.9,2831.7 1875.9,2831.1 1881.9,2831.2 1887.9,2831.7 1893.9,2831 1899.9,2831.7 1905.9,2831 1911.9,2831.8 1917.9,2831.2 1923.9,2831.9 1929.9,2832.4 1935.9,2831.7 1941.9,2831.6 1947.9,2831.7 1953.9,2831.9 1959.9,2832.2 1965.9,2832.9 1971.9,2832.3 1977.9,2832.7 1983.9,2832.1 1989.9,2832.2 1995.9,2831.9 2001.9,2832 2007.9,2832.4 2013.9,2833.1 2019.9,2833.4 2025.9,2832.6 2031.9,2833.4 2037.9,2833 2043.9,2832.7 2049.9,2832.9 2055.9,2833.2 2061.9,2833.6 2067.9,2833 2073.9,2832.8 2079.9,2833.5 2085.9,2833.7 2091.9,2833.3 2097.9,2833.1 2103.9,2833.8 2109.9,2834 2115.9,2834.1 2121.9,2834.1 2127.9,2833.4 2133.9,2833.7 2139.9,2834.5 2145.9,2835.2 2151.9,2835.4 2157.9,2834.7 2163.9,2834.2 2169.9,2834.5 2175.9,2834.6 2181.9,2835.4 2187.9,2835.4 2193.9,2836.1 2199.9,2835.5 2205.9,2835.5 2211.9,2834.8 2217.9,2834.9 2223.9,2835.5 2229.9,2835.8 2235.9,2835.2 2241.9,2835.5 2247.9,2835.5 2253.9,2835.6 2259.9,2835.6 2265.9,2835.2 2271.9,2835.8 2277.9,2836.5 2283.9,2836.3 2289.9,2836.1 2295.9,2835.8 2301.9,2836.6 2307.9,2836.5 2313.9,2835.9 2319.9,2836.4" fill="none" stroke="#ff0000" stroke-width="2.9" stroke-linejoin="round" stroke-linecap="round"/>
<polyline points="1951.4,2998.3 1952.4,2998.3 1953.9,2955.6 1955.4,2922.9 1956.9,2897 1958.4,2876.7 1959.9,2860.9 1961.4,2848.8 1962.9,2838.7 1964.4,2832 1965.9,2825.8 1967.4,2821.3 1968.9,2817.4 1970.4,2815 1971.9,2813.5 1973.4,2811.6 1974.9,2810.4 1976.4,2808.8 1977.9,2808.7 1983.9,2807.1 1989.9,2805.4 1995.9,2805.4 2001.9,2805.6 2007.9,2805.6 2013.9,2804.7 2019.9,2805.3 2025.9,2805 2031.9,2804.6 2037.9,2804 2043.9,2803.7 2049.9,2804.4 2055.9,2804.8 2061.9,2804.6 2067.9,2805.1 2073.9,2805 2079.9,2805.1 2085.9,2804.6 2091.9,2805.1 2097.9,2804.9 2103.9,2804.4 2109.9,2804 2115.9,2804.3 2121.9,2803.6 2127.9,2803.7 2133.9,2803.8 2139.9,2802.9 2145.9,2802.6 2151.9,2802.8 2157.9,2803.2 2163.9,2803.3 2169.9,2802.7 2175.9,2801.7 2181.9,2801.5 2187.9,2801.6 2193.9,2801.4 2199.9,2801.2 2205.9,2801.4 2211.9,2800.6 2217.9,2799.8 2223.9,2800 2229.9,2800.1 2235.9,2800.4 2241.9,2800.1 2247.9,2799.9 2253.9,2800.3 2259.9,2799.7 2265.9,2799.8 2271.9,2799.4 2277.9,2798.8 2283.9,2798.7 2289.9,2798.6 2295.9,2798.5 2301.9,2799 2307.9,2799.2 2313.9,2798.3 2319.9,2797.7" fill="none" stroke="#ff0000" stroke-width="2.9" stroke-linejoin="round" stroke-linecap="round"/>
<polyline points="1993.1,2992.4 1994.1,2992.4 1995.6,2949.6 1997.1,2916.7 1998.6,2891.8 2000.1,2872.5 2001.6,2857.2 2003.1,2845.5 2004.6,2836.1 2006.1,2828.7 2007.6,2822 2009.1,2817.5 2010.6,2813.8 2012.1,2811.3 2013.6,2808.4 2015.1,2806.2 2016.6,2805.5 2018.1,2803.9 2019.6,2803.2 2025.6,2801.8 2031.6,2800.9 2037.6,2800.9 2043.6,2800.3 2049.6,2799.5 2055.6,2799.4 2061.6,2799.2 2067.6,2798.7 2073.6,2798.6 2079.6,2798.2 2085.6,2798.3 2091.6,2798.5 2097.6,2797.5 2103.6,2797.3 2109.6,2796.4 2115.6,2795.9 2121.6,2796 2127.6,2795.4 2133.6,2795.7 2139.6,2794.9 2145.6,2794.3 2151.6,2793.7 2157.6,2793.6 2163.6,2793 2169.6,2792.3 2175.6,2792.7 2181.6,2792.7 2187.6,2792.6 2193.6,2792.5 2199.6,2791.9 2205.6,2792.2 2211.6,2792.1 2217.6,2792.5 2223.6,2791.6 2229.6,2791.4 2235.6,2791.5 2241.6,2790.9 2247.6,2791.2 2253.6,2790.6 2259.6,2791.2 2265.6,2791.6 2271.6,2791.9 2277.6,2790.9 2283.6,2790.3 2289.6,2789.2 2295.6,2789.7 2301.6,2790.3 2307.6,2789.7 2313.6,2789.9 2319.6,2789" fill="none" stroke="#ff0000" stroke-width="2.9" stroke-linejoin="round" stroke-linecap="round"/>
<polyline points="1651.3,2974.7 1652.3,2974.7 1653.3,2953.9 1654.3,2937.3 1655.3,2924.6 1656.3,2914.7 1657.3,2907 1658.3,2901.3 1659.3,2895.8 1660.3,2892.3 1661.3,2888.7 1662.3,2886.6 1663.3,2884.5 1664.3,2882.5 1665.3,2881.4 1666.3,2880.1 1667.3,2879.8 1668.3,2880.1 1669.3,2880.6 1675.3,2879.6 1681.3,2879 1687.3,2878.5 1693.3,2879.1 1699.3,2879 1705.3,2879.3 1711.3,2879.9 1717.3,2879.2 1723.3,2879.8 1729.3,2879.4 1735.3,2880 1741.3,2880.7 1747.3,2881.5 1753.3,2881.2 1759.3,2880.6 1765.3,2880.6 1771.3,2880.4 1777.3,2880.3 1783.3,2880.8 1789.3,2880.1 1795.3,2880.5 1801.3,2880.2 1807.3,2880.4 1813.3,2879.7 1819.3,2880.5 1825.3,2880.7 1831.3,2880.3 1837.3,2880.5 1843.3,2881.2 1849.3,2881.3 1855.3,2881 1861.3,2881.6 1867.3,2881.8 1873.3,2881.2 1879.3,2882 1885.3,2882.6 1891.3,2881.9 1897.3,2882.5 1903.3,2881.6 1909.3,2881.1 1915.3,2881.5 1921.3,2882.3 1927.3,2882.2 1933.3,2882.5 1939.3,2882.3 1945.3,2882.3 1951.3,2882.7 1957.3,2882.7 1963.3,2881.9 1969.3,2881.2 1975.3,2880.9 1981.3,2881.5 1987.3,2882.2 1993.3,2882 1999.3,2881.9 2005.3,2882.1 2011.3,2882.3 2017.3,2882.6 2023.3,2883.3 2029.3,2883 2035.3,2883.1 2041.3,2883 2047.3,2882.4 2053.3,2882.5 2059.3,2882.4 2065.3,2882.1 2071.3,2882.5 2077.3,2883.3 2083.3,2883.2 2089.3,2883.2 2095.3,2883.6 2101.3,2883.5 2107.3,2883 2113.3,2883.3 2119.3,2883.9 2125.3,2884.4 2131.3,2883.9 2137.3,2883.7 2143.3,2883.1 2149.3,2883.5 2155.3,2884.1 2161.3,2883.4 2167.3,2884.2 2173.3,2884.7 2179.3,2885.4 2185.3,2885.3 2191.3,2884.4 2197.3,2885.1 2203.3,2885.6 2209.3,2884.8 2215.3,2884 2221.3,2884.1 2227.3,2884.8 2233.3,2884.3 2239.3,2885.2 2245.3,2885.7 2251.3,2885.1 2257.3,2885.2 2263.3,2884.5 2269.3,2884.3 2275.3,2884.4 2281.3,2884.3 2287.3,2884.7 2293.3,2885.2 2299.3,2884.6 2305.3,2885.4 2311.3,2886.2 2317.3,2886.6 2323.3,2886.1" fill="none" stroke="#ff0000" stroke-width="2.9" stroke-linejoin="round" stroke-linecap="round"/>
<polyline points="2214.2,2972.4 2215.2,2971.9 2216.7,2958.9 2218.2,2947.7 2219.7,2939.2 2221.2,2932.2 2222.7,2927.4 2224.2,2923.5 2225.7,2920.8 2227.2,2917.9 2228.7,2915.7 2230.2,2913.5 2231.7,2912.4 2233.2,2911.4 2234.7,2910.4 2236.2,2909.6 2237.7,2909 2239.2,2909.7 2240.7,2910 2246.7,2909 2252.7,2908.6 2258.7,2908.5 2264.7,2909.3 2270.7,2909.1 2276.7,2909.6 2282.7,2910.3 2288.7,2910.1 2294.7,2910.5 2300.7,2910.9 2306.7,2911.5 2312.7,2911.9 2318.7,2912.5 2324.7,2912.8" fill="none" stroke="#ff0000" stroke-width="2.9" stroke-linejoin="round" stroke-linecap="round"/>
<polyline points="1583.8,2970.8 1584.8,2970.7 1587.3,2946.1 1589.8,2926.2 1592.3,2910.9 1594.8,2898.5 1597.3,2889.9 1599.8,2882.3 1602.3,2877.6 1604.8,2873.7 1607.3,2870.7 1609.8,2868 1612.3,2866.7 1614.8,2865.5 1617.3,2864.9 1619.8,2863.8 1622.3,2863.1 1624.8,2862.3 1627.3,2862.4 1633.3,2861.2 1639.3,2860.3 1645.3,2859.5 1651.3,2858.6 1657.3,2858.6 1663.3,2858.1 1669.3,2857.8 1675.3,2858.4 1681.3,2858.4 1687.3,2858.7 1693.3,2859.2 1699.3,2859.4 1705.3,2858.8 1711.3,2858.6 1717.3,2858.4 1723.3,2857.9 1729.3,2857.3 1735.3,2857.7 1741.3,2857.2 1747.3,2858 1753.3,2858 1759.3,2857.6 1765.3,2857.3 1771.3,2857.7 1777.3,2857.6 1783.3,2858.2 1789.3,2858.8 1795.3,2859 1801.3,2859.4 1807.3,2859.6 1813.3,2859.8 1819.3,2859.2 1825.3,2859.4 1831.3,2859.2 1837.3,2859.4 1843.3,2859.2 1849.3,2859.4 1855.3,2860 1861.3,2859.6 1867.3,2859 1873.3,2858.8 1879.3,2858.5 1885.3,2859.3 1891.3,2859.1 1897.3,2859.8 1903.3,2860.5 1909.3,2860.5 1915.3,2860.6 1921.3,2861.2 1927.3,2861.2 1933.3,2860.7 1939.3,2860.6 1945.3,2859.9 1951.3,2860.2 1957.3,2859.5 1963.3,2859.6 1969.3,2859.6 1975.3,2859.2 1981.3,2860 1987.3,2860.3 1993.3,2860.2 1999.3,2860.1 2005.3,2860.7 2011.3,2861.3 2017.3,2861.6 2023.3,2861.1 2029.3,2861.4 2035.3,2860.6 2041.3,2859.8 2047.3,2859.4 2053.3,2859.3 2059.3,2858.7 2065.3,2858.1 2071.3,2857.7 2077.3,2858.3 2083.3,2858.8 2089.3,2858.5 2095.3,2859.4 2101.3,2859.8 2107.3,2859.4 2113.3,2860.1 2119.3,2860.4 2125.3,2861.1 2131.3,2861.6 2137.3,2861.1 2143.3,2860.3 2149.3,2860 2155.3,2860.7 2161.3,2861.3 2167.3,2861.3 2173.3,2860.8 2179.3,2861.4 2185.3,2861.7 2191.3,2862.2 2197.3,2862.1 2203.3,2862.2 2209.3,2861.4 2215.3,2860.8 2221.3,2860.1 2227.3,2860.2 2233.3,2859.8 2239.3,2859.7 2245.3,2860.2 2251.3,2860.7 2257.3,2860.1 2263.3,2859.6 2269.3,2860.3 2275.3,2859.5 2281.3,2860.1 2287.3,2859.3 2293.3,2859.2 2299.3,2859.5 2305.3,2859.4 2311.3,2860.2 2317.3,2859.4 2323.3,2859" fill="none" stroke="#ff0000" stroke-width="2.9" stroke-linejoin="round" stroke-linecap="round"/>
<polyline points="1919.5,2988.3 1920.5,2988.3 1921.5,2932.6 1922.5,2898.1 1923.5,2877.9 1924.5,2864.9 1925.5,2857 1926.5,2852.7 1927.5,2849.9 1928.5,2848.1 1929.5,2847.6 1935.5,2846.9 1941.5,2847.5 1947.5,2846.9 1953.5,2846.4 1959.5,2846.2 1965.5,2846 1971.5,2846.8 1977.5,2847.1 1983.5,2847.1 1989.5,2848 1995.5,2848.2 2001.5,2848.3 2007.5,2848.1 2013.5,2847.8 2019.5,2848.3 2025.5,2848.7 2031.5,2848.7 2037.5,2848.8 2043.5,2848.1 2049.5,2847.5 2055.5,2848.2 2061.5,2848.5 2067.5,2848.5 2073.5,2848.2 2079.5,2848.4 2085.5,2847.8 2091.5,2848.8 2097.5,2848.6 2103.5,2848.4 2109.5,2847.9 2115.5,2848.4 2121.5,2848.7 2127.5,2848.5 2133.5,2848.6 2139.5,2849 2145.5,2848.4 2151.5,2849.2 2157.5,2848.8 2163.5,2848.8 2169.5,2848.3 2175.5,2849.4 2181.5,2849.7 2187.5,2850.6 2193.5,2850.3 2199.5,2850.5 2205.5,2850.5 2211.5,2851.2 2217.5,2851.4 2223.5,2852.1 2229.5,2851.9 2235.5,2851.4 2241.5,2851.3 2247.5,2850.8 2253.5,2850.6 2259.5,2850.2 2265.5,2850.9 2271.5,2850.7 2277.5,2851.9 2283.5,2852.5 2289.5,2853 2295.5,2854 2301.5,2854 2307.5,2853.4 2313.5,2854.3 2319.5,2854.4" fill="none" stroke="#ff0000" stroke-width="2.9" stroke-linejoin="round" stroke-linecap="round"/>
<polyline points="2147.2,2993.3 2148.2,2993.3 2152.7,2969.5 2157.2,2950.1 2161.7,2936.1 2166.2,2923.8 2170.7,2914.7 2175.2,2908.4 2179.7,2902.6 2184.2,2898.3 2188.7,2895.2 2193.2,2893 2197.7,2891 2202.2,2889.9 2206.7,2888.4 2211.2,2887.7 2215.7,2886.3 2220.2,2885.6 2224.7,2885.4 2230.7,2884.3 2236.7,2883.4 2242.7,2883.7 2248.7,2883.5 2254.7,2883.7 2260.7,2883.2 2266.7,2883.8 2272.7,2884.1 2278.7,2883.9 2284.7,2884 2290.7,2884.3 2296.7,2883.4 2302.7,2883.5 2308.7,2883.9 2314.7,2884.5 2320.7,2884.2" fill="none" stroke="#ff0000" stroke-width="2.9" stroke-linejoin="round" stroke-linecap="round"/>
<polyline points="1531.9,2969.3 1532.9,2969.3 1550.4,2963 1567.9,2958.1 1585.4,2955 1602.9,2951.4 1620.4,2949.4 1637.9,2947.5 1655.4,2946.4 1672.9,2945.5 1690.4,2945.2 1707.9,2945.5 1725.4,2946.3 1742.9,2946.4 1760.4,2946.6 1777.9,2946.7 1795.4,2947.9 1812.9,2948.2 1830.4,2947.9 1836.4,2947.6 1842.4,2948 1848.4,2947.8 1854.4,2947.7 1860.4,2948.5 1866.4,2948.2 1872.4,2949.2 1878.4,2949.8 1884.4,2950.4 1890.4,2950.6 1896.4,2950.9 1902.4,2950.3 1908.4,2950.8 1914.4,2950.2 1920.4,2949.9 1926.4,2949.6 1932.4,2950.4 1938.4,2950.9 1944.4,2950.8 1950.4,2951 1956.4,2950.7 1962.4,2951.6 1968.4,2951.1 1974.4,2951.3 1980.4,2951.6 1986.4,2952.7 1992.4,2953.1 1998.4,2952.5 2004.4,2953.3 2010.4,2953.1 2016.4,2954.1 2022.4,2953.5 2028.4,2953 2034.4,2952.8 2040.4,2953.5 2046.4,2954.1 2052.4,2954.4 2058.4,2954.4 2064.4,2954.6 2070.4,2954.5 2076.4,2954.9 2082.4,2955.8 2088.4,2955.9 2094.4,2956.4 2100.4,2955.6 2106.4,2956.6 2112.4,2956.7 2118.4,2956.2 2124.4,2956.2 2130.4,2956.4 2136.4,2956 2142.4,2956 2148.4,2956.4 2154.4,2955.8 2160.4,2956.8 2166.4,2957.7 2172.4,2958.4 2178.4,2958.9 2184.4,2959.2 2190.4,2958.9 2196.4,2959.6 2202.4,2959.5 2208.4,2960.2 2214.4,2959.8 2220.4,2959.2 2226.4,2959.8 2232.4,2959.1 2238.4,2959.5 2244.4,2960.3 2250.4,2960 2256.4,2960.4 2262.4,2961 2268.4,2960.6 2274.4,2960.3 2280.4,2960.4 2286.4,2959.8 2292.4,2960.1 2298.4,2959.9 2304.4,2960.4 2310.4,2961.1 2316.4,2961.3 2322.4,2961.7" fill="none" stroke="#ff0000" stroke-width="2.9" stroke-linejoin="round" stroke-linecap="round"/>
<polyline points="2234.1,2988.4 2235.1,2988.4 2252.6,2982.2 2270.1,2976.6 2287.6,2972.2 2305.1,2969.6 2322.6,2966.4" fill="none" stroke="#ff0000" stroke-width="2.9" stroke-linejoin="round" stroke-linecap="round"/>
<polyline points="1646.3,2986.8 1647.3,2986.6 1648.3,2947.5 1649.3,2922.6 1650.3,2908.1 1651.3,2899.8 1652.3,2894.8 1653.3,2891.3 1654.3,2889.4 1655.3,2888.6 1656.3,2888.1 1662.3,2887.2 1668.3,2886.1 1674.3,2885.2 1680.3,2884.2 1686.3,2883.9 1692.3,2884.5 1698.3,2884 1704.3,2884.4 1710.3,2883.8 1716.3,2883 1722.3,2882.9 1728.3,2882.3 1734.3,2882.2 1740.3,2881.7 1746.3,2881.2 1752.3,2880.8 1758.3,2881.3 1764.3,2881.4 1770.3,2880.7 1776.3,2881.3 1782.3,2881.1 1788.3,2880.9 1794.3,2881.1 1800.3,2881.9 1806.3,2881.9 1812.3,2881.1 1818.3,2880.5 1824.3,2880.1 1830.3,2880 1836.3,2879.9 1842.3,2879.7 1848.3,2880 1854.3,2879.3 1860.3,2878.9 1866.3,2878.6 1872.3,2879 1878.3,2879.1 1884.3,2879.6 1890.3,2879.4 1896.3,2878.9 1902.3,2878.5 1908.3,2878.2 1914.3,2880.2 1920.3,2881.3 1926.3,2883.1 1932.3,2884.4 1938.3,2884.9 1944.3,2886.4 1950.3,2888 1956.3,2889.5 1962.3,2890.9 1968.3,2891.8 1974.3,2891.9 1980.3,2892.7 1986.3,2894 1992.3,2895.2 1998.3,2896.6 2004.3,2898.2 2010.3,2899.3 2016.3,2900.6 2022.3,2901.8 2028.3,2901.9 2034.3,2902.3 2040.3,2902.3 2046.3,2902.5 2052.3,2902.5 2058.3,2903.7 2064.3,2905 2070.3,2906.4 2076.3,2906.9 2082.3,2907.2 2088.3,2908.4 2094.3,2908.6 2100.3,2909.9 2106.3,2910.4 2112.3,2911.8 2118.3,2912.9 2124.3,2912.8 2130.3,2913.8 2136.3,2914.6 2142.3,2915.4 2148.3,2915.4 2154.3,2916.9 2160.3,2917.7 2166.3,2917.7 2172.3,2918.8 2178.3,2919.7 2184.3,2919.6 2190.3,2920.5 2196.3,2921.5 2202.3,2922.2 2208.3,2922.5 2214.3,2922.4 2220.3,2923.4 2226.3,2923.7 2232.3,2924.3 2238.3,2924.4 2244.3,2924.5 2250.3,2925.9 2256.3,2926.5 2262.3,2927.6 2268.3,2928 2274.3,2929.3 2280.3,2930.5 2286.3,2930.7 2292.3,2931.3 2298.3,2932.2 2304.3,2932.2 2310.3,2932.1 2316.3,2932.3 2322.3,2932.2" fill="none" stroke="#ff0000" stroke-width="2.9" stroke-linejoin="round" stroke-linecap="round"/>
<polyline points="1634,2971.7 1635,2971.7 1636,2938.3 1637,2917.7 1638,2904.4 1639,2896.6 1640,2892.5 1641,2890.4 1642,2888.1 1643,2887.1 1644,2886 1650,2884.5 1656,2884.4 1662,2884.1 1668,2884.8 1674,2885.5 1680,2884.9 1686,2884.7 1692,2884.8 1698,2885.2 1704,2885.8 1710,2885.3 1716,2885 1722,2885.8 1728,2886.3 1734,2885.4 1740,2884.9 1746,2885.6 1752,2885.2 1758,2885.7 1764,2885.5 1770,2884.8 1776,2884.7 1782,2885.6 1788,2885.6 1794,2885.4 1800,2885.7 1806,2885.7 1812,2885.4 1818,2885.1 1824,2884.6 1830,2884.5 1836,2884.4 1842,2884.7 1848,2884.9 1854,2884.3 1860,2884.3 1866,2883.9 1872,2883.6 1878,2883.7 1884,2883.6 1890,2883.1 1896,2883.5 1902,2884.4 1908,2884.7 1914,2885.1 1920,2886 1926,2886.4 1932,2887.1 1938,2887.4 1944,2887.4 1950,2888 1956,2888.6 1962,2888.2 1968,2887.5 1974,2887.1 1980,2887 1986,2887.5 1992,2886.7 1998,2886.4 2004,2886.7 2010,2887 2016,2886.7 2022,2887 2028,2887.2 2034,2886.9 2040,2886.5 2046,2886.3 2052,2886.5 2058,2886.1 2064,2886.4 2070,2887.4 2076,2887.9 2082,2888.4 2088,2888.7 2094,2888.9 2100,2890.1 2106,2891 2112,2891.8 2118,2893.1 2124,2893.5 2130,2894.1 2136,2894.9 2142,2895.3 2148,2895.6 2154,2896.5 2160,2898.1 2166,2898.7 2172,2899.2 2178,2900.2 2184,2901.4 2190,2901.4 2196,2902.8 2202,2904.2 2208,2905.5 2214,2906.5 2220,2906.4 2226,2907.8 2232,2908.8 2238,2909.5 2244,2909.4 2250,2910.3 2256,2910.5 2262,2911.4 2268,2911.7 2274,2912.2 2280,2913.1 2286,2913.9 2292,2913.7 2298,2913.6 2304,2914.2 2310,2914.4 2316,2914.6 2322,2915.2" fill="none" stroke="#ff0000" stroke-width="2.9" stroke-linejoin="round" stroke-linecap="round"/>
<polyline points="2244.5,2975.7 2245.5,2975.7 2250,2964.7 2254.5,2956.4 2259,2950 2263.5,2944.6 2268,2940.6 2272.5,2937.9 2277,2935.7 2281.5,2934.2 2286,2932 2290.5,2931.6 2295,2929.8 2299.5,2929.6 2304,2928.6 2308.5,2927.8 2313,2927.9 2317.5,2927.6 2322,2927.2" fill="none" stroke="#ff0000" stroke-width="2.9" stroke-linejoin="round" stroke-linecap="round"/>
<polyline points="2142,2986.8 2143,2986.8 2147.5,2956.7 2152,2934.4 2156.5,2917.2 2161,2902.7 2165.5,2891.7 2170,2882.7 2174.5,2875.7 2179,2871 2183.5,2867 2188,2864.3 2192.5,2862.3 2197,2860.6 2201.5,2859.6 2206,2858.9 2210.5,2858.2 2215,2856.9 2219.5,2856.2 2225.5,2854.6 2231.5,2853.6 2237.5,2853.1 2243.5,2852.5 2249.5,2852.8 2255.5,2852.5 2261.5,2851.8 2267.5,2851.7 2273.5,2851.6 2279.5,2851.1 2285.5,2850.2 2291.5,2850.4 2297.5,2850.5 2303.5,2849.7 2309.5,2849.1 2315.5,2848.7 2321.5,2848.6" fill="none" stroke="#ff0000" stroke-width="2.9" stroke-linejoin="round" stroke-linecap="round"/>
<polyline points="2066.6,2969.3 2067.6,2969.3 2085.1,2955.1 2102.6,2943.9 2120.1,2935.4 2137.6,2928.9 2155.1,2924.1 2172.6,2920.8 2190.1,2917.4 2207.6,2914.2 2225.1,2911.9 2242.6,2911 2260.1,2910.3 2277.6,2909.3 2295.1,2909.2 2312.6,2908" fill="none" stroke="#ff0000" stroke-width="2.9" stroke-linejoin="round" stroke-linecap="round"/>
<polyline points="2214.2,2981.9 2215.2,2981.5 2217.7,2968.3 2220.2,2957.6 2222.7,2949.4 2225.2,2943.7 2227.7,2939 2230.2,2935.1 2232.7,2932.1 2235.2,2930.7 2237.7,2929.2 2240.2,2927.6 2242.7,2927.5 2245.2,2926.7 2247.7,2926.5 2250.2,2925.8 2252.7,2925.2 2255.2,2924.3 2257.7,2924.1 2263.7,2924 2269.7,2923.6 2275.7,2923.5 2281.7,2923.8 2287.7,2924.5 2293.7,2924.1 2299.7,2924.4 2305.7,2923.7 2311.7,2924.4 2317.7,2924.7 2323.7,2924.1" fill="none" stroke="#ff0000" stroke-width="2.9" stroke-linejoin="round" stroke-linecap="round"/>
<polyline points="1911.1,2969.6 1912.1,2969.4 1913.6,2937 1915.1,2912 1916.6,2892.5 1918.1,2877.7 1919.6,2865.3 1921.1,2855.7 1922.6,2847.9 1924.1,2841.9 1925.6,2837.6 1927.1,2835 1928.6,2832.1 1930.1,2830 1931.6,2828.6 1933.1,2826.8 1934.6,2825.3 1936.1,2824.9 1937.6,2824.4 1943.6,2823.9 1949.6,2823.5 1955.6,2823.4 1961.6,2823.9 1967.6,2824.4 1973.6,2824.9 1979.6,2824.6 1985.6,2824.2 1991.6,2824.6 1997.6,2824.7 2003.6,2823.7 2009.6,2823.8 2015.6,2824 2021.6,2823 2027.6,2823.1 2033.6,2822.4 2039.6,2822.3 2045.6,2822.7 2051.6,2822.1 2057.6,2822.4 2063.6,2822.8 2069.6,2822.1 2075.6,2822.7 2081.6,2822.8 2087.6,2823.2 2093.6,2822.6 2099.6,2821.7 2105.6,2821.5 2111.6,2821.6 2117.6,2821 2123.6,2821.4 2129.6,2821.9 2135.6,2822.4 2141.6,2821.6 2147.6,2820.8 2153.6,2821.1 2159.6,2821.1 2165.6,2820.3 2171.6,2820 2177.6,2819.7 2183.6,2818.9 2189.6,2818.1 2195.6,2818.9 2201.6,2819.6 2207.6,2819.7 2213.6,2819.7 2219.6,2819 2225.6,2819.2 2231.6,2819.1 2237.6,2818.7 2243.6,2817.8 2249.6,2817.3 2255.6,2817.2 2261.6,2817.6 2267.6,2818.2 2273.6,2818.8 2279.6,2818.6 2285.6,2818 2291.6,2818.2 2297.6,2817.6 2303.6,2817.6 2309.6,2816.7 2315.6,2817 2321.6,2816.6" fill="none" stroke="#ff0000" stroke-width="2.9" stroke-linejoin="round" stroke-linecap="round"/>
<polyline points="1492.7,2976.2 1493.7,2975.7 1496.2,2930.4 1498.7,2895.4 1501.2,2867.9 1503.7,2846.8 1506.2,2829.8 1508.7,2816 1511.2,2806.3 1513.7,2798.2 1516.2,2791.7 1518.7,2787.8 1521.2,2783.4 1523.7,2780.7 1526.2,2778.9 1528.7,2776.6 1531.2,2775.3 1533.7,2774.6 1536.2,2773.7 1542.2,2772.3 1548.2,2772.1 1554.2,2771.8 1560.2,2771.4 1566.2,2771.4 1572.2,2772 1578.2,2772.6 1584.2,2772.3 1590.2,2772.7 1596.2,2772.2 1602.2,2772.3 1608.2,2772.4 1614.2,2771.6 1620.2,2771.7 1626.2,2772.4 1632.2,2772.7 1638.2,2772.5 1644.2,2771.9 1650.2,2772.2 1656.2,2771.3 1662.2,2771.6 1668.2,2771 1674.2,2770.4 1680.2,2770.1 1686.2,2769.7 1692.2,2770.3 1698.2,2770.1 1704.2,2770.2 1710.2,2770.2 1716.2,2770.9 1722.2,2771.2 1728.2,2770.9 1734.2,2770.6 1740.2,2771.3 1746.2,2770.9 1752.2,2770.4 1758.2,2770 1764.2,2770.3 1770.2,2770.5 1776.2,2771.2 1782.2,2771.1 1788.2,2771.8 1794.2,2771.3 1800.2,2772 1806.2,2771.5 1812.2,2770.9 1818.2,2771.7 1824.2,2772.3 1830.2,2772.4 1836.2,2772.8 1842.2,2772.1 1848.2,2772.4 1854.2,2771.5 1860.2,2771 1866.2,2770.7 1872.2,2771 1878.2,2771.4 1884.2,2771.9 1890.2,2772.6 1896.2,2771.8 1902.2,2771.7 1908.2,2772.1 1914.2,2772.7 1920.2,2773.1 1926.2,2773.3 1932.2,2773.5 1938.2,2772.9 1944.2,2772.8 1950.2,2772.8 1956.2,2771.8 1962.2,2772 1968.2,2772.4 1974.2,2771.7 1980.2,2771.2 1986.2,2771.3 1992.2,2771.2 1998.2,2771.2 2004.2,2771.6 2010.2,2770.7 2016.2,2770.5 2022.2,2770.3 2028.2,2769.8 2034.2,2769.3 2040.2,2769.7 2046.2,2770.3 2052.2,2770.6 2058.2,2769.8 2064.2,2770 2070.2,2769.6 2076.2,2769.7 2082.2,2769 2088.2,2769.3 2094.2,2769.8 2100.2,2770.4 2106.2,2770.4 2112.2,2769.6 2118.2,2770.3 2124.2,2770.4 2130.2,2769.6 2136.2,2769.8 2142.2,2770.3 2148.2,2770.4 2154.2,2771.2 2160.2,2770.8 2166.2,2771.3 2172.2,2770.8 2178.2,2770.8 2184.2,2770.4 2190.2,2770.4 2196.2,2770.9 2202.2,2771.4 2208.2,2771.2 2214.2,2771.6 2220.2,2771.4 2226.2,2771.4 2232.2,2771.7 2238.2,2771.6 2244.2,2770.6 2250.2,2770.2 2256.2,2769.9 2262.2,2770.3 2268.2,2770.6 2274.2,2771.3 2280.2,2771 2286.2,2771 2292.2,2770.3 2298.2,2770 2304.2,2769.6 2310.2,2769.2 2316.2,2769.6 2322.2,2769.8" fill="none" stroke="#ff0000" stroke-width="2.9" stroke-linejoin="round" stroke-linecap="round"/>
<polyline points="2005.4,2983.8 2006.4,2983 2008.9,2970.6 2011.4,2960.7 2013.9,2953.3 2016.4,2948 2018.9,2943.6 2021.4,2939.9 2023.9,2937.8 2026.4,2934.8 2028.9,2933.8 2031.4,2932 2033.9,2930.9 2036.4,2930.8 2038.9,2930 2041.4,2929.7 2043.9,2929.7 2046.4,2930 2048.9,2928.8 2054.9,2928.1 2060.9,2928.3 2066.9,2927.9 2072.9,2927.4 2078.9,2927.3 2084.9,2926.9 2090.9,2926.7 2096.9,2926.9 2102.9,2926.5 2108.9,2926.5 2114.9,2927.3 2120.9,2926.4 2126.9,2926.1 2132.9,2926.2 2138.9,2926.7 2144.9,2926 2150.9,2925.2 2156.9,2925.2 2162.9,2925.6 2168.9,2925 2174.9,2925.2 2180.9,2924.8 2186.9,2924.2 2192.9,2923.8 2198.9,2924.4 2204.9,2924.7 2210.9,2924.1 2216.9,2924.8 2222.9,2925.1 2228.9,2925.8 2234.9,2926.4 2240.9,2926.8 2246.9,2926 2252.9,2925.9 2258.9,2925.5 2264.9,2925.7 2270.9,2924.8 2276.9,2925.2 2282.9,2924.6 2288.9,2925.3 2294.9,2924.9 2300.9,2924.5 2306.9,2924.4 2312.9,2923.6 2318.9,2923.2 2324.9,2923" fill="none" stroke="#ff0000" stroke-width="2.9" stroke-linejoin="round" stroke-linecap="round"/>
<polyline points="2267.1,2997.6 2268.1,2997.6 2285.6,2965.8 2303.1,2940.7 2320.6,2921.4" fill="none" stroke="#ff0000" stroke-width="2.9" stroke-linejoin="round" stroke-linecap="round"/>
<polyline points="2236.7,2981.1 2237.7,2980.7 2238.7,2962.6 2239.7,2948.9 2240.7,2937.5 2241.7,2928.4 2242.7,2921.5 2243.7,2916 2244.7,2911.5 2245.7,2908.9 2246.7,2906 2247.7,2903.9 2248.7,2903.1 2249.7,2902.6 2250.7,2902.3 2251.7,2900.9 2252.7,2900.9 2253.7,2899.8 2254.7,2898.8 2260.7,2897.9 2266.7,2898.4 2272.7,2898.5 2278.7,2897.8 2284.7,2898.6 2290.7,2898.7 2296.7,2898.9 2302.7,2898.2 2308.7,2898.4 2314.7,2898.2 2320.7,2898.7" fill="none" stroke="#ff0000" stroke-width="2.9" stroke-linejoin="round" stroke-linecap="round"/>
<polyline points="1826.3,2990.4 1827.3,2990.4 1836,2977.4 1844.8,2966.7 1853.5,2958.6 1862.3,2951.7 1871,2947.4 1879.8,2944.1 1888.5,2941.1 1897.3,2939.5 1906,2938.2 1914.8,2936.4 1923.5,2934.6 1932.3,2933.9 1941,2934 1949.8,2934 1958.5,2933.5 1967.3,2932.3 1976,2932.6 1982,2932.7 1988,2932.9 1994,2932.1 2000,2931.4 2006,2931.8 2012,2931.7 2018,2931 2024,2931 2030,2930.9 2036,2930.1 2042,2929.6 2048,2930.2 2054,2930.6 2060,2930 2066,2930.5 2072,2930.1 2078,2929.9 2084,2929.3 2090,2928.8 2096,2928.9 2102,2928.5 2108,2929.2 2114,2929.8 2120,2929.8 2126,2929.6 2132,2929.2 2138,2928.6 2144,2928.6 2150,2929 2156,2928.8 2162,2928.2 2168,2927.8 2174,2927.9 2180,2928.1 2186,2928.7 2192,2928.6 2198,2929 2204,2928.7 2210,2928.6 2216,2929.1 2222,2928.3 2228,2928.2 2234,2928.5 2240,2929.3 2246,2928.5 2252,2928.5 2258,2929.2 2264,2929.2 2270,2929.3 2276,2929.6 2282,2929.5 2288,2928.8 2294,2928.6 2300,2928.6 2306,2929.2 2312,2928.4 2318,2928 2324,2928.4" fill="none" stroke="#ff0000" stroke-width="2.9" stroke-linejoin="round" stroke-linecap="round"/>
<polyline points="2011.2,2981.4 2012.2,2980.9 2014.7,2968.1 2017.2,2958.7 2019.7,2950.6 2022.2,2944.8 2024.7,2939.8 2027.2,2935.8 2029.7,2933.5 2032.2,2930.6 2034.7,2928.9 2037.2,2927.9 2039.7,2926.6 2042.2,2925.1 2044.7,2924.5 2047.2,2924.5 2049.7,2923.9 2052.2,2923.8 2054.7,2922.9 2060.7,2923.2 2066.7,2922.9 2072.7,2922.5 2078.7,2923.3 2084.7,2922.9 2090.7,2922.9 2096.7,2922.8 2102.7,2922.5 2108.7,2923.4 2114.7,2924 2120.7,2924.3 2126.7,2923.7 2132.7,2923.4 2138.7,2923.5 2144.7,2923.9 2150.7,2924.1 2156.7,2924.3 2162.7,2924.4 2168.7,2923.8 2174.7,2924.2 2180.7,2924.9 2186.7,2924.7 2192.7,2924.3 2198.7,2925.2 2204.7,2925.5 2210.7,2924.7 2216.7,2924.4 2222.7,2924.2 2228.7,2924 2234.7,2923.5 2240.7,2923.1 2246.7,2924 2252.7,2924.7 2258.7,2925.1 2264.7,2925.4 2270.7,2925.4 2276.7,2925.8 2282.7,2925.3 2288.7,2925.6 2294.7,2925.5 2300.7,2924.9 2306.7,2925.5 2312.7,2925.7 2318.7,2925.9 2324.7,2925.2" fill="none" stroke="#ff0000" stroke-width="2.9" stroke-linejoin="round" stroke-linecap="round"/>
<polyline points="1993.1,2997.5 1994.1,2997.5 1995.1,2955.6 1996.1,2929.7 1997.1,2914.4 1998.1,2904.8 1999.1,2898.8 2000.1,2894.8 2001.1,2893.5 2002.1,2891.7 2003.1,2891.6 2009.1,2890.4 2015.1,2889.8 2021.1,2890.3 2027.1,2889.5 2033.1,2889.6 2039.1,2889.5 2045.1,2889.7 2051.1,2890.1 2057.1,2889.5 2063.1,2889.3 2069.1,2888.6 2075.1,2888.5 2081.1,2887.7 2087.1,2887.1 2093.1,2886.3 2099.1,2886.5 2105.1,2887.2 2111.1,2886.4 2117.1,2886.9 2123.1,2886.3 2129.1,2885.6 2135.1,2886.1 2141.1,2886 2147.1,2885.2 2153.1,2884.8 2159.1,2884.6 2165.1,2884 2171.1,2883.8 2177.1,2883.3 2183.1,2883.9 2189.1,2883.5 2195.1,2883 2201.1,2883.7 2207.1,2884.1 2213.1,2883.8 2219.1,2883.1 2225.1,2883.7 2231.1,2883.2 2237.1,2882.9 2243.1,2882.6 2249.1,2882.7 2255.1,2882.8 2261.1,2883 2267.1,2882.8 2273.1,2883 2279.1,2883.6 2285.1,2882.7 2291.1,2882.5 2297.1,2881.8 2303.1,2882 2309.1,2882.1 2315.1,2881.6 2321.1,2881.9" fill="none" stroke="#ff0000" stroke-width="2.9" stroke-linejoin="round" stroke-linecap="round"/>
<polyline points="2284.8,2969.8 2285.8,2969 2287.3,2916.8 2288.8,2875.7 2290.3,2844 2291.8,2819.4 2293.3,2799.9 2294.8,2785.2 2296.3,2773.4 2297.8,2763.6 2299.3,2755.8 2300.8,2749.9 2302.3,2746.4 2303.8,2742.7 2305.3,2741 2306.8,2739.5 2308.3,2738.5 2309.8,2736.8 2311.3,2735.8 2317.3,2732.9 2323.3,2731.9" fill="none" stroke="#ff0000" stroke-width="2.9" stroke-linejoin="round" stroke-linecap="round"/>
<polyline points="1673.8,2991.6 1674.8,2991.6 1692.3,2961.8 1709.8,2938.8 1727.3,2920.3 1744.8,2906.1 1762.3,2895.8 1779.8,2886.8 1797.3,2880.3 1814.8,2875.3 1832.3,2871.5 1849.8,2868.4 1867.3,2865.7 1884.8,2863.6 1902.3,2862 1919.8,2860.6 1937.3,2860.6 1954.8,2860.9 1972.3,2860.9 1978.3,2861.1 1984.3,2861 1990.3,2860.7 1996.3,2861.3 2002.3,2861.2 2008.3,2861.6 2014.3,2861.8 2020.3,2861.8 2026.3,2861.7 2032.3,2862 2038.3,2862.8 2044.3,2863.1 2050.3,2863.5 2056.3,2863.5 2062.3,2863.4 2068.3,2862.6 2074.3,2862.9 2080.3,2862.9 2086.3,2863.5 2092.3,2864.2 2098.3,2864.1 2104.3,2864.4 2110.3,2864.2 2116.3,2864.2 2122.3,2864.2 2128.3,2864 2134.3,2863.4 2140.3,2863.1 2146.3,2863 2152.3,2863.3 2158.3,2863.4 2164.3,2862.9 2170.3,2863.8 2176.3,2864.1 2182.3,2863.4 2188.3,2863.9 2194.3,2864.4 2200.3,2865 2206.3,2864.3 2212.3,2864.1 2218.3,2863.9 2224.3,2863.6 2230.3,2863 2236.3,2862.7 2242.3,2863.3 2248.3,2863.3 2254.3,2863.5 2260.3,2863.1 2266.3,2862.6 2272.3,2862.6 2278.3,2862.5 2284.3,2862.4 2290.3,2862.7 2296.3,2863.9 2302.3,2864.4 2308.3,2864.5 2314.3,2865.1 2320.3,2865" fill="none" stroke="#ff0000" stroke-width="2.9" stroke-linejoin="round" stroke-linecap="round"/>
<polyline points="2053.3,2985.7 2054.3,2985.7 2055.3,2965.2 2056.3,2950.6 2057.3,2940 2058.3,2931.8 2059.3,2926.5 2060.3,2921.9 2061.3,2918.5 2062.3,2917.2 2063.3,2915 2064.3,2914 2065.3,2913.9 2066.3,2913.4 2067.3,2913.1 2073.3,2912.1 2079.3,2911.8 2085.3,2911.1 2091.3,2910.6 2097.3,2910.4 2103.3,2910.1 2109.3,2910.5 2115.3,2911.1 2121.3,2911.3 2127.3,2911.7 2133.3,2911.6 2139.3,2910.9 2145.3,2910.8 2151.3,2911.1 2157.3,2910.4 2163.3,2910.3 2169.3,2909.8 2175.3,2909.8 2181.3,2909.4 2187.3,2909.3 2193.3,2910.2 2199.3,2909.6 2205.3,2909.3 2211.3,2909.5 2217.3,2909.1 2223.3,2909.1 2229.3,2908.7 2235.3,2909.3 2241.3,2910.1 2247.3,2909.6 2253.3,2909.4 2259.3,2910.2 2265.3,2910.9 2271.3,2910.6 2277.3,2910.7 2283.3,2911.2 2289.3,2911 2295.3,2910.8 2301.3,2911.7 2307.3,2912.6 2313.3,2912.3 2319.3,2912.2" fill="none" stroke="#ff0000" stroke-width="2.9" stroke-linejoin="round" stroke-linecap="round"/>
<polyline points="2021.7,2974.5 2022.7,2974.1 2031.4,2961.2 2040.2,2951.4 2048.9,2944.2 2057.7,2938.7 2066.4,2934.6 2075.2,2931.3 2083.9,2928.3 2092.7,2925.5 2101.4,2923.7 2110.2,2922.7 2118.9,2921.8 2127.7,2920.9 2136.4,2919.7 2145.2,2918.7 2153.9,2918.1 2162.7,2918.4 2168.7,2918.2 2174.7,2917.9 2180.7,2918.6 2186.7,2918.8 2192.7,2919 2198.7,2918.5 2204.7,2918.2 2210.7,2918.4 2216.7,2918 2222.7,2917.8 2228.7,2917.2 2234.7,2916.7 2240.7,2916.6 2246.7,2917.3 2252.7,2916.8 2258.7,2917.7 2264.7,2918.2 2270.7,2917.5 2276.7,2917.3 2282.7,2917.4 2288.7,2917 2294.7,2917.8 2300.7,2917.7 2306.7,2918.1 2312.7,2918.4 2318.7,2918 2324.7,2918.5" fill="none" stroke="#ff0000" stroke-width="2.9" stroke-linejoin="round" stroke-linecap="round"/>
<polyline points="1586.3,2975.5 1587.3,2975.5 1604.8,2967.3 1622.3,2959.9 1639.8,2953.9 1657.3,2950.1 1674.8,2947.3 1692.3,2944.4 1709.8,2943.1 1727.3,2941.6 1744.8,2941 1762.3,2940.3 1779.8,2940.3 1797.3,2939.4 1814.8,2939.4 1832.3,2939.1 1849.8,2938.2 1867.3,2938.8 1884.8,2938.8 1890.8,2938.8 1896.8,2937.9 1902.8,2938.2 1908.8,2937.4 1914.8,2937 1920.8,2936.3 1926.8,2936.6 1932.8,2937.4 1938.8,2937.4 1944.8,2937.3 1950.8,2937 1956.8,2937.9 1962.8,2938.1 1968.8,2937.5 1974.8,2937.2 1980.8,2937.9 1986.8,2937.2 1992.8,2937.2 1998.8,2936.6 2004.8,2936.2 2010.8,2937 2016.8,2937.2 2022.8,2937.2 2028.8,2936.8 2034.8,2936.1 2040.8,2935.9 2046.8,2936.8 2052.8,2936.9 2058.8,2937.1 2064.8,2937.2 2070.8,2937.2 2076.8,2937.3 2082.8,2937.4 2088.8,2936.9 2094.8,2936.5 2100.8,2937.3 2106.8,2937.9 2112.8,2938 2118.8,2938.3 2124.8,2938 2130.8,2938.8 2136.8,2939 2142.8,2939.1 2148.8,2939.1 2154.8,2939.1 2160.8,2938.6 2166.8,2938.9 2172.8,2939.5 2178.8,2939.8 2184.8,2939.1 2190.8,2939.7 2196.8,2939 2202.8,2939 2208.8,2939.5 2214.8,2940.1 2220.8,2940.2 2226.8,2940.2 2232.8,2940.5 2238.8,2939.7 2244.8,2939.6 2250.8,2938.8 2256.8,2939.5 2262.8,2939.3 2268.8,2938.6 2274.8,2938.9 2280.8,2938.6 2286.8,2937.9 2292.8,2937.4 2298.8,2937.2 2304.8,2936.9 2310.8,2937.8 2316.8,2937.5 2322.8,2937.9" fill="none" stroke="#ff0000" stroke-width="2.9" stroke-linejoin="round" stroke-linecap="round"/>
<polyline points="1986.5,2993.3 1987.5,2992.7 1989,2979.3 1990.5,2970 1992,2963 1993.5,2957 1995,2952.2 1996.5,2948.3 1998,2945.8 1999.5,2943.4 2001,2941.6 2002.5,2940.7 2004,2940.1 2005.5,2938.8 2007,2937.6 2008.5,2937.5 2010,2937.7 2011.5,2936.8 2013,2936.6 2019,2936.7 2025,2936.4 2031,2936.8 2037,2936.6 2043,2937 2049,2936.5 2055,2936.4 2061,2936 2067,2936.3 2073,2935.7 2079,2935.6 2085,2934.7 2091,2934.1 2097,2934.9 2103,2935 2109,2935.6 2115,2935.7 2121,2935.2 2127,2934.5 2133,2934.8 2139,2935.3 2145,2935.8 2151,2936.4 2157,2935.7 2163,2936.3 2169,2936.8 2175,2937.4 2181,2937.3 2187,2936.4 2193,2936.3 2199,2935.6 2205,2935.9 2211,2935.3 2217,2935.4 2223,2935.4 2229,2936 2235,2935.7 2241,2935.8 2247,2936.2 2253,2935.7 2259,2936.2 2265,2935.3 2271,2935.3 2277,2935.3 2283,2935.2 2289,2935.1 2295,2935.5 2301,2934.8 2307,2933.9 2313,2933.8 2319,2933.7 2325,2932.9" fill="none" stroke="#ff0000" stroke-width="2.9" stroke-linejoin="round" stroke-linecap="round"/>
<polyline points="1678.1,2997.9 1679.1,2997.2 1680.1,2870.7 1681.1,2794.7 1682.1,2747.9 1683.1,2719.4 1684.1,2702.5 1685.1,2692.1 1686.1,2686.2 1687.1,2682.5 1688.1,2680.4 1694.1,2676.9 1700.1,2676.4 1706.1,2676.8 1712.1,2676.7 1718.1,2675.8 1724.1,2675.9 1730.1,2675.8 1736.1,2675.4 1742.1,2674.6 1748.1,2674.7 1754.1,2674.2 1760.1,2673.4 1766.1,2673.8 1772.1,2674 1778.1,2673.1 1784.1,2673.1 1790.1,2672.9 1796.1,2673.2 1802.1,2673 1808.1,2672 1814.1,2671.6 1820.1,2671.3 1826.1,2671.4 1832.1,2671 1838.1,2671.1 1844.1,2671.5 1850.1,2671.7 1856.1,2677.9 1862.1,2691.5 1868.1,2704.2 1874.1,2716.6 1880.1,2728.4 1886.1,2740.3 1892.1,2751.5 1898.1,2761.9 1904.1,2772.5 1910.1,2782.2 1916.1,2791.1 1922.1,2799.4 1928.1,2808.6 1934.1,2816.9 1940.1,2824.3 1946.1,2831.9 1952.1,2839.7 1958.1,2847.2 1964.1,2853.4 1970.1,2859 1976.1,2865.5 1982.1,2870.9 1988.1,2877 1994.1,2882 2000.1,2886.5 2006.1,2890.6 2012.1,2895.8 2018.1,2900.4 2024.1,2904.2 2030.1,2907.5 2036.1,2911.5 2042.1,2915.9 2048.1,2920 2054.1,2923.5 2060.1,2926.3 2066.1,2928.5 2072.1,2932.3 2078.1,2935.4 2084.1,2938.5 2090.1,2941.4 2096.1,2943.1 2102.1,2945.4 2108.1,2947.4 2114.1,2950.2 2120.1,2953 2126.1,2954.9 2132.1,2957.3 2138.1,2958.8 2144.1,2960.1 2150.1,2961.3 2156.1,2962.5 2162.1,2963.4 2168.1,2964.3 2174.1,2966.5 2180.1,2968.1 2186.1,2969.4 2192.1,2969.9 2198.1,2970.7 2204.1,2972.3 2210.1,2973.9 2216.1,2974.2 2222.1,2975 2228.1,2975.4 2234.1,2976.1 2240.1,2977.5 2246.1,2978.5 2252.1,2979.4 2258.1,2980.8 2264.1,2982.3 2270.1,2982.9 2276.1,2984.1 2282.1,2985.3 2288.1,2986.3 2294.1,2986.4 2300.1,2987.6 2306.1,2988.2 2312.1,2988.5 2318.1,2989.3 2324.1,2988.9" fill="none" stroke="#ff0000" stroke-width="2.9" stroke-linejoin="round" stroke-linecap="round"/>
<polyline points="1656.5,2987.8 1657.5,2987.8 1658.5,2961.9 1659.5,2942.7 1660.5,2927.6 1661.5,2916 1662.5,2907.1 1663.5,2899.4 1664.5,2894 1665.5,2888.6 1666.5,2884.5 1667.5,2881.4 1668.5,2879.5 1669.5,2878.6 1670.5,2877.2 1671.5,2875.8 1672.5,2874.3 1673.5,2873.3 1674.5,2873 1680.5,2871.5 1686.5,2871.4 1692.5,2871 1698.5,2871 1704.5,2870.9 1710.5,2870.6 1716.5,2871 1722.5,2871.8 1728.5,2871.5 1734.5,2871.2 1740.5,2871.2 1746.5,2871.2 1752.5,2870.6 1758.5,2870.4 1764.5,2869.6 1770.5,2870.3 1776.5,2870.1 1782.5,2870.1 1788.5,2870.8 1794.5,2870.2 1800.5,2871.1 1806.5,2870.9 1812.5,2870.1 1818.5,2869.6 1824.5,2869.5 1830.5,2869.3 1836.5,2869.5 1842.5,2869.2 1848.5,2869.4 1854.5,2868.8 1860.5,2868.6 1866.5,2868.1 1872.5,2868.3 1878.5,2867.8 1884.5,2867.5 1890.5,2867.3 1896.5,2868.3 1902.5,2868.5 1908.5,2868.4 1914.5,2869.3 1920.5,2869.4 1926.5,2869 1932.5,2869.4 1938.5,2869.1 1944.5,2869 1950.5,2868.3 1956.5,2867.7 1962.5,2867.4 1968.5,2868.1 1974.5,2869 1980.5,2869.8 1986.5,2869.1 1992.5,2869.6 1998.5,2869.3 2004.5,2868.9 2010.5,2868.4 2016.5,2869.2 2022.5,2869.1 2028.5,2868.5 2034.5,2868.5 2040.5,2867.9 2046.5,2868.3 2052.5,2867.7 2058.5,2867.6 2064.5,2867.4 2070.5,2866.9 2076.5,2867.1 2082.5,2867.3 2088.5,2867 2094.5,2867 2100.5,2867.6 2106.5,2867.3 2112.5,2867.1 2118.5,2868 2124.5,2867.7 2130.5,2868.5 2136.5,2868.7 2142.5,2868.2 2148.5,2867.6 2154.5,2867.4 2160.5,2867.2 2166.5,2867.4 2172.5,2867.7 2178.5,2868.3 2184.5,2867.5 2190.5,2867 2196.5,2867.3 2202.5,2867.3 2208.5,2867.4 2214.5,2868.3 2220.5,2868.9 2226.5,2868.4 2232.5,2868.7 2238.5,2868.3 2244.5,2868.7 2250.5,2868.7 2256.5,2868.5 2262.5,2868.1 2268.5,2868.4 2274.5,2867.6 2280.5,2867.4 2286.5,2868 2292.5,2868.2 2298.5,2868.6 2304.5,2868.3 2310.5,2868 2316.5,2868.1 2322.5,2868.5" fill="none" stroke="#ff0000" stroke-width="2.9" stroke-linejoin="round" stroke-linecap="round"/>
<polyline points="1866.4,2980.3 1867.4,2980.3 1868.4,2965.6 1869.4,2953.6 1870.4,2944.5 1871.4,2938.1 1872.4,2932.6 1873.4,2928.3 1874.4,2924.7 1875.4,2922.2 1876.4,2920 1877.4,2917.9 1878.4,2916.5 1879.4,2915.3 1880.4,2914.8 1881.4,2914.1 1882.4,2913.3 1883.4,2912.5 1884.4,2912.3 1890.4,2911.7 1896.4,2912 1902.4,2912.4 1908.4,2912.8 1914.4,2912.7 1920.4,2913.5 1926.4,2913.2 1932.4,2913.8 1938.4,2913 1944.4,2912.6 1950.4,2913.2 1956.4,2913.2 1962.4,2912.6 1968.4,2911.8 1974.4,2911.4 1980.4,2911.9 1986.4,2912.5 1992.4,2912.9 1998.4,2913.6 2004.4,2915 2010.4,2915.8 2016.4,2916.2 2022.4,2916.2 2028.4,2916.1 2034.4,2916.2 2040.4,2916.8 2046.4,2918.3 2052.4,2918.2 2058.4,2919.7 2064.4,2920.3 2070.4,2920.2 2076.4,2921.5 2082.4,2921.4 2088.4,2922.6 2094.4,2923.5 2100.4,2924 2106.4,2924 2112.4,2925 2118.4,2924.8 2124.4,2925.4 2130.4,2926.1 2136.4,2926.6 2142.4,2926.5 2148.4,2927.4 2154.4,2928.7 2160.4,2929.8 2166.4,2929.8 2172.4,2929.8 2178.4,2929.6 2184.4,2930.4 2190.4,2930.1 2196.4,2931.4 2202.4,2932.1 2208.4,2932.1 2214.4,2931.8 2220.4,2933 2226.4,2932.8 2232.4,2932.9 2238.4,2932.8 2244.4,2932.8 2250.4,2932.9 2256.4,2933.6 2262.4,2934.1 2268.4,2933.9 2274.4,2935.4 2280.4,2936.6 2286.4,2936.6 2292.4,2937.3 2298.4,2937.3 2304.4,2937.9 2310.4,2937.9 2316.4,2938.4 2322.4,2939.6" fill="none" stroke="#ff0000" stroke-width="2.9" stroke-linejoin="round" stroke-linecap="round"/>
<polyline points="2104.4,2981.1 2105.4,2981.1 2107.9,2965.4 2110.4,2952.3 2112.9,2941.3 2115.4,2932.8 2117.9,2926.3 2120.4,2922.3 2122.9,2918.4 2125.4,2915.9 2127.9,2914.1 2130.4,2912.9 2132.9,2912.2 2135.4,2910.5 2137.9,2910.1 2140.4,2908.8 2142.9,2908.3 2145.4,2908.5 2147.9,2908.1 2153.9,2907.5 2159.9,2907.1 2165.9,2906.1 2171.9,2905.8 2177.9,2906.2 2183.9,2905.8 2189.9,2905.7 2195.9,2905.2 2201.9,2905.9 2207.9,2905.9 2213.9,2905.2 2219.9,2904.9 2225.9,2905.3 2231.9,2905.7 2237.9,2905.6 2243.9,2905.8 2249.9,2905.9 2255.9,2907.4 2261.9,2908 2267.9,2908.9 2273.9,2909.8 2279.9,2910 2285.9,2910.1 2291.9,2910.7 2297.9,2910.8 2303.9,2911.3 2309.9,2912 2315.9,2913.2 2321.9,2913.9" fill="none" stroke="#ff0000" stroke-width="2.9" stroke-linejoin="round" stroke-linecap="round"/>
<polyline points="1712.5,2996.1 1713.5,2995.8 1714.5,2947.6 1715.5,2910.7 1716.5,2881.3 1717.5,2858.6 1718.5,2840.5 1719.5,2827.7 1720.5,2817.9 1721.5,2810 1722.5,2803.6 1723.5,2798 1724.5,2793.9 1725.5,2791.1 1726.5,2788.6 1727.5,2786.7 1728.5,2785.9 1729.5,2784.4 1730.5,2784.1 1736.5,2781.2 1742.5,2780.4 1748.5,2780.6 1754.5,2780.8 1760.5,2781.2 1766.5,2781.3 1772.5,2780.6 1778.5,2780.1 1784.5,2779.7 1790.5,2779.9 1796.5,2779.5 1802.5,2780 1808.5,2780.5 1814.5,2780.2 1820.5,2780.6 1826.5,2780.5 1832.5,2780.9 1838.5,2781.4 1844.5,2781 1850.5,2781.5 1856.5,2781.9 1862.5,2781.2 1868.5,2780.6 1874.5,2780.2 1880.5,2780.4 1886.5,2780.8 1892.5,2780.2 1898.5,2781.1 1904.5,2780.5 1910.5,2780.5 1916.5,2780.2 1922.5,2779.7 1928.5,2779.3 1934.5,2779.6 1940.5,2780.4 1946.5,2780.2 1952.5,2780.4 1958.5,2779.8 1964.5,2780.2 1970.5,2779.8 1976.5,2779.4 1982.5,2779.6 1988.5,2780 1994.5,2779.6 2000.5,2780.5 2006.5,2781 2012.5,2781.8 2018.5,2781.8 2024.5,2782.1 2030.5,2782.2 2036.5,2782.7 2042.5,2782.7 2048.5,2782.1 2054.5,2782 2060.5,2782.7 2066.5,2782.3 2072.5,2782.5 2078.5,2782.1 2084.5,2781.5 2090.5,2781.3 2096.5,2782 2102.5,2781.3 2108.5,2781.9 2114.5,2782 2120.5,2782 2126.5,2781.2 2132.5,2781.7 2138.5,2781.1 2144.5,2780.4 2150.5,2780.8 2156.5,2780.4 2162.5,2780.4 2168.5,2780.9 2174.5,2781.2 2180.5,2780.7 2186.5,2780.2 2192.5,2779.6 2198.5,2780.4 2204.5,2780.3 2210.5,2781 2216.5,2781.8 2222.5,2782.1 2228.5,2781.7 2234.5,2781.6 2240.5,2782.3 2246.5,2781.7 2252.5,2782.1 2258.5,2781.8 2264.5,2781.1 2270.5,2781.5 2276.5,2781.8 2282.5,2782.5 2288.5,2782.4 2294.5,2781.9 2300.5,2781.9 2306.5,2781.6 2312.5,2782.3 2318.5,2782.5 2324.5,2782.4" fill="none" stroke="#ff0000" stroke-width="2.9" stroke-linejoin="round" stroke-linecap="round"/>
<polyline points="2191.6,2974.3 2192.6,2973.9 2210.1,2966.7 2227.6,2960.5 2245.1,2956.1 2262.6,2951.7 2280.1,2948 2297.6,2945.6 2315.1,2943.9" fill="none" stroke="#ff0000" stroke-width="2.9" stroke-linejoin="round" stroke-linecap="round"/>
<polyline points="1481.6,2976.1 1482.6,2976.1 1483.6,2939 1484.6,2912.3 1485.6,2892.6 1486.6,2877.9 1487.6,2867.3 1488.6,2860.1 1489.6,2855.4 1490.6,2851.9 1491.6,2848.6 1492.6,2847.4 1493.6,2845.7 1494.6,2845.1 1495.6,2844 1501.6,2842.3 1507.6,2842.3 1513.6,2841.5 1519.6,2840.8 1525.6,2840.9 1531.6,2840.5 1537.6,2840.2 1543.6,2840.2 1549.6,2839.6 1555.6,2838.9 1561.6,2839.2 1567.6,2839.5 1573.6,2839.3 1579.6,2840.1 1585.6,2840 1591.6,2839.2 1597.6,2838.9 1603.6,2839.1 1609.6,2839.4 1615.6,2839.8 1621.6,2839.7 1627.6,2840.4 1633.6,2839.7 1639.6,2839.5 1645.6,2839.7 1651.6,2839.9 1657.6,2840.4 1663.6,2839.4 1669.6,2838.9 1675.6,2838.7 1681.6,2838.3 1687.6,2838.4 1693.6,2837.7 1699.6,2837.3 1705.6,2837.8 1711.6,2837.7 1717.6,2837.9 1723.6,2837.8 1729.6,2837.8 1735.6,2837.3 1741.6,2837.5 1747.6,2837.1 1753.6,2836.7 1759.6,2836.3 1765.6,2836.8 1771.6,2836.8 1777.6,2837.5 1783.6,2838.1 1789.6,2837.3 1795.6,2836.7 1801.6,2837.4 1807.6,2837.5 1813.6,2836.8 1819.6,2835.8 1825.6,2836.5 1831.6,2836.3 1837.6,2836.8 1843.6,2836.8 1849.6,2836.1 1855.6,2836.5 1861.6,2837.1 1867.6,2837.2 1873.6,2836.5 1879.6,2836.2 1885.6,2835.2 1891.6,2835.5 1897.6,2835 1903.6,2834.8 1909.6,2833.9 1915.6,2833.7 1921.6,2833.1 1927.6,2832.3 1933.6,2831.6 1939.6,2831.1 1945.6,2831.8 1951.6,2831.5 1957.6,2832.1 1963.6,2832.4 1969.6,2832 1975.6,2832.2 1981.6,2831.5 1987.6,2831.1 1993.6,2830.4 1999.6,2829.8 2005.6,2830.6 2011.6,2830.6 2017.6,2830.3 2023.6,2830.6 2029.6,2830.5 2035.6,2830.1 2041.6,2830.1 2047.6,2830 2053.6,2830.3 2059.6,2830.1 2065.6,2829.5 2071.6,2830.4 2077.6,2830.6 2083.6,2831.3 2089.6,2831.8 2095.6,2831.6 2101.6,2831.8 2107.6,2830.9 2113.6,2831.2 2119.6,2831.8 2125.6,2832.1 2131.6,2832.4 2137.6,2831.4 2143.6,2830.9 2149.6,2830.2 2155.6,2830.8 2161.6,2830.1 2167.6,2830.7 2173.6,2831.2 2179.6,2830.6 2185.6,2830.4 2191.6,2830.8 2197.6,2830.3 2203.6,2829.6 2209.6,2829.3 2215.6,2829.8 2221.6,2830.2 2227.6,2830.6 2233.6,2829.6 2239.6,2829.6 2245.6,2829.8 2251.6,2830.1 2257.6,2829.4 2263.6,2829.4 2269.6,2829.6 2275.6,2828.8 2281.6,2827.9 2287.6,2827.6 2293.6,2826.8 2299.6,2826.4 2305.6,2826 2311.6,2825.3 2317.6,2824.7 2323.6,2824.4" fill="none" stroke="#ff0000" stroke-width="2.9" stroke-linejoin="round" stroke-linecap="round"/>
<polyline points="1742.9,2971.4 1743.9,2971.3 1748.4,2939.4 1752.9,2914.3 1757.4,2895.5 1761.9,2880.5 1766.4,2868.1 1770.9,2859.6 1775.4,2852.4 1779.9,2847.4 1784.4,2842.7 1788.9,2839 1793.4,2836.7 1797.9,2834 1802.4,2833 1806.9,2831.3 1811.4,2830.2 1815.9,2829.1 1820.4,2827.8 1826.4,2827 1832.4,2826.2 1838.4,2826.4 1844.4,2825.6 1850.4,2825.7 1856.4,2825.4 1862.4,2824.9 1868.4,2825.6 1874.4,2825.4 1880.4,2825 1886.4,2825.4 1892.4,2826 1898.4,2825.9 1904.4,2826.1 1910.4,2826.4 1916.4,2826.6 1922.4,2827.2 1928.4,2827.5 1934.4,2827.4 1940.4,2827.9 1946.4,2828.2 1952.4,2828.6 1958.4,2829 1964.4,2828.8 1970.4,2829.1 1976.4,2829.7 1982.4,2829.8 1988.4,2830 1994.4,2829.6 2000.4,2829.8 2006.4,2829.8 2012.4,2829.8 2018.4,2830.2 2024.4,2829.7 2030.4,2830.1 2036.4,2830.1 2042.4,2830.4 2048.4,2830.5 2054.4,2830.4 2060.4,2830 2066.4,2829.1 2072.4,2828.3 2078.4,2828.1 2084.4,2828.2 2090.4,2827.8 2096.4,2828.5 2102.4,2829.2 2108.4,2829 2114.4,2828.8 2120.4,2830.5 2126.4,2831.6 2132.4,2833.4 2138.4,2835.6 2144.4,2837.2 2150.4,2839.4 2156.4,2840.7 2162.4,2842.7 2168.4,2844.1 2174.4,2845.5 2180.4,2848 2186.4,2850.3 2192.4,2851.9 2198.4,2853.9 2204.4,2855.1 2210.4,2857.2 2216.4,2858.4 2222.4,2859.5 2228.4,2861.7 2234.4,2862.7 2240.4,2864.2 2246.4,2865.6 2252.4,2866.9 2258.4,2868.7 2264.4,2870 2270.4,2870.6 2276.4,2872.5 2282.4,2874 2288.4,2875.2 2294.4,2876.7 2300.4,2878.4 2306.4,2879 2312.4,2880.5 2318.4,2881.5 2324.4,2882.8" fill="none" stroke="#ff0000" stroke-width="2.9" stroke-linejoin="round" stroke-linecap="round"/>
<polyline points="2244.7,2983.5 2245.7,2983.5 2248.2,2923.3 2250.7,2876.7 2253.2,2839.6 2255.7,2811 2258.2,2788.1 2260.7,2770.7 2263.2,2757.4 2265.7,2746.4 2268.2,2738 2270.7,2732.2 2273.2,2726.5 2275.7,2721.9 2278.2,2719.6 2280.7,2717.9 2283.2,2716.5 2285.7,2714.9 2288.2,2713.4 2294.2,2711.1 2300.2,2710.9 2306.2,2711.1 2312.2,2710.5 2318.2,2711.1 2324.2,2711.6" fill="none" stroke="#ff0000" stroke-width="2.9" stroke-linejoin="round" stroke-linecap="round"/>
<polyline points="1543.1,2976.8 1544.1,2976.7 1552.9,2949.8 1561.6,2929.2 1570.4,2913.1 1579.1,2899.9 1587.9,2889.7 1596.6,2882.5 1605.4,2875.7 1614.1,2870.1 1622.9,2866.7 1631.6,2862.9 1640.4,2860.3 1649.1,2859.3 1657.9,2857.8 1666.6,2856.9 1675.4,2855.7 1684.1,2855 1692.9,2854.9 1698.9,2855.1 1704.9,2854.4 1710.9,2854.7 1716.9,2853.9 1722.9,2853.6 1728.9,2853.5 1734.9,2853.7 1740.9,2853.4 1746.9,2853.9 1752.9,2853.1 1758.9,2853.2 1764.9,2852.3 1770.9,2852.2 1776.9,2852.8 1782.9,2853 1788.9,2852.3 1794.9,2852 1800.9,2852.6 1806.9,2851.7 1812.9,2850.9 1818.9,2850.6 1824.9,2850.7 1830.9,2851.2 1836.9,2851.3 1842.9,2851.3 1848.9,2850.6 1854.9,2850.3 1860.9,2850.6 1866.9,2851.2 1872.9,2851.4 1878.9,2850.9 1884.9,2851.3 1890.9,2850.6 1896.9,2850.5 1902.9,2850.9 1908.9,2851.2 1914.9,2850.8 1920.9,2850.6 1926.9,2850.4 1932.9,2850 1938.9,2850.3 1944.9,2850 1950.9,2849.9 1956.9,2849.9 1962.9,2849.5 1968.9,2848.9 1974.9,2849.6 1980.9,2850.1 1986.9,2849.7 1992.9,2849.3 1998.9,2849.3 2004.9,2850.1 2010.9,2849.6 2016.9,2849.5 2022.9,2850 2028.9,2850.1 2034.9,2850.3 2040.9,2850.4 2046.9,2850.2 2052.9,2850.1 2058.9,2850.6 2064.9,2850.3 2070.9,2849.8 2076.9,2849.3 2082.9,2849.9 2088.9,2850.1 2094.9,2849.6 2100.9,2849.5 2106.9,2849.5 2112.9,2849.9 2118.9,2850.5 2124.9,2850.3 2130.9,2850.3 2136.9,2850 2142.9,2849.7 2148.9,2848.8 2154.9,2848.5 2160.9,2848.4 2166.9,2848.5 2172.9,2847.9 2178.9,2847.4 2184.9,2846.9 2190.9,2847.4 2196.9,2847.3 2202.9,2846.8 2208.9,2846.7 2214.9,2847.4 2220.9,2847.5 2226.9,2848.1 2232.9,2847.6 2238.9,2847.1 2244.9,2847.7 2250.9,2847.7 2256.9,2847.4 2262.9,2847.9 2268.9,2848.2 2274.9,2848.1 2280.9,2847.3 2286.9,2846.5 2292.9,2846.9 2298.9,2846.5 2304.9,2845.8 2310.9,2846 2316.9,2845.8 2322.9,2846.4" fill="none" stroke="#ff0000" stroke-width="2.9" stroke-linejoin="round" stroke-linecap="round"/>
<polyline points="1776,2972.6 1777,2971.9 1778,2962.7 1779,2955.2 1780,2949 1781,2944.6 1782,2941.1 1783,2938.1 1784,2936.8 1785,2934.9 1786,2933.2 1787,2932.8 1788,2932 1789,2931.4 1790,2930.4 1791,2929.4 1792,2928.8 1793,2929.3 1794,2928.7 1800,2928.5 1806,2929.1 1812,2928.4 1818,2928.7 1824,2929.3 1830,2929.4 1836,2928.6 1842,2928.9 1848,2929.5 1854,2929.5 1860,2929.5 1866,2929.5 1872,2929.8 1878,2930.6 1884,2930.2 1890,2929.8 1896,2929.9 1902,2930.6 1908,2929.8 1914,2930.1 1920,2929.9 1926,2929.5 1932,2929.6 1938,2929 1944,2928.5 1950,2929 1956,2929.9 1962,2930.2 1968,2930 1974,2929.4 1980,2928.9 1986,2929.5 1992,2929.8 1998,2930.7 2004,2930.4 2010,2930.5 2016,2929.9 2022,2930.7 2028,2931.3 2034,2930.9 2040,2931.6 2046,2931.6 2052,2931.9 2058,2931.4 2064,2932 2070,2932.3 2076,2932.2 2082,2931.6 2088,2930.7 2094,2930.8 2100,2931.4 2106,2931.6 2112,2932.2 2118,2931.4 2124,2931 2130,2931.1 2136,2931.2 2142,2931.7 2148,2931.3 2154,2931.2 2160,2931.8 2166,2932.1 2172,2931.6 2178,2931.4 2184,2931.4 2190,2931.1 2196,2931.7 2202,2931.4 2208,2932.1 2214,2932.4 2220,2931.8 2226,2931.3 2232,2931.2 2238,2930.5 2244,2931.3 2250,2931.2 2256,2931.6 2262,2932.4 2268,2932.6 2274,2932.8 2280,2932.3 2286,2931.9 2292,2931.2 2298,2931 2304,2930.6 2310,2930.8 2316,2930.6 2322,2930.8" fill="none" stroke="#ff0000" stroke-width="2.9" stroke-linejoin="round" stroke-linecap="round"/>
<polyline points="1704.8,2979.5 1705.8,2978.9 1706.8,2960.1 1707.8,2944.8 1708.8,2933.9 1709.8,2925.6 1710.8,2919.2 1711.8,2913.2 1712.8,2908.2 1713.8,2904.9 1714.8,2901.7 1715.8,2899.7 1716.8,2897.9 1717.8,2896.4 1718.8,2895.6 1719.8,2895.4 1720.8,2894.6 1721.8,2893.3 1722.8,2893.8 1728.8,2893.5 1734.8,2892.9 1740.8,2892 1746.8,2892 1752.8,2892.8 1758.8,2892.8 1764.8,2892.1 1770.8,2892.6 1776.8,2892.3 1782.8,2893 1788.8,2893.4 1794.8,2892.7 1800.8,2892.1 1806.8,2892.1 1812.8,2892.5 1818.8,2893.1 1824.8,2892.3 1830.8,2891.6 1836.8,2891 1842.8,2891.8 1848.8,2890.9 1854.8,2891.6 1860.8,2891.6 1866.8,2891.9 1872.8,2892.4 1878.8,2892.9 1884.8,2892.7 1890.8,2892.3 1896.8,2892 1902.8,2892.2 1908.8,2891.5 1914.8,2892.3 1920.8,2892.2 1926.8,2891.7 1932.8,2892.3 1938.8,2892.3 1944.8,2892.4 1950.8,2892.9 1956.8,2892.1 1962.8,2891.5 1968.8,2891.7 1974.8,2891 1980.8,2890.3 1986.8,2889.6 1992.8,2890.2 1998.8,2889.7 2004.8,2890.3 2010.8,2889.7 2016.8,2890 2022.8,2889.4 2028.8,2889.8 2034.8,2890.6 2040.8,2890.6 2046.8,2889.9 2052.8,2890.5 2058.8,2891 2064.8,2891.6 2070.8,2891 2076.8,2890.8 2082.8,2890.3 2088.8,2889.6 2094.8,2889 2100.8,2888.9 2106.8,2889.8 2112.8,2889.9 2118.8,2890.2 2124.8,2890.4 2130.8,2889.6 2136.8,2889.6 2142.8,2889.3 2148.8,2888.8 2154.8,2889.1 2160.8,2888.7 2166.8,2888.4 2172.8,2889.2 2178.8,2889.9 2184.8,2889.5 2190.8,2889.4 2196.8,2890 2202.8,2889.5 2208.8,2889.7 2214.8,2889 2220.8,2889 2226.8,2888.4 2232.8,2888.3 2238.8,2888 2244.8,2887.6 2250.8,2887.3 2256.8,2887.6 2262.8,2887.9 2268.8,2888.8 2274.8,2888.8 2280.8,2888.7 2286.8,2888.8 2292.8,2888.1 2298.8,2887.6 2304.8,2888 2310.8,2887.8 2316.8,2888.3 2322.8,2888.8" fill="none" stroke="#ff0000" stroke-width="2.9" stroke-linejoin="round" stroke-linecap="round"/>
<polyline points="2133.5,2998.2 2134.5,2998.2 2135.5,2972.7 2136.5,2954.3 2137.5,2941.9 2138.5,2932.8 2139.5,2925.8 2140.5,2921.4 2141.5,2918.4 2142.5,2915.4 2143.5,2913.3 2144.5,2911.8 2145.5,2910.9 2146.5,2910.2 2147.5,2910.4 2153.5,2909.9 2159.5,2909.6 2165.5,2909.7 2171.5,2909 2177.5,2908.8 2183.5,2908.6 2189.5,2908 2195.5,2908.4 2201.5,2908.7 2207.5,2909 2213.5,2908.3 2219.5,2907.9 2225.5,2907.7 2231.5,2907.3 2237.5,2907.9 2243.5,2909.4 2249.5,2911.3 2255.5,2912.6 2261.5,2914.7 2267.5,2917 2273.5,2919 2279.5,2920.6 2285.5,2922.8 2291.5,2924.2 2297.5,2925.1 2303.5,2926.2 2309.5,2927.3 2315.5,2928.4 2321.5,2930.4" fill="none" stroke="#ff0000" stroke-width="2.9" stroke-linejoin="round" stroke-linecap="round"/>
<polyline points="2009.9,2976.1 2010.9,2975.8 2019.7,2948.3 2028.4,2926.5 2037.2,2909.7 2045.9,2897.3 2054.7,2887.3 2063.4,2879.8 2072.2,2873.6 2080.9,2869.5 2089.7,2865.5 2098.4,2863.3 2107.2,2860.5 2115.9,2858.4 2124.7,2857 2133.4,2856.7 2142.2,2856.2 2150.9,2856.3 2159.7,2855.4 2165.7,2854.7 2171.7,2853.9 2177.7,2854.3 2183.7,2854 2189.7,2854.4 2195.7,2853.8 2201.7,2854.6 2207.7,2855.2 2213.7,2854.4 2219.7,2854.9 2225.7,2854.4 2231.7,2854.4 2237.7,2854.5 2243.7,2854.6 2249.7,2855.3 2255.7,2854.8 2261.7,2855.3 2267.7,2855.2 2273.7,2856.1 2279.7,2856.1 2285.7,2856.6 2291.7,2857.2 2297.7,2857.7 2303.7,2857.7 2309.7,2856.9 2315.7,2857.6 2321.7,2857.5" fill="none" stroke="#ff0000" stroke-width="2.9" stroke-linejoin="round" stroke-linecap="round"/>
<polyline points="1797.4,2977.4 1798.4,2976.9 1799.4,2945.3 1800.4,2921.6 1801.4,2902.2 1802.4,2888 1803.4,2875.8 1804.4,2866.8 1805.4,2860.2 1806.4,2854.3 1807.4,2849.4 1808.4,2846.4 1809.4,2843.8 1810.4,2842.5 1811.4,2840.9 1812.4,2839.7 1813.4,2838.9 1814.4,2838.7 1815.4,2837.9 1821.4,2836.4 1827.4,2836.7 1833.4,2835.9 1839.4,2835.6 1845.4,2836 1851.4,2836.2 1857.4,2835.6 1863.4,2836.3 1869.4,2836.1 1875.4,2836.5 1881.4,2836.9 1887.4,2836 1893.4,2835.6 1899.4,2835.5 1905.4,2835.9 1911.4,2835.3 1917.4,2834.8 1923.4,2835.5 1929.4,2835.6 1935.4,2836.4 1941.4,2836.3 1947.4,2836.9 1953.4,2836.6 1959.4,2836.8 1965.4,2837.2 1971.4,2837.7 1977.4,2837.3 1983.4,2837.2 1989.4,2836.8 1995.4,2836.1 2001.4,2835.6 2007.4,2835.2 2013.4,2835.2 2019.4,2835.2 2025.4,2836 2031.4,2835.9 2037.4,2835.1 2043.4,2834.4 2049.4,2833.6 2055.4,2833.3 2061.4,2833.1 2067.4,2833.6 2073.4,2834.2 2079.4,2834.5 2085.4,2835.1 2091.4,2834.6 2097.4,2834.8 2103.4,2834.7 2109.4,2834.7 2115.4,2834.3 2121.4,2834.8 2127.4,2834.9 2133.4,2835.1 2139.4,2835.1 2145.4,2835.2 2151.4,2835.6 2157.4,2835.6 2163.4,2835.6 2169.4,2836 2175.4,2835.1 2181.4,2834.2 2187.4,2834.8 2193.4,2835 2199.4,2834.5 2205.4,2834.7 2211.4,2834.2 2217.4,2833.6 2223.4,2833.7 2229.4,2833.8 2235.4,2833.3 2241.4,2832.9 2247.4,2833.6 2253.4,2833.8 2259.4,2834.3 2265.4,2834.6 2271.4,2835.1 2277.4,2835.3 2283.4,2835.8 2289.4,2835.5 2295.4,2835.3 2301.4,2835 2307.4,2834.7 2313.4,2835.1 2319.4,2834.7" fill="none" stroke="#ff0000" stroke-width="2.9" stroke-linejoin="round" stroke-linecap="round"/>
<polyline points="2054.7,2974 2055.7,2974 2060.2,2914.4 2064.7,2867.4 2069.2,2830.9 2073.7,2802.4 2078.2,2779.8 2082.7,2761.9 2087.2,2747.9 2091.7,2737.8 2096.2,2728.9 2100.7,2722.8 2105.2,2717.7 2109.7,2713.4 2114.2,2709.8 2118.7,2707.3 2123.2,2706 2127.7,2703.9 2132.2,2703.1 2138.2,2701.8 2144.2,2701 2150.2,2700.3 2156.2,2698.9 2162.2,2698 2168.2,2696.6 2174.2,2696.8 2180.2,2696.3 2186.2,2695.5 2192.2,2694.7 2198.2,2694 2204.2,2694.3 2210.2,2693.7 2216.2,2693.7 2222.2,2693.2 2228.2,2693.1 2234.2,2693.2 2240.2,2693.3 2246.2,2693 2252.2,2693.3 2258.2,2692.1 2264.2,2692.6 2270.2,2692.5 2276.2,2691.3 2282.2,2690.7 2288.2,2690.3 2294.2,2690.7 2300.2,2690.7 2306.2,2689.9 2312.2,2689.8 2318.2,2689 2324.2,2689.1" fill="none" stroke="#ff0000" stroke-width="2.9" stroke-linejoin="round" stroke-linecap="round"/>
<polyline points="2202.7,2986.4 2203.7,2986.4 2208.2,2921.6 2212.7,2871.2 2217.2,2831.2 2221.7,2800.3 2226.2,2776 2230.7,2756.6 2235.2,2742.1 2239.7,2730.4 2244.2,2721.7 2248.7,2714.6 2253.2,2708.3 2257.7,2704.4 2262.2,2701.2 2266.7,2698.5 2271.2,2695.8 2275.7,2694.6 2280.2,2693.5 2286.2,2692.1 2292.2,2691.6 2298.2,2691.1 2304.2,2690.3 2310.2,2690.2 2316.2,2689.9 2322.2,2690" fill="none" stroke="#ff0000" stroke-width="2.9" stroke-linejoin="round" stroke-linecap="round"/>
<polyline points="1789,2985.7 1793,2893.4 1797.1,2853.8 1801.1,2824.4 1805.2,2802.6 1809.2,2785.2 1813.3,2773.1 1817.3,2763.6 1821.4,2757 1825.4,2754 1829.5,2752 1833.5,2753.1 1837.6,2757.3 1841.6,2762.5 1845.7,2769.1 1849.7,2777.5 1853.7,2786.4 1857.8,2798 1861.8,2811.3 1865.9,2824 1869.9,2839.3 1874,2855.2 1878,2873.3 1882.1,2890.5 1886.1,2909.7 1890.2,2931 1894.2,2955.2 1898.3,2986.1" fill="none" stroke="#ff0000" stroke-width="2.9" stroke-linejoin="round" stroke-linecap="round"/>
<polyline points="1879.1,2977.8 1883.2,2957.7 1887.3,2945.7 1891.4,2935 1895.4,2925.6 1899.5,2916.7 1903.6,2909.8 1907.7,2901.8 1911.8,2896.4 1915.8,2890.6 1919.9,2884.8 1924,2881.4 1928.1,2877 1932.1,2872.8 1936.2,2870.8 1940.3,2868.4 1944.4,2866.3 1948.5,2864.2 1952.5,2864.3 1956.6,2864.4 1960.7,2864.4 1964.8,2864.1 1968.9,2865.7 1972.9,2866.5 1977,2869 1981.1,2871 1985.2,2874.2 1989.2,2877 1993.3,2881 1997.4,2885 2001.5,2889.2 2005.6,2894.9 2009.6,2900.1 2013.7,2905.2 2017.8,2911.4 2021.9,2917.5 2025.9,2924.3 2030,2930.6 2034.1,2938.2 2038.2,2946.2 2042.3,2955.1 2046.3,2964.8 2050.4,2978.4" fill="none" stroke="#ff0000" stroke-width="2.9" stroke-linejoin="round" stroke-linecap="round"/>
<polyline points="1588.9,2989.5 1591.2,2892.3 1593.6,2858.9 1595.9,2840.7 1598.2,2833.9 1600.5,2834.9 1602.8,2842.7 1605.1,2856.4 1607.5,2874.3 1609.8,2895 1612.1,2921 1614.4,2949.9 1616.7,2989" fill="none" stroke="#ff0000" stroke-width="2.9" stroke-linejoin="round" stroke-linecap="round"/>
<polyline points="1928.3,2986.6 1932.5,2912.4 1936.7,2889.2 1940.9,2875.1 1945,2866.3 1949.2,2860.9 1953.4,2858.3 1957.6,2859.1 1961.8,2861 1965.9,2864.6 1970.1,2869.4 1974.3,2875.8 1978.5,2882.3 1982.7,2890.8 1986.8,2900.1 1991,2909.3 1995.2,2919.9 1999.4,2930.9 2003.5,2941.5 2007.7,2954.1 2011.9,2968.8 2016.1,2987.6" fill="none" stroke="#ff0000" stroke-width="2.9" stroke-linejoin="round" stroke-linecap="round"/>
<polyline points="2068.7,2981.3 2072.8,2867.8 2076.9,2817.5 2081,2782.7 2085.1,2757.6 2089.1,2738.5 2093.2,2725.4 2097.3,2716.7 2101.4,2713.8 2105.5,2713.2 2109.5,2716.2 2113.6,2722.5 2117.7,2731.1 2121.8,2743.3 2125.9,2757.5 2129.9,2772.9 2134,2790.9 2138.1,2811.4 2142.2,2832.7 2146.3,2856.6 2150.3,2881.8 2154.4,2909.1 2158.5,2940.3 2162.6,2982.3" fill="none" stroke="#ff0000" stroke-width="2.9" stroke-linejoin="round" stroke-linecap="round"/>
<polyline points="2233.2,2987.9 2237.4,2863.1 2241.6,2831.2 2245.9,2818 2250.1,2815.3 2254.3,2819.4 2258.5,2829.3 2262.7,2842.3 2266.9,2859.8 2271.1,2879.7 2275.3,2901.2 2279.5,2925.3 2283.7,2952.5 2287.9,2987.9" fill="none" stroke="#ff0000" stroke-width="2.9" stroke-linejoin="round" stroke-linecap="round"/>
<polyline points="2102.6,2987.9 2106.6,2820 2110.7,2783 2114.7,2766 2118.8,2759.7 2122.8,2760.7 2126.9,2766.9 2131,2777.7 2135,2789.6 2139.1,2804.4 2143.1,2822.5 2147.2,2840.4 2151.2,2860 2155.3,2880.7 2159.3,2904.1 2163.4,2927.5 2167.4,2954.1 2171.5,2987.6" fill="none" stroke="#ff0000" stroke-width="2.9" stroke-linejoin="round" stroke-linecap="round"/>
<polyline points="1832.3,2983.8 1836.4,2940.4 1840.4,2914.5 1844.5,2891.4 1848.5,2871 1852.6,2853.2 1856.6,2836.3 1860.7,2820.6 1864.7,2805.8 1868.8,2793.5 1872.8,2781.7 1876.9,2770.9 1881,2760.9 1885,2751.3 1889.1,2743.1 1893.1,2735.5 1897.2,2729.2 1901.2,2724.1 1905.3,2719.3 1909.3,2715.8 1913.4,2713.6 1917.4,2711.4 1921.5,2710.7 1925.6,2710.1 1929.6,2710 1933.7,2711.2 1937.7,2713.6 1941.8,2717.1 1945.8,2719.7 1949.9,2724.8 1953.9,2730.4 1958,2735.1 1962,2741.7 1966.1,2749.2 1970.2,2756.7 1974.2,2766.3 1978.3,2775.2 1982.3,2784.2 1986.4,2794.5 1990.4,2806.6 1994.5,2818.2 1998.5,2829.9 2002.6,2842.4 2006.6,2856 2010.7,2870.6 2014.8,2886.4 2018.8,2901.6 2022.9,2917.8 2026.9,2936 2031,2956.6 2035,2983.3" fill="none" stroke="#ff0000" stroke-width="2.9" stroke-linejoin="round" stroke-linecap="round"/>
<polyline points="1560.1,2987.8 1564.2,2897.2 1568.3,2852 1572.4,2815.5 1576.5,2787.1 1580.6,2762.9 1584.7,2742.8 1588.8,2726.3 1592.9,2714.2 1597,2703.8 1601.1,2696.5 1605.2,2692 1609.3,2689.5 1613.4,2688.7 1617.5,2691.3 1621.6,2695.6 1625.7,2701.6 1629.8,2708.2 1633.9,2717.9 1638,2729 1642.1,2741.6 1646.2,2756 1650.3,2772.2 1654.4,2788.8 1658.5,2807.3 1662.6,2826.8 1666.7,2848.3 1670.8,2869.5 1674.9,2893.3 1679,2920.1 1683.1,2948 1687.2,2986.6" fill="none" stroke="#ff0000" stroke-width="2.9" stroke-linejoin="round" stroke-linecap="round"/>
<polyline points="1565,2992.4 1569.3,2828.1 1573.6,2773.6 1577.8,2745.7 1582.1,2731.9 1586.4,2729.6 1590.6,2737.2 1594.9,2751.1 1599.1,2770.2 1603.4,2795 1607.7,2824.7 1611.9,2857.5 1616.2,2894.2 1620.4,2936.4 1624.7,2991.5" fill="none" stroke="#ff0000" stroke-width="2.9" stroke-linejoin="round" stroke-linecap="round"/>
<polyline points="2034.7,2972.1 2038.8,2898.1 2042.9,2865.7 2046.9,2843.4 2051,2826.4 2055.1,2811.3 2059.1,2799 2063.2,2788.7 2067.3,2780.5 2071.3,2773.7 2075.4,2769.6 2079.5,2765.5 2083.6,2762.5 2087.6,2759.8 2091.7,2759 2095.8,2759.6 2099.8,2760.2 2103.9,2762.2 2108,2764.8 2112,2767.6 2116.1,2770.6 2120.2,2774.3 2124.2,2780.3 2128.3,2784.4 2132.4,2790.5 2136.5,2797.2 2140.5,2803.7 2144.6,2810.3 2148.7,2819.1 2152.7,2826.1 2156.8,2835.2 2160.9,2843.3 2164.9,2852.4 2169,2861.4 2173.1,2871.2 2177.2,2881.1 2181.2,2891.5 2185.3,2903.1 2189.4,2915.1 2193.4,2926.3 2197.5,2938.7 2201.6,2953.9 2205.6,2973" fill="none" stroke="#ff0000" stroke-width="2.9" stroke-linejoin="round" stroke-linecap="round"/>
<polyline points="2095.1,2980 2099.2,2938.5 2103.4,2917.9 2107.5,2901.2 2111.6,2889.1 2115.7,2877.7 2119.8,2868.6 2123.9,2861.2 2128,2856.8 2132.1,2852.3 2136.3,2849.5 2140.4,2847.7 2144.5,2847 2148.6,2846.7 2152.7,2849 2156.8,2851 2160.9,2854.4 2165,2858.5 2169.1,2863.4 2173.3,2868.8 2177.4,2874.4 2181.5,2882.5 2185.6,2889.9 2189.7,2898.2 2193.8,2907.1 2197.9,2915.9 2202,2926.2 2206.1,2937.9 2210.3,2949.5 2214.4,2962.9 2218.5,2980.1" fill="none" stroke="#ff0000" stroke-width="2.9" stroke-linejoin="round" stroke-linecap="round"/>
<polyline points="1570.8,2968.8 1574.9,2885.6 1579.1,2839.7 1583.3,2808.6 1587.4,2784.5 1591.6,2769.9 1595.7,2762.7 1599.9,2762.9 1604.1,2768.5 1608.2,2781.5 1612.4,2798.6 1616.6,2822 1620.7,2848.7 1624.9,2880.8 1629,2917.6 1633.2,2969.5" fill="none" stroke="#ff0000" stroke-width="2.9" stroke-linejoin="round" stroke-linecap="round"/>
<polyline points="1495.6,2970.3 1499.7,2943 1503.7,2925 1507.7,2909.2 1511.7,2896.5 1515.7,2883.4 1519.7,2872.4 1523.8,2861 1527.8,2852.1 1531.8,2842.2 1535.8,2834.2 1539.8,2826 1543.8,2819.7 1547.9,2813 1551.9,2807.1 1555.9,2802.6 1559.9,2797 1563.9,2793.2 1567.9,2789.9 1572,2787 1576,2785.2 1580,2783.7 1584,2782.6 1588,2782.6 1592,2782.9 1596,2784.7 1600.1,2786 1604.1,2787.2 1608.1,2790.5 1612.1,2793.2 1616.1,2796.3 1620.1,2801.5 1624.2,2805.6 1628.2,2811.6 1632.2,2817.3 1636.2,2823.1 1640.2,2829.6 1644.2,2837.3 1648.3,2844.7 1652.3,2852.6 1656.3,2861.1 1660.3,2869.6 1664.3,2879.8 1668.3,2889.6 1672.4,2900.8 1676.4,2910.8 1680.4,2923.1 1684.4,2936.7 1688.4,2950.7 1692.4,2969.8" fill="none" stroke="#ff0000" stroke-width="2.9" stroke-linejoin="round" stroke-linecap="round"/>
<polyline points="1982.8,2991.1 1984.9,2926.9 1987,2891.1 1989.2,2865.2 1991.3,2848.1 1993.4,2840.2 1995.5,2839.9 1997.7,2847.8 1999.8,2862.8 2001.9,2884.4 2004.1,2911.5 2006.2,2944.5 2008.3,2990.6" fill="none" stroke="#ff0000" stroke-width="2.9" stroke-linejoin="round" stroke-linecap="round"/>
<polyline points="2150.5,2985 2154.7,2914.5 2158.9,2881.6 2163.1,2859.2 2167.3,2845.1 2171.5,2837 2175.7,2833 2179.9,2835.6 2184.1,2842.3 2188.3,2851.2 2192.5,2865.8 2196.7,2882.1 2200.9,2900.6 2205.1,2923.2 2209.3,2949 2213.5,2984" fill="none" stroke="#ff0000" stroke-width="2.9" stroke-linejoin="round" stroke-linecap="round"/>
<polyline points="1687.5,2984.2 1691.6,2902.2 1695.6,2879.8 1699.7,2866.8 1703.8,2859.5 1707.9,2855.4 1711.9,2854.8 1716,2857 1720.1,2860.1 1724.1,2865.4 1728.2,2871.9 1732.3,2878.2 1736.3,2887.8 1740.4,2896.4 1744.5,2906.5 1748.5,2915.9 1752.6,2927.2 1756.7,2939.5 1760.7,2951.7 1764.8,2965.9 1768.9,2985.2" fill="none" stroke="#ff0000" stroke-width="2.9" stroke-linejoin="round" stroke-linecap="round"/>
<polyline points="1697.1,2992.3 1701.2,2834.5 1705.4,2786.5 1709.6,2757.4 1713.7,2740.8 1717.9,2731.9 1722.1,2727.5 1726.3,2728.6 1730.4,2734.1 1734.6,2742.5 1738.8,2752.3 1742.9,2765.5 1747.1,2780 1751.3,2796.8 1755.5,2815.2 1759.6,2834.8 1763.8,2856.5 1768,2878 1772.1,2900.9 1776.3,2926.9 1780.5,2954.9 1784.6,2991.1" fill="none" stroke="#ff0000" stroke-width="2.9" stroke-linejoin="round" stroke-linecap="round"/>
<polyline points="1518.3,2982.2 1522.5,2955.5 1526.6,2940.1 1530.7,2928.5 1534.8,2917.6 1538.9,2909.7 1543,2901.4 1547.1,2896 1551.2,2892.1 1555.3,2888.4 1559.4,2885.7 1563.5,2885.5 1567.6,2885.1 1571.7,2885.9 1575.8,2887.2 1579.9,2890.3 1584,2895.2 1588.1,2900 1592.2,2904.4 1596.3,2911.6 1600.4,2917.8 1604.5,2925.9 1608.6,2934.5 1612.7,2944.9 1616.8,2955.6 1620.9,2966.9 1625,2982.1" fill="none" stroke="#ff0000" stroke-width="2.9" stroke-linejoin="round" stroke-linecap="round"/>
<polyline points="1523.4,2973.6 1525.6,2914.8 1527.8,2875.5 1530,2846.6 1532.2,2826.8 1534.4,2814.2 1536.6,2811.1 1538.8,2817.8 1541,2832 1543.2,2853.3 1545.4,2882.2 1547.6,2919.7 1549.8,2972.8" fill="none" stroke="#ff0000" stroke-width="2.9" stroke-linejoin="round" stroke-linecap="round"/>
<polyline points="1555.4,2983 1559.5,2862.3 1563.7,2836.1 1567.8,2825.7 1571.9,2824.4 1576,2827.6 1580.1,2833.7 1584.3,2843.9 1588.4,2856.7 1592.5,2868.9 1596.6,2884.9 1600.8,2900.1 1604.9,2917.7 1609,2936.4 1613.1,2956.3 1617.3,2984.3" fill="none" stroke="#ff0000" stroke-width="2.9" stroke-linejoin="round" stroke-linecap="round"/>
<polyline points="1772.6,2981 1776.6,2881.6 1780.6,2842.1 1784.6,2812.5 1788.6,2789.2 1792.6,2769.8 1796.7,2754.3 1800.7,2740.1 1804.7,2728.6 1808.7,2718.4 1812.7,2709.6 1816.7,2703.8 1820.7,2696.7 1824.7,2693.2 1828.8,2689.4 1832.8,2687 1836.8,2684.9 1840.8,2683.9 1844.8,2683.6 1848.8,2684.6 1852.8,2685.1 1856.8,2687.6 1860.9,2690.8 1864.9,2693 1868.9,2697.1 1872.9,2701.9 1876.9,2706.1 1880.9,2710.8 1884.9,2716.6 1888.9,2722.8 1893,2729.4 1897,2735.9 1901,2743.5 1905,2751.4 1909,2759.3 1913,2767.5 1917,2775.3 1921,2784.6 1925.1,2793.5 1929.1,2803.1 1933.1,2812.8 1937.1,2824 1941.1,2833.4 1945.1,2844.8 1949.1,2855.4 1953.1,2866.7 1957.2,2878 1961.2,2890.3 1965.2,2902.5 1969.2,2915.1 1973.2,2928.3 1977.2,2943.2 1981.2,2958.9 1985.2,2980.7" fill="none" stroke="#ff0000" stroke-width="2.9" stroke-linejoin="round" stroke-linecap="round"/>
<polyline points="1596.7,2974.1 1599.9,2894.5 1603.1,2848.5 1606.4,2813.8 1609.6,2791.2 1612.8,2779 1616.1,2777.4 1619.3,2787.5 1622.5,2805.7 1625.8,2831.9 1629,2867.8 1632.2,2912 1635.5,2974.5" fill="none" stroke="#ff0000" stroke-width="2.9" stroke-linejoin="round" stroke-linecap="round"/>
<polyline points="1947.5,2978.5 1951.6,2948.5 1955.6,2933.2 1959.7,2921.1 1963.7,2910.3 1967.8,2901.5 1971.9,2892.7 1975.9,2885.2 1980,2878.6 1984,2873.2 1988.1,2868.1 1992.2,2863.3 1996.2,2859.4 2000.3,2855.5 2004.3,2852.3 2008.4,2848.4 2012.5,2846.6 2016.5,2844.6 2020.6,2843.4 2024.6,2840.9 2028.7,2840.9 2032.8,2839.7 2036.8,2840.2 2040.9,2839 2044.9,2839.4 2049,2840.5 2053.1,2841.7 2057.1,2842.1 2061.2,2844.2 2065.2,2846.1 2069.3,2848.4 2073.4,2849.8 2077.4,2852.5 2081.5,2855.7 2085.6,2857.8 2089.6,2860.8 2093.7,2864.6 2097.7,2868.6 2101.8,2872.1 2105.9,2876.7 2109.9,2880.6 2114,2884.7 2118,2889.8 2122.1,2894 2126.2,2898.8 2130.2,2903.4 2134.3,2909.6 2138.3,2915.1 2142.4,2919.5 2146.5,2925.5 2150.5,2931.4 2154.6,2938.2 2158.6,2944.3 2162.7,2952.4 2166.8,2959.1 2170.8,2968.2 2174.9,2978.3" fill="none" stroke="#ff0000" stroke-width="2.9" stroke-linejoin="round" stroke-linecap="round"/>
<polyline points="1916.5,2989.2 1920.6,2961.7 1924.7,2941.8 1928.7,2923.4 1932.8,2908.2 1936.9,2892.8 1940.9,2878.3 1945,2864.9 1949.1,2853.2 1953.1,2841 1957.2,2829.4 1961.3,2818 1965.3,2807.7 1969.4,2798.4 1973.4,2789.7 1977.5,2780.7 1981.6,2773.6 1985.6,2765.7 1989.7,2759.7 1993.8,2752.7 1997.8,2747.7 2001.9,2742.6 2006,2737.5 2010,2734.2 2014.1,2730.8 2018.2,2728 2022.2,2726.4 2026.3,2724.6 2030.3,2724.3 2034.4,2723.8 2038.5,2724 2042.5,2725.4 2046.6,2726.6 2050.7,2728.1 2054.7,2731.4 2058.8,2734.2 2062.9,2738 2066.9,2742 2071,2748 2075.1,2752.6 2079.1,2759.7 2083.2,2765.2 2087.2,2773.5 2091.3,2781 2095.4,2788.9 2099.4,2797.5 2103.5,2806.6 2107.6,2816.6 2111.6,2826.7 2115.7,2838 2119.8,2848.9 2123.8,2860.5 2127.9,2872.6 2132,2886.2 2136,2899.9 2140.1,2913.8 2144.1,2929 2148.2,2945.5 2152.3,2963.9 2156.3,2989.2" fill="none" stroke="#ff0000" stroke-width="2.9" stroke-linejoin="round" stroke-linecap="round"/>
<polyline points="1960.5,2985.5 1964.6,2893.8 1968.6,2865.1 1972.7,2847.5 1976.7,2834.4 1980.8,2824.6 1984.8,2817.9 1988.9,2813.3 1992.9,2809.6 1997,2808.6 2001,2807.9 2005.1,2808.7 2009.1,2809.7 2013.2,2812.3 2017.2,2815.9 2021.3,2820 2025.3,2823.6 2029.4,2829.5 2033.4,2833.9 2037.5,2839.8 2041.5,2846.9 2045.6,2853.3 2049.6,2860.6 2053.7,2867.3 2057.7,2874.8 2061.8,2882.9 2065.8,2891.2 2069.9,2899.7 2073.9,2908.9 2078,2917.1 2082,2926.9 2086.1,2937 2090.1,2946.2 2094.2,2957.3 2098.3,2970.1 2102.3,2985.9" fill="none" stroke="#ff0000" stroke-width="2.9" stroke-linejoin="round" stroke-linecap="round"/>
<polyline points="2164.2,2970.9 2168.2,2941.5 2172.2,2925.2 2176.2,2912.6 2180.3,2903.3 2184.3,2893.4 2188.3,2886.2 2192.3,2879.4 2196.3,2873.9 2200.4,2869.1 2204.4,2864.5 2208.4,2861.3 2212.4,2858.4 2216.4,2856.4 2220.5,2854.1 2224.5,2853.3 2228.5,2852.7 2232.5,2852.5 2236.6,2854 2240.6,2855.3 2244.6,2856.1 2248.6,2858.2 2252.6,2860.2 2256.7,2864.3 2260.7,2867.3 2264.7,2870.8 2268.7,2874.7 2272.7,2878.8 2276.8,2883.2 2280.8,2889.5 2284.8,2893.6 2288.8,2899.6 2292.8,2906.5 2296.9,2911.6 2300.9,2918.6 2304.9,2926.5 2308.9,2933.5 2312.9,2940.7 2317,2949 2321,2959.3 2325,2971.7" fill="none" stroke="#ff0000" stroke-width="2.9" stroke-linejoin="round" stroke-linecap="round"/>
<polyline points="1905.4,2990.5 1909.6,2923.5 1913.8,2881 1918,2846.2 1922.1,2819.9 1926.3,2800.1 1930.5,2786.1 1934.7,2777.2 1938.9,2774.9 1943.1,2778.3 1947.3,2786.1 1951.4,2799.5 1955.6,2818.2 1959.8,2841.2 1964,2869.4 1968.2,2901 1972.4,2939.2 1976.6,2991.4" fill="none" stroke="#ff0000" stroke-width="2.9" stroke-linejoin="round" stroke-linecap="round"/>
<polyline points="1679.5,2980 1683.6,2888.4 1687.7,2866.4 1691.8,2856.3 1695.9,2851.3 1699.9,2851.6 1704,2854.9 1708.1,2861.3 1712.2,2868.6 1716.3,2879.3 1720.4,2889.6 1724.5,2901.9 1728.5,2913.5 1732.6,2927.8 1736.7,2942.6 1740.8,2958.4 1744.9,2980.4" fill="none" stroke="#ff0000" stroke-width="2.9" stroke-linejoin="round" stroke-linecap="round"/>
<polyline points="1466.6,2975.2 1470.6,2959.8 1474.6,2949.8 1478.6,2941.3 1482.6,2934.2 1486.6,2926.7 1490.6,2921.1 1494.6,2914.3 1498.6,2909.2 1502.6,2903.2 1506.6,2897.7 1510.6,2893.3 1514.6,2888.5 1518.6,2884.3 1522.6,2881.1 1526.6,2877.5 1530.6,2873.4 1534.6,2870.6 1538.6,2867.9 1542.6,2865.9 1546.6,2863.1 1550.6,2861.1 1554.6,2860.1 1558.6,2858.6 1562.6,2857.7 1566.6,2857 1570.6,2856.9 1574.6,2856 1578.6,2856.5 1582.6,2856.4 1586.6,2857.2 1590.6,2857.3 1594.6,2858.3 1598.7,2860.8 1602.7,2862.1 1606.7,2863.6 1610.7,2866.4 1614.7,2868 1618.7,2870.2 1622.7,2873.7 1626.7,2877.1 1630.7,2879 1634.7,2882.9 1638.7,2887.3 1642.7,2890.4 1646.7,2895.3 1650.7,2899.5 1654.7,2904.4 1658.7,2907.9 1662.7,2913.8 1666.7,2919.2 1670.7,2924.4 1674.7,2930.3 1678.7,2935.5 1682.7,2942.3 1686.7,2948.6 1690.7,2956.6 1694.7,2964.3 1698.7,2974.8" fill="none" stroke="#ff0000" stroke-width="2.9" stroke-linejoin="round" stroke-linecap="round"/>
<polyline points="2192.3,2982 2196.4,2886.8 2200.5,2862.6 2204.5,2852.4 2208.6,2850.2 2212.6,2854.1 2216.7,2861.5 2220.7,2870.9 2224.8,2883.9 2228.8,2899.8 2232.9,2916.5 2236.9,2934.2 2241,2955.5 2245,2981.9" fill="none" stroke="#ff0000" stroke-width="2.9" stroke-linejoin="round" stroke-linecap="round"/>
<polyline points="1760.7,2971.4 1765,2866.7 1769.2,2843.2 1773.5,2832.7 1777.7,2828.7 1782,2831.4 1786.3,2836.6 1790.5,2845.3 1794.8,2855.2 1799,2867.6 1803.3,2880.6 1807.5,2895.8 1811.8,2910.8 1816.1,2928.1 1820.3,2946.4 1824.6,2971" fill="none" stroke="#ff0000" stroke-width="2.9" stroke-linejoin="round" stroke-linecap="round"/>
<polyline points="2090.7,2982.4 2094.7,2901.2 2098.8,2863.8 2102.8,2838.2 2106.8,2817 2110.9,2801.4 2114.9,2788.2 2119,2779.7 2123,2772.8 2127,2768.7 2131.1,2766.5 2135.1,2767.1 2139.1,2768 2143.2,2771.7 2147.2,2776.8 2151.2,2784 2155.3,2791.3 2159.3,2801.2 2163.3,2811.9 2167.4,2823.6 2171.4,2835.1 2175.5,2848.9 2179.5,2864.1 2183.5,2879 2187.6,2896.4 2191.6,2913.1 2195.6,2932.9 2199.7,2954 2203.7,2981.7" fill="none" stroke="#ff0000" stroke-width="2.9" stroke-linejoin="round" stroke-linecap="round"/>
<polyline points="1957.8,2982 1961.9,2926.5 1966,2887.5 1970,2855.6 1974.1,2827.2 1978.2,2801.8 1982.3,2779.2 1986.4,2759 1990.5,2742.8 1994.6,2729.3 1998.7,2719.5 2002.8,2711.5 2006.9,2706.6 2011,2706 2015.1,2706.5 2019.2,2711.8 2023.3,2717.7 2027.4,2727.4 2031.5,2740.8 2035.6,2756.3 2039.7,2773.5 2043.8,2793 2047.9,2816.4 2052,2840.9 2056.1,2869.3 2060.2,2899.4 2064.3,2934.8 2068.4,2982.3" fill="none" stroke="#ff0000" stroke-width="2.9" stroke-linejoin="round" stroke-linecap="round"/>
<polyline points="1445,2999 1446,2999 1456,2928.1 1466,2872.5 1476,2829.4 1486,2795.4 1496,2769.5 1506,2748.8 1516,2732.4 1526,2720.3 1536,2710.5 1546,2703.2 1556,2697.5 1566,2692.8 1576,2689.2 1586,2686.2 1596,2684.1 1606,2682.9 1616,2681.7 1622,2681.5 1628,2681.1 1634,2680.9 1640,2681 1646,2680.1 1652,2679.7 1658,2679.3 1664,2679.2 1670,2678.7 1676,2678.6 1682,2677.9 1688,2677.9 1694,2677.4 1700,2677.9 1706,2677.6 1712,2677.4 1718,2677.2 1724,2677.6 1730,2677.3 1736,2676.7 1742,2676.5 1748,2676.5 1754,2676.7 1760,2676.5 1766,2676.6 1772,2676.2 1778,2676.4 1784,2676.5 1790,2676.3 1796,2675.9 1802,2676 1808,2675.9 1814,2675.7 1820,2675.5 1826,2675.4 1832,2675.4 1838,2676 1844,2676.4 1850,2676.6 1856,2677.2 1862,2677.1 1868,2677.5 1874,2677.4 1880,2677.1 1886,2676.7 1892,2677.1 1898,2677.5 1904,2677 1910,2677.2 1916,2677.1 1922,2677.5 1928,2677 1934,2677.2 1940,2676.9 1946,2676.8 1952,2676.5 1958,2676.1 1964,2676.1 1970,2676.1 1976,2676.1 1982,2676.4 1988,2676.2 1994,2676.2 2000,2676.6 2006,2676.7 2012,2676.4 2018,2676.1 2024,2676.1 2030,2675.8 2036,2675.9 2042,2676.1 2048,2676.7 2054,2677.1 2060,2677 2066,2677.1 2072,2677.4 2078,2677.9 2084,2678 2090,2678 2096,2678.1 2102,2677.5 2108,2677.7 2114,2677.1 2120,2676.8 2126,2676.8 2132,2676.7 2138,2676.8 2144,2676.9 2150,2676.8 2156,2676.6 2162,2676.2 2168,2676.7 2174,2676.9 2180,2677.1 2186,2676.7 2192,2677.2 2198,2676.7 2204,2676.2 2210,2675.9 2216,2675.8 2222,2675.5 2228,2675.5 2234,2676.1 2240,2676.2 2246,2675.9 2252,2676.3 2258,2676.2 2264,2676.4 2270,2676.6 2276,2677 2282,2677.4 2288,2677.7 2294,2677.9 2300,2677.7 2306,2677.7 2312,2678.1 2318,2678 2324,2677.4" fill="none" stroke="#ff0000" stroke-width="2.9" stroke-linejoin="round" stroke-linecap="round"/>
<polyline points="1443,2999 1444,2998.5 1451,2931.9 1458,2880.2 1465,2840.3 1472,2808.4 1479,2783.7 1486,2764.6 1493,2750 1500,2738.3 1507,2729.2 1514,2721.8 1521,2716.2 1528,2711.6 1535,2708.3 1542,2705.3 1549,2703.1 1556,2701.8 1563,2700.7 1569,2699.5 1575,2698.5 1581,2698.2 1587,2698 1593,2697.1 1599,2697.1 1605,2696.4 1611,2696.1 1617,2696.3 1623,2696.1 1629,2696 1635,2695.7 1641,2695.4 1647,2695.4 1653,2695.1 1659,2695 1665,2695.1 1671,2695.4 1677,2695.1 1683,2695.4 1689,2695 1695,2694.3 1701,2694.4 1707,2694.8 1713,2694 1719,2694.2 1725,2693.7 1731,2693.7 1737,2693.4 1743,2693.3 1749,2693.1 1755,2693.2 1761,2693.5 1767,2693.8 1773,2693.8 1779,2694 1785,2693.3 1791,2693 1797,2692.5 1803,2694.9 1809,2699.1 1815,2703.8 1821,2708.2 1827,2711.9 1833,2715.5 1839,2719.6 1845,2723.6 1851,2728 1857,2731.7 1863,2735.4 1869,2739.7 1875,2742.9 1881,2746.6 1887,2749.7 1893,2752.9 1899,2756.7 1905,2760.8 1911,2764.7 1917,2767.7 1923,2771.5 1929,2775.1 1935,2778.6 1941,2781.9 1947,2785.5 1953,2788.3 1959,2791 1965,2794.1 1971,2797.5 1977,2800.9 1983,2803.6 1989,2806.8 1995,2809 2001,2812.2 2007,2815.2 2013,2817.3 2019,2820.1 2025,2822.9 2031,2825.8 2037,2828.2 2043,2830.6 2049,2832.6 2055,2835.4 2061,2837.1 2067,2839.4 2073,2841.3 2079,2843.9 2085,2846.4 2091,2848.4 2097,2850.2" fill="none" stroke="#ff0000" stroke-width="2.9" stroke-linejoin="round" stroke-linecap="round"/>
<polyline points="1449,2999 1450,2999 1452.5,2948.9 1455,2909.3 1457.5,2878.9 1460,2854.8 1462.5,2836.4 1465,2822.1 1467.5,2810.2 1470,2801.4 1472.5,2794.9 1475,2789.4 1477.5,2784.9 1480,2781.2 1482.5,2779.2 1485,2777.2 1487.5,2775.8 1490,2774.9 1492.5,2773.6 1498.5,2772.1 1504.5,2771.7 1510.5,2770.7 1516.5,2770.3 1522.5,2770.3 1528.5,2770.6 1534.5,2770 1540.5,2770.2 1546.5,2770.5 1552.5,2770.2 1558.5,2770.5 1564.5,2770.6 1570.5,2770.1 1576.5,2770.3 1582.5,2770.7 1588.5,2770.5 1594.5,2770.2 1600.5,2770.5 1606.5,2770.2 1612.5,2770.4 1618.5,2770.8 1624.5,2770.8 1630.5,2770.9 1636.5,2770.9 1642.5,2770.4 1648.5,2770.7 1654.5,2770.4 1660.5,2770.3 1666.5,2770.3 1672.5,2770.4 1678.5,2770 1684.5,2769.8 1690.5,2770.1 1696.5,2769.9 1702.5,2769.4 1708.5,2769.4 1714.5,2769.6 1720.5,2769.8 1726.5,2769.2 1732.5,2769 1738.5,2769.3 1744.5,2769.6 1750.5,2768.8 1756.5,2768.8 1762.5,2768.8 1768.5,2768.4 1774.5,2768.4 1780.5,2767.8 1786.5,2767.8 1792.5,2767.9 1798.5,2768.3 1804.5,2768 1810.5,2768.3 1816.5,2768.4 1822.5,2768.2 1828.5,2768.2 1834.5,2767.6 1840.5,2767.4 1846.5,2767 1852.5,2767.2 1858.5,2766.7 1864.5,2766.4 1870.5,2766.8 1876.5,2766.7 1882.5,2767.1 1888.5,2767.5 1894.5,2767.1 1900.5,2766.7 1906.5,2766.6 1912.5,2766.3 1918.5,2766.4 1924.5,2766.5 1930.5,2766.1 1936.5,2766 1942.5,2765.7 1948.5,2765.5 1954.5,2765.3 1960.5,2765.7 1966.5,2765.7 1972.5,2765.9 1978.5,2766.1 1984.5,2766.2 1990.5,2766.3 1996.5,2766.6 2002.5,2766.8 2008.5,2766.8 2014.5,2766.7 2020.5,2766.7 2026.5,2766.7 2032.5,2766.5 2038.5,2766.6 2044.5,2766.3 2050.5,2766.5 2056.5,2766.1 2062.5,2766.3 2068.5,2766 2074.5,2766.2 2080.5,2765.8 2086.5,2765.5 2092.5,2765.4 2098.5,2765.3 2104.5,2765.4 2110.5,2765.6 2116.5,2765.3 2122.5,2764.8 2128.5,2764.6 2134.5,2765 2140.5,2764.6 2146.5,2765 2152.5,2765.3 2158.5,2764.6 2164.5,2764.5 2170.5,2764.7 2176.5,2764.6 2182.5,2764.4 2188.5,2764.2 2194.5,2764.5 2200.5,2763.8 2206.5,2763.5 2212.5,2763.3 2218.5,2763.5 2224.5,2763.1 2230.5,2762.8 2236.5,2762.6 2242.5,2762.6 2248.5,2762.8 2254.5,2763 2260.5,2762.9 2266.5,2762.4 2272.5,2762.6 2278.5,2763.1 2284.5,2762.6 2290.5,2762.5 2296.5,2762.3 2302.5,2762.5 2308.5,2762.3 2314.5,2762.5 2320.5,2762" fill="none" stroke="#ff0000" stroke-width="2.9" stroke-linejoin="round" stroke-linecap="round"/>
<polyline points="1700,2998.4 1704,2876.8 1708,2829.6 1712,2795.4 1716,2768 1720,2745.3 1724,2725.2 1728,2708.4 1732,2693.5 1736,2681.2 1740,2668.8 1744,2658.2 1748,2650.1 1752,2641.6 1756,2635.6 1760,2628.3 1764,2624.3 1768,2618.8 1772,2616.2 1776,2612.8 1780,2610.7 1784,2609.3 1788,2608 1792,2607.5 1796,2607.7 1800,2608.1 1804,2608.1 1808,2609.3 1812,2611.5 1816,2614 1820,2616.7 1824,2618.7 1828,2621.9 1832,2626.6 1836,2629.8 1840,2633.9 1844,2638.5 1848,2643.9 1852,2648.7 1856,2654 1860,2660.3 1864,2665.1 1868,2671.5 1872,2678.9 1876,2684.3 1880,2691.8 1884,2698.2 1888,2706.3 1892,2713.8 1896,2721.8 1900,2728.9 1904,2737.3 1908,2745.4 1912,2753.9 1916,2762 1920,2770.8 1924,2779.9 1928,2788.9 1932,2798.6 1936,2808 1940,2817.5 1944,2827.1 1948,2836.5 1952,2846.9 1956,2857.5 1960,2867.7 1964,2877.4 1968,2888.6 1972,2899.6 1976,2911.5 1980,2924.1 1984,2935.8 1988,2948.6 1992,2963 1996,2978.9 2000,2998.4" fill="none" stroke="#ff0000" stroke-width="2.9" stroke-linejoin="round" stroke-linecap="round"/>
<polyline points="1540,2979.3 1544,2860.3 1548,2822.6 1552,2796.9 1556,2777.1 1560,2760.3 1564,2745.5 1568,2731.7 1572,2721 1576,2711.7 1580,2701.9 1584,2693.7 1588,2686.1 1592,2679.4 1596,2672.9 1600,2667.8 1604,2662.2 1608,2656.9 1612,2653.5 1616,2648.5 1620,2644.7 1624,2641.9 1628,2639.1 1632,2635.2 1636,2633.6 1640,2631 1644,2628 1648,2626.3 1652,2624.5 1656,2622.8 1660,2622.2 1664,2621.1 1668,2619.7 1672,2618.9 1676,2618.2 1680,2617.2 1684,2617.1 1688,2617.3 1692,2617.6 1696,2616.9 1700,2616.9 1704,2617.3 1708,2617.5 1712,2617.8 1716,2618.5 1720,2619.6 1724,2619.6 1728,2620.6 1732,2622.3 1736,2623 1740,2623.3 1744,2625.2 1748,2625.7 1752,2627.7 1756,2628.2 1760,2630.2 1764,2631 1768,2632.6 1772,2634.6 1776,2636.7 1780,2637.6 1784,2639.8 1788,2641.3 1792,2643.6 1796,2646.1 1800,2647.6 1804,2649.5 1808,2651.8 1812,2653.9 1816,2657.1 1820,2659.5 1824,2660.7 1828,2664 1832,2666.5 1836,2668.3 1840,2671.4 1844,2673.5 1848,2676.1 1852,2679.4 1856,2681.3 1860,2684.8 1864,2687.2 1868,2689.6 1872,2693.1 1876,2694.8 1880,2698.7 1884,2701.8 1888,2704.6 1892,2707.6 1896,2710.4 1900,2712.4 1904,2716.1 1908,2719.7 1912,2722.5 1916,2725 1920,2729.3 1924,2732.6 1928,2735.1 1932,2738.9 1936,2741.5 1940,2745.3 1944,2748.1 1948,2752.2 1952,2754.5 1956,2758.5 1960,2762.1 1964,2765.4 1968,2769 1972,2772.6 1976,2775.5 1980,2780.1 1984,2782.3 1988,2786.4 1992,2790.8 1996,2793.8 2000,2798.1 2004,2801.4 2008,2804.4 2012,2808.7 2016,2812.1 2020,2816.2 2024,2819.4 2028,2823.3 2032,2827.8 2036,2831.1 2040,2834.8 2044,2839.4 2048,2843.8 2052,2847.3 2056,2850.8 2060,2855.6 2064,2859.6 2068,2863.3 2072,2867.8 2076,2871.6 2080,2875.3 2084,2879.7 2088,2884.4 2092,2889 2096,2893.4 2100,2897.8 2104,2902.1 2108,2906.1 2112,2911.1 2116,2915.4 2120,2919.8 2124,2924.7 2128,2930.6 2132,2935.2 2136,2940.5 2140,2945 2144,2951.5 2148,2956.7 2152,2963.4 2156,2970 2160,2978.7" fill="none" stroke="#ff0000" stroke-width="2.9" stroke-linejoin="round" stroke-linecap="round"/>
<polyline points="1930,2979.3 1934,2913.5 1938,2880.5 1942.1,2854 1946.1,2830.5 1950.1,2810.2 1954.1,2793.1 1958.2,2775.1 1962.2,2761 1966.2,2746.1 1970.2,2733.8 1974.3,2721.1 1978.3,2710.2 1982.3,2699.5 1986.3,2689.5 1990.4,2681.1 1994.4,2672 1998.4,2663.8 2002.4,2657.8 2006.5,2650.8 2010.5,2645.3 2014.5,2638.9 2018.5,2634.6 2022.6,2629.4 2026.6,2625.7 2030.6,2623.3 2034.6,2619.2 2038.7,2617.6 2042.7,2615.6 2046.7,2613.2 2050.7,2612.5 2054.8,2611.6 2058.8,2611.6 2062.8,2610.7 2066.8,2611.5 2070.9,2612.8 2074.9,2613 2078.9,2614.1 2082.9,2617 2087,2618.1 2091,2621.7 2095,2624.5 2099,2627.3 2103,2630.7 2107.1,2634.9 2111.1,2637.8 2115.1,2642.6 2119.1,2647.9 2123.2,2652.5 2127.2,2656.9 2131.2,2662.7 2135.2,2669 2139.3,2674.5 2143.3,2681.2 2147.3,2686.9 2151.3,2693.8 2155.4,2700.9 2159.4,2708.4 2163.4,2715.9 2167.4,2722.7 2171.5,2731.5 2175.5,2739.6 2179.5,2747.9 2183.5,2756 2187.6,2764.7 2191.6,2774.5 2195.6,2782.8 2199.6,2792 2203.7,2802.8 2207.7,2811.8 2211.7,2822.8 2215.7,2833.1 2219.8,2843.7 2223.8,2854.3 2227.8,2865.2 2231.8,2876.8 2235.9,2888.4 2239.9,2900.4 2243.9,2913.6 2247.9,2926.9 2252,2941.6 2256,2956.9 2260,2979.5" fill="none" stroke="#ff0000" stroke-width="2.9" stroke-linejoin="round" stroke-linecap="round"/>
<polyline points="1790,2978.9 1794,2891.7 1798,2857.7 1802,2831.6 1806,2811.2 1810,2794.3 1814,2778.7 1818,2766 1822,2753.8 1826,2743.2 1830,2732.8 1834,2724.3 1838,2715.2 1842,2707.6 1846,2701.6 1850,2694.7 1854,2688.7 1858,2683.7 1862,2678.9 1866,2675.3 1870,2670.4 1874,2667.2 1878,2664.6 1882,2661.4 1886,2658.3 1890,2656.5 1894,2654.9 1898,2652.8 1902,2652.4 1906,2650.6 1910,2650 1914,2649.6 1918,2648.8 1922,2649.5 1926,2648.6 1930,2649.2 1934,2649.5 1938,2650.3 1942,2651.5 1946,2652.8 1950,2654.4 1954,2655.3 1958,2656.3 1962,2658.3 1966,2659.9 1970,2662.9 1974,2665.1 1978,2666.3 1982,2669.2 1986,2671.9 1990,2674.9 1994,2677.3 1998,2680.8 2002,2684 2006,2686.1 2010,2690.5 2014,2694.1 2018,2697.4 2022,2700.7 2026,2704.4 2030,2708.1 2034,2711.5 2038,2716 2042,2719.9 2046,2724.9 2050,2729.1 2054,2732.6 2058,2737.2 2062,2742.1 2066,2747.3 2070,2752.1 2074,2756.5 2078,2762 2082,2765.8 2086,2771.6 2090,2776.5 2094,2781.8 2098,2787.2 2102,2792.6 2106,2798.1 2110,2802.8 2114,2808.1 2118,2814.2 2122,2820.1 2126,2826.3 2130,2831.3 2134,2837.2 2138,2842.8 2142,2849.1 2146,2855.9 2150,2861.6 2154,2867.9 2158,2875.3 2162,2881 2166,2888.1 2170,2894.3 2174,2901.5 2178,2908.3 2182,2915.4 2186,2923.2 2190,2930.5 2194,2938.3 2198,2946.6 2202,2955.8 2206,2966.4 2210,2979" fill="none" stroke="#ff0000" stroke-width="2.9" stroke-linejoin="round" stroke-linecap="round"/>
<polyline points="1719,2999 1720,2999 1750,2942.7 1780,2896.7 1810,2859.6 1840,2828.2 1870,2802.2 1900,2780.1 1930,2760.9 1960,2743.9 1990,2729.1 2020,2715.7 2050,2703.4 2080,2691 2110,2679.7 2140,2669.2 2170,2659.1 2200,2648.8 2230,2639 2236,2636.8 2242,2635 2248,2633.6 2254,2631.6 2260,2629.5 2266,2627.2 2272,2625.8 2278,2623.9 2284,2622.1 2290,2620.3 2296,2618.7 2302,2616.8 2308,2615 2314,2613.4 2320,2611.2" fill="none" stroke="#ff0000" stroke-width="2.9" stroke-linejoin="round" stroke-linecap="round"/>
<polyline points="1859,2999 1860,2998.9 1900,2927.4 1940,2870.3 1980,2824.8 2020,2788.5 2060,2759.3 2100,2734.9 2140,2715.3 2180,2698.8 2220,2684.9 2260,2672.4 2300,2662.1" fill="none" stroke="#ff0000" stroke-width="2.9" stroke-linejoin="round" stroke-linecap="round"/>
<polyline points="1459,2999 1460,2998.8 1475,2934.7 1490,2884.6 1505,2845.4 1520,2814.6 1535,2790.3 1550,2771.8 1565,2757 1580,2745.7 1595,2736.2 1610,2729.2 1625,2723.9 1640,2719.3 1655,2715.1 1670,2712 1685,2710 1700,2707.9 1715,2706.1 1721,2705.8 1727,2705.2 1733,2704.8 1739,2704.1 1745,2703.2 1751,2702.6 1757,2701.8 1763,2701.2 1769,2701.3 1775,2701.3 1781,2700.4 1787,2699.7 1793,2699.2 1799,2699.3 1805,2699.3 1811,2698.8 1817,2698.3 1823,2698.4 1829,2697.8 1835,2697.8 1841,2697.8 1847,2697.5 1853,2696.8 1859,2697 1865,2697 1871,2696.4 1877,2696.7 1883,2697 1889,2697 1895,2696.5 1901,2696.6 1907,2696.7 1913,2696.3 1919,2695.9 1925,2695.7 1931,2695.4 1937,2695.7 1943,2694.9 1949,2695.2 1955,2695.3 1961,2695.4 1967,2695 1973,2694.7 1979,2694.3 1985,2694.1 1991,2693.8 1997,2693.5 2003,2693.1 2009,2693.1 2015,2693.2 2021,2693.1 2027,2692.3 2033,2691.9 2039,2691.9 2045,2691.9 2051,2691.2 2057,2691.2 2063,2691.4 2069,2691.7 2075,2691.8 2081,2691.6 2087,2691.3 2093,2690.6 2099,2690.8 2105,2691 2111,2690.2 2117,2690.1 2123,2689.6 2129,2688.9 2135,2688.7 2141,2688.2 2147,2688 2153,2687.5 2159,2687.3 2165,2687.6 2171,2687.1 2177,2687.1 2183,2687 2189,2687.3 2195,2687.6 2201,2686.9 2207,2686.4 2213,2686.2 2219,2686.4 2225,2686 2231,2686.3 2237,2686.4 2243,2685.8 2249,2686.1 2255,2685.3 2261,2685.3 2267,2685.6 2273,2685.6 2279,2685.2 2285,2685.2 2291,2685.1 2297,2684.4 2303,2683.7 2309,2683.1 2315,2683.4 2321,2682.8" fill="none" stroke="#ff0000" stroke-width="2.9" stroke-linejoin="round" stroke-linecap="round"/>
<polyline points="2049,2999 2050,2999 2072.5,2940.6 2095,2895 2117.5,2858.7 2140,2829.8 2162.5,2806.8 2185,2788.8 2207.5,2773.4 2230,2761 2252.5,2750.4 2275,2741.9 2297.5,2734.7 2320,2728.4" fill="none" stroke="#ff0000" stroke-width="2.9" stroke-linejoin="round" stroke-linecap="round"/>
<polyline points="2287.6,2777 2290,2720 2293,2670 2296,2624 2300,2592 2306,2561.5 2312,2546 2318.7,2536.6" fill="none" stroke="#ff0000" stroke-width="2.9" stroke-linejoin="round" stroke-linecap="round"/>
<polyline points="1618,2999.2 1621.5,2828.1 1625,2744.8 1628.5,2692.4 1632,2664.4 1635.5,2654.2 1639,2661.8 1642.5,2685 1646,2721.3 1649.5,2769.7 1653,2828.3 1656.5,2899.9 1660,2998.6" fill="none" stroke="#ff0000" stroke-width="2.9" stroke-linejoin="round" stroke-linecap="round"/>
<polyline points="1722,2998.4 1724.5,2896.1 1727,2836.3 1729.5,2793.8 1732,2765.3 1734.5,2750.8 1737,2750.9 1739.5,2762 1742,2786.1 1744.5,2820.7 1747,2864.8 1749.5,2921 1752,2999.6" fill="none" stroke="#ff0000" stroke-width="2.9" stroke-linejoin="round" stroke-linecap="round"/>
<polyline points="1752,2998.4 1754.8,2891.7 1757.7,2828.4 1760.5,2783.6 1763.3,2753.4 1766.2,2738.9 1769,2737.7 1771.8,2751 1774.7,2775.4 1777.5,2812.1 1780.3,2859 1783.2,2917.1 1786,2998.8" fill="none" stroke="#ff0000" stroke-width="2.9" stroke-linejoin="round" stroke-linecap="round"/>
<polyline points="2088,2998.5 2091.8,2876 2095.7,2803.3 2099.5,2752.4 2103.3,2718.7 2107.2,2701.3 2111,2700.5 2114.8,2714.5 2118.7,2743.8 2122.5,2784.6 2126.3,2838 2130.2,2905.3 2134,2998.4" fill="none" stroke="#ff0000" stroke-width="2.9" stroke-linejoin="round" stroke-linecap="round"/>
<polyline points="2128,2999.3 2131.3,2888.6 2134.7,2823.6 2138,2777 2141.3,2747.1 2144.7,2731.3 2148,2730.4 2151.3,2743.4 2154.7,2768.9 2158,2806.1 2161.3,2855.2 2164.7,2913.9 2168,2998.8" fill="none" stroke="#ff0000" stroke-width="2.9" stroke-linejoin="round" stroke-linecap="round"/>
<polyline points="2040,2999.5 2044,2894.9 2048,2843 2052,2806.5 2056,2780.3 2060,2766 2064,2759.8 2068,2760.6 2072,2769.5 2076,2784.3 2080,2805.8 2084,2831.6 2088,2862.8 2092,2900 2096,2941.2 2100,2999.1" fill="none" stroke="#ff0000" stroke-width="2.9" stroke-linejoin="round" stroke-linecap="round"/>
<polygon points="163.2,3286.8 200,3286 224,3281 300,3280 700,3279 1000,3276 1100,3272.5 1164.6,3271 1164.6,3301.5 900,3299 500,3297 224,3296 163.2,3295" fill="#1414f5"/>
<polyline points="355,3282 362,3281 367.5,3277.8 373,3276 379.5,3273 386,3271 393,3269.3 400,3268 405.3,3267.4 410.6,3265.8 415.8,3264.9 421.1,3264.2 426.4,3263.7 431.8,3264.1 437.1,3263.4 442.5,3264.3 447.8,3264.2 453.2,3263.6 458.6,3264.2 463.9,3264.2 469.3,3264.2 474.6,3265.1 480,3264.5 485.2,3264 490.4,3263.9 495.6,3265.2 500.8,3264.5 505.9,3264.2 511.1,3264.4 516.3,3264.5 521.5,3265.4 526.7,3264.4 531.9,3264.4 537.1,3265 542.2,3264.9 547.4,3265.5 552.6,3265.4 557.8,3264.8 563,3265 569,3263.1 575,3262 580,3259.1 585,3256 590,3252 596.8,3248.7 603.5,3246.8 609.2,3245.5 615,3243.5 621.4,3243.3 627.7,3242 632.8,3242.5 637.9,3242.2 643.1,3243.2 648.2,3243.4 653.3,3242.9 658.4,3243.8 663.5,3243.5 668.6,3243.5 673.8,3244.2 678.9,3244.5 684,3245 689.1,3245.1 694.1,3245.6 699.2,3246.1 704.3,3246.4 709.3,3246.7 714.4,3246.9 719.5,3246.8 724.5,3246.3 729.6,3246.3 734.7,3247.2 739.7,3247.3 744.8,3247.6 749.9,3247 754.9,3247.4 760,3248 765,3248.8 770,3248.6 775,3248.9 780,3248.3 785,3248.9 790,3249.8 795,3249.7 800,3250.4 805,3249.5 810,3250.1 815,3250.8 820,3250.5 825,3251.2 830,3251.1 835,3250.6 840,3250.8 845,3251.6 850,3252.5 855,3251.5 860,3251.8 865,3252.2 870,3252.9 875,3253.4 880,3253 885,3253.3 890,3253.9 895,3253.4 900,3253.7 905,3254.3 910,3254.5 915,3253.9 920,3254.2 925,3254.4 930,3255.5 935,3255.6 940,3256.2 945,3256.2 950,3256 955.1,3255.9 960.1,3256.9 965.2,3257.5 970.3,3256.8 975.3,3256.6 980.4,3257.4 985.5,3257.5 990.5,3257.7 995.6,3257.7 1000.7,3258.1 1005.8,3259.4 1010.8,3258.5 1015.9,3259.6 1021,3259.3 1026,3259.5 1031.1,3260.7 1036.2,3260.2 1041.2,3260.3 1046.3,3261 1051.6,3261.2 1056.8,3261.8 1062.1,3261.9 1067.4,3262.6 1072.6,3262.3 1077.9,3262.7 1083.2,3263.3 1088.4,3263.2 1093.7,3263.9 1098.9,3263.8 1104.2,3263.6 1109.5,3263.9 1114.7,3265.1 1120,3265 1125.6,3265.6 1131.2,3266.1 1136.7,3266 1142.3,3266.1 1147.9,3265.8 1153.4,3267 1159,3266.2 1164.6,3267" fill="none" stroke="#1414f5" stroke-width="2.6" stroke-linejoin="round" stroke-linecap="round"/>
<polyline points="355,3282 360,3280.5 365,3279.7 370,3278.8 375,3278.5 380,3277 385,3276.2 390,3275.6 395,3274 400,3273.7 405,3273.2 410,3272 415,3271.7 420,3271.9 425,3271.5 430,3270.5 435,3269.7 440,3270 445,3270.3 450,3269.6 455,3269.5 460,3270.4 465,3270.6 470,3270.7 475,3270.8 480,3270 485,3269.9 490,3270 495,3271 500,3270 505,3270.1 510,3270 515,3270.1 520,3270.1 525,3270.5 530,3270.3 535,3270.6 540,3271.3 545,3270.5 550,3271.3 555,3271.2 560,3271 565,3270.7 570,3270.3 575,3270.2 580,3269.6 585,3268.8 590,3268.5 595,3268.1 600,3268 605,3267.8 610,3268.4 615,3267.6 620,3267.1 625,3267.5 630,3267.8 635,3267.2 640,3267.4 645,3266.6 650,3266.5 655,3267.1 660,3266.3 665,3266.5 670,3266.5 675,3266.1 680,3265.8 685,3265.7 690,3266.7 695,3266.3 700,3266 705,3266.6 710,3266.1 715,3266.7 720,3266.6 725,3266.4 730,3266.3 735,3266.4 740,3266.1 745,3266.3 750,3266.8 755,3266.2 760,3267 765,3266.7 770,3266.8 775,3267.1 780,3267 785,3266.4 790,3266.6 795,3266.4 800,3266.4 805,3267.6 810,3267.2 815,3267.7 820,3267.5 825,3267 830,3267.9 835,3267.9 840,3267.3 845,3266.9 850,3267.3 855,3267.1 860,3267.4 865,3267.1 870,3268 875,3268.3 880,3267.5 885,3268.2 890,3268 895,3267.9 900,3268 905.1,3268.5 910.2,3267.9 915.3,3268.5 920.4,3267.6 925.4,3268.8 930.5,3267.8 935.6,3267.7 940.7,3268.8 945.8,3268.6 950.9,3268.6 956,3268.7 961.1,3268.3 966.1,3268 971.2,3268.3 976.3,3269.1 981.4,3269.2 986.5,3268.3 991.6,3268.6 996.7,3268.7 1001.8,3269.3 1006.9,3268.2 1011.9,3269.2 1017,3268.6 1022.1,3269 1027.2,3268.5 1032.3,3268.5 1037.4,3269.5 1042.5,3269.1 1047.6,3269.7 1052.7,3269.6 1057.7,3269.5 1062.8,3268.7 1067.9,3269.4 1073,3269.9 1078.1,3269.3 1083.2,3268.9 1088.3,3269 1093.4,3270 1098.4,3270.1 1103.5,3269.2 1108.6,3269.4 1113.7,3269.9 1118.8,3269.7 1123.9,3269.3 1129,3270.3 1134.1,3269.9 1139.2,3269.6 1144.2,3269.3 1149.3,3269.9 1154.4,3270.2 1159.5,3269.6 1164.6,3270" fill="none" stroke="#1414f5" stroke-width="2.4" stroke-linejoin="round" stroke-linecap="round"/>
<polygon points="1323.5,3284 1390,3284 1410,3279 1427.6,3271 1500,3270 1600,3268 1800,3262 2000,3257 2200,3252 2325,3248 2325,3303.6 1900,3301 1600,3299 1427.6,3298 1323.5,3296" fill="#1414f5"/>
<polyline points="1770,3250 1777,3245.7 1784,3241.5 1790,3230 1796,3223.5 1802,3222 1808,3219.5 1814.4,3218 1820.8,3217.8 1826.6,3218.3 1832.5,3220.1 1838.3,3220.6 1844.2,3220.6 1850,3222 1856,3223.2 1862,3225.3 1868,3226.1 1874,3227.6 1879.1,3227.8 1884.2,3229.9 1889.4,3229.7 1894.5,3231.2 1899.6,3232.1 1904.8,3232.7 1909.9,3234.3 1915,3234.5 1920.1,3234.9 1925.2,3236.4 1930.3,3236.6 1935.3,3238.7 1940.4,3238.4 1945.5,3239.8 1950.6,3241.1 1955.7,3241.5 1960.7,3242.4 1965.7,3241.6 1970.8,3243.1 1975.8,3243.4 1980.8,3243 1985.8,3243.9 1990.9,3243.5 1995.9,3243.8 2000.9,3244.1 2005.9,3244.7 2011,3245.8 2016,3245.6 2021,3246" fill="none" stroke="#1414f5" stroke-width="2.6" stroke-linejoin="round" stroke-linecap="round"/>
<polyline points="2050,3248 2058,3244 2061,3225 2066,3211 2074,3205.5 2079.2,3206.2 2084.5,3206.9 2089.8,3207.7 2095,3209 2101,3210.8 2107,3211.5 2113,3212.8 2119,3213.7 2124.1,3215.5 2129.2,3217 2134.4,3219.2 2139.5,3220.8 2144.6,3222.8 2149.8,3224.4 2154.9,3226.3 2160,3227.6 2166.2,3229.1 2172.3,3230.3 2178.4,3231.9 2184.6,3234" fill="none" stroke="#1414f5" stroke-width="2.6" stroke-linejoin="round" stroke-linecap="round"/>
<polyline points="2170,3236 2177.3,3234 2184.6,3231.7 2190.3,3222.7 2196,3215 2202.5,3206.7 2209,3199 2214.3,3196.9 2219.7,3196 2225,3194 2230.6,3193.2 2236.2,3192.4 2241.8,3190.8 2247.9,3189.6 2253.9,3189.5 2260,3189 2266.2,3187.8 2272.4,3187.6 2278.6,3187.5 2283.7,3189.4 2288.8,3190.5 2293.9,3192.6 2299,3194.9 2304.5,3199.2 2310,3203 2319.5,3211" fill="none" stroke="#1414f5" stroke-width="2.6" stroke-linejoin="round" stroke-linecap="round"/>
<polyline points="2060,3240 2065,3237.9 2070,3237.3 2075,3235 2080,3233.9 2085,3232.7 2090,3231.4 2095,3229.4 2100,3228 2105,3227.2 2110,3225.8 2115,3225.7 2120,3224.8 2125,3224.7 2130,3223.6 2135,3223.1 2140,3222 2145,3222.6 2150,3222.9 2155,3224.5 2160,3225.1 2165,3225.2 2170,3226 2175,3226.4 2180,3228 2185,3229 2190,3230.4 2195,3231.1 2200,3232 2205,3231.4 2210,3230.9 2215,3230.1 2220,3229 2225,3228.5 2230,3229.1 2235,3228.4 2240,3227 2245,3227.3 2250,3226.2 2255,3225 2260,3225 2265,3223.9 2270,3221.9 2275,3220.7 2280,3218.8 2285,3216.3 2290,3215.4 2295,3214 2300,3212 2305,3210.2 2310,3207 2315,3204.8 2320,3202.7 2325,3200" fill="none" stroke="#1414f5" stroke-width="2.6" stroke-linejoin="round" stroke-linecap="round"/>
<polyline points="2270,3232 2275,3229.9 2280,3228.1 2285,3226.5 2290,3223.5 2295,3222 2300,3215.9 2305,3210 2310,3205 2315,3200.1 2320,3195.6 2325,3192" fill="none" stroke="#1414f5" stroke-width="2.6" stroke-linejoin="round" stroke-linecap="round"/>
<polyline points="1405,3282 1410.5,3275.7 1416,3270 1425,3266 1430,3266.1 1435,3265.7 1440,3266.5 1445,3266.5 1450,3266.3 1455,3266.4 1460,3266.9 1465,3266.9 1470,3267.4 1475,3268.2 1480,3268 1485,3267.4 1490,3268.2 1495,3267.5 1500,3268.4 1505,3268.3 1510,3267.6 1515,3268.5 1520,3268" fill="none" stroke="#1414f5" stroke-width="2.6" stroke-linejoin="round" stroke-linecap="round"/>
<polyline points="1620,3262 1625,3260.8 1630,3258.4 1635,3256.9 1640,3255 1645,3254.8 1650,3253.1 1655,3252.8 1660,3252 1665,3252.1 1670,3252.6 1675,3251.3 1680,3251.4 1685,3251.7 1690,3252.5 1695,3252.5 1700,3252 1705,3251.2 1710,3251.9 1715,3251 1720,3251.3 1725,3250.9 1730,3249.4 1735,3250.3 1740,3249.3 1745,3248.5 1750,3248.6 1755,3247.7 1760,3248 1765,3248.2 1770,3247.8 1775,3247.1 1780,3247.1 1785,3247.4 1790,3247.6 1795,3246.8 1800,3247" fill="none" stroke="#1414f5" stroke-width="2.6" stroke-linejoin="round" stroke-linecap="round"/>
<polyline points="1740,3256 1745,3253.3 1750,3250.9 1755,3248.4 1760,3246 1765,3245.2 1770,3244.8 1775,3244 1780,3242.9 1785,3242.8 1790,3241.6 1795,3241.1 1800,3241 1805,3240.6 1810,3241.6 1815,3240.8 1820,3240.9 1825,3241.3 1830,3241.3 1835,3240.7 1840,3240.2 1845,3240.6 1850,3240.3 1855,3241.1 1860,3239.7 1865,3240.2 1870,3240.6 1875,3240.4 1880,3240.3 1885,3240.5 1890,3239.7 1895,3240.5 1900,3240 1905,3240.7 1910,3239.5 1915,3240.1 1920,3240.2 1925,3240.3 1930,3240.7 1935,3240.4 1940,3241 1945,3241.4 1950,3241.6 1955,3241.6 1960,3240.8 1965,3241.6 1970,3241.8 1975,3241.6 1980,3241.8 1985,3241.4 1990,3242.2 1995,3241.5 2000,3242" fill="none" stroke="#1414f5" stroke-width="2.6" stroke-linejoin="round" stroke-linecap="round"/>
<polyline points="1600,3266 1606.1,3265.4 1612.1,3265.5 1618.2,3264.7 1624.2,3265.3 1630.3,3264.4 1636.4,3263.9 1642.4,3264.5 1648.5,3264 1654.5,3263.8 1660.6,3263.2 1666.7,3262.2 1672.7,3262.2 1678.8,3261.6 1684.8,3262.2 1690.9,3260.7 1697,3261.6 1703,3260.3 1709.1,3260.2 1715.2,3260.4 1721.2,3260.2 1727.3,3259.7 1733.3,3259.4 1739.4,3259.2 1745.5,3258.9 1751.5,3257.8 1757.6,3257.8 1763.6,3257.1 1769.7,3257.6 1775.8,3256.9 1781.8,3256.5 1787.9,3256.2 1793.9,3257 1800,3256 1806.1,3255.2 1812.1,3256.3 1818.2,3256.1 1824.2,3254.8 1830.3,3255.6 1836.4,3254.4 1842.4,3255 1848.5,3253.9 1854.5,3254.1 1860.6,3254.2 1866.7,3253.8 1872.7,3254.3 1878.8,3253.9 1884.8,3252.7 1890.9,3253.4 1897,3252.4 1903,3252.4 1909.1,3252.6 1915.2,3252.2 1921.2,3252.5 1927.3,3253 1933.3,3252.4 1939.4,3251.9 1945.5,3252.2 1951.5,3250.9 1957.6,3251.6 1963.6,3251.8 1969.7,3251.6 1975.8,3250.7 1981.8,3250.7 1987.9,3250.2 1993.9,3250.1 2000,3250 2006.1,3250.5 2012.1,3248.8 2018.2,3249.7 2024.2,3248.3 2030.3,3248.6 2036.4,3248.3 2042.4,3247.2 2048.5,3247.5 2054.5,3246.5 2060.6,3247.7 2066.7,3247.4 2072.7,3246.5 2078.8,3246.5 2084.8,3246.1 2090.9,3245 2097,3244.5 2103,3244.6 2109.1,3244.4 2115.2,3244.2 2121.2,3244.2 2127.3,3244.1 2133.3,3243.4 2139.4,3242.2 2145.5,3242.5 2151.5,3242.6 2157.6,3242.7 2163.6,3241 2169.7,3241.9 2175.8,3241.2 2181.8,3240.7 2187.9,3241.2 2193.9,3240 2200,3240 2206.2,3239.2 2212.5,3239.3 2218.8,3239 2225,3237.9 2231.2,3238 2237.5,3237.2 2243.8,3237.6 2250,3236.1 2256.2,3237 2262.5,3236 2268.8,3235.1 2275,3234.9 2281.2,3235.2 2287.5,3234.4 2293.8,3233.4 2300,3233 2306.2,3232.5 2312.5,3232.9 2318.8,3232.7 2325,3232" fill="none" stroke="#1414f5" stroke-width="2.6" stroke-linejoin="round" stroke-linecap="round"/>
<polyline points="1700,3262 1706.1,3261.6 1712.1,3261.4 1718.2,3261.4 1724.2,3260.3 1730.3,3259.9 1736.4,3260.1 1742.4,3259.4 1748.5,3258.9 1754.5,3258.6 1760.6,3258.1 1766.7,3257.5 1772.7,3257.8 1778.8,3257.9 1784.8,3257.2 1790.9,3256.8 1797,3255.9 1803,3255.7 1809.1,3254.9 1815.2,3255.5 1821.2,3254.4 1827.3,3254 1833.3,3254.8 1839.4,3253.4 1845.5,3254 1851.5,3253.1 1857.6,3253 1863.6,3252.4 1869.7,3251.3 1875.8,3251.8 1881.8,3250.7 1887.9,3250.6 1893.9,3249.8 1900,3250 1906.1,3249.1 1912.1,3249.4 1918.2,3248.6 1924.2,3249 1930.3,3249.5 1936.4,3249.5 1942.4,3248.4 1948.5,3247.7 1954.5,3247.8 1960.6,3247.2 1966.7,3247.2 1972.7,3247.6 1978.8,3247.4 1984.8,3246.3 1990.9,3246.8 1997,3246.5 2003,3246.2 2009.1,3245.6 2015.2,3245.8 2021.2,3245.1 2027.3,3245.8 2033.3,3245.6 2039.4,3245.3 2045.5,3244.8 2051.5,3245.4 2057.6,3244.3 2063.6,3243.8 2069.7,3243.9 2075.8,3244.5 2081.8,3243.1 2087.9,3243.8 2093.9,3243.9 2100,3243 2106,3243.3 2112,3242.4 2118,3242.1 2124,3242.5 2130,3241.9 2136,3241.8 2142,3240.5 2148,3240.9 2154,3240.9 2160,3239.8 2166,3239.5 2172,3240.2 2178,3239.5 2184,3238.9 2190,3238.8 2196,3238.1 2202,3237.8 2208,3237.3 2214,3237.5 2220,3236.8 2226,3237.8 2232,3237.6 2238,3236.7 2244,3235.6 2250,3236 2256.2,3235.4 2262.5,3233.9 2268.8,3233.5 2275,3232.4 2281.2,3232.2 2287.5,3230.8 2293.8,3230.4 2300,3229.6 2306.2,3229.2 2312.5,3229.2 2318.8,3227.9 2325,3227" fill="none" stroke="#1414f5" stroke-width="2.6" stroke-linejoin="round" stroke-linecap="round"/>
<polyline points="1500,3268 1506.1,3268.4 1512.1,3266.9 1518.2,3267.9 1524.2,3266.5 1530.3,3266.6 1536.4,3267 1542.4,3265.9 1548.5,3265.8 1554.5,3265 1560.6,3266 1566.7,3265.8 1572.7,3264.2 1578.8,3263.9 1584.8,3264.1 1590.9,3263.9 1597,3264.1 1603,3263.1 1609.1,3263.2 1615.2,3262.3 1621.2,3262.1 1627.3,3261.6 1633.3,3262.1 1639.4,3261.8 1645.5,3261.6 1651.5,3261.9 1657.6,3260.6 1663.6,3260.4 1669.7,3260.3 1675.8,3260.8 1681.8,3259.5 1687.9,3259.2 1693.9,3259.2 1700,3259 1706.1,3259.2 1712.1,3258.3 1718.2,3258 1724.2,3258.8 1730.3,3258.4 1736.4,3258.2 1742.4,3257.2 1748.5,3257.4 1754.5,3257 1760.6,3257.3 1766.7,3258 1772.7,3258 1778.8,3257.6 1784.8,3256.7 1790.9,3256.8 1797,3257.2 1803,3256.2 1809.1,3256.1 1815.2,3256.5 1821.2,3255.7 1827.3,3255.8 1833.3,3255.4 1839.4,3256 1845.5,3255.4 1851.5,3254.6 1857.6,3254.3 1863.6,3255.1 1869.7,3254.1 1875.8,3254.9 1881.8,3254 1887.9,3254.4 1893.9,3253.9 1900,3254 1906.1,3254.1 1912.1,3253.1 1918.2,3253.4 1924.2,3253.6 1930.3,3252.9 1936.4,3253.9 1942.4,3253.7 1948.5,3253.5 1954.5,3253.3 1960.6,3253.2 1966.7,3252.4 1972.7,3252.7 1978.8,3251.9 1984.8,3251.2 1990.9,3252.4 1997,3252.2 2003,3251 2009.1,3251.1 2015.2,3250.7 2021.2,3251.3 2027.3,3250.3 2033.3,3251.2 2039.4,3249.8 2045.5,3250.2 2051.5,3250.7 2057.6,3250 2063.6,3249.3 2069.7,3249 2075.8,3249.9 2081.8,3248.8 2087.9,3249 2093.9,3249.3 2100,3249 2106.1,3248.5 2112.2,3247.8 2118.2,3248.7 2124.3,3248.4 2130.4,3248 2136.5,3246.9 2142.6,3247.3 2148.6,3247.8 2154.7,3246.8 2160.8,3246.2 2166.9,3247 2173,3245.8 2179.1,3245.9 2185.1,3245.1 2191.2,3245.9 2197.3,3245.4 2203.4,3244.9 2209.5,3244.6 2215.5,3244.1 2221.6,3244.1 2227.7,3243.9 2233.8,3242.9 2239.9,3243.7 2245.9,3243.6 2252,3242.2 2258.1,3242.1 2264.2,3242.8 2270.3,3241.9 2276.4,3241.4 2282.4,3242 2288.5,3242.2 2294.6,3241 2300.7,3241.1 2306.8,3240.8 2312.8,3240.6 2318.9,3240.4 2325,3240" fill="none" stroke="#1414f5" stroke-width="2.6" stroke-linejoin="round" stroke-linecap="round"/>
<polyline points="1900,3252 1906,3251.6 1912,3251 1918,3251.7 1924,3250.7 1930,3249.7 1936,3250.5 1942,3249.1 1948,3249 1954,3248.4 1960,3249 1966,3249 1972,3248.3 1978,3247.4 1984,3248.1 1990,3247.8 1996,3246.6 2002,3246.2 2008,3246.5 2014,3246.7 2020,3246.3 2026,3245.9 2032,3245.3 2038,3244.2 2044,3244.5 2050,3244 2056,3243.6 2062,3243.6 2068,3243 2074,3242.2 2080,3243 2086,3241.3 2092,3241.5 2098,3241.2 2104,3241.9 2110,3240.2 2116,3240.6 2122,3240.9 2128,3240 2134,3240.2 2140,3239 2146,3238.8 2152,3238.4 2158,3238 2164,3237.7 2170,3236.9 2176,3238.1 2182,3237.3 2188,3236.9 2194,3236.4 2200,3236 2206.2,3234.8 2212.5,3234.2 2218.8,3234.6 2225,3233.7 2231.2,3232.4 2237.5,3232.2 2243.8,3231.8 2250,3229.7 2256.2,3229.5 2262.5,3228.8 2268.8,3228 2275,3227.7 2281.2,3226.6 2287.5,3225.6 2293.8,3226.1 2300,3224.7 2306.2,3224.6 2312.5,3222.8 2318.8,3222.4 2325,3222" fill="none" stroke="#1414f5" stroke-width="2.6" stroke-linejoin="round" stroke-linecap="round"/>
<polyline points="2000,3251 2006,3250.8 2012,3250.8 2018,3250.2 2024,3250.9 2030,3249.2 2036,3250.6 2042,3249.9 2048,3249.9 2054,3249.7 2060,3248.5 2066,3249.3 2072,3248.8 2078,3247.8 2084,3248.8 2090,3247.9 2096,3248.2 2102,3246.9 2108,3247.7 2114,3246.4 2120,3246.3 2126,3246.2 2132,3245.9 2138,3246.5 2144,3245.8 2150,3246 2156.1,3245.3 2162.2,3246.1 2168.3,3245.8 2174.4,3244.9 2180.6,3244.4 2186.7,3245.1 2192.8,3244.5 2198.9,3244 2205,3243.7 2211.1,3243.6 2217.2,3243.5 2223.3,3242.8 2229.4,3242.3 2235.6,3242.8 2241.7,3242.2 2247.8,3241.7 2253.9,3241.9 2260,3242 2266.5,3241.7 2273,3241.3 2279.5,3239.4 2286,3240.1 2292.5,3238.7 2299,3239 2305.5,3238.4 2312,3236.9 2318.5,3236.8 2325,3236" fill="none" stroke="#1414f5" stroke-width="2.6" stroke-linejoin="round" stroke-linecap="round"/>
<polyline points="1800,3258 1806.1,3257.7 1812.1,3257.4 1818.2,3258.2 1824.2,3257.4 1830.3,3257.4 1836.4,3257.4 1842.4,3256.9 1848.5,3257.3 1854.5,3257.5 1860.6,3256.1 1866.7,3256.8 1872.7,3256.2 1878.8,3256.7 1884.8,3256.5 1890.9,3255.5 1897,3255.4 1903,3256 1909.1,3256.4 1915.2,3256.2 1921.2,3256.1 1927.3,3254.9 1933.3,3255.1 1939.4,3255.3 1945.5,3254.9 1951.5,3254.5 1957.6,3255.5 1963.6,3254.9 1969.7,3254.4 1975.8,3254.4 1981.8,3254.7 1987.9,3254.7 1993.9,3254.6 2000,3254 2006.1,3253.5 2012.1,3254.3 2018.2,3253.7 2024.2,3252.7 2030.3,3252.3 2036.4,3252.4 2042.4,3251.9 2048.5,3252.7 2054.5,3251 2060.6,3252.1 2066.7,3250.8 2072.7,3251.6 2078.8,3250.7 2084.8,3250 2090.9,3251.1 2097,3250 2103,3250.6 2109.1,3249.4 2115.2,3249 2121.2,3249.2 2127.3,3248.4 2133.3,3248.8 2139.4,3248.8 2145.5,3248.4 2151.5,3247.1 2157.6,3248 2163.6,3247.1 2169.7,3247.1 2175.8,3247.5 2181.8,3247.3 2187.9,3245.9 2193.9,3245.6 2200,3246 2206.2,3246.3 2212.5,3245.7 2218.8,3246 2225,3245.8 2231.2,3246.3 2237.5,3246 2243.8,3246.1 2250,3245.8 2256.2,3245.2 2262.5,3244.9 2268.8,3244.4 2275,3245.3 2281.2,3244.7 2287.5,3244.6 2293.8,3244.2 2300,3244.1 2306.2,3244.3 2312.5,3244.4 2318.8,3243.8 2325,3244" fill="none" stroke="#1414f5" stroke-width="2.6" stroke-linejoin="round" stroke-linecap="round"/>
<polyline points="169,2219 175,2218.7 181,2219.2 187,2219.1 193,2218.7 199,2218.8 205,2218.8 211,2218.9 217,2219 223,2218.4 229,2218.3 235,2218.9 241,2218.6 247,2218.8 253,2218.2 259,2218.5 265,2218.7 271,2218.2 277,2218.8 283,2218.7 289,2218 295,2217.9 301,2218.3 307,2218.6 313,2218.1 319,2218 325,2218.1 331,2217.8 337,2217.9 343,2218 349,2218 355,2218 357,2205 360,2175 364,2150 369,2132 376.4,2121.5 382.7,2121.5 389,2122 396,2122.8 403,2123.8 410,2125 416.7,2126.6 423.3,2128.2 430,2129.6 436.7,2131.9 443.3,2133.4 450,2135 456.2,2137 462.5,2138.5 468.8,2141 475,2142.8 481.2,2144.1 487.5,2146.1 493.8,2148.3 500,2150 506,2152 512,2153.9 518,2155.3 524,2157.5 530,2159.1 536,2160.6 542,2162.7 548,2164.7 554,2166.5 560,2168 566.7,2169.9 573.3,2171.9 580,2173.4 586.7,2175.5 593.3,2177.9 600,2179.6 607.3,2181.2 614.7,2182.7 622,2184.6 628.1,2185.7 634.2,2186.9 640.3,2188 646.4,2188.8 652.5,2190 658.6,2191.1 664.7,2192.4 670.8,2193.3 676.9,2194.2 683,2195.4 689.2,2196.2 695.4,2196.7 701.5,2197.5 707.7,2198.9 713.9,2200 720.1,2200.5 726.3,2201.2 732.5,2201.8 738.6,2202.9 744.8,2204.1 751,2204.6 757.3,2205.3 763.7,2205.5 770,2206.3 776.3,2206.2 782.7,2206.9 789,2207.7 795.3,2207.9 801.7,2208.2 808,2208.7 814.4,2208.8 820.8,2209.3 827.2,2209.9 833.5,2209.5 839.9,2210.4 846.3,2210.7 852.7,2211.1 859.1,2211.2 865.5,2211.6 871.8,2211.6 878.2,2212 884.6,2212.1 891,2212.5 897.3,2212.3 903.5,2213.2 909.8,2213.1 916.1,2213 922.4,2213.4 928.6,2213.6 934.9,2213.7 941.2,2213.8 947.5,2214.2 953.7,2214.4 960,2214.5 966.1,2214.6 972.3,2214.5 978.4,2214.1 984.6,2214.3 990.7,2214.2 996.9,2214.6 1003,2214.8 1009.2,2214.7 1015.3,2214.7 1021.5,2214.8 1027.6,2214.3 1033.8,2214.8 1039.9,2214.6 1046.1,2214.2 1052.2,2214.1 1058.3,2214.1 1064.5,2214.7 1070.6,2214.3 1076.8,2214.2 1082.9,2214.6 1089.1,2214.4 1095.2,2214.2 1101.4,2214.2 1107.5,2214.5 1113.7,2214.2 1119.8,2214.3 1126,2214.7 1132.1,2214.5 1138.3,2214.4 1144.4,2214.5 1150.6,2214.1 1156.7,2214.5" fill="none" stroke="#ff2a0a" stroke-width="3.2" stroke-linejoin="round" stroke-linecap="round"/>
<polyline points="169,2218.5 175,2218.9 181,2218.9 187,2218 193,2218 199.1,2218.7 205.1,2218.6 211.1,2218.5 217.1,2218.2 223.1,2218.4 229.1,2218.4 235.1,2218.4 241.1,2217.9 247.2,2218.2 253.2,2218.1 259.2,2218.5 265.2,2218.7 271.2,2218.6 277.2,2218.2 283.2,2218.1 289.2,2217.9 295.3,2217.7 301.3,2217.6 307.3,2218 313.3,2217.9 319.3,2217.9 325.3,2218.4 331.3,2218 337.3,2218.1 343.3,2217.7 349.4,2217.5 355.4,2217.8 361.4,2217.6 367.4,2217.9 373.4,2218.4 379.4,2218 385.4,2217.5 391.4,2218.2 397.5,2218.1 403.5,2218 409.5,2218.2 415.5,2218 421.5,2218 427.5,2217.6 433.5,2218.2 439.5,2218.1 445.6,2217.3 451.6,2217.9 457.6,2217.8 463.6,2217.6 469.6,2217.6 475.6,2217.6 481.6,2218 487.6,2217.5 493.7,2217.9 499.7,2217.4 505.7,2217.9 511.7,2217.9 517.7,2217.4 523.7,2217.5 529.7,2217.8 535.7,2217.6 541.7,2217.4 547.8,2217.1 553.8,2217.2 559.8,2217.5 565.8,2217 571.8,2217.7 577.8,2217 583.8,2217.7 589.8,2217 595.9,2217.7 601.9,2217.4 607.9,2217.2 613.9,2217.2 619.9,2217.3 625.9,2217.2 631.9,2216.9 637.9,2216.8 644,2217.1 650,2217.5 656,2217.2 662,2216.6 668,2217 673,2213 680,2212 684,2209 690,2190 697,2160 704,2135 712.4,2113 720.7,2102.5 727.7,2100.3 734.6,2097.7 741.6,2095 751,2093.5 762.4,2091 768.7,2091.7 774.9,2091.2 781.2,2092 787.5,2091.6 793.7,2092.4 800,2092.5 806.2,2092.7 812.5,2093.2 818.7,2094.3 824.9,2094 831.2,2094.8 837.4,2095.6 843.6,2095.5 849.9,2095.9 856.1,2097.1 862.4,2097.1 868.6,2097.8 874.8,2097.6 881.1,2098.4 887.3,2099 893.5,2101.5 899.8,2104.6 906.4,2105.6 913.1,2105.9 919.7,2107.6 926.4,2107.5 933,2108.8 941.4,2111.7 946,2107 951.8,2104.6 958.2,2105.1 964.5,2104.8 970.9,2105.3 977.3,2106.2 983.6,2105.8 990,2106.5 996.7,2106.8 1003.4,2107.9 1010.1,2108.2 1016.8,2108.5 1023.5,2109.6 1030.3,2109.7 1037.2,2108.8 1043.3,2106.9 1049.4,2105.3 1055.5,2104 1061.7,2102.7 1067.8,2101.3 1073.9,2099.2 1080,2098 1086.4,2096.1 1092.7,2094.1 1099.1,2092.8 1105.5,2091.4 1111.9,2089.6 1118.2,2088 1124.6,2085.9 1130.9,2081 1138.2,2080.6 1145.5,2079.6 1156.7,2076.7" fill="none" stroke="#ff8c0a" stroke-width="3.2" stroke-linejoin="round" stroke-linecap="round"/>
<polyline points="169,2218 175,2217.8 181,2218 187.1,2217.9 193.1,2218 199.1,2218.1 205.1,2217.6 211.1,2217.5 217.2,2218.2 223.2,2217.7 229.2,2217.7 235.2,2218.3 241.2,2217.9 247.3,2218.1 253.3,2217.8 259.3,2218 265.3,2217.6 271.3,2217.9 277.4,2218.1 283.4,2217.8 289.4,2218 295.4,2217.9 301.4,2217.4 307.5,2218 313.5,2217.8 319.5,2217.6 325.5,2217.4 331.5,2218 337.6,2217.7 343.6,2217.9 349.6,2218 355.6,2217.9 361.6,2218 367.7,2217.6 373.7,2217.9 379.7,2217.6 385.7,2218 391.7,2217.9 397.8,2217.3 403.8,2217.3 409.8,2217.4 415.8,2218 421.8,2217.5 427.9,2217.7 433.9,2217.4 439.9,2217.6 445.9,2217.5 451.9,2217.4 458,2217.6 464,2217.6 470,2217.8 476,2217.6 482,2217.8 488.1,2217.8 494.1,2217.9 500.1,2217.6 506.1,2217.2 512.1,2217.7 518.2,2217.8 524.2,2217.7 530.2,2217.5 536.2,2217.6 542.2,2217.2 548.3,2217.6 554.3,2217.4 560.3,2217.2 566.3,2217 572.3,2217.6 578.4,2217.7 584.4,2217 590.4,2217.5 596.4,2217.2 602.4,2217 608.5,2217.1 614.5,2217.5 620.5,2217.6 626.5,2216.9 632.5,2217.3 638.5,2216.9 644.6,2217.4 650.6,2217.1 656.6,2217.5 662.6,2217.6 668.6,2217.2 674.7,2217.6 680.7,2217 686.7,2216.8 692.7,2217.2 698.7,2216.8 704.8,2216.9 710.8,2217 716.8,2217.2 722.8,2216.8 728.8,2216.7 734.9,2217.4 740.9,2216.9 746.9,2217.4 752.9,2217.4 758.9,2216.9 765,2217 771,2217 777,2217.1 783,2217.1 789,2217 795.1,2217.1 801.1,2217.3 807.1,2217 813.1,2216.9 819.1,2217.1 825.2,2216.7 831.2,2216.7 837.2,2217.3 843.2,2216.9 849.2,2216.9 855.3,2216.5 861.3,2216.8 867.3,2216.9 873.3,2216.5 879.3,2216.9 885.4,2216.9 891.4,2216.5 897.4,2216.9 903.4,2216.8 909.4,2216.9 915.5,2216.7 921.5,2216.9 927.5,2216.9 933.5,2216.4 939.5,2216.4 945.6,2216.9 951.6,2217.1 957.6,2216.5 963.6,2216.7 969.6,2216.8 975.7,2216.5 981.7,2216.6 987.7,2216.5 993.7,2216.5 999.7,2216.7 1005.8,2216.5 1011.8,2216.5 1017.8,2216.8 1023.8,2216.2 1029.8,2216.6 1035.9,2216.8 1041.9,2216.4 1047.9,2216.3 1053.9,2216.8 1059.9,2216.3 1066,2216.3 1072,2216.5 1078,2216.5 1080.9,2213 1083,2195 1087,2163 1090,2154 1093.4,2150.4 1099.6,2147.5 1106.3,2147.2 1113,2146.3 1119.6,2146.1 1126.3,2145.7 1133,2145.4 1140.9,2146.2 1148.8,2146.4 1156.7,2147" fill="none" stroke="#ffee00" stroke-width="3.2" stroke-linejoin="round" stroke-linecap="round"/>
<polyline points="169,2217.4 400,2217.9 700,2216.9 1000,2215.9 1156.7,2215.2" fill="none" stroke="#10e010" stroke-width="2.6" stroke-linejoin="round" stroke-linecap="round"/>
<polyline points="169,2218 400,2218.5 700,2217.5 1000,2216.5 1156.7,2215.8" fill="none" stroke="#10e8ff" stroke-width="2.6" stroke-linejoin="round" stroke-linecap="round"/>
<polyline points="169,2219 190,2218.8 211,2218.8 232,2219.1 253,2218.9 274,2218.9 295,2219.2 316,2219.7 337,2219.6 358,2219.6 379,2219.2 400,2219.5 420,2219.5 440,2219.2 460,2219 480,2218.9 500,2218.9 520,2219.4 540,2219.3 560,2219.2 580,2219.1 600,2218.6 620,2218.6 640,2218.8 660,2218.8 680,2218.9 700,2218.5 720,2218.7 740,2218 760,2218.4 780,2218.4 800,2218.2 820,2217.8 840,2218 860,2217.6 880,2218.2 900,2218.1 920,2217.8 940,2217.5 960,2218 980,2217.6 1000,2217.5 1022.4,2217.7 1044.8,2217.6 1067.2,2217.2 1089.5,2217 1111.9,2217.1 1134.3,2216.8 1156.7,2216.8" fill="none" stroke="#0a3cff" stroke-width="4.2" stroke-linejoin="round" stroke-linecap="round"/>
<polyline points="1332.4,2218 1338.4,2217.9 1344.5,2218 1350.5,2218.3 1356.5,2217.7 1362.6,2217.7 1368.6,2217.8 1374.6,2217.2 1380.7,2217.5 1386.7,2217.6 1392.8,2217.8 1398.8,2216.9 1404.8,2217.1 1410.9,2216.7 1416.9,2217.5 1422.9,2217.3 1429,2216.5 1435,2217 1441.5,2217.2 1448,2216.9 1454.5,2216.1 1461,2215.7 1467.5,2214.8 1474,2214.3 1480.5,2214.6 1487,2213.7 1493.5,2213.5 1500,2213.5 1506,2212.9 1512,2212.3 1518,2212.6 1524,2212.2 1530,2212.4 1536,2211.7 1542,2211.6 1548,2211.1 1554,2211 1560,2210.5 1566.5,2210.2 1573.1,2209.7 1579.6,2210.2 1586.2,2209.9 1592.7,2209.5 1599.3,2209 1605.8,2208.3 1612.4,2207.9 1618.9,2207.9 1621,2150 1622.5,2000 1625,1850.6 1628,1810 1633.5,1767.4 1639,1742 1646,1721.6 1652,1709 1658.4,1700.7 1665,1696 1671,1693.7 1680,1695.7 1690,1698.5 1696,1700.4 1702,1702.8 1708.3,1706.4 1714.7,1711 1723,1718.7 1731.3,1725.7 1738.2,1731.1 1745.1,1737.2 1752,1742.4 1763,1755 1773,1769.4 1781.3,1788 1785,1794 1789.6,1798.6 1800,1802.5 1807.3,1804.6 1814.6,1807 1821.9,1809.5 1829.2,1811.4 1836.5,1812.4 1843.8,1815 1849,1819 1854,1823.6 1860,1824.7 1866,1826.5 1873.7,1828 1881.3,1828.6 1887.5,1828.3 1893.7,1828.7 1899.8,1827.8 1906,1827.7 1912.3,1828.5 1918.6,1830.5 1924.9,1832 1931.1,1832.7 1937.4,1833.8 1943.7,1835.5 1950,1837 1956,1838.9 1962,1840 1968,1840.6 1974,1842.1 1980,1843.3 1986,1844.6 1992,1846.5 1998.4,1848 2004.9,1848.4 2011.3,1850.1 2017.8,1851.1 2024.2,1852 2030.7,1853.8 2037.1,1854.2 2043.6,1856 2050,1857 2056,1857.6 2062.1,1859 2068.1,1859.8 2074.2,1860.9 2080.2,1862.8 2086.3,1863.6 2092.3,1864.1 2098.4,1865.8 2104.4,1866.1 2110.5,1867.3 2116.5,1868.5 2122.6,1869.8 2128.7,1870.5 2134.9,1870.7 2141,1872.7 2147.1,1872.7 2153.2,1873.6 2159.3,1875.2 2165.4,1875.5 2171.6,1876.4 2177.7,1877.1 2183.8,1878 2189.9,1879.5 2196,1880 2202.2,1881.3 2208.3,1881.9 2214.4,1883 2220.6,1883.9 2226.8,1885.6 2232.9,1886 2239.1,1887.1 2245.3,1888.4 2251.5,1888.6 2257.6,1889.6 2263.8,1891.5 2270,1892 2276.1,1893.5 2282.1,1893.8 2288.2,1894.9 2294.2,1896.6 2300.3,1897.9 2306.4,1898.1 2312.4,1900.1 2318.5,1900.6" fill="none" stroke="#ff2a0a" stroke-width="3.2" stroke-linejoin="round" stroke-linecap="round"/>
<polyline points="1332.4,2217.5 1338.5,2217.4 1344.5,2217.7 1350.6,2217.7 1356.6,2216.9 1362.7,2216.6 1368.8,2217.2 1374.8,2217 1380.9,2217.9 1387,2217.7 1393,2217.5 1399.1,2217.4 1405.1,2217.6 1411.2,2216.7 1417.3,2217.2 1423.3,2216.7 1429.4,2217.9 1435.5,2216.5 1441.5,2217.7 1447.6,2216.5 1453.6,2217.5 1459.7,2216.9 1465.8,2217 1471.8,2217.7 1477.9,2216.3 1484,2216.4 1490,2217.7 1496.1,2217.1 1502.1,2216.4 1508.2,2217.8 1514.3,2217.7 1520.3,2216.4 1526.4,2216.8 1532.5,2216.4 1538.5,2216.6 1544.6,2217.1 1550.6,2216.4 1556.7,2217.2 1562.8,2216.1 1568.8,2216.3 1574.9,2217.3 1581,2216.7 1587,2216.7 1593.1,2216.9 1599.1,2216.7 1605.2,2216.6 1611.3,2216 1617.3,2217.1 1623.4,2217.4 1629.4,2217.4 1635.5,2216.9 1641.6,2216.4 1647.6,2216.4 1653.7,2216.9 1659.8,2216.9 1665.8,2216 1671.9,2216.1 1677.9,2216.3 1684,2216.6 1690.1,2217 1696.1,2216.5 1702.2,2215.7 1708.3,2217 1714.3,2216.3 1720.4,2216.5 1726.4,2216 1732.5,2216.3 1738.6,2216.2 1744.6,2216.8 1750.7,2215.7 1756.8,2216.4 1762.8,2215.8 1768.9,2216.6 1774.9,2215.5 1781,2215.9 1787.1,2216 1793.1,2216.5 1799.2,2215.5 1805.3,2216.1 1811.3,2215.7 1817.4,2215.8 1823.4,2216.1 1829.5,2216.9 1835.6,2216.1 1841.6,2216.8 1847.7,2215.6 1853.8,2216.7 1859.8,2215.8 1865.9,2215.5 1871.9,2216.4 1878,2216 1880,2213 1881.5,2120 1883.4,1996.4 1886,1940 1889.6,1892.3 1893.5,1848 1898,1813 1902,1789 1906.3,1771.5 1912,1757 1918.7,1746.5 1929,1733 1939.6,1723.6 1945.8,1719.2 1952,1713.5 1958.2,1708.5 1964.5,1705 1971.2,1701.6 1978,1699 1985,1696.6 1992,1693.3 1998.5,1689.9 2005,1687 2011.8,1683.1 2018.7,1680 2025.8,1676.2 2033,1674 2040.4,1671 2047.8,1669.5 2055.9,1668.2 2064,1666.5 2072.5,1666.3 2081,1664.5 2088,1664.5 2095,1662.8 2102,1662 2110,1664 2116.5,1667.4 2123,1664.5 2131,1663.3 2137.3,1662.9 2143.7,1663.8 2150,1664.5 2157.6,1665.9 2165.1,1667 2172.7,1667.4 2180.1,1669.2 2187.6,1670 2195,1672 2201.5,1674 2207.9,1675.8 2214.4,1677.8 2221.3,1679.1 2228.1,1679.6 2235,1681 2242,1682.7 2249,1683.6 2256,1684 2264.5,1687 2273,1691 2281.2,1694.5 2289.3,1698.7 2296.7,1701.9 2304,1704 2311.2,1705.5 2318.5,1707.8" fill="none" stroke="#ff8c0a" stroke-width="3.2" stroke-linejoin="round" stroke-linecap="round"/>
<polyline points="1332.4,2217.5 1338.5,2217.2 1344.5,2217.7 1350.6,2217.7 1356.6,2217.8 1362.7,2217 1368.7,2217 1374.8,2216.9 1380.8,2217 1386.9,2217.6 1392.9,2216.8 1399,2217.3 1405,2216.9 1411.1,2217 1417.1,2217.1 1423.2,2217.6 1429.2,2217.3 1435.3,2216.5 1441.3,2216.8 1447.4,2216.7 1453.4,2217.5 1459.5,2217.4 1465.5,2217.4 1471.6,2217.4 1477.7,2217.3 1483.7,2217.5 1489.8,2217.3 1495.8,2216.6 1501.9,2217.3 1507.9,2216.9 1514,2217.2 1520,2216.9 1526.1,2216.7 1532.1,2216.6 1538.2,2216.7 1544.2,2216.5 1550.3,2216.3 1556.3,2217.1 1562.4,2217 1568.4,2217.2 1574.5,2216.9 1580.5,2216.7 1586.6,2216.9 1592.6,2216.1 1598.7,2216.8 1604.7,2216.5 1610.8,2216.1 1616.9,2216.1 1622.9,2216.5 1629,2216.1 1635,2216.4 1641.1,2216.5 1647.1,2216.2 1653.2,2215.9 1659.2,2216.3 1665.3,2216 1671.3,2216 1677.4,2215.9 1683.4,2216.1 1689.5,2215.7 1695.5,2216.4 1701.6,2216.7 1707.6,2216 1713.7,2216.4 1719.7,2216.6 1725.8,2215.5 1731.8,2215.6 1737.9,2216.4 1743.9,2216.4 1750,2216 1756,2215.7 1762,2214.7 1768,2214.6 1774,2214.7 1780,2214.3 1786,2213.7 1792,2212.6 1798,2212.5 1804.5,2212.3 1811,2211 1817.4,2210.8 1823.9,2209.4 1830.4,2209.8 1836.9,2208.7 1843.3,2208.2 1849.8,2206.9 1856.3,2206.6 1862.5,2205.4 1868.8,2204 1875,2202.5 1884,2196 1891.7,2188 1901,2185 1910.4,2183.7 1922,2174 1928.7,2168.6 1935.4,2163 1942.7,2161.8 1950,2161 1957.6,2161.2 1965.3,2160.7 1972.9,2160.8 1982,2154 1992,2146.3 2003,2142 2014.5,2138 2026,2129 2037.4,2119.2 2047.8,2116.3 2054.5,2116.6 2061.3,2117 2068,2118 2075.2,2119.1 2082.3,2119.2 2089.5,2120.5 2099.9,2118.4 2108,2121.5 2116.5,2124.2 2123.6,2124.8 2130.8,2125.6 2137.9,2127.2 2145,2128 2151.9,2129 2158.8,2129.9 2165.8,2130.2 2172.7,2131.7 2178.9,2132.3 2185.2,2132.8 2191.4,2133.1 2197.7,2133.6 2203.9,2135.4 2210.2,2135 2216.4,2135.9 2222.7,2136.5 2228.9,2137.5 2235.2,2138 2241.2,2138.3 2247.2,2139.6 2253.2,2140.3 2259.2,2141.7 2265.3,2141.5 2271.3,2142.7 2277.3,2143.8 2283.3,2145.1 2289.3,2145.4 2296.6,2145.6 2303.9,2145.8 2311.2,2146.3 2318.5,2146.3" fill="none" stroke="#ffee00" stroke-width="3.2" stroke-linejoin="round" stroke-linecap="round"/>
<polyline points="1332.4,2217 2293,2216 2295.6,2213.7 2300,2197 2303.9,2183.7 2318.5,2183.7" fill="none" stroke="#10e010" stroke-width="2.8" stroke-linejoin="round" stroke-linecap="round"/>
<polyline points="1332.4,2216.9 1700,2216.4 2000,2215.4 2320.5,2215.4" fill="none" stroke="#10e010" stroke-width="2.6" stroke-linejoin="round" stroke-linecap="round"/>
<polyline points="1332.4,2217.3 1350.8,2218 1369.2,2216.5 1387.5,2217.6 1405.9,2216.7 1424.3,2218 1442.7,2216.4 1461.1,2217.7 1479.4,2217.4 1497.8,2217.6 1516.2,2217.8 1534.6,2216.6 1553,2216.7 1571.3,2217.3 1589.7,2216.6 1608.1,2216.5 1626.5,2216.5 1644.9,2217.4 1663.2,2217.4 1681.6,2217.3 1700,2216.8 1718.8,2216.3 1737.5,2217.4 1756.2,2216.6 1775,2216.1 1793.8,2216.4 1812.5,2216.3 1831.2,2215.7 1850,2216.4 1868.8,2216 1887.5,2216.3 1906.2,2216.8 1925,2216.3 1943.8,2215.8 1962.5,2216.5 1981.2,2216.7 2000,2215.8 2018.9,2215.8 2037.7,2216.5 2056.6,2215 2075.4,2215.2 2094.3,2215.3 2113.1,2216.5 2132,2216.1 2150.8,2216.2 2169.7,2215.5 2188.5,2215.8 2207.4,2216.4 2226.2,2215.2 2245.1,2215.2 2263.9,2215.1 2282.8,2215.7 2301.6,2216.3 2320.5,2215.8" fill="none" stroke="#10e8ff" stroke-width="2.8" stroke-linejoin="round" stroke-linecap="round"/>
<polyline points="1332.4,2218.5 1352.8,2218.1 1373.2,2218.6 1393.7,2218.6 1414.1,2218.8 1434.5,2218.1 1454.9,2218.1 1475.4,2218.5 1495.8,2218.4 1516.2,2218.1 1536.6,2218.4 1557,2218.1 1577.5,2218.4 1597.9,2217.8 1618.3,2217.8 1638.7,2218.5 1659.2,2217.9 1679.6,2217.8 1700,2218 1720,2218.2 1740,2218 1760,2217.4 1780,2217.8 1800,2217.8 1820,2217.3 1840,2217.7 1860,2217.1 1880,2217.2 1900,2216.9 1920,2217 1940,2217.7 1960,2217 1980,2217.6 2000,2217 2020,2216.9 2040.1,2217.1 2060.1,2217.4 2080.1,2217.2 2100.2,2216.6 2120.2,2217.1 2140.2,2217.1 2160.2,2216.7 2180.3,2216.6 2200.3,2217.4 2220.3,2217 2240.4,2216.7 2260.4,2217 2280.4,2216.7 2300.5,2217.3 2320.5,2217" fill="none" stroke="#0a3cff" stroke-width="4.2" stroke-linejoin="round" stroke-linecap="round"/>
<text x="35.5" y="104.7" font-size="92" text-anchor="start" font-weight="bold" font-style="italic" fill="#000" stroke="#000" stroke-width="1.8" stroke-linejoin="round">A</text>
<text x="66" y="182.4" font-size="88" text-anchor="start" font-weight="bold" font-style="italic" fill="#000" stroke="#000" stroke-width="1.8" stroke-linejoin="round">a</text>
<line x1="140" y1="159.6" x2="1155.5" y2="159.6" stroke="#000" stroke-width="3.2"/>
<text x="649.5" y="134.7" font-size="45" text-anchor="middle" font-weight="bold" font-style="italic" fill="#000" stroke="#000" stroke-width="0.7" stroke-linejoin="round">Control cells</text>
<text x="1195.5" y="104.7" font-size="92" text-anchor="start" font-weight="bold" font-style="italic" fill="#000" stroke="#000" stroke-width="1.8" stroke-linejoin="round">B</text>
<text x="1264" y="148" font-size="88" text-anchor="start" font-weight="bold" font-style="italic" fill="#000" stroke="#000" stroke-width="1.8" stroke-linejoin="round">a</text>
<line x1="1304" y1="159.6" x2="2326.5" y2="159.6" stroke="#000" stroke-width="3.2"/>
<text x="1815" y="134.2" font-size="45" text-anchor="middle" font-weight="bold" font-style="italic" fill="#000" stroke="#000" stroke-width="0.7" stroke-linejoin="round">Sickle cells</text>
<text x="78" y="612" font-size="88" text-anchor="start" font-weight="bold" font-style="italic" fill="#000" stroke="#000" stroke-width="1.8" stroke-linejoin="round">b</text>
<text x="1264" y="612" font-size="88" text-anchor="start" font-weight="bold" font-style="italic" fill="#000" stroke="#000" stroke-width="1.8" stroke-linejoin="round">b</text>
<text x="159.5" y="1491.7" font-size="44.5" text-anchor="start" font-weight="bold" font-style="italic" fill="#000" stroke="#000" stroke-width="0.7" stroke-linejoin="round">Tyrode</text>
<line x1="158.9" y1="1506.7" x2="1162" y2="1506.7" stroke="#000" stroke-width="3.2"/>
<text x="671" y="1558" font-size="44.5" text-anchor="middle" font-weight="bold" font-style="italic" fill="#000" stroke="#000" stroke-width="0.7" stroke-linejoin="round">5 µM LPA</text>
<line x1="224.6" y1="1575.6" x2="1162" y2="1575.6" stroke="#000" stroke-width="3.2"/>
<text x="1323" y="1490.5" font-size="44.5" text-anchor="start" font-weight="bold" font-style="italic" fill="#000" stroke="#000" stroke-width="0.7" stroke-linejoin="round">Tyrode</text>
<line x1="1320.4" y1="1507" x2="2326.5" y2="1507" stroke="#000" stroke-width="3.2"/>
<text x="1834.6" y="1557.2" font-size="44.5" text-anchor="middle" font-weight="bold" font-style="italic" fill="#000" stroke="#000" stroke-width="0.7" stroke-linejoin="round">5 µM LPA</text>
<line x1="1390.3" y1="1575.5" x2="2326.5" y2="1575.5" stroke="#000" stroke-width="3.2"/>
<text x="194" y="1641.6" font-size="38.5" text-anchor="middle" font-weight="bold" font-style="italic" fill="#000" stroke="#000" stroke-width="0.7" stroke-linejoin="round">1</text>
<text x="385.5" y="1641.6" font-size="38.5" text-anchor="middle" font-weight="bold" font-style="italic" fill="#000" stroke="#000" stroke-width="0.7" stroke-linejoin="round">2</text>
<text x="627.5" y="1641.6" font-size="38.5" text-anchor="middle" font-weight="bold" font-style="italic" fill="#000" stroke="#000" stroke-width="0.7" stroke-linejoin="round">3</text>
<text x="747.5" y="1641.6" font-size="38.5" text-anchor="middle" font-weight="bold" font-style="italic" fill="#000" stroke="#000" stroke-width="0.7" stroke-linejoin="round">4</text>
<text x="1018" y="1641.6" font-size="38.5" text-anchor="middle" font-weight="bold" font-style="italic" fill="#000" stroke="#000" stroke-width="0.7" stroke-linejoin="round">5</text>
<text x="1148.5" y="1641.6" font-size="38.5" text-anchor="middle" font-weight="bold" font-style="italic" fill="#000" stroke="#000" stroke-width="0.7" stroke-linejoin="round">6</text>
<line x1="194" y1="1661" x2="194" y2="2215" stroke="#000" stroke-width="3.4" stroke-dasharray="8.5 2.6"/>
<line x1="389" y1="1663" x2="389" y2="2215" stroke="#000" stroke-width="3.4" stroke-dasharray="8.5 2.6"/>
<line x1="622" y1="1665" x2="622" y2="2215" stroke="#000" stroke-width="3.4" stroke-dasharray="8.5 2.6"/>
<line x1="751" y1="1665" x2="751" y2="2215" stroke="#000" stroke-width="3.4" stroke-dasharray="8.5 2.6"/>
<line x1="1023.5" y1="1669.5" x2="1023.5" y2="2215" stroke="#000" stroke-width="3.4" stroke-dasharray="8.5 2.6"/>
<line x1="1156.7" y1="1665" x2="1156.7" y2="2215" stroke="#000" stroke-width="3.4" stroke-dasharray="8.5 2.6"/>
<text x="1356.5" y="1641" font-size="38.5" text-anchor="middle" font-weight="bold" font-style="italic" fill="#000" stroke="#000" stroke-width="0.7" stroke-linejoin="round">1</text>
<text x="1676.5" y="1641" font-size="38.5" text-anchor="middle" font-weight="bold" font-style="italic" fill="#000" stroke="#000" stroke-width="0.7" stroke-linejoin="round">2</text>
<text x="1855.5" y="1650" font-size="38.5" text-anchor="middle" font-weight="bold" font-style="italic" fill="#000" stroke="#000" stroke-width="0.7" stroke-linejoin="round">3</text>
<text x="1988.2" y="1641.6" font-size="38.5" text-anchor="middle" font-weight="bold" font-style="italic" fill="#000" stroke="#000" stroke-width="0.7" stroke-linejoin="round">4</text>
<text x="2111" y="1641" font-size="38.5" text-anchor="middle" font-weight="bold" font-style="italic" fill="#000" stroke="#000" stroke-width="0.7" stroke-linejoin="round">5</text>
<text x="2310.5" y="1641" font-size="38.5" text-anchor="middle" font-weight="bold" font-style="italic" fill="#000" stroke="#000" stroke-width="0.7" stroke-linejoin="round">6</text>
<line x1="1357.4" y1="1661" x2="1357.4" y2="2215" stroke="#000" stroke-width="3.4" stroke-dasharray="8.5 2.6"/>
<line x1="1680" y1="1663" x2="1680" y2="2215" stroke="#000" stroke-width="3.4" stroke-dasharray="8.5 2.6"/>
<line x1="1858.4" y1="1663" x2="1858.4" y2="2215" stroke="#000" stroke-width="3.4" stroke-dasharray="8.5 2.6"/>
<line x1="1992" y1="1663" x2="1992" y2="2215" stroke="#000" stroke-width="3.4" stroke-dasharray="8.5 2.6"/>
<line x1="2116.5" y1="1665" x2="2116.5" y2="2215" stroke="#000" stroke-width="3.4" stroke-dasharray="8.5 2.6"/>
<line x1="2318.5" y1="1663" x2="2318.5" y2="2215" stroke="#000" stroke-width="3.4" stroke-dasharray="8.5 2.6"/>
<text x="89" y="2140" font-size="44.3" font-weight="bold" font-style="italic" stroke="#000" stroke-width="0.7">F/F<tspan dx="3" dy="17.7" font-size="28">0</tspan></text>
<text x="40" y="2232.6" font-size="42.5" text-anchor="start" font-weight="bold" font-style="italic" fill="#000" stroke="#000" stroke-width="0.7" stroke-linejoin="round">1.0</text>
<line x1="140" y1="2207" x2="140" y2="2233.7" stroke="#000" stroke-width="4"/>
<line x1="172.2" y1="2251.5" x2="235.3" y2="2251.5" stroke="#000" stroke-width="4"/>
<text x="142" y="2324.2" font-size="44.3" text-anchor="start" font-weight="bold" font-style="italic" fill="#000" stroke="#000" stroke-width="0.7" stroke-linejoin="round">1 min</text>
<text x="1263" y="2140" font-size="44.3" font-weight="bold" font-style="italic" stroke="#000" stroke-width="0.7">F/F<tspan dx="3" dy="17.7" font-size="28">0</tspan></text>
<text x="1211" y="2232.6" font-size="42.5" text-anchor="start" font-weight="bold" font-style="italic" fill="#000" stroke="#000" stroke-width="0.7" stroke-linejoin="round">1.0</text>
<line x1="1314" y1="2207" x2="1314" y2="2233.7" stroke="#000" stroke-width="4"/>
<line x1="1346.2" y1="2251.5" x2="1409.3" y2="2251.5" stroke="#000" stroke-width="4"/>
<text x="1316" y="2324.2" font-size="44.3" text-anchor="start" font-weight="bold" font-style="italic" fill="#000" stroke="#000" stroke-width="0.7" stroke-linejoin="round">1 min</text>
<text x="160.5" y="2432.4" font-size="44.5" text-anchor="start" font-weight="bold" font-style="italic" fill="#000" stroke="#000" stroke-width="0.7" stroke-linejoin="round">Tyrode</text>
<line x1="160" y1="2450" x2="1164.6" y2="2450" stroke="#000" stroke-width="3.2"/>
<text x="673" y="2500.5" font-size="44.5" text-anchor="middle" font-weight="bold" font-style="italic" fill="#000" stroke="#000" stroke-width="0.7" stroke-linejoin="round">5 µM LPA</text>
<line x1="228.2" y1="2518.6" x2="1164.6" y2="2518.6" stroke="#000" stroke-width="3.2"/>
<text x="1320.5" y="2432.4" font-size="44.5" text-anchor="start" font-weight="bold" font-style="italic" fill="#000" stroke="#000" stroke-width="0.7" stroke-linejoin="round">Tyrode</text>
<line x1="1320" y1="2450" x2="2326" y2="2450" stroke="#000" stroke-width="3.2"/>
<text x="1833.5" y="2500.5" font-size="44.5" text-anchor="middle" font-weight="bold" font-style="italic" fill="#000" stroke="#000" stroke-width="0.7" stroke-linejoin="round">5 µM LPA</text>
<line x1="1388.2" y1="2518.6" x2="2326" y2="2518.6" stroke="#000" stroke-width="3.2"/>
<text x="63" y="2397.2" font-size="88" text-anchor="start" font-weight="bold" font-style="italic" fill="#000" stroke="#000" stroke-width="1.8" stroke-linejoin="round">c</text>
<text x="1242" y="2388" font-size="88" text-anchor="start" font-weight="bold" font-style="italic" fill="#000" stroke="#000" stroke-width="1.8" stroke-linejoin="round">c</text>
<text x="100.5" y="2924" font-size="44.3" font-weight="bold" font-style="italic" stroke="#000" stroke-width="0.7">F/F<tspan dx="3" dy="17.7" font-size="28">0</tspan></text>
<text x="60" y="3007.6" font-size="42.5" text-anchor="start" font-weight="bold" font-style="italic" fill="#000" stroke="#000" stroke-width="0.7" stroke-linejoin="round">2.0</text>
<line x1="140.3" y1="2983" x2="140.3" y2="3010.5" stroke="#000" stroke-width="4"/>
<line x1="160" y1="3017.6" x2="230.5" y2="3017.6" stroke="#000" stroke-width="4"/>
<text x="139.5" y="3059.3" font-size="44.3" text-anchor="start" font-weight="bold" font-style="italic" fill="#000" stroke="#000" stroke-width="0.7" stroke-linejoin="round">1 min</text>
<text x="1266" y="2923.8" font-size="44.3" font-weight="bold" font-style="italic" stroke="#000" stroke-width="0.7">F/F<tspan dx="3" dy="17.7" font-size="28">0</tspan></text>
<text x="1225" y="3008.5" font-size="42.5" text-anchor="start" font-weight="bold" font-style="italic" fill="#000" stroke="#000" stroke-width="0.7" stroke-linejoin="round">2.0</text>
<line x1="1305" y1="2980.7" x2="1305" y2="3012.7" stroke="#000" stroke-width="4"/>
<line x1="1321.3" y1="3018.8" x2="1391.5" y2="3018.8" stroke="#000" stroke-width="4"/>
<text x="1301.5" y="3059.9" font-size="44.3" text-anchor="start" font-weight="bold" font-style="italic" fill="#000" stroke="#000" stroke-width="0.7" stroke-linejoin="round">1 min</text>
<text x="41" y="3161.9" font-size="88" text-anchor="start" font-weight="bold" font-style="italic" fill="#000" stroke="#000" stroke-width="1.8" stroke-linejoin="round">d</text>
<text x="1229" y="3151.6" font-size="88" text-anchor="start" font-weight="bold" font-style="italic" fill="#000" stroke="#000" stroke-width="1.8" stroke-linejoin="round">d</text>
<line x1="158.2" y1="3155.5" x2="1164.6" y2="3155.5" stroke="#000" stroke-width="3.2"/>
<line x1="1319.4" y1="3155.5" x2="2326" y2="3155.5" stroke="#000" stroke-width="3.2"/>
<text x="697.5" y="3140.5" font-size="44.5" text-anchor="middle" font-weight="bold" font-style="italic" fill="#000" stroke="#000" stroke-width="0.7" stroke-linejoin="round">Tyrode</text>
<text x="1860" y="3141.5" font-size="44.5" text-anchor="middle" font-weight="bold" font-style="italic" fill="#000" stroke="#000" stroke-width="0.7" stroke-linejoin="round">Tyrode</text>
<text x="114" y="3241" font-size="44.3" font-weight="bold" font-style="italic" stroke="#000" stroke-width="0.7">F/F<tspan dx="3" dy="17.7" font-size="28">0</tspan></text>
<text x="73" y="3306.2" font-size="42.5" text-anchor="start" font-weight="bold" font-style="italic" fill="#000" stroke="#000" stroke-width="0.7" stroke-linejoin="round">2.0</text>
<line x1="148" y1="3250" x2="148" y2="3329.8" stroke="#000" stroke-width="4"/>
<line x1="160.5" y1="3331.2" x2="234" y2="3331.2" stroke="#000" stroke-width="4"/>
<text x="151" y="3381.2" font-size="44.3" text-anchor="start" font-weight="bold" font-style="italic" fill="#000" stroke="#000" stroke-width="0.7" stroke-linejoin="round">1 min</text>
<text x="1266" y="3241" font-size="44.3" font-weight="bold" font-style="italic" stroke="#000" stroke-width="0.7">F/F<tspan dx="3" dy="17.7" font-size="28">0</tspan></text>
<text x="1225" y="3306.2" font-size="42.5" text-anchor="start" font-weight="bold" font-style="italic" fill="#000" stroke="#000" stroke-width="0.7" stroke-linejoin="round">2.0</text>
<line x1="1308.3" y1="3250.7" x2="1308.3" y2="3329.8" stroke="#000" stroke-width="4"/>
<line x1="1320.7" y1="3331.2" x2="1393.8" y2="3331.2" stroke="#000" stroke-width="4"/>
<text x="1301.5" y="3381.2" font-size="44.3" text-anchor="start" font-weight="bold" font-style="italic" fill="#000" stroke="#000" stroke-width="0.7" stroke-linejoin="round">1 min</text>
<defs>
<pattern id="hb" width="28" height="23.5" patternUnits="userSpaceOnUse" x="1449" y="3644"><rect width="28" height="23.5" fill="#1428f5"/><path d="M0 11.7H28M14 0V23.5" stroke="#fff" stroke-opacity="0.3" stroke-width="1.6"/><path d="M-28 -23.5L56 47M-28 -47L56 23.5M-28 0L56 70.5" stroke="#000" stroke-width="5"/></pattern>
<pattern id="hg" width="28" height="23.5" patternUnits="userSpaceOnUse" x="1449" y="3644"><rect width="28" height="23.5" fill="#0cf018"/><path d="M0 11.7H28M14 0V23.5" stroke="#fff" stroke-opacity="0.3" stroke-width="1.6"/><path d="M-28 -23.5L56 47M-28 -47L56 23.5M-28 0L56 70.5" stroke="#000" stroke-width="5"/></pattern>
</defs>
<text x="686" y="3529.3" font-size="88" text-anchor="start" font-weight="bold" font-style="italic" fill="#000" stroke="#000" stroke-width="1.8" stroke-linejoin="round">C</text>
<line x1="931.5" y1="3526" x2="931.5" y2="3970.5" stroke="#000" stroke-width="3.4"/>
<line x1="929.8" y1="3968.9" x2="1603.8" y2="3968.9" stroke="#000" stroke-width="3.4"/>
<line x1="926.5" y1="3861.4" x2="931.5" y2="3861.4" stroke="#000" stroke-width="2"/>
<line x1="926.5" y1="3832.2" x2="931.5" y2="3832.2" stroke="#000" stroke-width="2"/>
<line x1="926.5" y1="3805.3" x2="931.5" y2="3805.3" stroke="#000" stroke-width="2"/>
<line x1="926.5" y1="3780.4" x2="931.5" y2="3780.4" stroke="#000" stroke-width="2"/>
<line x1="926.5" y1="3757.3" x2="931.5" y2="3757.3" stroke="#000" stroke-width="2"/>
<line x1="926.5" y1="3735.6" x2="931.5" y2="3735.6" stroke="#000" stroke-width="2"/>
<line x1="926.5" y1="3715.3" x2="931.5" y2="3715.3" stroke="#000" stroke-width="2"/>
<line x1="926.5" y1="3696.1" x2="931.5" y2="3696.1" stroke="#000" stroke-width="2"/>
<line x1="926.5" y1="3677.9" x2="931.5" y2="3677.9" stroke="#000" stroke-width="2"/>
<line x1="926.5" y1="3628.7" x2="931.5" y2="3628.7" stroke="#000" stroke-width="2"/>
<line x1="926.5" y1="3599.5" x2="931.5" y2="3599.5" stroke="#000" stroke-width="2"/>
<line x1="926.5" y1="3572.6" x2="931.5" y2="3572.6" stroke="#000" stroke-width="2"/>
<line x1="926.5" y1="3547.7" x2="931.5" y2="3547.7" stroke="#000" stroke-width="2"/>
<line x1="923" y1="3893.4" x2="931.5" y2="3893.4" stroke="#000" stroke-width="3"/>
<text x="900.5" y="3909.4" font-size="43" text-anchor="end" font-weight="bold" font-style="normal" fill="#000" stroke="#000" stroke-width="0.7" stroke-linejoin="round">1</text>
<line x1="923" y1="3660.7" x2="931.5" y2="3660.7" stroke="#000" stroke-width="3"/>
<text x="900.5" y="3676.7" font-size="43" text-anchor="end" font-weight="bold" font-style="normal" fill="#000" stroke="#000" stroke-width="0.7" stroke-linejoin="round">2</text>
<line x1="923" y1="3524.6" x2="931.5" y2="3524.6" stroke="#000" stroke-width="3"/>
<text x="900.5" y="3540.6" font-size="43" text-anchor="end" font-weight="bold" font-style="normal" fill="#000" stroke="#000" stroke-width="0.7" stroke-linejoin="round">3</text>
<line x1="1022.3" y1="3968.9" x2="1022.3" y2="3977" stroke="#000" stroke-width="3"/>
<line x1="1145.5" y1="3968.9" x2="1145.5" y2="3977" stroke="#000" stroke-width="3"/>
<line x1="1389.5" y1="3968.9" x2="1389.5" y2="3977" stroke="#000" stroke-width="3"/>
<line x1="1513.5" y1="3968.9" x2="1513.5" y2="3977" stroke="#000" stroke-width="3"/>
<rect x="962" y="3848" width="122.5" height="26.5" fill="#0c2cf5" stroke="#000" stroke-width="3.2"/><line x1="962" y1="3860.7" x2="1084.5" y2="3860.7" stroke="#000" stroke-width="3.2"/>
<rect x="1083.5" y="3749" width="123" height="85.5" fill="#0cf018" stroke="#000" stroke-width="3.2"/><line x1="1083.5" y1="3808.3" x2="1206.5" y2="3808.3" stroke="#000" stroke-width="3.2"/>
<rect x="1328.5" y="3832.5" width="123" height="47.5" fill="url(#hb)" stroke="#000" stroke-width="3.2"/><line x1="1328.5" y1="3861.5" x2="1451.5" y2="3861.5" stroke="#000" stroke-width="3.2"/>
<rect x="1451" y="3648" width="122.5" height="178" fill="url(#hg)" stroke="#000" stroke-width="3.2"/><line x1="1451" y1="3755.2" x2="1573.5" y2="3755.2" stroke="#000" stroke-width="3.2"/>
<text x="1020.5" y="3955.3" font-size="45" text-anchor="middle" font-weight="bold" font-style="italic" fill="#000" stroke="#000" stroke-width="0.7" stroke-linejoin="round">276</text>
<text x="1143.5" y="3955.3" font-size="45" text-anchor="middle" font-weight="bold" font-style="italic" fill="#000" stroke="#000" stroke-width="0.7" stroke-linejoin="round">221</text>
<text x="1392" y="3955.3" font-size="45" text-anchor="middle" font-weight="bold" font-style="italic" fill="#000" stroke="#000" stroke-width="0.7" stroke-linejoin="round">694</text>
<text x="1517.5" y="3955.3" font-size="45" text-anchor="middle" font-weight="bold" font-style="italic" fill="#000" stroke="#000" stroke-width="0.7" stroke-linejoin="round">728</text>
<line x1="1019" y1="3710.2" x2="1145" y2="3710.2" stroke="#000" stroke-width="3.2"/>
<text x="1077.4" y="3712" font-size="46.5" text-anchor="middle" font-weight="normal" font-style="normal" fill="#000" stroke="#000" stroke-width="0.3">***</text>
<line x1="1019" y1="3610.7" x2="1390.6" y2="3610.7" stroke="#000" stroke-width="3.2"/>
<text x="1204" y="3598.2" font-size="48.5" text-anchor="middle" font-weight="normal" font-style="normal" fill="#000" stroke="#000" stroke-width="0.3">ns</text>
<line x1="1140.4" y1="3542" x2="1513.5" y2="3542" stroke="#000" stroke-width="3.2"/>
<text x="1293.2" y="3545.5" font-size="46.5" text-anchor="middle" font-weight="normal" font-style="normal" fill="#000" stroke="#000" stroke-width="0.3">***</text>
<line x1="1390.6" y1="3498.7" x2="1517.2" y2="3498.7" stroke="#000" stroke-width="3.2"/>
<text x="1455.4" y="3497.5" font-size="46.5" text-anchor="middle" font-weight="normal" font-style="normal" fill="#000" stroke="#000" stroke-width="0.3">***</text>
<text transform="translate(813.5,3855) rotate(-90)" font-size="45" text-anchor="start" font-weight="bold" font-style="italic" stroke="#000" stroke-width="0.7">F/F<tspan dx="2" dy="15" font-size="27">0</tspan><tspan dy="-15"> , log</tspan><tspan dx="1" dy="15" font-size="27">2</tspan></text>
<text transform="translate(1051.5,3997.8) rotate(-45)" font-size="48.3" text-anchor="end" font-weight="normal" font-style="normal" stroke="#000" stroke-width="1.7">Tyrode</text>
<text transform="translate(1167,3997.8) rotate(-45)" font-size="46.5" text-anchor="end" font-weight="normal" font-style="normal" stroke="#000" stroke-width="1.7">5µM LPA</text>
<text transform="translate(1418.5,3997.8) rotate(-45)" font-size="48.3" text-anchor="end" font-weight="normal" font-style="normal" stroke="#000" stroke-width="1.7">Tyrode</text>
<text transform="translate(1534,3997.8) rotate(-45)" font-size="46.5" text-anchor="end" font-weight="normal" font-style="normal" stroke="#000" stroke-width="1.7">5µM LPA</text>
<text x="1090" y="4180.4" font-size="46.3" text-anchor="middle" font-weight="bold" font-style="normal" fill="#000" stroke="#000" stroke-width="0.7" stroke-linejoin="round">healthy humans</text>
<text x="1090" y="4236" font-size="46.5" text-anchor="middle" font-weight="bold" font-style="normal" fill="#000" stroke="#000" stroke-width="0.7" stroke-linejoin="round">RBCs</text>
<text x="1453" y="4180.4" font-size="46.3" text-anchor="middle" font-weight="bold" font-style="normal" fill="#000" stroke="#000" stroke-width="0.7" stroke-linejoin="round">SCD patients</text>
<text x="1453.5" y="4236" font-size="46.5" text-anchor="middle" font-weight="bold" font-style="normal" fill="#000" stroke="#000" stroke-width="0.7" stroke-linejoin="round">RBCs</text>
</svg>
</body></html>
